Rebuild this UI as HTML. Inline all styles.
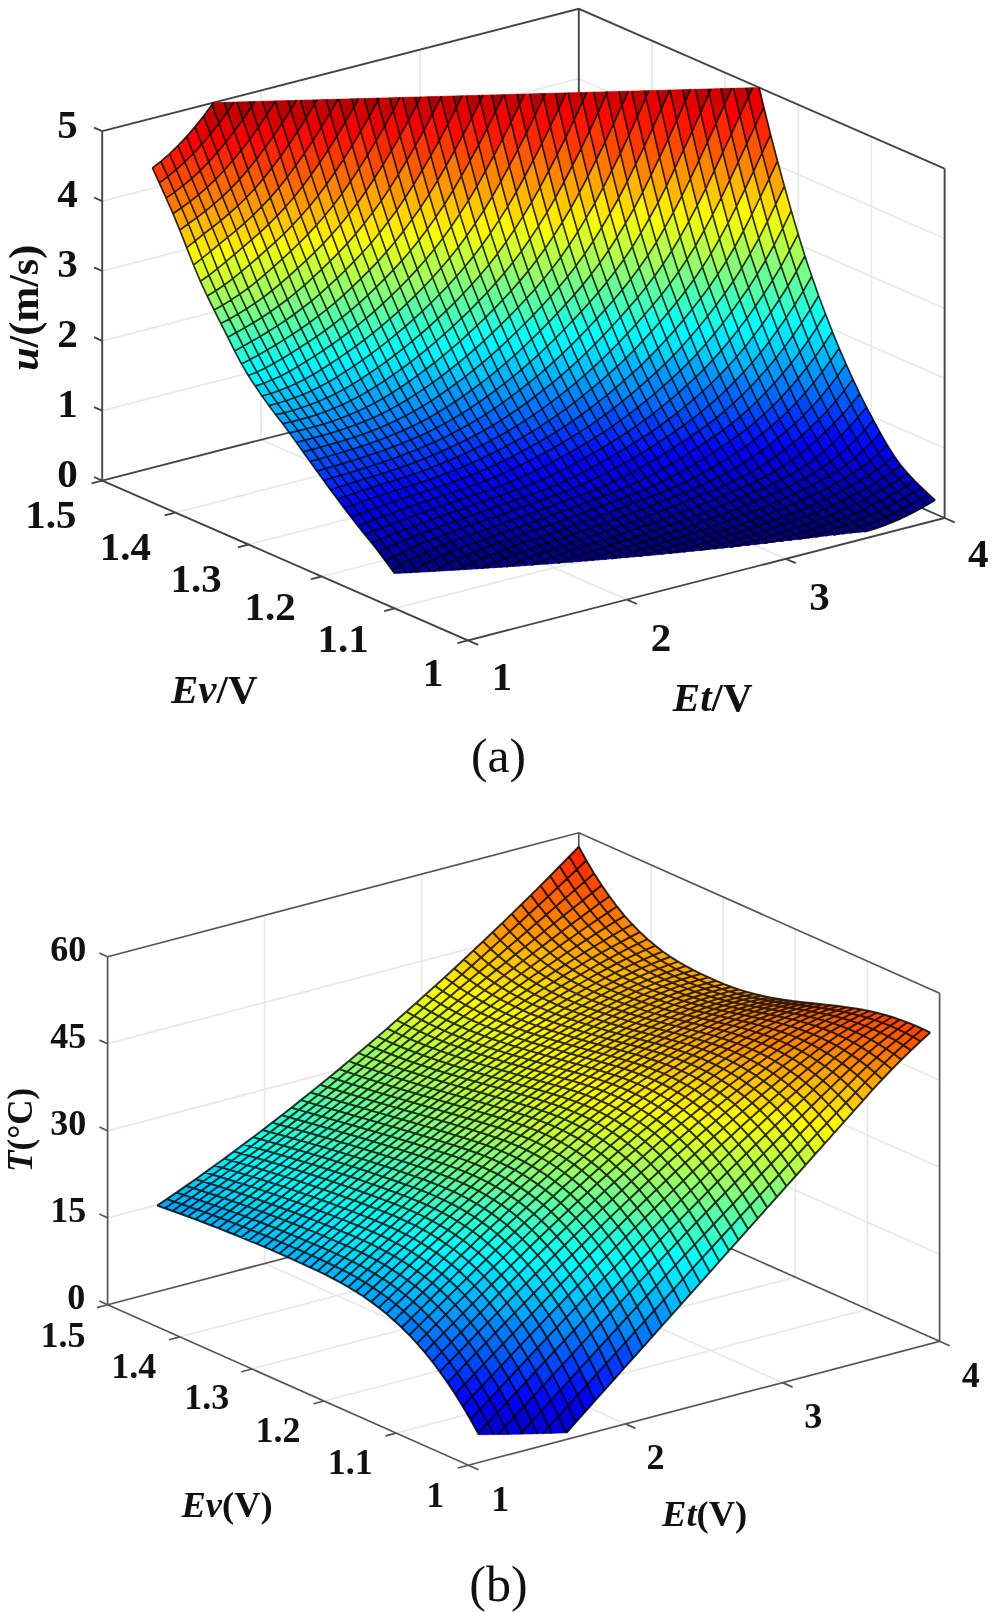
<!DOCTYPE html>
<html lang="en">
<head>
<meta charset="utf-8">
<title>Surface plots of u and T versus Ev and Et</title>
<style>
html,body{margin:0;padding:0;background:#fff;}
body{width:996px;height:1612px;overflow:hidden;}
svg{display:block;filter:blur(0.55px);}
</style>
</head>
<body>
<svg width="996" height="1612" viewBox="0 0 996 1612">
<rect width="996" height="1612" fill="#fff"/>
<g id="plot-a">
<g stroke="#e9e9e9" stroke-width="1.8">
<line x1="626.9" y1="599.6" x2="261.1" y2="439.8" />
<line x1="261.1" y1="439.8" x2="261.1" y2="90.4" />
<line x1="785.7" y1="558.8" x2="419.9" y2="399" />
<line x1="419.9" y1="399" x2="419.9" y2="49.6" />
<line x1="394.8" y1="608.4" x2="871.4" y2="486" />
<line x1="871.4" y1="486" x2="871.4" y2="136.6" />
<line x1="321.7" y1="576.5" x2="798.3" y2="454.1" />
<line x1="798.3" y1="454.1" x2="798.3" y2="104.7" />
<line x1="248.5" y1="544.5" x2="725.1" y2="422.1" />
<line x1="725.1" y1="422.1" x2="725.1" y2="72.7" />
<line x1="175.4" y1="512.6" x2="652" y2="390.2" />
<line x1="652" y1="390.2" x2="652" y2="40.8" />
<line x1="102.2" y1="410.7" x2="578.8" y2="288.3" />
<line x1="578.8" y1="288.3" x2="944.6" y2="448.1" />
<line x1="102.2" y1="340.8" x2="578.8" y2="218.4" />
<line x1="578.8" y1="218.4" x2="944.6" y2="378.2" />
<line x1="102.2" y1="271" x2="578.8" y2="148.6" />
<line x1="578.8" y1="148.6" x2="944.6" y2="308.4" />
<line x1="102.2" y1="201.1" x2="578.8" y2="78.7" />
<line x1="578.8" y1="78.7" x2="944.6" y2="238.5" />
</g>
<g stroke="#444" stroke-width="1.9" stroke-linecap="butt" stroke-linejoin="miter">
<polyline fill="none" points="102.2,131.2 578.8,8.8 944.6,168.6"/>
<polyline fill="none" points="102.2,480.6 578.8,358.2 944.6,518"/>
<line x1="578.8" y1="358.2" x2="578.8" y2="8.8" />
</g>
<g stroke-width="0.6" stroke-linejoin="round">
<path fill="#000087" stroke="#000087" d="M397.6 573.3L396.1 571.2L393.9 572.6L394.6 573.5zM393.9 572.6L396.1 571.2L394.3 568.9L392.2 570.2zM400.6 573.2L399.9 572.2L398.2 573.3zM398.2 573.3L399.9 572.2L398.2 569.9L396.1 571.2L397.6 573.3zM396.1 571.2L398.2 569.9L396.5 567.6L394.3 568.9zM403.7 573L402 570.9L399.9 572.2L400.6 573.2zM399.9 572.2L402 570.9L400.3 568.6L398.2 569.9zM398.2 569.9L400.3 568.6L398.6 566.3L396.5 567.6zM406.7 572.9L405.9 571.8L404 573zM404 573L405.9 571.8L404.2 569.6L402 570.9L403.7 573zM402 570.9L404.2 569.6L402.5 567.3L400.3 568.6zM400.3 568.6L402.5 567.3L400.7 565.1L398.6 566.3zM392.2 570.2L400.7 565.1L393.9 556.2L385.4 560.9zM412.7 572.6L411.9 571.4L409.8 572.7zM415.7 572.4L415.7 572.3L415.6 572.4zM415.6 572.4L415.7 572.3L414 570.2L411.9 571.4L412.7 572.6zM418.8 572.2L417.8 571.1L415.7 572.3L415.7 572.4zM415.7 572.3L417.8 571.1L416.1 568.9L414 570.2zM409.7 572.7L408 570.5L405.9 571.8L406.7 572.9zM405.9 571.8L408 570.5L406.3 568.3L404.2 569.6zM404.2 569.6L406.3 568.3L404.6 566L402.5 567.3zM402.5 567.3L404.6 566L402.9 563.8L400.7 565.1zM409.8 572.7L411.9 571.4L410.1 569.2L408 570.5L409.7 572.7zM408 570.5L410.1 569.2L408.4 567L406.3 568.3zM406.3 568.3L408.4 567L406.7 564.8L404.6 566zM404.6 566L406.7 564.8L405 562.6L402.9 563.8zM411.9 571.4L414 570.2L412.3 568L410.1 569.2zM410.1 569.2L412.3 568L410.6 565.8L408.4 567zM408.4 567L410.6 565.8L408.8 563.6L406.7 564.8zM406.7 564.8L408.8 563.6L407.1 561.5L405 562.6zM414 570.2L416.1 568.9L414.4 566.8L412.3 568zM412.3 568L414.4 566.8L412.7 564.6L410.6 565.8zM410.6 565.8L412.7 564.6L411 562.5L408.8 563.6zM408.8 563.6L411 562.5L409.3 560.3L407.1 561.5zM400.7 565.1L409.3 560.3L402.4 551.9L393.9 556.2zM421.8 572.1L421.7 572L421.5 572.1zM421.5 572.1L421.7 572L420 569.8L417.8 571.1L418.8 572.2zM417.8 571.1L420 569.8L418.3 567.7L416.1 568.9zM424.8 571.9L423.8 570.7L421.7 572L421.8 572.1zM421.7 572L423.8 570.7L422.1 568.6L420 569.8zM420 569.8L422.1 568.6L420.4 566.5L418.3 567.7zM427.8 571.7L427.7 571.6L427.4 571.8zM427.4 571.8L427.7 571.6L425.9 569.5L423.8 570.7L424.8 571.9zM423.8 570.7L425.9 569.5L424.2 567.4L422.1 568.6zM422.1 568.6L424.2 567.4L422.5 565.3L420.4 566.5zM430.8 571.6L429.8 570.4L427.7 571.6L427.8 571.7zM427.7 571.6L429.8 570.4L428.1 568.3L425.9 569.5zM425.9 569.5L428.1 568.3L426.4 566.2L424.2 567.4zM424.2 567.4L426.4 566.2L424.6 564.2L422.5 565.3zM416.1 568.9L424.6 564.2L417.8 556L409.3 560.3zM433.8 571.4L433.6 571.2L433.3 571.4zM436.8 571.2L435.8 570L433.6 571.2L433.8 571.4zM439.8 571.1L439.6 570.9L439.2 571.1zM439.2 571.1L439.6 570.9L437.9 568.9L435.8 570L436.8 571.2zM442.7 570.9L441.7 569.7L439.6 570.9L439.8 571.1zM439.6 570.9L441.7 569.7L440 567.7L437.9 568.9zM433.3 571.4L433.6 571.2L431.9 569.2L429.8 570.4L430.8 571.6zM429.8 570.4L431.9 569.2L430.2 567.1L428.1 568.3zM428.1 568.3L430.2 567.1L428.5 565.1L426.4 566.2zM426.4 566.2L428.5 565.1L426.8 563.1L424.6 564.2zM433.6 571.2L435.8 570L434.1 568L431.9 569.2zM431.9 569.2L434.1 568L432.3 566L430.2 567.1zM430.2 567.1L432.3 566L430.6 564L428.5 565.1zM428.5 565.1L430.6 564L428.9 562L426.8 563.1zM435.8 570L437.9 568.9L436.2 566.9L434.1 568zM434.1 568L436.2 566.9L434.5 564.9L432.3 566zM432.3 566L434.5 564.9L432.8 562.9L430.6 564zM430.6 564L432.8 562.9L431 560.9L428.9 562zM437.9 568.9L440 567.7L438.3 565.8L436.2 566.9zM436.2 566.9L438.3 565.8L436.6 563.8L434.5 564.9zM434.5 564.9L436.6 563.8L434.9 561.8L432.8 562.9zM432.8 562.9L434.9 561.8L433.2 559.8L431 560.9zM424.6 564.2L433.2 559.8L426.3 552L417.8 556zM445.7 570.7L445.6 570.5L445.2 570.7zM445.2 570.7L445.6 570.5L443.9 568.6L441.7 569.7L442.7 570.9zM441.7 569.7L443.9 568.6L442.2 566.6L440 567.7zM448.7 570.5L447.7 569.4L445.6 570.5L445.7 570.7zM445.6 570.5L447.7 569.4L446 567.5L443.9 568.6zM443.9 568.6L446 567.5L444.3 565.5L442.2 566.6zM451.7 570.4L451.6 570.2L451.2 570.4zM451.2 570.4L451.6 570.2L449.8 568.3L447.7 569.4L448.7 570.5zM447.7 569.4L449.8 568.3L448.1 566.4L446 567.5zM446 567.5L448.1 566.4L446.4 564.4L444.3 565.5zM454.7 570.2L453.7 569.1L451.6 570.2L451.7 570.4zM451.6 570.2L453.7 569.1L452 567.2L449.8 568.3zM449.8 568.3L452 567.2L450.3 565.3L448.1 566.4zM448.1 566.4L450.3 565.3L448.6 563.4L446.4 564.4zM440 567.7L448.6 563.4L441.7 555.8L433.2 559.8zM457.7 570L457.5 569.8L457.2 570zM460.6 569.8L459.7 568.8L457.5 569.8L457.7 570zM463.6 569.7L463.5 569.5L463.2 569.7zM463.2 569.7L463.5 569.5L461.8 567.7L459.7 568.8L460.6 569.8zM466.6 569.5L465.6 568.5L463.5 569.5L463.6 569.7zM463.5 569.5L465.6 568.5L463.9 566.6L461.8 567.7zM457.2 570L457.5 569.8L455.8 568L453.7 569.1L454.7 570.2zM453.7 569.1L455.8 568L454.1 566.1L452 567.2zM452 567.2L454.1 566.1L452.4 564.2L450.3 565.3zM450.3 565.3L452.4 564.2L450.7 562.4L448.6 563.4zM457.5 569.8L459.7 568.8L458 566.9L455.8 568zM455.8 568L458 566.9L456.2 565.1L454.1 566.1zM454.1 566.1L456.2 565.1L454.5 563.2L452.4 564.2zM452.4 564.2L454.5 563.2L452.8 561.3L450.7 562.4zM459.7 568.8L461.8 567.7L460.1 565.9L458 566.9zM458 566.9L460.1 565.9L458.4 564L456.2 565.1zM456.2 565.1L458.4 564L456.7 562.2L454.5 563.2zM454.5 563.2L456.7 562.2L455 560.4L452.8 561.3zM461.8 567.7L463.9 566.6L462.2 564.8L460.1 565.9zM460.1 565.9L462.2 564.8L460.5 563L458.4 564zM458.4 564L460.5 563L458.8 561.2L456.7 562.2zM456.7 562.2L458.8 561.2L457.1 559.4L455 560.4zM448.6 563.4L457.1 559.4L450.2 552.1L441.7 555.8zM469.6 569.3L469.5 569.2L469.3 569.3zM469.3 569.3L469.5 569.2L467.8 567.4L465.6 568.5L466.6 569.5zM465.6 568.5L467.8 567.4L466.1 565.6L463.9 566.6zM472.5 569.1L471.6 568.2L469.5 569.2L469.6 569.3zM469.5 569.2L471.6 568.2L469.9 566.4L467.8 567.4zM467.8 567.4L469.9 566.4L468.2 564.6L466.1 565.6zM475.5 568.9L475.5 568.9L475.4 568.9zM475.4 568.9L475.5 568.9L473.8 567.1L471.6 568.2L472.5 569.1zM471.6 568.2L473.8 567.1L472 565.4L469.9 566.4zM469.9 566.4L472 565.4L470.3 563.6L468.2 564.6zM478.4 568.7L477.6 567.9L475.5 568.9L475.5 568.9zM475.5 568.9L477.6 567.9L475.9 566.1L473.8 567.1zM473.8 567.1L475.9 566.1L474.2 564.4L472 565.4zM472 565.4L474.2 564.4L472.5 562.6L470.3 563.6zM463.9 566.6L472.5 562.6L465.6 555.6L457.1 559.4zM484.3 568.3L483.6 567.6L481.5 568.5zM487.3 568.2L485.7 566.6L483.6 567.6L484.3 568.3zM490.2 567.9L489.6 567.3L487.7 568.1zM487.7 568.1L489.6 567.3L487.8 565.6L485.7 566.6L487.3 568.2zM481.4 568.5L479.7 566.9L477.6 567.9L478.4 568.7zM477.6 567.9L479.7 566.9L478 565.1L475.9 566.1zM475.9 566.1L478 565.1L476.3 563.4L474.2 564.4zM474.2 564.4L476.3 563.4L474.6 561.7L472.5 562.6zM481.5 568.5L483.6 567.6L481.9 565.9L479.7 566.9L481.4 568.5zM479.7 566.9L481.9 565.9L480.2 564.2L478 565.1zM478 565.1L480.2 564.2L478.4 562.5L476.3 563.4zM476.3 563.4L478.4 562.5L476.7 560.7L474.6 561.7zM483.6 567.6L485.7 566.6L484 564.9L481.9 565.9zM481.9 565.9L484 564.9L482.3 563.2L480.2 564.2zM480.2 564.2L482.3 563.2L480.6 561.5L478.4 562.5zM478.4 562.5L480.6 561.5L478.9 559.8L476.7 560.7zM485.7 566.6L487.8 565.6L486.1 564L484 564.9zM484 564.9L486.1 564L484.4 562.3L482.3 563.2zM482.3 563.2L484.4 562.3L482.7 560.6L480.6 561.5zM480.6 561.5L482.7 560.6L481 558.9L478.9 559.8zM472.5 562.6L481 558.9L474.1 552.1L465.6 555.6zM493.2 567.8L491.7 566.3L489.6 567.3L490.2 567.9zM489.6 567.3L491.7 566.3L490 564.7L487.8 565.6zM496.1 567.6L495.5 567L494 567.7zM494 567.7L495.5 567L493.8 565.4L491.7 566.3L493.2 567.8zM491.7 566.3L493.8 565.4L492.1 563.7L490 564.7zM499 567.4L497.7 566.1L495.5 567L496.1 567.6zM495.5 567L497.7 566.1L496 564.4L493.8 565.4zM493.8 565.4L496 564.4L494.2 562.8L492.1 563.7zM502 567.2L501.5 566.7L500.2 567.3zM500.2 567.3L501.5 566.7L499.8 565.1L497.7 566.1L499 567.4zM497.7 566.1L499.8 565.1L498.1 563.5L496 564.4zM496 564.4L498.1 563.5L496.4 561.9L494.2 562.8zM487.8 565.6L496.4 561.9L489.5 555.4L481 558.9zM481 558.9L489.5 555.4L482.7 548.8L474.1 552.1zM507.8 566.8L507.5 566.4L506.5 566.9zM510.7 566.6L509.6 565.5L507.5 566.4L507.8 566.8zM513.7 566.4L513.5 566.1L512.8 566.4zM512.8 566.4L513.5 566.1L511.8 564.6L509.6 565.5L510.7 566.6zM504.9 567L503.6 565.8L501.5 566.7L502 567.2zM501.5 566.7L503.6 565.8L501.9 564.2L499.8 565.1zM499.8 565.1L501.9 564.2L500.2 562.6L498.1 563.5zM498.1 563.5L500.2 562.6L498.5 561L496.4 561.9zM506.5 566.9L507.5 566.4L505.8 564.9L503.6 565.8L504.9 567zM503.6 565.8L505.8 564.9L504.1 563.3L501.9 564.2zM501.9 564.2L504.1 563.3L502.3 561.7L500.2 562.6zM500.2 562.6L502.3 561.7L500.6 560.1L498.5 561zM507.5 566.4L509.6 565.5L507.9 564L505.8 564.9zM505.8 564.9L507.9 564L506.2 562.4L504.1 563.3zM504.1 563.3L506.2 562.4L504.5 560.8L502.3 561.7zM502.3 561.7L504.5 560.8L502.8 559.3L500.6 560.1zM509.6 565.5L511.8 564.6L510 563.1L507.9 564zM507.9 564L510 563.1L508.3 561.5L506.2 562.4zM506.2 562.4L508.3 561.5L506.6 560L504.5 560.8zM504.5 560.8L506.6 560L504.9 558.4L502.8 559.3zM496.4 561.9L504.9 558.4L498 552.1L489.5 555.4zM516.6 566.2L515.6 565.3L513.5 566.1L513.7 566.4zM513.5 566.1L515.6 565.3L513.9 563.7L511.8 564.6zM519.6 566L519.4 565.9L519.1 566zM519.1 566L519.4 565.9L517.7 564.4L515.6 565.3L516.6 566.2zM515.6 565.3L517.7 564.4L516 562.9L513.9 563.7zM522.4 565.7L521.6 565L519.4 565.9L519.6 566zM519.4 565.9L521.6 565L519.9 563.5L517.7 564.4zM517.7 564.4L519.9 563.5L518.1 562L516 562.9zM525.4 565.6L525.4 565.6L525.4 565.6zM525.4 565.6L525.4 565.6L523.7 564.1L521.6 565L522.4 565.7zM521.6 565L523.7 564.1L522 562.6L519.9 563.5zM519.9 563.5L522 562.6L520.3 561.2L518.1 562zM511.8 564.6L520.3 561.2L513.4 555.1L504.9 558.4zM504.9 558.4L513.4 555.1L506.6 548.9L498 552.1zM534 564.9L533.5 564.4L531.9 565.1zM537 564.7L535.7 563.6L533.5 564.4L534 564.9zM528.2 565.3L527.5 564.7L525.4 565.6L525.4 565.6zM525.4 565.6L527.5 564.7L525.8 563.3L523.7 564.1zM523.7 564.1L525.8 563.3L524.1 561.8L522 562.6zM522 562.6L524.1 561.8L522.4 560.3L520.3 561.2zM531.2 565.2L529.7 563.9L527.5 564.7L528.2 565.3zM527.5 564.7L529.7 563.9L528 562.4L525.8 563.3zM525.8 563.3L528 562.4L526.3 561L524.1 561.8zM524.1 561.8L526.3 561L524.5 559.5L522.4 560.3zM531.9 565.1L533.5 564.4L531.8 563L529.7 563.9L531.2 565.2zM529.7 563.9L531.8 563L530.1 561.6L528 562.4zM528 562.4L530.1 561.6L528.4 560.1L526.3 561zM526.3 561L528.4 560.1L526.7 558.7L524.5 559.5zM533.5 564.4L535.7 563.6L533.9 562.2L531.8 563zM531.8 563L533.9 562.2L532.2 560.8L530.1 561.6zM530.1 561.6L532.2 560.8L530.5 559.3L528.4 560.1zM528.4 560.1L530.5 559.3L528.8 557.8L526.7 558.7zM520.3 561.2L528.8 557.8L522 551.9L513.4 555.1zM513.4 555.1L522 551.9L515.1 545.8L506.6 548.9zM539.8 564.5L539.5 564.2L538.4 564.6zM538.4 564.6L539.5 564.2L537.8 562.8L535.7 563.6L537 564.7zM542.7 564.3L541.6 563.3L539.5 564.2L539.8 564.5zM539.5 564.2L541.6 563.3L539.9 562L537.8 562.8zM545.7 564.1L545.5 563.9L544.9 564.2zM544.9 564.2L545.5 563.9L543.8 562.5L541.6 563.3L542.7 564.3zM541.6 563.3L543.8 562.5L542.1 561.2L539.9 562zM548.5 563.8L547.6 563.1L545.5 563.9L545.7 564.1zM545.5 563.9L547.6 563.1L545.9 561.7L543.8 562.5zM543.8 562.5L545.9 561.7L544.2 560.3L542.1 561.2zM535.7 563.6L544.2 560.3L537.3 554.7L528.8 557.8zM528.8 557.8L537.3 554.7L530.5 548.8L522 551.9zM560 563L559.6 562.6L557.9 563.2zM551.5 563.7L551.5 563.6L551.3 563.7zM551.3 563.7L551.5 563.6L549.7 562.3L547.6 563.1L548.5 563.8zM547.6 563.1L549.7 562.3L548 560.9L545.9 561.7zM545.9 561.7L548 560.9L546.3 559.6L544.2 560.3zM554.2 563.4L553.6 562.8L551.5 563.6L551.5 563.7zM551.5 563.6L553.6 562.8L551.9 561.5L549.7 562.3zM549.7 562.3L551.9 561.5L550.2 560.1L548 560.9zM548 560.9L550.2 560.1L548.4 558.8L546.3 559.6zM557.3 563.2L555.7 562L553.6 562.8L554.2 563.4zM553.6 562.8L555.7 562L554 560.7L551.9 561.5zM551.9 561.5L554 560.7L552.3 559.4L550.2 560.1zM550.2 560.1L552.3 559.4L550.6 558L548.4 558.8zM557.9 563.2L559.6 562.6L557.9 561.3L555.7 562L557.3 563.2zM555.7 562L557.9 561.3L556.1 559.9L554 560.7zM554 560.7L556.1 559.9L554.4 558.6L552.3 559.4zM552.3 559.4L554.4 558.6L552.7 557.2L550.6 558zM544.2 560.3L552.7 557.2L545.9 551.6L537.3 554.7zM537.3 554.7L545.9 551.6L539 545.8L530.5 548.8zM562.9 562.7L561.7 561.8L559.6 562.6L560 563zM565.8 562.5L565.5 562.3L564.6 562.6zM564.6 562.6L565.5 562.3L563.8 561L561.7 561.8L562.9 562.7zM568.6 562.3L567.7 561.5L565.5 562.3L565.8 562.5zM565.5 562.3L567.7 561.5L566 560.2L563.8 561zM571.6 562.1L571.5 562L571.2 562.1zM571.2 562.1L571.5 562L569.8 560.8L567.7 561.5L568.6 562.3zM567.7 561.5L569.8 560.8L568.1 559.5L566 560.2zM559.6 562.6L568.1 559.5L561.2 554.2L552.7 557.2zM552.7 557.2L561.2 554.2L554.4 548.6L545.9 551.6zM545.9 551.6L554.4 548.6L547.5 542.9L539 545.8zM574.3 561.8L573.7 561.3L571.5 562L571.6 562.1zM571.5 562L573.7 561.3L571.9 560L569.8 560.8zM569.8 560.8L571.9 560L570.2 558.7L568.1 559.5zM577.4 561.7L575.8 560.5L573.7 561.3L574.3 561.8zM573.7 561.3L575.8 560.5L574.1 559.3L571.9 560zM571.9 560L574.1 559.3L572.4 558L570.2 558.7zM580.1 561.4L579.6 561L577.8 561.6zM577.8 561.6L579.6 561L577.9 559.8L575.8 560.5L577.4 561.7zM575.8 560.5L577.9 559.8L576.2 558.5L574.1 559.3zM574.1 559.3L576.2 558.5L574.5 557.2L572.4 558zM583 561.1L581.8 560.3L579.6 561L580.1 561.4zM579.6 561L581.8 560.3L580 559L577.9 559.8zM577.9 559.8L580 559L578.3 557.8L576.2 558.5zM576.2 558.5L578.3 557.8L576.6 556.5L574.5 557.2zM568.1 559.5L576.6 556.5L569.8 551.2L561.2 554.2zM561.2 554.2L569.8 551.2L562.9 545.7L554.4 548.6zM585.8 560.9L585.6 560.7L584.8 561zM588.6 560.7L587.7 560L585.6 560.7L585.8 560.9zM591.7 560.5L591.6 560.4L591.4 560.5zM591.4 560.5L591.6 560.4L589.9 559.3L587.7 560L588.6 560.7zM594.3 560.2L593.7 559.7L591.6 560.4L591.7 560.5zM591.6 560.4L593.7 559.7L592 558.5L589.9 559.3zM584.8 561L585.6 560.7L583.9 559.5L581.8 560.3L583 561.1zM581.8 560.3L583.9 559.5L582.2 558.3L580 559zM580 559L582.2 558.3L580.5 557L578.3 557.8zM578.3 557.8L580.5 557L578.8 555.8L576.6 556.5zM585.6 560.7L587.7 560L586 558.8L583.9 559.5zM583.9 559.5L586 558.8L584.3 557.6L582.2 558.3zM582.2 558.3L584.3 557.6L582.6 556.3L580.5 557zM580.5 557L582.6 556.3L580.9 555.1L578.8 555.8zM587.7 560L589.9 559.3L588.2 558.1L586 558.8zM586 558.8L588.2 558.1L586.4 556.8L584.3 557.6zM584.3 557.6L586.4 556.8L584.7 555.6L582.6 556.3zM582.6 556.3L584.7 555.6L583 554.3L580.9 555.1zM589.9 559.3L592 558.5L590.3 557.3L588.2 558.1zM588.2 558.1L590.3 557.3L588.6 556.1L586.4 556.8zM586.4 556.8L588.6 556.1L586.9 554.9L584.7 555.6zM584.7 555.6L586.9 554.9L585.1 553.6L583 554.3zM576.6 556.5L585.1 553.6L578.3 548.4L569.8 551.2zM569.8 551.2L578.3 548.4L571.4 542.8L562.9 545.7zM597.3 560L595.8 559L593.7 559.7L594.3 560.2zM593.7 559.7L595.8 559L594.1 557.8L592 558.5zM600 559.7L599.7 559.5L598.3 559.9zM598.3 559.9L599.7 559.5L598 558.3L595.8 559L597.3 560zM595.8 559L598 558.3L596.3 557.1L594.1 557.8zM602.8 559.5L601.8 558.8L599.7 559.5L600 559.7zM599.7 559.5L601.8 558.8L600.1 557.6L598 558.3zM598 558.3L600.1 557.6L598.4 556.4L596.3 557.1zM605.8 559.3L605.7 559.2L605.2 559.4zM605.2 559.4L605.7 559.2L604 558L601.8 558.8L602.8 559.5zM601.8 558.8L604 558L602.2 556.9L600.1 557.6zM600.1 557.6L602.2 556.9L600.5 555.7L598.4 556.4zM592 558.5L600.5 555.7L593.7 550.8L585.1 553.6zM585.1 553.6L593.7 550.8L586.8 545.5L578.3 548.4zM578.3 548.4L586.8 545.5L580 540L571.4 542.8zM614.1 558.5L613.8 558.2L612 558.8zM617 558.3L615.9 557.5L613.8 558.2L614.1 558.5zM608.4 559L607.8 558.5L605.7 559.2L605.8 559.3zM605.7 559.2L607.8 558.5L606.1 557.4L604 558zM604 558L606.1 557.4L604.4 556.2L602.2 556.9zM602.2 556.9L604.4 556.2L602.7 555L600.5 555.7zM611.5 558.8L609.9 557.8L607.8 558.5L608.4 559zM607.8 558.5L609.9 557.8L608.2 556.7L606.1 557.4zM606.1 557.4L608.2 556.7L606.5 555.5L604.4 556.2zM604.4 556.2L606.5 555.5L604.8 554.3L602.7 555zM612 558.8L613.8 558.2L612.1 557.1L609.9 557.8L611.5 558.8zM609.9 557.8L612.1 557.1L610.4 556L608.2 556.7zM608.2 556.7L610.4 556L608.6 554.8L606.5 555.5zM606.5 555.5L608.6 554.8L606.9 553.6L604.8 554.3zM613.8 558.2L615.9 557.5L614.2 556.4L612.1 557.1zM612.1 557.1L614.2 556.4L612.5 555.3L610.4 556zM610.4 556L612.5 555.3L610.8 554.1L608.6 554.8zM608.6 554.8L610.8 554.1L609.1 552.9L606.9 553.6zM600.5 555.7L609.1 552.9L602.2 548L593.7 550.8zM593.7 550.8L602.2 548L595.4 542.7L586.8 545.5zM619.9 558.1L619.8 557.9L619.2 558.1zM619.2 558.1L619.8 557.9L618 556.8L615.9 557.5L617 558.3zM622.5 557.7L621.9 557.3L619.8 557.9L619.9 558.1zM619.8 557.9L621.9 557.3L620.2 556.2L618 556.8zM625.7 557.6L624 556.6L621.9 557.3L622.5 557.7zM621.9 557.3L624 556.6L622.3 555.5L620.2 556.2zM628.2 557.3L627.9 557L625.9 557.6zM625.9 557.6L627.9 557L626.1 555.9L624 556.6L625.7 557.6zM624 556.6L626.1 555.9L624.4 554.8L622.3 555.5zM615.9 557.5L624.4 554.8L617.6 550.2L609.1 552.9zM609.1 552.9L617.6 550.2L610.7 545.2L602.2 548zM602.2 548L610.7 545.2L603.9 539.8L595.4 542.7zM631 557L630 556.3L627.9 557L628.2 557.3zM627.9 557L630 556.3L628.3 555.2L626.1 555.9zM626.1 555.9L628.3 555.2L626.6 554.1L624.4 554.8zM634 556.8L633.8 556.7L633.3 556.9zM633.3 556.9L633.8 556.7L632.1 555.7L630 556.3L631 557zM630 556.3L632.1 555.7L630.4 554.6L628.3 555.2zM628.3 555.2L630.4 554.6L628.7 553.5L626.6 554.1zM636.6 556.5L636 556L633.8 556.7L634 556.8zM633.8 556.7L636 556L634.3 555L632.1 555.7zM632.1 555.7L634.3 555L632.5 553.9L630.4 554.6zM630.4 554.6L632.5 553.9L630.8 552.8L628.7 553.5zM639.7 556.3L638.1 555.4L636 556L636.6 556.5zM636 556L638.1 555.4L636.4 554.3L634.3 555zM634.3 555L636.4 554.3L634.7 553.2L632.5 553.9zM632.5 553.9L634.7 553.2L633 552.1L630.8 552.8zM624.4 554.8L633 552.1L626.1 547.4L617.6 550.2zM617.6 550.2L626.1 547.4L619.3 542.4L610.7 545.2zM610.7 545.2L619.3 542.4L612.4 537L603.9 539.8zM642.2 556L641.9 555.8L640.2 556.3zM645 555.7L644.1 555.1L641.9 555.8L642.2 556zM648 555.6L647.9 555.5L647.6 555.6zM647.6 555.6L647.9 555.5L646.2 554.5L644.1 555.1L645 555.7zM650.5 555.2L650.1 554.8L647.9 555.5L648 555.6zM647.9 555.5L650.1 554.8L648.3 553.8L646.2 554.5zM640.2 556.3L641.9 555.8L640.2 554.7L638.1 555.4L639.7 556.3zM638.1 555.4L640.2 554.7L638.5 553.7L636.4 554.3zM636.4 554.3L638.5 553.7L636.8 552.6L634.7 553.2zM634.7 553.2L636.8 552.6L635.1 551.5L633 552.1zM641.9 555.8L644.1 555.1L642.4 554.1L640.2 554.7zM640.2 554.7L642.4 554.1L640.7 553L638.5 553.7zM638.5 553.7L640.7 553L638.9 551.9L636.8 552.6zM636.8 552.6L638.9 551.9L637.2 550.8L635.1 551.5zM644.1 555.1L646.2 554.5L644.5 553.4L642.4 554.1zM642.4 554.1L644.5 553.4L642.8 552.4L640.7 553zM640.7 553L642.8 552.4L641.1 551.3L638.9 551.9zM638.9 551.9L641.1 551.3L639.4 550.1L637.2 550.8zM646.2 554.5L648.3 553.8L646.6 552.8L644.5 553.4zM644.5 553.4L646.6 552.8L644.9 551.7L642.8 552.4zM642.8 552.4L644.9 551.7L643.2 550.6L641.1 551.3zM641.1 551.3L643.2 550.6L641.5 549.5L639.4 550.1zM633 552.1L641.5 549.5L634.6 544.7L626.1 547.4zM626.1 547.4L634.6 544.7L627.8 539.6L619.3 542.4zM619.3 542.4L627.8 539.6L620.9 534.1L612.4 537zM653.5 555L652.2 554.2L650.1 554.8L650.5 555.2zM650.1 554.8L652.2 554.2L650.5 553.2L648.3 553.8zM656.2 554.7L656 554.6L655 554.9zM655 554.9L656 554.6L654.3 553.6L652.2 554.2L653.5 555zM652.2 554.2L654.3 553.6L652.6 552.5L650.5 553.2zM658.8 554.4L658.2 553.9L656 554.6L656.2 554.7zM656 554.6L658.2 553.9L656.5 552.9L654.3 553.6zM654.3 553.6L656.5 552.9L654.7 551.9L652.6 552.5zM662 554.3L662 554.3L661.9 554.3zM661.9 554.3L662 554.3L660.3 553.3L658.2 553.9L658.8 554.4zM658.2 553.9L660.3 553.3L658.6 552.3L656.5 552.9zM656.5 552.9L658.6 552.3L656.9 551.2L654.7 551.9zM648.3 553.8L656.9 551.2L650 546.8L641.5 549.5zM641.5 549.5L650 546.8L643.2 542L634.6 544.7zM634.6 544.7L643.2 542L636.3 536.7L627.8 539.6zM670.2 553.4L670.1 553.3L669.7 553.5zM672.7 553L672.3 552.7L670.1 553.3L670.2 553.4zM664.5 553.9L664.1 553.6L662 554.3L662 554.3zM662 554.3L664.1 553.6L662.4 552.7L660.3 553.3zM660.3 553.3L662.4 552.7L660.7 551.6L658.6 552.3zM658.6 552.3L660.7 551.6L659 550.6L656.9 551.2zM667.2 553.6L666.3 553L664.1 553.6L664.5 553.9zM664.1 553.6L666.3 553L664.6 552L662.4 552.7zM662.4 552.7L664.6 552L662.8 551L660.7 551.6zM660.7 551.6L662.8 551L661.1 550L659 550.6zM669.7 553.5L670.1 553.3L668.4 552.4L666.3 553L667.2 553.6zM666.3 553L668.4 552.4L666.7 551.4L664.6 552zM664.6 552L666.7 551.4L665 550.4L662.8 551zM662.8 551L665 550.4L663.3 549.3L661.1 550zM670.1 553.3L672.3 552.7L670.5 551.8L668.4 552.4zM668.4 552.4L670.5 551.8L668.8 550.8L666.7 551.4zM666.7 551.4L668.8 550.8L667.1 549.7L665 550.4zM665 550.4L667.1 549.7L665.4 548.7L663.3 549.3zM656.9 551.2L665.4 548.7L658.5 544.1L650 546.8zM650 546.8L658.5 544.1L651.7 539.2L643.2 542zM643.2 542L651.7 539.2L644.8 533.9L636.3 536.7zM675.7 552.9L674.4 552.1L672.3 552.7L672.7 553zM678.4 552.6L678.2 552.4L677.2 552.8zM677.2 552.8L678.2 552.4L676.5 551.5L674.4 552.1L675.7 552.9zM680.9 552.2L680.4 551.8L678.2 552.4L678.4 552.6zM678.2 552.4L680.4 551.8L678.6 550.9L676.5 551.5zM684.2 552.1L684.2 552.1L684.2 552.1zM684.2 552.1L684.2 552.1L682.5 551.2L680.4 551.8L680.9 552.2zM680.4 551.8L682.5 551.2L680.8 550.2L678.6 550.9zM672.3 552.7L680.8 550.2L673.9 546.1L665.4 548.7zM665.4 548.7L673.9 546.1L667.1 541.4L658.5 544.1zM658.5 544.1L667.1 541.4L660.2 536.4L651.7 539.2zM651.7 539.2L660.2 536.4L653.4 530.9L644.8 533.9zM686.6 551.7L686.3 551.5L684.2 552.1L684.2 552.1zM684.2 552.1L686.3 551.5L684.6 550.6L682.5 551.2zM682.5 551.2L684.6 550.6L682.9 549.6L680.8 550.2zM689.2 551.4L688.5 550.9L686.3 551.5L686.6 551.7zM686.3 551.5L688.5 550.9L686.8 550L684.6 550.6zM684.6 550.6L686.8 550L685 549L682.9 549.6zM692.4 551.3L692.3 551.2L692.1 551.3zM692.1 551.3L692.3 551.2L690.6 550.3L688.5 550.9L689.2 551.4zM688.5 550.9L690.6 550.3L688.9 549.4L686.8 550zM686.8 550L688.9 549.4L687.2 548.4L685 549zM694.7 550.8L694.4 550.6L692.3 551.2L692.4 551.3zM692.3 551.2L694.4 550.6L692.7 549.7L690.6 550.3zM690.6 550.3L692.7 549.7L691 548.7L688.9 549.4zM688.9 549.4L691 548.7L689.3 547.7L687.2 548.4zM680.8 550.2L689.3 547.7L682.5 543.4L673.9 546.1zM673.9 546.1L682.5 543.4L675.6 538.7L667.1 541.4zM667.1 541.4L675.6 538.7L668.8 533.5L660.2 536.4zM660.2 536.4L668.8 533.5L661.9 528L653.4 530.9zM700.5 550.4L700.4 550.3L700 550.5zM702.9 550L702.6 549.7L700.4 550.3L700.5 550.4zM705.8 549.8L704.7 549.1L702.6 549.7L702.9 550zM697.5 550.6L696.6 550L694.4 550.6L694.7 550.8zM694.4 550.6L696.6 550L694.9 549.1L692.7 549.7zM692.7 549.7L694.9 549.1L693.2 548.1L691 548.7zM691 548.7L693.2 548.1L691.4 547.1L689.3 547.7zM700 550.5L700.4 550.3L698.7 549.4L696.6 550L697.5 550.6zM696.6 550L698.7 549.4L697 548.5L694.9 549.1zM694.9 549.1L697 548.5L695.3 547.5L693.2 548.1zM693.2 548.1L695.3 547.5L693.6 546.5L691.4 547.1zM700.4 550.3L702.6 549.7L700.8 548.8L698.7 549.4zM698.7 549.4L700.8 548.8L699.1 547.9L697 548.5zM697 548.5L699.1 547.9L697.4 546.9L695.3 547.5zM695.3 547.5L697.4 546.9L695.7 545.8L693.6 546.5zM702.6 549.7L704.7 549.1L703 548.2L700.8 548.8zM700.8 548.8L703 548.2L701.3 547.2L699.1 547.9zM699.1 547.9L701.3 547.2L699.5 546.2L697.4 546.9zM697.4 546.9L699.5 546.2L697.8 545.2L695.7 545.8zM689.3 547.7L697.8 545.2L691 540.8L682.5 543.4zM682.5 543.4L691 540.8L684.1 535.9L675.6 538.7zM675.6 538.7L684.1 535.9L677.3 530.6L668.8 533.5zM708.6 549.5L708.5 549.4L707.8 549.6zM707.8 549.6L708.5 549.4L706.8 548.5L704.7 549.1L705.8 549.8zM711.1 549.1L710.7 548.8L708.5 549.4L708.6 549.5zM708.5 549.4L710.7 548.8L709 547.9L706.8 548.5zM714.2 549L712.8 548.2L710.7 548.8L711.1 549.1zM710.7 548.8L712.8 548.2L711.1 547.3L709 547.9zM716.8 548.6L716.6 548.5L715.5 548.9zM715.5 548.9L716.6 548.5L714.9 547.6L712.8 548.2L714.2 549zM712.8 548.2L714.9 547.6L713.2 546.7L711.1 547.3zM704.7 549.1L713.2 546.7L706.4 542.6L697.8 545.2zM697.8 545.2L706.4 542.6L699.5 538.1L691 540.8zM691 540.8L699.5 538.1L692.7 533.1L684.1 535.9zM684.1 535.9L692.7 533.1L685.8 527.7L677.3 530.6zM719.2 548.2L718.8 547.9L716.6 548.5L716.8 548.6zM716.6 548.5L718.8 547.9L717.1 547L714.9 547.6zM714.9 547.6L717.1 547L715.3 546.1L713.2 546.7zM722.5 548.2L720.9 547.3L718.8 547.9L719.2 548.2zM718.8 547.9L720.9 547.3L719.2 546.4L717.1 547zM717.1 547L719.2 546.4L717.5 545.5L715.3 546.1zM724.9 547.7L724.8 547.6L722.9 548.1zM722.9 548.1L724.8 547.6L723 546.7L720.9 547.3L722.5 548.2zM720.9 547.3L723 546.7L721.3 545.8L719.2 546.4zM719.2 546.4L721.3 545.8L719.6 544.9L717.5 545.5zM727.3 547.3L726.9 547L724.8 547.6L724.9 547.7zM724.8 547.6L726.9 547L725.2 546.1L723 546.7zM723 546.7L725.2 546.1L723.5 545.2L721.3 545.8zM721.3 545.8L723.5 545.2L721.7 544.3L719.6 544.9zM713.2 546.7L721.7 544.3L714.9 540L706.4 542.6zM706.4 542.6L714.9 540L708 535.3L699.5 538.1zM699.5 538.1L708 535.3L701.2 530.2L692.7 533.1zM692.7 533.1L701.2 530.2L694.3 524.6L685.8 527.7zM730.7 547.3L730.7 547.3L730.7 547.3zM733 546.8L732.9 546.7L730.7 547.3L730.7 547.3zM735.4 546.4L735 546.2L732.9 546.7L733 546.8zM738.8 546.4L738.8 546.4L738.8 546.4zM738.8 546.4L738.8 546.4L737.1 545.6L735 546.2L735.4 546.4zM730.7 547.3L730.7 547.3L729 546.5L726.9 547L727.3 547.3zM726.9 547L729 546.5L727.3 545.5L725.2 546.1zM725.2 546.1L727.3 545.5L725.6 544.6L723.5 545.2zM723.5 545.2L725.6 544.6L723.9 543.6L721.7 544.3zM730.7 547.3L732.9 546.7L731.1 545.9L729 546.5zM729 546.5L731.1 545.9L729.4 544.9L727.3 545.5zM727.3 545.5L729.4 544.9L727.7 544L725.6 544.6zM725.6 544.6L727.7 544L726 543L723.9 543.6zM732.9 546.7L735 546.2L733.3 545.3L731.1 545.9zM731.1 545.9L733.3 545.3L731.6 544.3L729.4 544.9zM729.4 544.9L731.6 544.3L729.9 543.4L727.7 544zM727.7 544L729.9 543.4L728.1 542.4L726 543zM735 546.2L737.1 545.6L735.4 544.7L733.3 545.3zM733.3 545.3L735.4 544.7L733.7 543.7L731.6 544.3zM731.6 544.3L733.7 543.7L732 542.8L729.9 543.4zM729.9 543.4L732 542.8L730.3 541.8L728.1 542.4zM721.7 544.3L730.3 541.8L723.4 537.4L714.9 540zM714.9 540L723.4 537.4L716.6 532.5L708 535.3zM708 535.3L716.6 532.5L709.7 527.2L701.2 530.2zM741.1 545.9L741 545.8L738.8 546.4L738.8 546.4zM738.8 546.4L741 545.8L739.3 545L737.1 545.6zM743.5 545.5L743.1 545.3L741 545.8L741.1 545.9zM741 545.8L743.1 545.3L741.4 544.4L739.3 545zM746.9 545.5L746.9 545.5L746.9 545.5zM746.9 545.5L746.9 545.5L745.2 544.7L743.1 545.3L743.5 545.5zM743.1 545.3L745.2 544.7L743.5 543.8L741.4 544.4zM749.2 545L749.1 545L746.9 545.5L746.9 545.5zM746.9 545.5L749.1 545L747.4 544.1L745.2 544.7zM745.2 544.7L747.4 544.1L745.7 543.2L743.5 543.8zM737.1 545.6L745.7 543.2L738.8 539.2L730.3 541.8zM730.3 541.8L738.8 539.2L731.9 534.7L723.4 537.4zM723.4 537.4L731.9 534.7L725.1 529.7L716.6 532.5zM716.6 532.5L725.1 529.7L718.2 524.2L709.7 527.2zM751.6 544.6L751.2 544.4L749.1 545L749.2 545zM749.1 545L751.2 544.4L749.5 543.5L747.4 544.1zM747.4 544.1L749.5 543.5L747.8 542.6L745.7 543.2zM755 544.6L753.3 543.8L751.2 544.4L751.6 544.6zM751.2 544.4L753.3 543.8L751.6 542.9L749.5 543.5zM749.5 543.5L751.6 542.9L749.9 542L747.8 542.6zM757.3 544.1L757.2 544.1L755.4 544.5zM755.4 544.5L757.2 544.1L755.5 543.2L753.3 543.8L755 544.6zM753.3 543.8L755.5 543.2L753.8 542.3L751.6 542.9zM751.6 542.9L753.8 542.3L752 541.4L749.9 542zM759.7 543.7L759.3 543.5L757.2 544.1L757.3 544.1zM757.2 544.1L759.3 543.5L757.6 542.6L755.5 543.2zM755.5 543.2L757.6 542.6L755.9 541.7L753.8 542.3zM753.8 542.3L755.9 541.7L754.2 540.8L752 541.4zM745.7 543.2L754.2 540.8L747.3 536.6L738.8 539.2zM738.8 539.2L747.3 536.6L740.5 531.9L731.9 534.7zM731.9 534.7L740.5 531.9L733.6 526.7L725.1 529.7zM725.1 529.7L733.6 526.7L726.8 521.2L718.2 524.2zM765.4 543.2L765.3 543.2L764.4 543.4zM767.7 542.8L767.4 542.6L765.3 543.2L765.4 543.2zM770.5 542.5L769.6 542L767.4 542.6L767.7 542.8zM762.8 543.6L761.4 542.9L759.3 543.5L759.7 543.7zM759.3 543.5L761.4 542.9L759.7 542L757.6 542.6zM757.6 542.6L759.7 542L758 541.1L755.9 541.7zM755.9 541.7L758 541.1L756.3 540.1L754.2 540.8zM764.4 543.4L765.3 543.2L763.6 542.3L761.4 542.9L762.8 543.6zM761.4 542.9L763.6 542.3L761.9 541.4L759.7 542zM759.7 542L761.9 541.4L760.2 540.5L758 541.1zM758 541.1L760.2 540.5L758.4 539.5L756.3 540.1zM765.3 543.2L767.4 542.6L765.7 541.7L763.6 542.3zM763.6 542.3L765.7 541.7L764 540.8L761.9 541.4zM761.9 541.4L764 540.8L762.3 539.9L760.2 540.5zM760.2 540.5L762.3 539.9L760.6 538.9L758.4 539.5zM767.4 542.6L769.6 542L767.8 541.1L765.7 541.7zM765.7 541.7L767.8 541.1L766.1 540.2L764 540.8zM764 540.8L766.1 540.2L764.4 539.3L762.3 539.9zM762.3 539.9L764.4 539.3L762.7 538.3L760.6 538.9zM754.2 540.8L762.7 538.3L755.9 533.9L747.3 536.6zM747.3 536.6L755.9 533.9L749 529.1L740.5 531.9zM740.5 531.9L749 529.1L742.2 523.7L733.6 526.7zM773.5 542.3L773.4 542.3L772.9 542.4zM772.9 542.4L773.4 542.3L771.7 541.4L769.6 542L770.5 542.5zM775.8 541.8L775.5 541.7L773.4 542.3L773.5 542.3zM773.4 542.3L775.5 541.7L773.8 540.8L771.7 541.4zM778.4 541.5L777.7 541.1L775.5 541.7L775.8 541.8zM775.5 541.7L777.7 541.1L776 540.2L773.8 540.8zM781.5 541.4L781.5 541.4L781.3 541.5zM781.3 541.5L781.5 541.4L779.8 540.5L777.7 541.1L778.4 541.5zM777.7 541.1L779.8 540.5L778.1 539.7L776 540.2zM769.6 542L778.1 539.7L771.2 535.7L762.7 538.3zM762.7 538.3L771.2 535.7L764.4 531.2L755.9 533.9zM755.9 533.9L764.4 531.2L757.5 526.1L749 529.1zM749 529.1L757.5 526.1L750.7 520.7L742.2 523.7zM783.8 540.9L783.6 540.8L781.5 541.4L781.5 541.4zM781.5 541.4L783.6 540.8L781.9 540L779.8 540.5zM779.8 540.5L781.9 540L780.2 539.1L778.1 539.7zM786.3 540.5L785.8 540.2L783.6 540.8L783.8 540.9zM783.6 540.8L785.8 540.2L784.1 539.4L781.9 540zM781.9 540L784.1 539.4L782.4 538.4L780.2 539.1zM789.6 540.5L789.6 540.5L789.6 540.5zM789.6 540.5L789.6 540.5L787.9 539.7L785.8 540.2L786.3 540.5zM785.8 540.2L787.9 539.7L786.2 538.8L784.1 539.4zM784.1 539.4L786.2 538.8L784.5 537.8L782.4 538.4zM791.9 540L791.8 539.9L789.6 540.5L789.6 540.5zM789.6 540.5L791.8 539.9L790 539.1L787.9 539.7zM787.9 539.7L790 539.1L788.3 538.2L786.2 538.8zM786.2 538.8L788.3 538.2L786.6 537.2L784.5 537.8zM778.1 539.7L786.6 537.2L779.8 533.1L771.2 535.7zM771.2 535.7L779.8 533.1L772.9 528.3L764.4 531.2zM764.4 531.2L772.9 528.3L766.1 523.1L757.5 526.1zM757.5 526.1L766.1 523.1L759.2 517.5L750.7 520.7zM799.9 539.1L799.9 539L798.8 539.3zM802.3 538.6L802 538.5L799.9 539L799.9 539.1zM794.3 539.6L793.9 539.4L791.8 539.9L791.9 540zM791.8 539.9L793.9 539.4L792.2 538.5L790 539.1zM790 539.1L792.2 538.5L790.5 537.6L788.3 538.2zM788.3 538.2L790.5 537.6L788.7 536.6L786.6 537.2zM797.4 539.5L796 538.8L793.9 539.4L794.3 539.6zM793.9 539.4L796 538.8L794.3 537.9L792.2 538.5zM792.2 538.5L794.3 537.9L792.6 536.9L790.5 537.6zM790.5 537.6L792.6 536.9L790.9 536L788.7 536.6zM798.8 539.3L799.9 539L798.1 538.2L796 538.8L797.4 539.5zM796 538.8L798.1 538.2L796.4 537.3L794.3 537.9zM794.3 537.9L796.4 537.3L794.7 536.3L792.6 536.9zM792.6 536.9L794.7 536.3L793 535.3L790.9 536zM799.9 539L802 538.5L800.3 537.6L798.1 538.2zM798.1 538.2L800.3 537.6L798.6 536.7L796.4 537.3zM796.4 537.3L798.6 536.7L796.9 535.7L794.7 536.3zM794.7 536.3L796.9 535.7L795.1 534.7L793 535.3zM786.6 537.2L795.1 534.7L788.3 530.3L779.8 533.1zM779.8 533.1L788.3 530.3L781.4 525.4L772.9 528.3zM772.9 528.3L781.4 525.4L774.6 520.1L766.1 523.1zM804.9 538.3L804.1 537.9L802 538.5L802.3 538.6zM808 538.2L808 538.2L807.7 538.2zM807.7 538.2L808 538.2L806.3 537.3L804.1 537.9L804.9 538.3zM810.3 537.7L810.1 537.6L808 538.2L808 538.2zM808 538.2L810.1 537.6L808.4 536.7L806.3 537.3zM812.8 537.3L812.2 537L810.1 537.6L810.3 537.7zM810.1 537.6L812.2 537L810.5 536.1L808.4 536.7zM802 538.5L810.5 536.1L803.7 532.1L795.1 534.7zM795.1 534.7L803.7 532.1L796.8 527.5L788.3 530.3zM788.3 530.3L796.8 527.5L790 522.4L781.4 525.4zM781.4 525.4L790 522.4L783.1 516.9L774.6 520.1zM816.1 537.3L816.1 537.3L816.1 537.3zM816.1 537.3L816.1 537.3L814.4 536.4L812.2 537L812.8 537.3zM812.2 537L814.4 536.4L812.7 535.5L810.5 536.1zM818.3 536.8L818.2 536.7L816.1 537.3L816.1 537.3zM816.1 537.3L818.2 536.7L816.5 535.8L814.4 536.4zM814.4 536.4L816.5 535.8L814.8 534.9L812.7 535.5zM820.7 536.3L820.3 536.1L818.2 536.7L818.3 536.8zM818.2 536.7L820.3 536.1L818.6 535.2L816.5 535.8zM816.5 535.8L818.6 535.2L816.9 534.3L814.8 534.9zM823.5 536.1L822.5 535.5L820.3 536.1L820.7 536.3zM820.3 536.1L822.5 535.5L820.8 534.6L818.6 535.2zM818.6 535.2L820.8 534.6L819.1 533.6L816.9 534.3zM810.5 536.1L819.1 533.6L812.2 529.4L803.7 532.1zM803.7 532.1L812.2 529.4L805.3 524.6L796.8 527.5zM796.8 527.5L805.3 524.6L798.5 519.3L790 522.4zM790 522.4L798.5 519.3L791.6 513.6L783.1 516.9zM834.5 535L834.4 534.9L834.2 535zM826.4 535.9L826.3 535.8L825.8 536zM825.8 536L826.3 535.8L824.6 534.9L822.5 535.5L823.5 536.1zM822.5 535.5L824.6 534.9L822.9 534L820.8 534.6zM820.8 534.6L822.9 534L821.2 533L819.1 533.6zM828.7 535.4L828.5 535.2L826.3 535.8L826.4 535.9zM826.3 535.8L828.5 535.2L826.7 534.3L824.6 534.9zM824.6 534.9L826.7 534.3L825 533.4L822.9 534zM822.9 534L825 533.4L823.3 532.4L821.2 533zM831.4 535.1L830.6 534.6L828.5 535.2L828.7 535.4zM828.5 535.2L830.6 534.6L828.9 533.7L826.7 534.3zM826.7 534.3L828.9 533.7L827.2 532.7L825 533.4zM825 533.4L827.2 532.7L825.4 531.7L823.3 532.4zM834.2 535L834.4 534.9L832.7 534L830.6 534.6L831.4 535.1zM830.6 534.6L832.7 534L831 533.1L828.9 533.7zM828.9 533.7L831 533.1L829.3 532.1L827.2 532.7zM827.2 532.7L829.3 532.1L827.6 531.1L825.4 531.7zM819.1 533.6L827.6 531.1L820.7 526.6L812.2 529.4zM812.2 529.4L820.7 526.6L813.9 521.5L805.3 524.6zM805.3 524.6L813.9 521.5L807 516.1L798.5 519.3zM836.8 534.5L836.6 534.3L834.4 534.9L834.5 535zM839.5 534.2L838.7 533.7L836.6 534.3L836.8 534.5zM842.6 534.1L842.5 534L842.3 534.1zM842.3 534.1L842.5 534L840.8 533.1L838.7 533.7L839.5 534.2zM845 533.6L844.7 533.4L842.5 534L842.6 534.1zM842.5 534L844.7 533.4L843 532.5L840.8 533.1zM834.4 534.9L843 532.5L836.1 528.3L827.6 531.1zM827.6 531.1L836.1 528.3L829.3 523.5L820.7 526.6zM820.7 526.6L829.3 523.5L822.4 518.3L813.9 521.5zM813.9 521.5L822.4 518.3L815.6 512.7L807 516.1zM847.7 533.3L846.8 532.8L844.7 533.4L845 533.6zM844.7 533.4L846.8 532.8L845.1 531.8L843 532.5zM850.7 533.2L850.6 533.1L850.3 533.2zM850.3 533.2L850.6 533.1L848.9 532.2L846.8 532.8L847.7 533.3zM846.8 532.8L848.9 532.2L847.2 531.2L845.1 531.8zM853.1 532.8L852.8 532.5L850.6 533.1L850.7 533.2zM850.6 533.1L852.8 532.5L851.1 531.5L848.9 532.2zM848.9 532.2L851.1 531.5L849.4 530.5L847.2 531.2zM856 532.5L854.9 531.9L852.8 532.5L853.1 532.8zM852.8 532.5L854.9 531.9L853.2 530.9L851.1 531.5zM851.1 531.5L853.2 530.9L851.5 529.9L849.4 530.5zM843 532.5L851.5 529.9L844.6 525.4L836.1 528.3zM836.1 528.3L844.6 525.4L837.8 520.3L829.3 523.5zM829.3 523.5L837.8 520.3L830.9 514.9L822.4 518.3zM858.9 532.3L858.8 532.2L858.1 532.4zM858.1 532.4L858.8 532.2L857 531.2L854.9 531.9L856 532.5zM854.9 531.9L857 531.2L855.3 530.2L853.2 530.9zM853.2 530.9L855.3 530.2L853.6 529.2L851.5 529.9zM861.4 531.9L860.9 531.6L858.8 532.2L858.9 532.3zM858.8 532.2L860.9 531.6L859.2 530.6L857 531.2zM857 531.2L859.2 530.6L857.5 529.5L855.3 530.2zM855.3 530.2L857.5 529.5L855.7 528.5L853.6 529.2zM864.6 531.9L863 530.9L860.9 531.6L861.4 531.9zM860.9 531.6L863 530.9L861.3 529.9L859.2 530.6zM859.2 530.6L861.3 529.9L859.6 528.9L857.5 529.5zM857.5 529.5L859.6 528.9L857.9 527.8L855.7 528.5zM865.2 531.8L866.9 531.3L865.2 530.3L863 530.9L864.6 531.9zM863 530.9L865.2 530.3L863.4 529.2L861.3 529.9zM861.3 529.9L863.4 529.2L861.7 528.1L859.6 528.9zM859.6 528.9L861.7 528.1L860 527L857.9 527.8zM851.5 529.9L860 527L853.2 522.2L844.6 525.4zM844.6 525.4L853.2 522.2L846.3 516.9L837.8 520.3zM837.8 520.3L846.3 516.9L839.5 511.3L830.9 514.9zM866.9 531.3L875.4 528.6L868.5 523.9L860 527zM860 527L868.5 523.9L861.7 518.8L853.2 522.2zM853.2 522.2L861.7 518.8L854.8 513.3L846.3 516.9zM875.4 528.6L883.9 525.6L877.1 520.6L868.5 523.9zM868.5 523.9L877.1 520.6L870.2 515.1L861.7 518.8zM861.7 518.8L870.2 515.1L863.4 509.4L854.8 513.3zM883.9 525.6L892.4 522.3L885.6 516.9L877.1 520.6zM877.1 520.6L885.6 516.9L878.7 511.2L870.2 515.1zM892.4 522.3L901 518.6L894.1 512.9L885.6 516.9zM885.6 516.9L894.1 512.9L887.3 507L878.7 511.2zM901 518.6L909.5 514.5L902.7 508.6L894.1 512.9z"/>
<path fill="#000097" stroke="#000097" d="M385.4 560.9L393.9 556.2L387 547.6L378.5 551.8zM409.3 560.3L417.8 556L410.9 548L402.4 551.9zM417.8 556L426.3 552L419.5 544.4L410.9 548zM433.2 559.8L441.7 555.8L434.9 548.4L426.3 552zM441.7 555.8L450.2 552.1L443.4 544.9L434.9 548.4zM457.1 559.4L465.6 555.6L458.8 548.6L450.2 552.1zM450.2 552.1L458.8 548.6L451.9 541.7L443.4 544.9zM465.6 555.6L474.1 552.1L467.3 545.3L458.8 548.6zM474.1 552.1L482.7 548.8L475.8 542.2L467.3 545.3zM489.5 555.4L498 552.1L491.2 545.6L482.7 548.8zM482.7 548.8L491.2 545.6L484.3 539.1L475.8 542.2zM498 552.1L506.6 548.9L499.7 542.6L491.2 545.6zM491.2 545.6L499.7 542.6L492.9 536.1L484.3 539.1zM506.6 548.9L515.1 545.8L508.3 539.6L499.7 542.6zM522 551.9L530.5 548.8L523.6 542.8L515.1 545.8zM515.1 545.8L523.6 542.8L516.8 536.6L508.3 539.6zM530.5 548.8L539 545.8L532.2 539.8L523.6 542.8zM523.6 542.8L532.2 539.8L525.3 533.6L516.8 536.6zM539 545.8L547.5 542.9L540.7 536.9L532.2 539.8zM554.4 548.6L562.9 545.7L556.1 540L547.5 542.9zM547.5 542.9L556.1 540L549.2 534L540.7 536.9zM562.9 545.7L571.4 542.8L564.6 537.1L556.1 540zM556.1 540L564.6 537.1L557.7 531L549.2 534zM571.4 542.8L580 540L573.1 534.1L564.6 537.1zM564.6 537.1L573.1 534.1L566.3 528L557.7 531zM586.8 545.5L595.4 542.7L588.5 537.1L580 540zM580 540L588.5 537.1L581.7 531.2L573.1 534.1zM573.1 534.1L581.7 531.2L574.8 525L566.3 528zM595.4 542.7L603.9 539.8L597 534.2L588.5 537.1zM588.5 537.1L597 534.2L590.2 528.2L581.7 531.2zM603.9 539.8L612.4 537L605.6 531.2L597 534.2zM597 534.2L605.6 531.2L598.7 525.2L590.2 528.2zM612.4 537L620.9 534.1L614.1 528.3L605.6 531.2zM605.6 531.2L614.1 528.3L607.2 522.1L598.7 525.2zM627.8 539.6L636.3 536.7L629.5 531.2L620.9 534.1zM620.9 534.1L629.5 531.2L622.6 525.2L614.1 528.3zM636.3 536.7L644.8 533.9L638 528.2L629.5 531.2zM629.5 531.2L638 528.2L631.1 522.2L622.6 525.2zM644.8 533.9L653.4 530.9L646.5 525.1L638 528.2zM638 528.2L646.5 525.1L639.7 519L631.1 522.2zM653.4 530.9L661.9 528L655 522.1L646.5 525.1zM646.5 525.1L655 522.1L648.2 515.9L639.7 519zM668.8 533.5L677.3 530.6L670.4 524.9L661.9 528zM661.9 528L670.4 524.9L663.6 518.9L655 522.1zM677.3 530.6L685.8 527.7L679 521.9L670.4 524.9zM670.4 524.9L679 521.9L672.1 515.8L663.6 518.9zM685.8 527.7L694.3 524.6L687.5 518.7L679 521.9zM679 521.9L687.5 518.7L680.6 512.5L672.1 515.8zM701.2 530.2L709.7 527.2L702.9 521.6L694.3 524.6zM694.3 524.6L702.9 521.6L696 515.5L687.5 518.7zM709.7 527.2L718.2 524.2L711.4 518.4L702.9 521.6zM702.9 521.6L711.4 518.4L704.5 512.3L696 515.5zM718.2 524.2L726.8 521.2L719.9 515.2L711.4 518.4zM711.4 518.4L719.9 515.2L713.1 509L704.5 512.3zM733.6 526.7L742.2 523.7L735.3 518L726.8 521.2zM726.8 521.2L735.3 518L728.4 511.9L719.9 515.2zM742.2 523.7L750.7 520.7L743.8 514.8L735.3 518zM735.3 518L743.8 514.8L737 508.6L728.4 511.9zM750.7 520.7L759.2 517.5L752.4 511.5L743.8 514.8zM743.8 514.8L752.4 511.5L745.5 505.2L737 508.6zM766.1 523.1L774.6 520.1L767.7 514.3L759.2 517.5zM759.2 517.5L767.7 514.3L760.9 508.1L752.4 511.5zM774.6 520.1L783.1 516.9L776.3 511L767.7 514.3zM767.7 514.3L776.3 511L769.4 504.7L760.9 508.1zM783.1 516.9L791.6 513.6L784.8 507.6L776.3 511zM776.3 511L784.8 507.6L777.9 501.2L769.4 504.7zM798.5 519.3L807 516.1L800.2 510.2L791.6 513.6zM791.6 513.6L800.2 510.2L793.3 504L784.8 507.6zM807 516.1L815.6 512.7L808.7 506.6L800.2 510.2zM800.2 510.2L808.7 506.6L801.8 500.3L793.3 504zM822.4 518.3L830.9 514.9L824.1 509L815.6 512.7zM815.6 512.7L824.1 509L817.2 502.8L808.7 506.6zM830.9 514.9L839.5 511.3L832.6 505.2L824.1 509zM824.1 509L832.6 505.2L825.8 498.9L817.2 502.8zM846.3 516.9L854.8 513.3L848 507.4L839.5 511.3zM839.5 511.3L848 507.4L841.1 501.2L832.6 505.2zM854.8 513.3L863.4 509.4L856.5 503.4L848 507.4zM848 507.4L856.5 503.4L849.7 497L841.1 501.2zM870.2 515.1L878.7 511.2L871.9 505.3L863.4 509.4zM863.4 509.4L871.9 505.3L865 499.1L856.5 503.4zM878.7 511.2L887.3 507L880.4 500.9L871.9 505.3zM871.9 505.3L880.4 500.9L873.6 494.5L865 499.1zM894.1 512.9L902.7 508.6L895.8 502.5L887.3 507zM887.3 507L895.8 502.5L889 496.3L880.4 500.9zM909.5 514.5L918 510.1L911.2 504L902.7 508.6zM902.7 508.6L911.2 504L904.3 497.8L895.8 502.5zM918 510.1L926.6 505.3L919.7 499.1L911.2 504zM926.6 505.3L935.1 500.1L928.2 493.8L919.7 499.1z"/>
<path fill="#0000a7" stroke="#0000a7" d="M378.5 551.8L387 547.6L380.2 539.3L371.7 543.1zM393.9 556.2L402.4 551.9L395.6 543.8L387 547.6zM402.4 551.9L410.9 548L404.1 540.2L395.6 543.8zM410.9 548L419.5 544.4L412.6 536.8L404.1 540.2zM426.3 552L434.9 548.4L428 541L419.5 544.4zM419.5 544.4L428 541L421.1 533.6L412.6 536.8zM434.9 548.4L443.4 544.9L436.5 537.8L428 541zM443.4 544.9L451.9 541.7L445.1 534.6L436.5 537.8zM458.8 548.6L467.3 545.3L460.4 538.5L451.9 541.7zM451.9 541.7L460.4 538.5L453.6 531.5L445.1 534.6zM467.3 545.3L475.8 542.2L469 535.4L460.4 538.5zM475.8 542.2L484.3 539.1L477.5 532.4L469 535.4zM484.3 539.1L492.9 536.1L486 529.4L477.5 532.4zM499.7 542.6L508.3 539.6L501.4 533.1L492.9 536.1zM492.9 536.1L501.4 533.1L494.5 526.3L486 529.4zM508.3 539.6L516.8 536.6L509.9 530.1L501.4 533.1zM501.4 533.1L509.9 530.1L503.1 523.3L494.5 526.3zM516.8 536.6L525.3 533.6L518.5 527.1L509.9 530.1zM532.2 539.8L540.7 536.9L533.8 530.6L525.3 533.6zM525.3 533.6L533.8 530.6L527 524.1L518.5 527.1zM540.7 536.9L549.2 534L542.4 527.6L533.8 530.6zM533.8 530.6L542.4 527.6L535.5 521L527 524.1zM549.2 534L557.7 531L550.9 524.6L542.4 527.6zM542.4 527.6L550.9 524.6L544 518L535.5 521zM557.7 531L566.3 528L559.4 521.6L550.9 524.6zM566.3 528L574.8 525L567.9 518.5L559.4 521.6zM581.7 531.2L590.2 528.2L583.3 521.9L574.8 525zM574.8 525L583.3 521.9L576.5 515.4L567.9 518.5zM590.2 528.2L598.7 525.2L591.9 518.8L583.3 521.9zM583.3 521.9L591.9 518.8L585 512.3L576.5 515.4zM598.7 525.2L607.2 522.1L600.4 515.7L591.9 518.8zM614.1 528.3L622.6 525.2L615.8 519L607.2 522.1zM607.2 522.1L615.8 519L608.9 512.5L600.4 515.7zM622.6 525.2L631.1 522.2L624.3 515.9L615.8 519zM615.8 519L624.3 515.9L617.4 509.3L608.9 512.5zM631.1 522.2L639.7 519L632.8 512.7L624.3 515.9zM624.3 515.9L632.8 512.7L626 506.1L617.4 509.3zM639.7 519L648.2 515.9L641.3 509.4L632.8 512.7zM655 522.1L663.6 518.9L656.7 512.7L648.2 515.9zM648.2 515.9L656.7 512.7L649.9 506.2L641.3 509.4zM663.6 518.9L672.1 515.8L665.3 509.4L656.7 512.7zM656.7 512.7L665.3 509.4L658.4 502.8L649.9 506.2zM672.1 515.8L680.6 512.5L673.8 506.1L665.3 509.4zM687.5 518.7L696 515.5L689.2 509.2L680.6 512.5zM680.6 512.5L689.2 509.2L682.3 502.7L673.8 506.1zM696 515.5L704.5 512.3L697.7 505.9L689.2 509.2zM689.2 509.2L697.7 505.9L690.8 499.3L682.3 502.7zM704.5 512.3L713.1 509L706.2 502.5L697.7 505.9zM719.9 515.2L728.4 511.9L721.6 505.6L713.1 509zM713.1 509L721.6 505.6L714.7 499L706.2 502.5zM728.4 511.9L737 508.6L730.1 502.1L721.6 505.6zM721.6 505.6L730.1 502.1L723.3 495.5L714.7 499zM737 508.6L745.5 505.2L738.7 498.6L730.1 502.1zM752.4 511.5L760.9 508.1L754 501.7L745.5 505.2zM745.5 505.2L754 501.7L747.2 495.1L738.7 498.6zM760.9 508.1L769.4 504.7L762.6 498.2L754 501.7zM754 501.7L762.6 498.2L755.7 491.4L747.2 495.1zM769.4 504.7L777.9 501.2L771.1 494.5L762.6 498.2zM784.8 507.6L793.3 504L786.5 497.5L777.9 501.2zM777.9 501.2L786.5 497.5L779.6 490.7L771.1 494.5zM793.3 504L801.8 500.3L795 493.6L786.5 497.5zM808.7 506.6L817.2 502.8L810.4 496.3L801.8 500.3zM801.8 500.3L810.4 496.3L803.5 489.5L795 493.6zM817.2 502.8L825.8 498.9L818.9 492.2L810.4 496.3zM810.4 496.3L818.9 492.2L812.1 485.3L803.5 489.5zM832.6 505.2L841.1 501.2L834.3 494.7L825.8 498.9zM825.8 498.9L834.3 494.7L827.4 487.9L818.9 492.2zM841.1 501.2L849.7 497L842.8 490.3L834.3 494.7zM856.5 503.4L865 499.1L858.2 492.6L849.7 497zM849.7 497L858.2 492.6L851.3 485.7L842.8 490.3zM865 499.1L873.6 494.5L866.7 487.9L858.2 492.6zM880.4 500.9L889 496.3L882.1 489.7L873.6 494.5zM873.6 494.5L882.1 489.7L875.2 482.9L866.7 487.9zM895.8 502.5L904.3 497.8L897.5 491.4L889 496.3zM889 496.3L897.5 491.4L890.6 484.7L882.1 489.7zM911.2 504L919.7 499.1L912.9 492.7L904.3 497.8zM904.3 497.8L912.9 492.7L906 486.2L897.5 491.4zM919.7 499.1L928.2 493.8L921.4 487.4L912.9 492.7z"/>
<path fill="#0000b7" stroke="#0000b7" d="M371.7 543.1L380.2 539.3L373.3 531.1L364.8 534.6zM387 547.6L395.6 543.8L388.7 535.8L380.2 539.3zM395.6 543.8L404.1 540.2L397.2 532.4L388.7 535.8zM404.1 540.2L412.6 536.8L405.8 529.2L397.2 532.4zM412.6 536.8L421.1 533.6L414.3 526L405.8 529.2zM428 541L436.5 537.8L429.7 530.4L421.1 533.6zM436.5 537.8L445.1 534.6L438.2 527.3L429.7 530.4zM445.1 534.6L453.6 531.5L446.7 524.2L438.2 527.3zM460.4 538.5L469 535.4L462.1 528.4L453.6 531.5zM453.6 531.5L462.1 528.4L455.3 521.1L446.7 524.2zM469 535.4L477.5 532.4L470.6 525.4L462.1 528.4zM462.1 528.4L470.6 525.4L463.8 518.1L455.3 521.1zM477.5 532.4L486 529.4L479.2 522.3L470.6 525.4zM486 529.4L494.5 526.3L487.7 519.3L479.2 522.3zM494.5 526.3L503.1 523.3L496.2 516.3L487.7 519.3zM509.9 530.1L518.5 527.1L511.6 520.3L503.1 523.3zM503.1 523.3L511.6 520.3L504.8 513.3L496.2 516.3zM518.5 527.1L527 524.1L520.1 517.2L511.6 520.3zM511.6 520.3L520.1 517.2L513.3 510.2L504.8 513.3zM527 524.1L535.5 521L528.7 514.2L520.1 517.2zM535.5 521L544 518L537.2 511.1L528.7 514.2zM550.9 524.6L559.4 521.6L552.6 514.9L544 518zM544 518L552.6 514.9L545.7 508.1L537.2 511.1zM559.4 521.6L567.9 518.5L561.1 511.8L552.6 514.9zM552.6 514.9L561.1 511.8L554.2 505L545.7 508.1zM567.9 518.5L576.5 515.4L569.6 508.7L561.1 511.8zM576.5 515.4L585 512.3L578.2 505.5L569.6 508.7zM591.9 518.8L600.4 515.7L593.5 509.1L585 512.3zM585 512.3L593.5 509.1L586.7 502.3L578.2 505.5zM600.4 515.7L608.9 512.5L602.1 505.9L593.5 509.1zM593.5 509.1L602.1 505.9L595.2 499.1L586.7 502.3zM608.9 512.5L617.4 509.3L610.6 502.7L602.1 505.9zM617.4 509.3L626 506.1L619.1 499.4L610.6 502.7zM632.8 512.7L641.3 509.4L634.5 502.8L626 506.1zM626 506.1L634.5 502.8L627.6 496.1L619.1 499.4zM641.3 509.4L649.9 506.2L643 499.5L634.5 502.8zM634.5 502.8L643 499.5L636.2 492.7L627.6 496.1zM649.9 506.2L658.4 502.8L651.6 496.1L643 499.5zM665.3 509.4L673.8 506.1L666.9 499.5L658.4 502.8zM658.4 502.8L666.9 499.5L660.1 492.7L651.6 496.1zM673.8 506.1L682.3 502.7L675.5 496L666.9 499.5zM666.9 499.5L675.5 496L668.6 489.2L660.1 492.7zM682.3 502.7L690.8 499.3L684 492.6L675.5 496zM697.7 505.9L706.2 502.5L699.4 495.8L690.8 499.3zM690.8 499.3L699.4 495.8L692.5 489L684 492.6zM706.2 502.5L714.7 499L707.9 492.3L699.4 495.8zM699.4 495.8L707.9 492.3L701 485.4L692.5 489zM714.7 499L723.3 495.5L716.4 488.7L707.9 492.3zM730.1 502.1L738.7 498.6L731.8 491.9L723.3 495.5zM723.3 495.5L731.8 491.9L724.9 485L716.4 488.7zM738.7 498.6L747.2 495.1L740.3 488.2L731.8 491.9zM747.2 495.1L755.7 491.4L748.9 484.5L740.3 488.2zM762.6 498.2L771.1 494.5L764.2 487.6L755.7 491.4zM755.7 491.4L764.2 487.6L757.4 480.6L748.9 484.5zM771.1 494.5L779.6 490.7L772.8 483.7L764.2 487.6zM786.5 497.5L795 493.6L788.1 486.7L779.6 490.7zM779.6 490.7L788.1 486.7L781.3 479.6L772.8 483.7zM795 493.6L803.5 489.5L796.7 482.5L788.1 486.7zM803.5 489.5L812.1 485.3L805.2 478.1L796.7 482.5zM818.9 492.2L827.4 487.9L820.6 480.8L812.1 485.3zM834.3 494.7L842.8 490.3L836 483.3L827.4 487.9zM827.4 487.9L836 483.3L829.1 476L820.6 480.8zM842.8 490.3L851.3 485.7L844.5 478.5L836 483.3zM858.2 492.6L866.7 487.9L859.9 480.8L851.3 485.7zM851.3 485.7L859.9 480.8L853 473.3L844.5 478.5zM866.7 487.9L875.2 482.9L868.4 475.5L859.9 480.8zM882.1 489.7L890.6 484.7L883.8 477.5L875.2 482.9zM897.5 491.4L906 486.2L899.2 479.2L890.6 484.7zM890.6 484.7L899.2 479.2L892.3 471.7L883.8 477.5zM912.9 492.7L921.4 487.4L914.5 480.6L906 486.2zM906 486.2L914.5 480.6L907.7 473.3L899.2 479.2z"/>
<path fill="#0000c7" stroke="#0000c7" d="M364.8 534.6L373.3 531.1L366.5 522.7L358 526.1zM380.2 539.3L388.7 535.8L381.9 527.7L373.3 531.1zM373.3 531.1L381.9 527.7L375 519.4L366.5 522.7zM388.7 535.8L397.2 532.4L390.4 524.4L381.9 527.7zM397.2 532.4L405.8 529.2L398.9 521.2L390.4 524.4zM405.8 529.2L414.3 526L407.4 518L398.9 521.2zM421.1 533.6L429.7 530.4L422.8 522.8L414.3 526zM414.3 526L422.8 522.8L416 515L407.4 518zM429.7 530.4L438.2 527.3L431.4 519.7L422.8 522.8zM438.2 527.3L446.7 524.2L439.9 516.7L431.4 519.7zM446.7 524.2L455.3 521.1L448.4 513.6L439.9 516.7zM455.3 521.1L463.8 518.1L456.9 510.6L448.4 513.6zM470.6 525.4L479.2 522.3L472.3 515.1L463.8 518.1zM463.8 518.1L472.3 515.1L465.5 507.7L456.9 510.6zM479.2 522.3L487.7 519.3L480.8 512.1L472.3 515.1zM487.7 519.3L496.2 516.3L489.4 509.1L480.8 512.1zM496.2 516.3L504.8 513.3L497.9 506.1L489.4 509.1zM504.8 513.3L513.3 510.2L506.4 503.1L497.9 506.1zM520.1 517.2L528.7 514.2L521.8 507.2L513.3 510.2zM513.3 510.2L521.8 507.2L515 500.1L506.4 503.1zM528.7 514.2L537.2 511.1L530.3 504.2L521.8 507.2zM521.8 507.2L530.3 504.2L523.5 497.1L515 500.1zM537.2 511.1L545.7 508.1L538.9 501.1L530.3 504.2zM545.7 508.1L554.2 505L547.4 498L538.9 501.1zM561.1 511.8L569.6 508.7L562.8 501.8L554.2 505zM554.2 505L562.8 501.8L555.9 494.9L547.4 498zM569.6 508.7L578.2 505.5L571.3 498.7L562.8 501.8zM562.8 501.8L571.3 498.7L564.4 491.7L555.9 494.9zM578.2 505.5L586.7 502.3L579.8 495.5L571.3 498.7zM586.7 502.3L595.2 499.1L588.4 492.3L579.8 495.5zM602.1 505.9L610.6 502.7L603.7 495.9L595.2 499.1zM595.2 499.1L603.7 495.9L596.9 488.9L588.4 492.3zM610.6 502.7L619.1 499.4L612.3 492.6L603.7 495.9zM603.7 495.9L612.3 492.6L605.4 485.3L596.9 488.9zM619.1 499.4L627.6 496.1L620.8 489.2L612.3 492.6zM627.6 496.1L636.2 492.7L629.3 485.6L620.8 489.2zM643 499.5L651.6 496.1L644.7 489.3L636.2 492.7zM636.2 492.7L644.7 489.3L637.8 481.7L629.3 485.6zM651.6 496.1L660.1 492.7L653.2 485.7L644.7 489.3zM660.1 492.7L668.6 489.2L661.8 481.8L653.2 485.7zM675.5 496L684 492.6L677.1 485.6L668.6 489.2zM668.6 489.2L677.1 485.6L670.3 477.6L661.8 481.8zM684 492.6L692.5 489L685.7 481.7L677.1 485.6zM692.5 489L701 485.4L694.2 477.5L685.7 481.7zM707.9 492.3L716.4 488.7L709.6 481.5L701 485.4zM701 485.4L709.6 481.5L702.7 473L694.2 477.5zM716.4 488.7L724.9 485L718.1 477.3L709.6 481.5zM731.8 491.9L740.3 488.2L733.5 481.1L724.9 485zM724.9 485L733.5 481.1L726.6 472.8L718.1 477.3zM740.3 488.2L748.9 484.5L742 476.9L733.5 481.1zM748.9 484.5L757.4 480.6L750.5 472.4L742 476.9zM764.2 487.6L772.8 483.7L765.9 476.3L757.4 480.6zM757.4 480.6L765.9 476.3L759.1 467.4L750.5 472.4zM772.8 483.7L781.3 479.6L774.4 471.5L765.9 476.3zM788.1 486.7L796.7 482.5L789.8 475L781.3 479.6zM781.3 479.6L789.8 475L783 466.2L774.4 471.5zM796.7 482.5L805.2 478.1L798.3 470L789.8 475zM812.1 485.3L820.6 480.8L813.7 473.2L805.2 478.1zM805.2 478.1L813.7 473.2L806.9 464.3L798.3 470zM820.6 480.8L829.1 476L822.3 467.8L813.7 473.2zM836 483.3L844.5 478.5L837.6 470.8L829.1 476zM829.1 476L837.6 470.8L830.8 461.6L822.3 467.8zM844.5 478.5L853 473.3L846.2 464.8L837.6 470.8zM859.9 480.8L868.4 475.5L861.5 467.5L853 473.3zM875.2 482.9L883.8 477.5L876.9 469.8L868.4 475.5zM868.4 475.5L876.9 469.8L870.1 460.9L861.5 467.5zM883.8 477.5L892.3 471.7L885.5 463.3L876.9 469.8zM899.2 479.2L907.7 473.3L900.8 465.3L892.3 471.7z"/>
<path fill="#0000d7" stroke="#0000d7" d="M358 526.1L366.5 522.7L359.6 514L351.1 517.3zM366.5 522.7L375 519.4L368.2 510.8L359.6 514zM381.9 527.7L390.4 524.4L383.5 516.1L375 519.4zM390.4 524.4L398.9 521.2L392.1 513L383.5 516.1zM398.9 521.2L407.4 518L400.6 509.9L392.1 513zM407.4 518L416 515L409.1 506.9L400.6 509.9zM422.8 522.8L431.4 519.7L424.5 511.9L416 515zM416 515L424.5 511.9L417.6 504L409.1 506.9zM431.4 519.7L439.9 516.7L433 508.9L424.5 511.9zM439.9 516.7L448.4 513.6L441.6 506L433 508.9zM448.4 513.6L456.9 510.6L450.1 503.1L441.6 506zM456.9 510.6L465.5 507.7L458.6 500.1L450.1 503.1zM472.3 515.1L480.8 512.1L474 504.7L465.5 507.7zM465.5 507.7L474 504.7L467.1 497.3L458.6 500.1zM480.8 512.1L489.4 509.1L482.5 501.8L474 504.7zM474 504.7L482.5 501.8L475.7 494.4L467.1 497.3zM489.4 509.1L497.9 506.1L491 498.8L482.5 501.8zM497.9 506.1L506.4 503.1L499.6 495.9L491 498.8zM506.4 503.1L515 500.1L508.1 492.9L499.6 495.9zM515 500.1L523.5 497.1L516.6 489.9L508.1 492.9zM530.3 504.2L538.9 501.1L532 494L523.5 497.1zM523.5 497.1L532 494L525.2 486.7L516.6 489.9zM538.9 501.1L547.4 498L540.5 491L532 494zM547.4 498L555.9 494.9L549.1 487.7L540.5 491zM555.9 494.9L564.4 491.7L557.6 484.2L549.1 487.7zM571.3 498.7L579.8 495.5L573 488.4L564.4 491.7zM564.4 491.7L573 488.4L566.1 480.4L557.6 484.2zM579.8 495.5L588.4 492.3L581.5 484.9L573 488.4zM588.4 492.3L596.9 488.9L590 481L581.5 484.9zM596.9 488.9L605.4 485.3L598.6 477L590 481zM612.3 492.6L620.8 489.2L613.9 481.4L605.4 485.3zM605.4 485.3L613.9 481.4L607.1 472.6L598.6 477zM620.8 489.2L629.3 485.6L622.5 477.3L613.9 481.4zM629.3 485.6L637.8 481.7L631 472.9L622.5 477.3zM644.7 489.3L653.2 485.7L646.4 477.5L637.8 481.7zM637.8 481.7L646.4 477.5L639.5 468.3L631 472.9zM653.2 485.7L661.8 481.8L654.9 473.1L646.4 477.5zM661.8 481.8L670.3 477.6L663.4 468.4L654.9 473.1zM677.1 485.6L685.7 481.7L678.8 473.1L670.3 477.6zM685.7 481.7L694.2 477.5L687.3 468.4L678.8 473.1zM694.2 477.5L702.7 473L695.9 463.4L687.3 468.4zM709.6 481.5L718.1 477.3L711.2 468.2L702.7 473zM718.1 477.3L726.6 472.8L719.8 463.2L711.2 468.2zM733.5 481.1L742 476.9L735.2 468L726.6 472.8zM742 476.9L750.5 472.4L743.7 462.8L735.2 468zM750.5 472.4L759.1 467.4L752.2 457.3L743.7 462.8zM765.9 476.3L774.4 471.5L767.6 461.9L759.1 467.4zM774.4 471.5L783 466.2L776.1 456L767.6 461.9zM789.8 475L798.3 470L791.5 460.4L783 466.2zM798.3 470L806.9 464.3L800 454L791.5 460.4zM813.7 473.2L822.3 467.8L815.4 458L806.9 464.3zM822.3 467.8L830.8 461.6L823.9 451.1L815.4 458zM837.6 470.8L846.2 464.8L839.3 454.8L830.8 461.6zM853 473.3L861.5 467.5L854.7 458L846.2 464.8zM861.5 467.5L870.1 460.9L863.2 450.4L854.7 458zM876.9 469.8L885.5 463.3L878.6 453.3L870.1 460.9zM892.3 471.7L900.8 465.3L894 455.8L885.5 463.3z"/>
<path fill="#0000e7" stroke="#0000e7" d="M351.1 517.3L359.6 514L352.8 505.1L344.2 508.3zM375 519.4L383.5 516.1L376.7 507.7L368.2 510.8zM383.5 516.1L392.1 513L385.2 504.6L376.7 507.7zM392.1 513L400.6 509.9L393.7 501.7L385.2 504.6zM400.6 509.9L409.1 506.9L402.3 498.8L393.7 501.7zM409.1 506.9L417.6 504L410.8 495.9L402.3 498.8zM424.5 511.9L433 508.9L426.2 501.1L417.6 504zM417.6 504L426.2 501.1L419.3 493.1L410.8 495.9zM433 508.9L441.6 506L434.7 498.2L426.2 501.1zM441.6 506L450.1 503.1L443.2 495.4L434.7 498.2zM450.1 503.1L458.6 500.1L451.8 492.5L443.2 495.4zM458.6 500.1L467.1 497.3L460.3 489.7L451.8 492.5zM467.1 497.3L475.7 494.4L468.8 486.8L460.3 489.7zM482.5 501.8L491 498.8L484.2 491.5L475.7 494.4zM475.7 494.4L484.2 491.5L477.3 483.8L468.8 486.8zM491 498.8L499.6 495.9L492.7 488.5L484.2 491.5zM499.6 495.9L508.1 492.9L501.3 485.4L492.7 488.5zM508.1 492.9L516.6 489.9L509.8 482.1L501.3 485.4zM516.6 489.9L525.2 486.7L518.3 478.5L509.8 482.1zM532 494L540.5 491L533.7 483.3L525.2 486.7zM525.2 486.7L533.7 483.3L526.8 474.7L518.3 478.5zM540.5 491L549.1 487.7L542.2 479.6L533.7 483.3zM549.1 487.7L557.6 484.2L550.7 475.7L542.2 479.6zM557.6 484.2L566.1 480.4L559.3 471.6L550.7 475.7zM573 488.4L581.5 484.9L574.7 476.4L566.1 480.4zM566.1 480.4L574.7 476.4L567.8 467.2L559.3 471.6zM581.5 484.9L590 481L583.2 472.2L574.7 476.4zM590 481L598.6 477L591.7 467.7L583.2 472.2zM598.6 477L607.1 472.6L600.2 463.1L591.7 467.7zM613.9 481.4L622.5 477.3L615.6 468.1L607.1 472.6zM622.5 477.3L631 472.9L624.1 463.4L615.6 468.1zM631 472.9L639.5 468.3L632.7 458.4L624.1 463.4zM646.4 477.5L654.9 473.1L648.1 463.5L639.5 468.3zM654.9 473.1L663.4 468.4L656.6 458.4L648.1 463.5zM670.3 477.6L678.8 473.1L672 463.5L663.4 468.4zM678.8 473.1L687.3 468.4L680.5 458.4L672 463.5zM687.3 468.4L695.9 463.4L689 453.1L680.5 458.4zM702.7 473L711.2 468.2L704.4 458.2L695.9 463.4zM711.2 468.2L719.8 463.2L712.9 452.8L704.4 458.2zM726.6 472.8L735.2 468L728.3 457.9L719.8 463.2zM735.2 468L743.7 462.8L736.8 452.3L728.3 457.9zM759.1 467.4L767.6 461.9L760.7 451.4L752.2 457.3zM767.6 461.9L776.1 456L769.3 445L760.7 451.4zM783 466.2L791.5 460.4L784.6 449.7L776.1 456zM791.5 460.4L800 454L793.2 442.8L784.6 449.7zM806.9 464.3L815.4 458L808.6 447.1L800 454zM830.8 461.6L839.3 454.8L832.5 443.6L823.9 451.1zM846.2 464.8L854.7 458L847.8 447.2L839.3 454.8zM870.1 460.9L878.6 453.3L871.7 442L863.2 450.4zM885.5 463.3L894 455.8L887.1 444.8L878.6 453.3z"/>
<path fill="#0000f7" stroke="#0000f7" d="M344.2 508.3L352.8 505.1L345.9 496.1L337.4 499.1zM359.6 514L368.2 510.8L361.3 502L352.8 505.1zM368.2 510.8L376.7 507.7L369.8 499L361.3 502zM376.7 507.7L385.2 504.6L378.4 496.1L369.8 499zM385.2 504.6L393.7 501.7L386.9 493.3L378.4 496.1zM393.7 501.7L402.3 498.8L395.4 490.5L386.9 493.3zM402.3 498.8L410.8 495.9L403.9 487.8L395.4 490.5zM410.8 495.9L419.3 493.1L412.5 485.1L403.9 487.8zM426.2 501.1L434.7 498.2L427.9 490.4L419.3 493.1zM434.7 498.2L443.2 495.4L436.4 487.6L427.9 490.4zM443.2 495.4L451.8 492.5L444.9 484.8L436.4 487.6zM451.8 492.5L460.3 489.7L453.4 481.9L444.9 484.8zM460.3 489.7L468.8 486.8L462 478.8L453.4 481.9zM468.8 486.8L477.3 483.8L470.5 475.4L462 478.8zM484.2 491.5L492.7 488.5L485.9 480.6L477.3 483.8zM477.3 483.8L485.9 480.6L479 471.9L470.5 475.4zM492.7 488.5L501.3 485.4L494.4 477.1L485.9 480.6zM501.3 485.4L509.8 482.1L502.9 473.5L494.4 477.1zM509.8 482.1L518.3 478.5L511.5 469.6L502.9 473.5zM518.3 478.5L526.8 474.7L520 465.5L511.5 469.6zM533.7 483.3L542.2 479.6L535.4 470.7L526.8 474.7zM542.2 479.6L550.7 475.7L543.9 466.5L535.4 470.7zM550.7 475.7L559.3 471.6L552.4 462.1L543.9 466.5zM574.7 476.4L583.2 472.2L576.3 462.7L567.8 467.2zM583.2 472.2L591.7 467.7L584.9 457.9L576.3 462.7zM607.1 472.6L615.6 468.1L608.8 458.2L600.2 463.1zM615.6 468.1L624.1 463.4L617.3 453.2L608.8 458.2zM639.5 468.3L648.1 463.5L641.2 453.3L632.7 458.4zM648.1 463.5L656.6 458.4L649.7 448L641.2 453.3zM663.4 468.4L672 463.5L665.1 453.2L656.6 458.4zM672 463.5L680.5 458.4L673.6 447.8L665.1 453.2zM695.9 463.4L704.4 458.2L697.5 447.5L689 453.1zM704.4 458.2L712.9 452.8L706.1 441.8L697.5 447.5zM719.8 463.2L728.3 457.9L721.4 447.1L712.9 452.8zM728.3 457.9L736.8 452.3L730 441.3L721.4 447.1zM743.7 462.8L752.2 457.3L745.4 446.4L736.8 452.3zM752.2 457.3L760.7 451.4L753.9 440.1L745.4 446.4zM776.1 456L784.6 449.7L777.8 438.2L769.3 445zM800 454L808.6 447.1L801.7 435.5L793.2 442.8zM815.4 458L823.9 451.1L817.1 439.7L808.6 447.1zM839.3 454.8L847.8 447.2L841 435.4L832.5 443.6zM854.7 458L863.2 450.4L856.4 438.9L847.8 447.2zM878.6 453.3L887.1 444.8L880.3 432.8L871.7 442z"/>
<path fill="#0008ff" stroke="#0008ff" d="M352.8 505.1L361.3 502L354.5 493.2L345.9 496.1zM361.3 502L369.8 499L363 490.3L354.5 493.2zM369.8 499L378.4 496.1L371.5 487.6L363 490.3zM378.4 496.1L386.9 493.3L380 484.9L371.5 487.6zM386.9 493.3L395.4 490.5L388.6 482.2L380 484.9zM395.4 490.5L403.9 487.8L397.1 479.6L388.6 482.2zM403.9 487.8L412.5 485.1L405.6 476.8L397.1 479.6zM419.3 493.1L427.9 490.4L421 482.4L412.5 485.1zM412.5 485.1L421 482.4L414.1 474L405.6 476.8zM427.9 490.4L436.4 487.6L429.5 479.6L421 482.4zM436.4 487.6L444.9 484.8L438.1 476.6L429.5 479.6zM444.9 484.8L453.4 481.9L446.6 473.4L438.1 476.6zM453.4 481.9L462 478.8L455.1 470L446.6 473.4zM462 478.8L470.5 475.4L463.6 466.5L455.1 470zM470.5 475.4L479 471.9L472.2 462.7L463.6 466.5zM485.9 480.6L494.4 477.1L487.5 468.2L479 471.9zM494.4 477.1L502.9 473.5L496.1 464.3L487.5 468.2zM502.9 473.5L511.5 469.6L504.6 460.2L496.1 464.3zM511.5 469.6L520 465.5L513.1 455.9L504.6 460.2zM526.8 474.7L535.4 470.7L528.5 461.2L520 465.5zM535.4 470.7L543.9 466.5L537 456.8L528.5 461.2zM543.9 466.5L552.4 462.1L545.6 452.2L537 456.8zM559.3 471.6L567.8 467.2L560.9 457.5L552.4 462.1zM567.8 467.2L576.3 462.7L569.5 452.7L560.9 457.5zM576.3 462.7L584.9 457.9L578 447.8L569.5 452.7zM591.7 467.7L600.2 463.1L593.4 453L584.9 457.9zM600.2 463.1L608.8 458.2L601.9 448L593.4 453zM608.8 458.2L617.3 453.2L610.4 442.8L601.9 448zM624.1 463.4L632.7 458.4L625.8 448L617.3 453.2zM632.7 458.4L641.2 453.3L634.3 442.7L625.8 448zM656.6 458.4L665.1 453.2L658.3 442.5L649.7 448zM680.5 458.4L689 453.1L682.2 442.3L673.6 447.8zM689 453.1L697.5 447.5L690.7 436.5L682.2 442.3zM712.9 452.8L721.4 447.1L714.6 436L706.1 441.8zM736.8 452.3L745.4 446.4L738.5 435.1L730 441.3zM760.7 451.4L769.3 445L762.4 433.5L753.9 440.1zM784.6 449.7L793.2 442.8L786.3 431.1L777.8 438.2zM808.6 447.1L817.1 439.7L810.2 427.7L801.7 435.5zM823.9 451.1L832.5 443.6L825.6 431.7L817.1 439.7zM832.5 443.6L841 435.4L834.1 423.2L825.6 431.7zM847.8 447.2L856.4 438.9L849.5 426.6L841 435.4zM863.2 450.4L871.7 442L864.9 429.9L856.4 438.9z"/>
<path fill="#0018ff" stroke="#0018ff" d="M337.4 499.1L345.9 496.1L339.1 487L330.5 489.9zM345.9 496.1L354.5 493.2L347.6 484.2L339.1 487zM354.5 493.2L363 490.3L356.1 481.6L347.6 484.2zM363 490.3L371.5 487.6L364.7 478.9L356.1 481.6zM371.5 487.6L380 484.9L373.2 476.3L364.7 478.9zM380 484.9L388.6 482.2L381.7 473.7L373.2 476.3zM388.6 482.2L397.1 479.6L390.2 471L381.7 473.7zM397.1 479.6L405.6 476.8L398.8 468.1L390.2 471zM405.6 476.8L414.1 474L407.3 465.1L398.8 468.1zM421 482.4L429.5 479.6L422.7 471L414.1 474zM429.5 479.6L438.1 476.6L431.2 467.8L422.7 471zM438.1 476.6L446.6 473.4L439.7 464.4L431.2 467.8zM446.6 473.4L455.1 470L448.3 460.9L439.7 464.4zM455.1 470L463.6 466.5L456.8 457.1L448.3 460.9zM463.6 466.5L472.2 462.7L465.3 453.3L456.8 457.1zM479 471.9L487.5 468.2L480.7 458.8L472.2 462.7zM487.5 468.2L496.1 464.3L489.2 454.7L480.7 458.8zM496.1 464.3L504.6 460.2L497.8 450.5L489.2 454.7zM520 465.5L528.5 461.2L521.7 451.4L513.1 455.9zM528.5 461.2L537 456.8L530.2 446.8L521.7 451.4zM552.4 462.1L560.9 457.5L554.1 447.4L545.6 452.2zM560.9 457.5L569.5 452.7L562.6 442.5L554.1 447.4zM584.9 457.9L593.4 453L586.5 442.7L578 447.8zM593.4 453L601.9 448L595.1 437.5L586.5 442.7zM617.3 453.2L625.8 448L619 437.5L610.4 442.8zM641.2 453.3L649.7 448L642.9 437.3L634.3 442.7zM649.7 448L658.3 442.5L651.4 431.7L642.9 437.3zM665.1 453.2L673.6 447.8L666.8 437L658.3 442.5zM673.6 447.8L682.2 442.3L675.3 431.2L666.8 437zM697.5 447.5L706.1 441.8L699.2 430.7L690.7 436.5zM721.4 447.1L730 441.3L723.1 429.9L714.6 436zM730 441.3L738.5 435.1L731.7 423.5L723.1 429.9zM745.4 446.4L753.9 440.1L747 428.6L738.5 435.1zM753.9 440.1L762.4 433.5L755.6 421.7L747 428.6zM769.3 445L777.8 438.2L770.9 426.5L762.4 433.5zM777.8 438.2L786.3 431.1L779.5 419.1L770.9 426.5zM793.2 442.8L801.7 435.5L794.8 423.5L786.3 431.1zM817.1 439.7L825.6 431.7L818.8 419.5L810.2 427.7zM856.4 438.9L864.9 429.9L858 417.3L849.5 426.6zM871.7 442L880.3 432.8L873.4 420.1L864.9 429.9z"/>
<path fill="#0028ff" stroke="#0028ff" d="M330.5 489.9L339.1 487L332.2 477.8L323.7 480.5zM339.1 487L347.6 484.2L340.8 475.2L332.2 477.8zM347.6 484.2L356.1 481.6L349.3 472.7L340.8 475.2zM356.1 481.6L364.7 478.9L357.8 470.1L349.3 472.7zM364.7 478.9L373.2 476.3L366.3 467.5L357.8 470.1zM373.2 476.3L381.7 473.7L374.9 464.8L366.3 467.5zM381.7 473.7L390.2 471L383.4 462L374.9 464.8zM390.2 471L398.8 468.1L391.9 459L383.4 462zM398.8 468.1L407.3 465.1L400.4 455.9L391.9 459zM414.1 474L422.7 471L415.8 461.9L407.3 465.1zM422.7 471L431.2 467.8L424.4 458.6L415.8 461.9zM431.2 467.8L439.7 464.4L432.9 455.1L424.4 458.6zM439.7 464.4L448.3 460.9L441.4 451.4L432.9 455.1zM448.3 460.9L456.8 457.1L449.9 447.6L441.4 451.4zM472.2 462.7L480.7 458.8L473.8 449.2L465.3 453.3zM480.7 458.8L489.2 454.7L482.4 445L473.8 449.2zM489.2 454.7L497.8 450.5L490.9 440.6L482.4 445zM504.6 460.2L513.1 455.9L506.3 446L497.8 450.5zM513.1 455.9L521.7 451.4L514.8 441.5L506.3 446zM521.7 451.4L530.2 446.8L523.3 436.7L514.8 441.5zM537 456.8L545.6 452.2L538.7 442.1L530.2 446.8zM545.6 452.2L554.1 447.4L547.2 437.2L538.7 442.1zM554.1 447.4L562.6 442.5L555.8 432L547.2 437.2zM569.5 452.7L578 447.8L571.2 437.5L562.6 442.5zM578 447.8L586.5 442.7L579.7 432.1L571.2 437.5zM601.9 448L610.4 442.8L603.6 432.1L595.1 437.5zM610.4 442.8L619 437.5L612.1 426.4L603.6 432.1zM625.8 448L634.3 442.7L627.5 432L619 437.5zM634.3 442.7L642.9 437.3L636 426.1L627.5 432zM658.3 442.5L666.8 437L659.9 425.7L651.4 431.7zM682.2 442.3L690.7 436.5L683.8 425.2L675.3 431.2zM690.7 436.5L699.2 430.7L692.4 418.8L683.8 425.2zM706.1 441.8L714.6 436L707.7 424.5L699.2 430.7zM714.6 436L723.1 429.9L716.3 418L707.7 424.5zM738.5 435.1L747 428.6L740.2 416.5L731.7 423.5zM762.4 433.5L770.9 426.5L764.1 414.2L755.6 421.7zM786.3 431.1L794.8 423.5L788 411L779.5 419.1zM801.7 435.5L810.2 427.7L803.4 415.5L794.8 423.5zM825.6 431.7L834.1 423.2L827.3 410.6L818.8 419.5zM841 435.4L849.5 426.6L842.7 414.2L834.1 423.2zM864.9 429.9L873.4 420.1L866.6 407.3L858 417.3z"/>
<path fill="#0038ff" stroke="#0038ff" d="M323.7 480.5L332.2 477.8L325.4 468.6L316.8 471.1zM332.2 477.8L340.8 475.2L333.9 466.1L325.4 468.6zM340.8 475.2L349.3 472.7L342.4 463.6L333.9 466.1zM349.3 472.7L357.8 470.1L351 461L342.4 463.6zM357.8 470.1L366.3 467.5L359.5 458.4L351 461zM366.3 467.5L374.9 464.8L368 455.6L359.5 458.4zM374.9 464.8L383.4 462L376.5 452.7L368 455.6zM383.4 462L391.9 459L385.1 449.7L376.5 452.7zM407.3 465.1L415.8 461.9L409 452.6L400.4 455.9zM415.8 461.9L424.4 458.6L417.5 449.2L409 452.6zM424.4 458.6L432.9 455.1L426 445.6L417.5 449.2zM432.9 455.1L441.4 451.4L434.6 441.9L426 445.6zM456.8 457.1L465.3 453.3L458.5 443.6L449.9 447.6zM465.3 453.3L473.8 449.2L467 439.4L458.5 443.6zM473.8 449.2L482.4 445L475.5 435L467 439.4zM497.8 450.5L506.3 446L499.4 436L490.9 440.6zM506.3 446L514.8 441.5L508 431.2L499.4 436zM530.2 446.8L538.7 442.1L531.9 431.7L523.3 436.7zM538.7 442.1L547.2 437.2L540.4 426.4L531.9 431.7zM562.6 442.5L571.2 437.5L564.3 426.6L555.8 432zM571.2 437.5L579.7 432.1L572.8 420.8L564.3 426.6zM586.5 442.7L595.1 437.5L588.2 426.6L579.7 432.1zM595.1 437.5L603.6 432.1L596.7 420.7L588.2 426.6zM619 437.5L627.5 432L620.6 420.4L612.1 426.4zM642.9 437.3L651.4 431.7L644.6 420L636 426.1zM651.4 431.7L659.9 425.7L653.1 413.6L644.6 420zM666.8 437L675.3 431.2L668.5 419.5L659.9 425.7zM675.3 431.2L683.8 425.2L677 412.9L668.5 419.5zM699.2 430.7L707.7 424.5L700.9 412.1L692.4 418.8zM723.1 429.9L731.7 423.5L724.8 410.9L716.3 418zM747 428.6L755.6 421.7L748.7 409L740.2 416.5zM770.9 426.5L779.5 419.1L772.6 406.2L764.1 414.2zM794.8 423.5L803.4 415.5L796.5 402.3L788 411zM810.2 427.7L818.8 419.5L811.9 406.7L803.4 415.5zM834.1 423.2L842.7 414.2L835.8 401L827.3 410.6zM849.5 426.6L858 417.3L851.2 404.4L842.7 414.2z"/>
<path fill="#0048ff" stroke="#0048ff" d="M316.8 471.1L325.4 468.6L318.5 459.1L310 461.5zM325.4 468.6L333.9 466.1L327 456.7L318.5 459.1zM333.9 466.1L342.4 463.6L335.6 454.3L327 456.7zM342.4 463.6L351 461L344.1 451.7L335.6 454.3zM351 461L359.5 458.4L352.6 449.1L344.1 451.7zM359.5 458.4L368 455.6L361.2 446.3L352.6 449.1zM368 455.6L376.5 452.7L369.7 443.5L361.2 446.3zM391.9 459L400.4 455.9L393.6 446.6L385.1 449.7zM400.4 455.9L409 452.6L402.1 443.3L393.6 446.6zM409 452.6L417.5 449.2L410.7 439.8L402.1 443.3zM417.5 449.2L426 445.6L419.2 436.1L410.7 439.8zM426 445.6L434.6 441.9L427.7 432.2L419.2 436.1zM441.4 451.4L449.9 447.6L443.1 437.9L434.6 441.9zM449.9 447.6L458.5 443.6L451.6 433.8L443.1 437.9zM458.5 443.6L467 439.4L460.1 429.3L451.6 433.8zM482.4 445L490.9 440.6L484 430.4L475.5 435zM490.9 440.6L499.4 436L492.6 425.4L484 430.4zM499.4 436L508 431.2L501.1 420.2L492.6 425.4zM514.8 441.5L523.3 436.7L516.5 426L508 431.2zM523.3 436.7L531.9 431.7L525 420.6L516.5 426zM547.2 437.2L555.8 432L548.9 420.8L540.4 426.4zM555.8 432L564.3 426.6L557.4 414.9L548.9 420.8zM579.7 432.1L588.2 426.6L581.4 414.8L572.8 420.8zM603.6 432.1L612.1 426.4L605.3 414.5L596.7 420.7zM612.1 426.4L620.6 420.4L613.8 408.1L605.3 414.5zM627.5 432L636 426.1L629.2 414.1L620.6 420.4zM636 426.1L644.6 420L637.7 407.5L629.2 414.1zM659.9 425.7L668.5 419.5L661.6 406.9L653.1 413.6zM683.8 425.2L692.4 418.8L685.5 406.1L677 412.9zM707.7 424.5L716.3 418L709.4 405.1L700.9 412.1zM731.7 423.5L740.2 416.5L733.3 403.4L724.8 410.9zM755.6 421.7L764.1 414.2L757.2 401L748.7 409zM779.5 419.1L788 411L781.1 397.5L772.6 406.2zM803.4 415.5L811.9 406.7L805.1 392.9L796.5 402.3zM818.8 419.5L827.3 410.6L820.4 397.2L811.9 406.7zM858 417.3L866.6 407.3L859.7 393.7L851.2 404.4z"/>
<path fill="#0058ff" stroke="#0058ff" d="M310 461.5L318.5 459.1L311.7 449.6L303.1 451.9zM318.5 459.1L327 456.7L320.2 447.3L311.7 449.6zM327 456.7L335.6 454.3L328.7 444.9L320.2 447.3zM335.6 454.3L344.1 451.7L337.3 442.4L328.7 444.9zM344.1 451.7L352.6 449.1L345.8 439.8L337.3 442.4zM376.5 452.7L385.1 449.7L378.2 440.4L369.7 443.5zM385.1 449.7L393.6 446.6L386.7 437.2L378.2 440.4zM393.6 446.6L402.1 443.3L395.3 433.8L386.7 437.2zM402.1 443.3L410.7 439.8L403.8 430.1L395.3 433.8zM410.7 439.8L419.2 436.1L412.3 426.2L403.8 430.1zM434.6 441.9L443.1 437.9L436.2 428L427.7 432.2zM443.1 437.9L451.6 433.8L444.8 423.4L436.2 428zM451.6 433.8L460.1 429.3L453.3 418.6L444.8 423.4zM467 439.4L475.5 435L468.7 424.6L460.1 429.3zM475.5 435L484 430.4L477.2 419.6L468.7 424.6zM484 430.4L492.6 425.4L485.7 414.2L477.2 419.6zM508 431.2L516.5 426L509.6 414.7L501.1 420.2zM531.9 431.7L540.4 426.4L533.5 414.9L525 420.6zM540.4 426.4L548.9 420.8L542.1 408.9L533.5 414.9zM564.3 426.6L572.8 420.8L566 408.8L557.4 414.9zM588.2 426.6L596.7 420.7L589.9 408.5L581.4 414.8zM596.7 420.7L605.3 414.5L598.4 401.9L589.9 408.5zM620.6 420.4L629.2 414.1L622.3 401.4L613.8 408.1zM644.6 420L653.1 413.6L646.2 400.7L637.7 407.5zM668.5 419.5L677 412.9L670.1 399.9L661.6 406.9zM692.4 418.8L700.9 412.1L694 398.9L685.5 406.1zM700.9 412.1L709.4 405.1L702.6 391.4L694 398.9zM716.3 418L724.8 410.9L718 397.6L709.4 405.1zM724.8 410.9L733.3 403.4L726.5 389.6L718 397.6zM740.2 416.5L748.7 409L741.9 395.4L733.3 403.4zM764.1 414.2L772.6 406.2L765.8 392.3L757.2 401zM788 411L796.5 402.3L789.7 388.2L781.1 397.5zM827.3 410.6L835.8 401L829 386.9L820.4 397.2zM842.7 414.2L851.2 404.4L844.3 390.5L835.8 401z"/>
<path fill="#0068ff" stroke="#0068ff" d="M303.1 451.9L311.7 449.6L304.8 440.1L296.3 442.3zM311.7 449.6L320.2 447.3L313.3 437.9L304.8 440.1zM320.2 447.3L328.7 444.9L321.9 435.6L313.3 437.9zM352.6 449.1L361.2 446.3L354.3 437.1L345.8 439.8zM361.2 446.3L369.7 443.5L362.8 434.2L354.3 437.1zM369.7 443.5L378.2 440.4L371.4 431.1L362.8 434.2zM378.2 440.4L386.7 437.2L379.9 427.7L371.4 431.1zM386.7 437.2L395.3 433.8L388.4 424.1L379.9 427.7zM395.3 433.8L403.8 430.1L396.9 420.1L388.4 424.1zM419.2 436.1L427.7 432.2L420.9 421.9L412.3 426.2zM427.7 432.2L436.2 428L429.4 417.4L420.9 421.9zM436.2 428L444.8 423.4L437.9 412.5L429.4 417.4zM460.1 429.3L468.7 424.6L461.8 413.5L453.3 418.6zM468.7 424.6L477.2 419.6L470.3 408.1L461.8 413.5zM492.6 425.4L501.1 420.2L494.3 408.6L485.7 414.2zM501.1 420.2L509.6 414.7L502.8 402.6L494.3 408.6zM516.5 426L525 420.6L518.2 408.8L509.6 414.7zM525 420.6L533.5 414.9L526.7 402.7L518.2 408.8zM548.9 420.8L557.4 414.9L550.6 402.6L542.1 408.9zM557.4 414.9L566 408.8L559.1 396.1L550.6 402.6zM572.8 420.8L581.4 414.8L574.5 402.4L566 408.8zM581.4 414.8L589.9 408.5L583 395.7L574.5 402.4zM605.3 414.5L613.8 408.1L606.9 395.1L598.4 401.9zM629.2 414.1L637.7 407.5L630.8 394.4L622.3 401.4zM653.1 413.6L661.6 406.9L654.8 393.6L646.2 400.7zM677 412.9L685.5 406.1L678.7 392.6L670.1 399.9zM685.5 406.1L694 398.9L687.2 385L678.7 392.6zM709.4 405.1L718 397.6L711.1 383.5L702.6 391.4zM733.3 403.4L741.9 395.4L735 381.1L726.5 389.6zM748.7 409L757.2 401L750.4 386.9L741.9 395.4zM772.6 406.2L781.1 397.5L774.3 383.2L765.8 392.3zM796.5 402.3L805.1 392.9L798.2 378.3L789.7 388.2zM811.9 406.7L820.4 397.2L813.6 382.8L805.1 392.9zM835.8 401L844.3 390.5L837.5 375.9L829 386.9zM851.2 404.4L859.7 393.7L852.9 379.2L844.3 390.5z"/>
<path fill="#0078ff" stroke="#0078ff" d="M328.7 444.9L337.3 442.4L330.4 433.2L321.9 435.6zM337.3 442.4L345.8 439.8L338.9 430.6L330.4 433.2zM345.8 439.8L354.3 437.1L347.5 427.8L338.9 430.6zM354.3 437.1L362.8 434.2L356 424.8L347.5 427.8zM362.8 434.2L371.4 431.1L364.5 421.4L356 424.8zM371.4 431.1L379.9 427.7L373 417.8L364.5 421.4zM379.9 427.7L388.4 424.1L381.6 413.8L373 417.8zM403.8 430.1L412.3 426.2L405.5 415.8L396.9 420.1zM412.3 426.2L420.9 421.9L414 411.2L405.5 415.8zM420.9 421.9L429.4 417.4L422.5 406.2L414 411.2zM444.8 423.4L453.3 418.6L446.4 407.3L437.9 412.5zM453.3 418.6L461.8 413.5L455 401.8L446.4 407.3zM477.2 419.6L485.7 414.2L478.9 402.3L470.3 408.1zM485.7 414.2L494.3 408.6L487.4 396.3L478.9 402.3zM509.6 414.7L518.2 408.8L511.3 396.4L502.8 402.6zM533.5 414.9L542.1 408.9L535.2 396.3L526.7 402.7zM542.1 408.9L550.6 402.6L543.7 389.7L535.2 396.3zM566 408.8L574.5 402.4L567.7 389.3L559.1 396.1zM589.9 408.5L598.4 401.9L591.6 388.7L583 395.7zM613.8 408.1L622.3 401.4L615.5 388L606.9 395.1zM637.7 407.5L646.2 400.7L639.4 387.2L630.8 394.4zM661.6 406.9L670.1 399.9L663.3 386.2L654.8 393.6zM670.1 399.9L678.7 392.6L671.8 378.5L663.3 386.2zM694 398.9L702.6 391.4L695.7 377.1L687.2 385zM718 397.6L726.5 389.6L719.6 375.1L711.1 383.5zM741.9 395.4L750.4 386.9L743.5 372.2L735 381.1zM757.2 401L765.8 392.3L758.9 377.8L750.4 386.9zM781.1 397.5L789.7 388.2L782.8 373.4L774.3 383.2zM820.4 397.2L829 386.9L822.1 372L813.6 382.8z"/>
<path fill="#0087ff" stroke="#0087ff" d="M296.3 442.3L304.8 440.1L298 430.8L289.4 432.8zM304.8 440.1L313.3 437.9L306.5 428.8L298 430.8zM313.3 437.9L321.9 435.6L315 426.5L306.5 428.8zM321.9 435.6L330.4 433.2L323.5 424.1L315 426.5zM330.4 433.2L338.9 430.6L332.1 421.4L323.5 424.1zM338.9 430.6L347.5 427.8L340.6 418.3L332.1 421.4zM347.5 427.8L356 424.8L349.1 415L340.6 418.3zM356 424.8L364.5 421.4L357.7 411.3L349.1 415zM364.5 421.4L373 417.8L366.2 407.3L357.7 411.3zM388.4 424.1L396.9 420.1L390.1 409.4L381.6 413.8zM396.9 420.1L405.5 415.8L398.6 404.7L390.1 409.4zM405.5 415.8L414 411.2L407.2 399.7L398.6 404.7zM429.4 417.4L437.9 412.5L431.1 400.9L422.5 406.2zM437.9 412.5L446.4 407.3L439.6 395.3L431.1 400.9zM461.8 413.5L470.3 408.1L463.5 395.9L455 401.8zM470.3 408.1L478.9 402.3L472 389.8L463.5 395.9zM494.3 408.6L502.8 402.6L495.9 390L487.4 396.3zM518.2 408.8L526.7 402.7L519.8 389.9L511.3 396.4zM526.7 402.7L535.2 396.3L528.4 383.2L519.8 389.9zM550.6 402.6L559.1 396.1L552.3 382.8L543.7 389.7zM574.5 402.4L583 395.7L576.2 382.3L567.7 389.3zM598.4 401.9L606.9 395.1L600.1 381.6L591.6 388.7zM622.3 401.4L630.8 394.4L624 380.7L615.5 388zM646.2 400.7L654.8 393.6L647.9 379.7L639.4 387.2zM654.8 393.6L663.3 386.2L656.4 372L647.9 379.7zM678.7 392.6L687.2 385L680.3 370.6L671.8 378.5zM702.6 391.4L711.1 383.5L704.2 368.8L695.7 377.1zM726.5 389.6L735 381.1L728.2 366.2L719.6 375.1zM765.8 392.3L774.3 383.2L767.4 368.2L758.9 377.8zM789.7 388.2L798.2 378.3L791.3 363.1L782.8 373.4zM805.1 392.9L813.6 382.8L806.7 367.8L798.2 378.3zM829 386.9L837.5 375.9L830.6 360.5L822.1 372zM844.3 390.5L852.9 379.2L846 364.1L837.5 375.9z"/>
<path fill="#0097ff" stroke="#0097ff" d="M289.4 432.8L298 430.8L291.1 421.8L282.6 423.6zM298 430.8L306.5 428.8L299.6 419.7L291.1 421.8zM306.5 428.8L315 426.5L308.2 417.4L299.6 419.7zM315 426.5L323.5 424.1L316.7 414.7L308.2 417.4zM323.5 424.1L332.1 421.4L325.2 411.7L316.7 414.7zM332.1 421.4L340.6 418.3L333.8 408.3L325.2 411.7zM340.6 418.3L349.1 415L342.3 404.7L333.8 408.3zM349.1 415L357.7 411.3L350.8 400.6L342.3 404.7zM373 417.8L381.6 413.8L374.7 402.9L366.2 407.3zM381.6 413.8L390.1 409.4L383.2 398.2L374.7 402.9zM390.1 409.4L398.6 404.7L391.8 393L383.2 398.2zM414 411.2L422.5 406.2L415.7 394.3L407.2 399.7zM422.5 406.2L431.1 400.9L424.2 388.6L415.7 394.3zM446.4 407.3L455 401.8L448.1 389.3L439.6 395.3zM455 401.8L463.5 395.9L456.6 383.1L448.1 389.3zM478.9 402.3L487.4 396.3L480.6 383.4L472 389.8zM502.8 402.6L511.3 396.4L504.5 383.4L495.9 390zM511.3 396.4L519.8 389.9L513 376.7L504.5 383.4zM535.2 396.3L543.7 389.7L536.9 376.3L528.4 383.2zM559.1 396.1L567.7 389.3L560.8 375.8L552.3 382.8zM583 395.7L591.6 388.7L584.7 375.1L576.2 382.3zM606.9 395.1L615.5 388L608.6 374.2L600.1 381.6zM630.8 394.4L639.4 387.2L632.5 373.2L624 380.7zM639.4 387.2L647.9 379.7L641.1 365.3L632.5 373.2zM663.3 386.2L671.8 378.5L665 363.9L656.4 372zM687.2 385L695.7 377.1L688.9 362.2L680.3 370.6zM711.1 383.5L719.6 375.1L712.8 359.9L704.2 368.8zM750.4 386.9L758.9 377.8L752.1 362.7L743.5 372.2zM774.3 383.2L782.8 373.4L776 358.1L767.4 368.2zM813.6 382.8L822.1 372L815.3 356.6L806.7 367.8z"/>
<path fill="#00a7ff" stroke="#00a7ff" d="M282.6 423.6L291.1 421.8L284.3 412.8L275.7 414.7zM291.1 421.8L299.6 419.7L292.8 410.5L284.3 412.8zM299.6 419.7L308.2 417.4L301.3 407.8L292.8 410.5zM308.2 417.4L316.7 414.7L309.8 404.8L301.3 407.8zM316.7 414.7L325.2 411.7L318.4 401.5L309.8 404.8zM325.2 411.7L333.8 408.3L326.9 397.8L318.4 401.5zM333.8 408.3L342.3 404.7L335.4 393.7L326.9 397.8zM357.7 411.3L366.2 407.3L359.3 396.2L350.8 400.6zM366.2 407.3L374.7 402.9L367.9 391.3L359.3 396.2zM374.7 402.9L383.2 398.2L376.4 386.1L367.9 391.3zM398.6 404.7L407.2 399.7L400.3 387.5L391.8 393zM407.2 399.7L415.7 394.3L408.8 381.7L400.3 387.5zM431.1 400.9L439.6 395.3L432.7 382.6L424.2 388.6zM439.6 395.3L448.1 389.3L441.3 376.3L432.7 382.6zM463.5 395.9L472 389.8L465.2 376.7L456.6 383.1zM487.4 396.3L495.9 390L489.1 376.8L480.6 383.4zM495.9 390L504.5 383.4L497.6 369.9L489.1 376.8zM519.8 389.9L528.4 383.2L521.5 369.6L513 376.7zM543.7 389.7L552.3 382.8L545.4 369.1L536.9 376.3zM567.7 389.3L576.2 382.3L569.3 368.4L560.8 375.8zM591.6 388.7L600.1 381.6L593.2 367.5L584.7 375.1zM615.5 388L624 380.7L617.1 366.5L608.6 374.2zM624 380.7L632.5 373.2L625.7 358.3L617.1 366.5zM647.9 379.7L656.4 372L649.6 356.9L641.1 365.3zM671.8 378.5L680.3 370.6L673.5 355.3L665 363.9zM695.7 377.1L704.2 368.8L697.4 353.3L688.9 362.2zM735 381.1L743.5 372.2L736.7 356.8L728.2 366.2zM758.9 377.8L767.4 368.2L760.6 352.5L752.1 362.7zM782.8 373.4L791.3 363.1L784.5 347.1L776 358.1zM798.2 378.3L806.7 367.8L799.9 352.1L791.3 363.1zM837.5 375.9L846 364.1L839.2 348.3L830.6 360.5z"/>
<path fill="#00b7ff" stroke="#00b7ff" d="M275.7 414.7L284.3 412.8L277.4 403.3L268.9 405.6zM284.3 412.8L292.8 410.5L285.9 400.7L277.4 403.3zM292.8 410.5L301.3 407.8L294.5 397.8L285.9 400.7zM301.3 407.8L309.8 404.8L303 394.5L294.5 397.8zM309.8 404.8L318.4 401.5L311.5 390.8L303 394.5zM318.4 401.5L326.9 397.8L320 386.6L311.5 390.8zM342.3 404.7L350.8 400.6L344 389.2L335.4 393.7zM350.8 400.6L359.3 396.2L352.5 384.2L344 389.2zM359.3 396.2L367.9 391.3L361 378.9L352.5 384.2zM383.2 398.2L391.8 393L384.9 380.5L376.4 386.1zM391.8 393L400.3 387.5L393.4 374.6L384.9 380.5zM415.7 394.3L424.2 388.6L417.4 375.6L408.8 381.7zM424.2 388.6L432.7 382.6L425.9 369.3L417.4 375.6zM448.1 389.3L456.6 383.1L449.8 369.8L441.3 376.3zM472 389.8L480.6 383.4L473.7 370L465.2 376.7zM504.5 383.4L513 376.7L506.1 362.7L497.6 369.9zM528.4 383.2L536.9 376.3L530 362.2L521.5 369.6zM552.3 382.8L560.8 375.8L553.9 361.5L545.4 369.1zM576.2 382.3L584.7 375.1L577.9 360.6L569.3 368.4zM600.1 381.6L608.6 374.2L601.8 359.5L593.2 367.5zM632.5 373.2L641.1 365.3L634.2 349.8L625.7 358.3zM656.4 372L665 363.9L658.1 348.2L649.6 356.9zM680.3 370.6L688.9 362.2L682 346.3L673.5 355.3zM719.6 375.1L728.2 366.2L721.3 350.4L712.8 359.9zM743.5 372.2L752.1 362.7L745.2 346.6L736.7 356.8zM767.4 368.2L776 358.1L769.1 341.7L760.6 352.5zM806.7 367.8L815.3 356.6L808.4 340.2L799.9 352.1zM822.1 372L830.6 360.5L823.8 344.5L815.3 356.6z"/>
<path fill="#00c7ff" stroke="#00c7ff" d="M268.9 405.6L277.4 403.3L270.6 393.5L262 396zM277.4 403.3L285.9 400.7L279.1 390.6L270.6 393.5zM285.9 400.7L294.5 397.8L287.6 387.3L279.1 390.6zM294.5 397.8L303 394.5L296.1 383.5L287.6 387.3zM326.9 397.8L335.4 393.7L328.6 382L320 386.6zM335.4 393.7L344 389.2L337.1 376.9L328.6 382zM367.9 391.3L376.4 386.1L369.5 373.2L361 378.9zM376.4 386.1L384.9 380.5L378.1 367.4L369.5 373.2zM400.3 387.5L408.8 381.7L402 368.5L393.4 374.6zM432.7 382.6L441.3 376.3L434.4 362.8L425.9 369.3zM456.6 383.1L465.2 376.7L458.3 363L449.8 369.8zM480.6 383.4L489.1 376.8L482.2 363L473.7 370zM489.1 376.8L497.6 369.9L490.8 355.7L482.2 363zM513 376.7L521.5 369.6L514.7 355.2L506.1 362.7zM536.9 376.3L545.4 369.1L538.6 354.5L530 362.2zM560.8 375.8L569.3 368.4L562.5 353.6L553.9 361.5zM584.7 375.1L593.2 367.5L586.4 352.5L577.9 360.6zM608.6 374.2L617.1 366.5L610.3 351.2L601.8 359.5zM704.2 368.8L712.8 359.9L705.9 343.7L697.4 353.3zM728.2 366.2L736.7 356.8L729.8 340.3L721.3 350.4zM752.1 362.7L760.6 352.5L753.7 335.8L745.2 346.6zM791.3 363.1L799.9 352.1L793 335.4L784.5 347.1zM830.6 360.5L839.2 348.3L832.3 331.6L823.8 344.5z"/>
<path fill="#00d7ff" stroke="#00d7ff" d="M262 396L270.6 393.5L263.7 383.2L255.2 386.1zM270.6 393.5L279.1 390.6L272.2 379.8L263.7 383.2zM303 394.5L311.5 390.8L304.7 379.2L296.1 383.5zM311.5 390.8L320 386.6L313.2 374.4L304.7 379.2zM320 386.6L328.6 382L321.7 369.2L313.2 374.4zM344 389.2L352.5 384.2L345.6 371.4L337.1 376.9zM352.5 384.2L361 378.9L354.2 365.8L345.6 371.4zM384.9 380.5L393.4 374.6L386.6 361.2L378.1 367.4zM408.8 381.7L417.4 375.6L410.5 362.2L402 368.5zM417.4 375.6L425.9 369.3L419 355.5L410.5 362.2zM441.3 376.3L449.8 369.8L442.9 355.9L434.4 362.8zM465.2 376.7L473.7 370L466.8 355.9L458.3 363zM473.7 370L482.2 363L475.4 348.5L466.8 355.9zM497.6 369.9L506.1 362.7L499.3 348.1L490.8 355.7zM521.5 369.6L530 362.2L523.2 347.4L514.7 355.2zM545.4 369.1L553.9 361.5L547.1 346.4L538.6 354.5zM569.3 368.4L577.9 360.6L571 345.3L562.5 353.6zM593.2 367.5L601.8 359.5L594.9 344.1L586.4 352.5zM617.1 366.5L625.7 358.3L618.8 342.6L610.3 351.2zM641.1 365.3L649.6 356.9L642.7 340.9L634.2 349.8zM665 363.9L673.5 355.3L666.6 339.1L658.1 348.2zM688.9 362.2L697.4 353.3L690.5 336.8L682 346.3zM712.8 359.9L721.3 350.4L714.5 333.6L705.9 343.7zM736.7 356.8L745.2 346.6L738.4 329.5L729.8 340.3zM776 358.1L784.5 347.1L777.6 330.1L769.1 341.7zM815.3 356.6L823.8 344.5L816.9 327.5L808.4 340.2z"/>
<path fill="#00e7ff" stroke="#00e7ff" d="M279.1 390.6L287.6 387.3L280.8 375.9L272.2 379.8zM287.6 387.3L296.1 383.5L289.3 371.4L280.8 375.9zM296.1 383.5L304.7 379.2L297.8 366.5L289.3 371.4zM304.7 379.2L313.2 374.4L306.3 361.3L297.8 366.5zM328.6 382L337.1 376.9L330.3 363.8L321.7 369.2zM337.1 376.9L345.6 371.4L338.8 358.1L330.3 363.8zM361 378.9L369.5 373.2L362.7 359.9L354.2 365.8zM369.5 373.2L378.1 367.4L371.2 353.8L362.7 359.9zM393.4 374.6L402 368.5L395.1 354.8L386.6 361.2zM402 368.5L410.5 362.2L403.7 348.2L395.1 354.8zM425.9 369.3L434.4 362.8L427.6 348.6L419 355.5zM449.8 369.8L458.3 363L451.5 348.7L442.9 355.9zM482.2 363L490.8 355.7L483.9 340.8L475.4 348.5zM506.1 362.7L514.7 355.2L507.8 340.2L499.3 348.1zM530 362.2L538.6 354.5L531.7 339.2L523.2 347.4zM553.9 361.5L562.5 353.6L555.6 338.1L547.1 346.4zM577.9 360.6L586.4 352.5L579.5 336.8L571 345.3zM601.8 359.5L610.3 351.2L603.4 335.3L594.9 344.1zM625.7 358.3L634.2 349.8L627.3 333.6L618.8 342.6zM649.6 356.9L658.1 348.2L651.3 331.7L642.7 340.9zM673.5 355.3L682 346.3L675.2 329.6L666.6 339.1zM697.4 353.3L705.9 343.7L699.1 326.7L690.5 336.8zM721.3 350.4L729.8 340.3L723 323L714.5 333.6zM760.6 352.5L769.1 341.7L762.3 324.3L753.7 335.8zM784.5 347.1L793 335.4L786.2 317.8L777.6 330.1zM799.9 352.1L808.4 340.2L801.6 322.9L793 335.4z"/>
<path fill="#00f7ff" stroke="#00f7ff" d="M255.2 386.1L263.7 383.2L256.9 372L248.3 375.5zM263.7 383.2L272.2 379.8L265.4 367.9L256.9 372zM272.2 379.8L280.8 375.9L273.9 363.3L265.4 367.9zM280.8 375.9L289.3 371.4L282.4 358.4L273.9 363.3zM313.2 374.4L321.7 369.2L314.9 355.9L306.3 361.3zM345.6 371.4L354.2 365.8L347.3 352.3L338.8 358.1zM354.2 365.8L362.7 359.9L355.8 346.2L347.3 352.3zM378.1 367.4L386.6 361.2L379.7 347.4L371.2 353.8zM410.5 362.2L419 355.5L412.2 341.2L403.7 348.2zM434.4 362.8L442.9 355.9L436.1 341.4L427.6 348.6zM458.3 363L466.8 355.9L460 341.3L451.5 348.7zM466.8 355.9L475.4 348.5L468.5 333.5L460 341.3zM490.8 355.7L499.3 348.1L492.4 332.9L483.9 340.8zM514.7 355.2L523.2 347.4L516.3 332L507.8 340.2zM538.6 354.5L547.1 346.4L540.2 330.8L531.7 339.2zM562.5 353.6L571 345.3L564.2 329.5L555.6 338.1zM586.4 352.5L594.9 344.1L588.1 328L579.5 336.8zM610.3 351.2L618.8 342.6L612 326.3L603.4 335.3zM634.2 349.8L642.7 340.9L635.9 324.4L627.3 333.6zM658.1 348.2L666.6 339.1L659.8 322.2L651.3 331.7zM682 346.3L690.5 336.8L683.7 319.6L675.2 329.6zM705.9 343.7L714.5 333.6L707.6 316.2L699.1 326.7zM745.2 346.6L753.7 335.8L746.9 318.2L738.4 329.5zM769.1 341.7L777.6 330.1L770.8 312.2L762.3 324.3zM808.4 340.2L816.9 327.5L810.1 309.7L801.6 322.9zM823.8 344.5L832.3 331.6L825.5 314L816.9 327.5z"/>
<path fill="#08fff7" stroke="#08fff7" d="M248.3 375.5L256.9 372L250 359.6L241.5 363.9zM256.9 372L265.4 367.9L258.5 354.9L250 359.6zM289.3 371.4L297.8 366.5L291 353.2L282.4 358.4zM297.8 366.5L306.3 361.3L299.5 347.8L291 353.2zM321.7 369.2L330.3 363.8L323.4 350.3L314.9 355.9zM330.3 363.8L338.8 358.1L331.9 344.5L323.4 350.3zM362.7 359.9L371.2 353.8L364.4 339.8L355.8 346.2zM386.6 361.2L395.1 354.8L388.3 340.7L379.7 347.4zM395.1 354.8L403.7 348.2L396.8 333.7L388.3 340.7zM419 355.5L427.6 348.6L420.7 334L412.2 341.2zM442.9 355.9L451.5 348.7L444.6 333.9L436.1 341.4zM475.4 348.5L483.9 340.8L477.1 325.5L468.5 333.5zM499.3 348.1L507.8 340.2L501 324.7L492.4 332.9zM523.2 347.4L531.7 339.2L524.9 323.5L516.3 332zM547.1 346.4L555.6 338.1L548.8 322.2L540.2 330.8zM571 345.3L579.5 336.8L572.7 320.7L564.2 329.5zM594.9 344.1L603.4 335.3L596.6 318.9L588.1 328zM618.8 342.6L627.3 333.6L620.5 317L612 326.3zM642.7 340.9L651.3 331.7L644.4 314.8L635.9 324.4zM666.6 339.1L675.2 329.6L668.3 312.4L659.8 322.2zM690.5 336.8L699.1 326.7L692.2 309.2L683.7 319.6zM729.8 340.3L738.4 329.5L731.5 311.8L723 323zM753.7 335.8L762.3 324.3L755.4 306.3L746.9 318.2zM793 335.4L801.6 322.9L794.7 304.8L786.2 317.8z"/>
<path fill="#18ffe7" stroke="#18ffe7" d="M265.4 367.9L273.9 363.3L267.1 350L258.5 354.9zM273.9 363.3L282.4 358.4L275.6 344.9L267.1 350zM306.3 361.3L314.9 355.9L308 342.3L299.5 347.8zM314.9 355.9L323.4 350.3L316.5 336.6L308 342.3zM338.8 358.1L347.3 352.3L340.5 338.4L331.9 344.5zM347.3 352.3L355.8 346.2L349 332L340.5 338.4zM371.2 353.8L379.7 347.4L372.9 333.1L364.4 339.8zM403.7 348.2L412.2 341.2L405.3 326.5L396.8 333.7zM427.6 348.6L436.1 341.4L429.2 326.5L420.7 334zM451.5 348.7L460 341.3L453.1 326.2L444.6 333.9zM483.9 340.8L492.4 332.9L485.6 317.3L477.1 325.5zM507.8 340.2L516.3 332L509.5 316.2L501 324.7zM531.7 339.2L540.2 330.8L533.4 314.9L524.9 323.5zM555.6 338.1L564.2 329.5L557.3 313.3L548.8 322.2zM579.5 336.8L588.1 328L581.2 311.6L572.7 320.7zM603.4 335.3L612 326.3L605.1 309.6L596.6 318.9zM627.3 333.6L635.9 324.4L629 307.4L620.5 317zM651.3 331.7L659.8 322.2L652.9 305L644.4 314.8zM675.2 329.6L683.7 319.6L676.8 302L668.3 312.4zM714.5 333.6L723 323L716.1 305.2L707.6 316.2zM738.4 329.5L746.9 318.2L740 300.1L731.5 311.8zM777.6 330.1L786.2 317.8L779.3 299.5L770.8 312.2zM816.9 327.5L825.5 314L818.6 295.7L810.1 309.7z"/>
<path fill="#28ffd7" stroke="#28ffd7" d="M241.5 363.9L250 359.6L243.2 346.2L234.6 350.9zM250 359.6L258.5 354.9L251.7 341.3L243.2 346.2zM258.5 354.9L267.1 350L260.2 336.4L251.7 341.3zM282.4 358.4L291 353.2L284.1 339.6L275.6 344.9zM291 353.2L299.5 347.8L292.6 334.2L284.1 339.6zM323.4 350.3L331.9 344.5L325.1 330.5L316.5 336.6zM355.8 346.2L364.4 339.8L357.5 325.3L349 332zM379.7 347.4L388.3 340.7L381.4 326.1L372.9 333.1zM388.3 340.7L396.8 333.7L389.9 318.8L381.4 326.1zM412.2 341.2L420.7 334L413.9 318.9L405.3 326.5zM436.1 341.4L444.6 333.9L437.8 318.7L429.2 326.5zM460 341.3L468.5 333.5L461.7 318.1L453.1 326.2zM492.4 332.9L501 324.7L494.1 308.8L485.6 317.3zM516.3 332L524.9 323.5L518 307.5L509.5 316.2zM540.2 330.8L548.8 322.2L541.9 306L533.4 314.9zM564.2 329.5L572.7 320.7L565.8 304.2L557.3 313.3zM588.1 328L596.6 318.9L589.7 302.2L581.2 311.6zM612 326.3L620.5 317L613.6 300L605.1 309.6zM699.1 326.7L707.6 316.2L700.7 298.3L692.2 309.2zM723 323L731.5 311.8L724.7 293.5L716.1 305.2zM762.3 324.3L770.8 312.2L763.9 293.8L755.4 306.3zM801.6 322.9L810.1 309.7L803.2 291.1L794.7 304.8z"/>
<path fill="#38ffc7" stroke="#38ffc7" d="M234.6 350.9L243.2 346.2L236.3 332.5L227.8 337.2zM267.1 350L275.6 344.9L268.7 331.3L260.2 336.4zM299.5 347.8L308 342.3L301.2 328.5L292.6 334.2zM308 342.3L316.5 336.6L309.7 322.5L301.2 328.5zM331.9 344.5L340.5 338.4L333.6 324.1L325.1 330.5zM340.5 338.4L349 332L342.1 317.4L333.6 324.1zM364.4 339.8L372.9 333.1L366 318.3L357.5 325.3zM396.8 333.7L405.3 326.5L398.5 311.3L389.9 318.8zM420.7 334L429.2 326.5L422.4 311.1L413.9 318.9zM444.6 333.9L453.1 326.2L446.3 310.6L437.8 318.7zM468.5 333.5L477.1 325.5L470.2 309.9L461.7 318.1zM635.9 324.4L644.4 314.8L637.6 297.5L629 307.4zM659.8 322.2L668.3 312.4L661.5 294.7L652.9 305zM683.7 319.6L692.2 309.2L685.4 291.1L676.8 302zM707.6 316.2L716.1 305.2L709.3 286.7L700.7 298.3zM746.9 318.2L755.4 306.3L748.6 287.7L740 300.1zM786.2 317.8L794.7 304.8L787.9 286L779.3 299.5z"/>
<path fill="#48ffb7" stroke="#48ffb7" d="M243.2 346.2L251.7 341.3L244.8 327.7L236.3 332.5zM251.7 341.3L260.2 336.4L253.4 322.8L244.8 327.7zM275.6 344.9L284.1 339.6L277.3 325.9L268.7 331.3zM284.1 339.6L292.6 334.2L285.8 320.2L277.3 325.9zM316.5 336.6L325.1 330.5L318.2 316.1L309.7 322.5zM349 332L357.5 325.3L350.7 310.4L342.1 317.4zM372.9 333.1L381.4 326.1L374.6 311.1L366 318.3zM405.3 326.5L413.9 318.9L407 303.4L398.5 311.3zM429.2 326.5L437.8 318.7L430.9 303L422.4 311.1zM453.1 326.2L461.7 318.1L454.8 302.3L446.3 310.6zM477.1 325.5L485.6 317.3L478.7 301.2L470.2 309.9zM501 324.7L509.5 316.2L502.6 300L494.1 308.8zM524.9 323.5L533.4 314.9L526.5 298.4L518 307.5zM548.8 322.2L557.3 313.3L550.5 296.7L541.9 306zM572.7 320.7L581.2 311.6L574.4 294.6L565.8 304.2zM596.6 318.9L605.1 309.6L598.3 292.4L589.7 302.2zM620.5 317L629 307.4L622.2 289.9L613.6 300zM644.4 314.8L652.9 305L646.1 287L637.6 297.5zM668.3 312.4L676.8 302L670 283.7L661.5 294.7zM692.2 309.2L700.7 298.3L693.9 279.5L685.4 291.1zM731.5 311.8L740 300.1L733.2 281.2L724.7 293.5zM770.8 312.2L779.3 299.5L772.5 280.4L763.9 293.8zM810.1 309.7L818.6 295.7L811.8 276.3L803.2 291.1z"/>
<path fill="#58ffa7" stroke="#58ffa7" d="M227.8 337.2L236.3 332.5L229.4 319L220.9 323.6zM260.2 336.4L268.7 331.3L261.9 317.5L253.4 322.8zM268.7 331.3L277.3 325.9L270.4 311.8L261.9 317.5zM292.6 334.2L301.2 328.5L294.3 314.2L285.8 320.2zM301.2 328.5L309.7 322.5L302.8 307.8L294.3 314.2zM325.1 330.5L333.6 324.1L326.8 309.4L318.2 316.1zM333.6 324.1L342.1 317.4L335.3 302.3L326.8 309.4zM357.5 325.3L366 318.3L359.2 303.1L350.7 310.4zM381.4 326.1L389.9 318.8L383.1 303.4L374.6 311.1zM413.9 318.9L422.4 311.1L415.5 295.1L407 303.4zM437.8 318.7L446.3 310.6L439.4 294.5L430.9 303zM461.7 318.1L470.2 309.9L463.3 293.5L454.8 302.3zM485.6 317.3L494.1 308.8L487.3 292.3L478.7 301.2zM509.5 316.2L518 307.5L511.2 290.8L502.6 300zM533.4 314.9L541.9 306L535.1 289L526.5 298.4zM557.3 313.3L565.8 304.2L559 286.9L550.5 296.7zM581.2 311.6L589.7 302.2L582.9 284.6L574.4 294.6zM605.1 309.6L613.6 300L606.8 282.1L598.3 292.4zM629 307.4L637.6 297.5L630.7 279.2L622.2 289.9zM652.9 305L661.5 294.7L654.6 276L646.1 287zM716.1 305.2L724.7 293.5L717.8 274.3L709.3 286.7zM755.4 306.3L763.9 293.8L757.1 274.4L748.6 287.7zM794.7 304.8L803.2 291.1L796.4 271.5L787.9 286z"/>
<path fill="#68ff97" stroke="#68ff97" d="M236.3 332.5L244.8 327.7L238 314.1L229.4 319zM244.8 327.7L253.4 322.8L246.5 308.8L238 314.1zM277.3 325.9L285.8 320.2L278.9 305.8L270.4 311.8zM309.7 322.5L318.2 316.1L311.4 301.1L302.8 307.8zM342.1 317.4L350.7 310.4L343.8 294.8L335.3 302.3zM366 318.3L374.6 311.1L367.7 295.3L359.2 303.1zM389.9 318.8L398.5 311.3L391.6 295.4L383.1 303.4zM422.4 311.1L430.9 303L424.1 286.5L415.5 295.1zM446.3 310.6L454.8 302.3L448 285.6L439.4 294.5zM470.2 309.9L478.7 301.2L471.9 284.4L463.3 293.5zM494.1 308.8L502.6 300L495.8 282.9L487.3 292.3zM518 307.5L526.5 298.4L519.7 281.1L511.2 290.8zM541.9 306L550.5 296.7L543.6 279L535.1 289zM565.8 304.2L574.4 294.6L567.5 276.7L559 286.9zM589.7 302.2L598.3 292.4L591.4 274.1L582.9 284.6zM613.6 300L622.2 289.9L615.3 271.1L606.8 282.1zM637.6 297.5L646.1 287L639.2 267.8L630.7 279.2zM676.8 302L685.4 291.1L678.5 272L670 283.7zM700.7 298.3L709.3 286.7L702.4 267.1L693.9 279.5zM740 300.1L748.6 287.7L741.7 268L733.2 281.2zM763.9 293.8L772.5 280.4L765.6 260.2L757.1 274.4zM779.3 299.5L787.9 286L781 266.1L772.5 280.4z"/>
<path fill="#78ff87" stroke="#78ff87" d="M220.9 323.6L229.4 319L222.6 305.2L214.1 310zM253.4 322.8L261.9 317.5L255 303.1L246.5 308.8zM261.9 317.5L270.4 311.8L263.6 297.1L255 303.1zM285.8 320.2L294.3 314.2L287.5 299.3L278.9 305.8zM294.3 314.2L302.8 307.8L296 292.4L287.5 299.3zM318.2 316.1L326.8 309.4L319.9 293.8L311.4 301.1zM350.7 310.4L359.2 303.1L352.3 286.9L343.8 294.8zM374.6 311.1L383.1 303.4L376.2 287.1L367.7 295.3zM398.5 311.3L407 303.4L400.2 287L391.6 295.4zM430.9 303L439.4 294.5L432.6 277.5L424.1 286.5zM454.8 302.3L463.3 293.5L456.5 276.3L448 285.6zM478.7 301.2L487.3 292.3L480.4 274.8L471.9 284.4zM502.6 300L511.2 290.8L504.3 273L495.8 282.9zM526.5 298.4L535.1 289L528.2 270.9L519.7 281.1zM550.5 296.7L559 286.9L552.1 268.5L543.6 279zM574.4 294.6L582.9 284.6L576 265.8L567.5 276.7zM661.5 294.7L670 283.7L663.1 264L654.6 276zM685.4 291.1L693.9 279.5L687 259.3L678.5 272zM724.7 293.5L733.2 281.2L726.3 261.1L717.8 274.3zM748.6 287.7L757.1 274.4L750.2 253.7L741.7 268zM803.2 291.1L811.8 276.3L804.9 255.9L796.4 271.5z"/>
<path fill="#87ff78" stroke="#87ff78" d="M229.4 319L238 314.1L231.1 299.9L222.6 305.2zM238 314.1L246.5 308.8L239.7 294.2L231.1 299.9zM270.4 311.8L278.9 305.8L272.1 290.5L263.6 297.1zM302.8 307.8L311.4 301.1L304.5 285.1L296 292.4zM326.8 309.4L335.3 302.3L328.4 286.2L319.9 293.8zM359.2 303.1L367.7 295.3L360.9 278.7L352.3 286.9zM383.1 303.4L391.6 295.4L384.8 278.7L376.2 287.1zM407 303.4L415.5 295.1L408.7 278.3L400.2 287zM463.3 293.5L471.9 284.4L465 266.5L456.5 276.3zM487.3 292.3L495.8 282.9L488.9 264.7L480.4 274.8zM511.2 290.8L519.7 281.1L512.8 262.5L504.3 273zM598.3 292.4L606.8 282.1L599.9 262.8L591.4 274.1zM622.2 289.9L630.7 279.2L623.8 259.4L615.3 271.1zM646.1 287L654.6 276L647.8 255.6L639.2 267.8zM670 283.7L678.5 272L671.7 251L663.1 264zM709.3 286.7L717.8 274.3L711 253.6L702.4 267.1zM733.2 281.2L741.7 268L734.9 246.7L726.3 261.1zM772.5 280.4L781 266.1L774.1 244.9L765.6 260.2zM787.9 286L796.4 271.5L789.5 250.7L781 266.1z"/>
<path fill="#97ff68" stroke="#97ff68" d="M214.1 310L222.6 305.2L215.7 290.7L207.2 296zM246.5 308.8L255 303.1L248.2 288.1L239.7 294.2zM278.9 305.8L287.5 299.3L280.6 283.4L272.1 290.5zM311.4 301.1L319.9 293.8L313.1 277.4L304.5 285.1zM335.3 302.3L343.8 294.8L337 278.3L328.4 286.2zM343.8 294.8L352.3 286.9L345.5 270L337 278.3zM367.7 295.3L376.2 287.1L369.4 270.2L360.9 278.7zM391.6 295.4L400.2 287L393.3 269.9L384.8 278.7zM415.5 295.1L424.1 286.5L417.2 269.1L408.7 278.3zM439.4 294.5L448 285.6L441.1 268L432.6 277.5zM535.1 289L543.6 279L536.7 260L528.2 270.9zM559 286.9L567.5 276.7L560.7 257.2L552.1 268.5zM582.9 284.6L591.4 274.1L584.6 254L576 265.8zM606.8 282.1L615.3 271.1L608.5 250.5L599.9 262.8zM630.7 279.2L639.2 267.8L632.4 246.7L623.8 259.4zM693.9 279.5L702.4 267.1L695.6 245.5L687 259.3zM757.1 274.4L765.6 260.2L758.8 238.3L750.2 253.7z"/>
<path fill="#a7ff58" stroke="#a7ff58" d="M222.6 305.2L231.1 299.9L224.3 285L215.7 290.7zM231.1 299.9L239.7 294.2L232.8 278.6L224.3 285zM255 303.1L263.6 297.1L256.7 281.3L248.2 288.1zM263.6 297.1L272.1 290.5L265.2 274.1L256.7 281.3zM287.5 299.3L296 292.4L289.1 276L280.6 283.4zM296 292.4L304.5 285.1L297.7 268.2L289.1 276zM319.9 293.8L328.4 286.2L321.6 269.4L313.1 277.4zM376.2 287.1L384.8 278.7L377.9 261.3L369.4 270.2zM400.2 287L408.7 278.3L401.8 260.6L393.3 269.9zM424.1 286.5L432.6 277.5L425.7 259.5L417.2 269.1zM448 285.6L456.5 276.3L449.6 258L441.1 268zM471.9 284.4L480.4 274.8L473.6 256.1L465 266.5zM495.8 282.9L504.3 273L497.5 253.8L488.9 264.7zM519.7 281.1L528.2 270.9L521.4 251.2L512.8 262.5zM543.6 279L552.1 268.5L545.3 248.3L536.7 260zM567.5 276.7L576 265.8L569.2 245L560.7 257.2zM591.4 274.1L599.9 262.8L593.1 241.3L584.6 254zM654.6 276L663.1 264L656.3 242.2L647.8 255.6zM678.5 272L687 259.3L680.2 236.9L671.7 251zM717.8 274.3L726.3 261.1L719.5 238.9L711 253.6zM741.7 268L750.2 253.7L743.4 231L734.9 246.7zM796.4 271.5L804.9 255.9L798.1 234.1L789.5 250.7z"/>
<path fill="#b7ff48" stroke="#b7ff48" d="M207.2 296L215.7 290.7L208.9 275.3L200.4 281.3zM239.7 294.2L248.2 288.1L241.3 271.6L232.8 278.6zM272.1 290.5L280.6 283.4L273.8 266.6L265.2 274.1zM304.5 285.1L313.1 277.4L306.2 260.3L297.7 268.2zM328.4 286.2L337 278.3L330.1 261.1L321.6 269.4zM352.3 286.9L360.9 278.7L354 261.4L345.5 270zM384.8 278.7L393.3 269.9L386.4 251.9L377.9 261.3zM408.7 278.3L417.2 269.1L410.4 250.8L401.8 260.6zM432.6 277.5L441.1 268L434.3 249.2L425.7 259.5zM456.5 276.3L465 266.5L458.2 247.3L449.6 258zM480.4 274.8L488.9 264.7L482.1 244.9L473.6 256.1zM504.3 273L512.8 262.5L506 242.1L497.5 253.8zM528.2 270.9L536.7 260L529.9 239L521.4 251.2zM552.1 268.5L560.7 257.2L553.8 235.6L545.3 248.3zM615.3 271.1L623.8 259.4L617 237.3L608.5 250.5zM639.2 267.8L647.8 255.6L640.9 232.9L632.4 246.7zM663.1 264L671.7 251L664.8 227.7L656.3 242.2zM702.4 267.1L711 253.6L704.1 230.5L695.6 245.5zM781 266.1L789.5 250.7L782.7 228.3L774.1 244.9z"/>
<path fill="#c7ff38" stroke="#c7ff38" d="M215.7 290.7L224.3 285L217.4 268.6L208.9 275.3zM248.2 288.1L256.7 281.3L249.9 264.4L241.3 271.6zM280.6 283.4L289.1 276L282.3 258.9L273.8 266.6zM313.1 277.4L321.6 269.4L314.7 252.1L306.2 260.3zM337 278.3L345.5 270L338.6 252.6L330.1 261.1zM360.9 278.7L369.4 270.2L362.5 252.5L354 261.4zM417.2 269.1L425.7 259.5L418.9 240.2L410.4 250.8zM441.1 268L449.6 258L442.8 238.2L434.3 249.2zM465 266.5L473.6 256.1L466.7 235.7L458.2 247.3zM576 265.8L584.6 254L577.7 231.9L569.2 245zM599.9 262.8L608.5 250.5L601.6 227.7L593.1 241.3zM623.8 259.4L632.4 246.7L625.5 223.2L617 237.3zM687 259.3L695.6 245.5L688.7 221.7L680.2 236.9zM726.3 261.1L734.9 246.7L728 223.1L719.5 238.9zM765.6 260.2L774.1 244.9L767.3 221.7L758.8 238.3z"/>
<path fill="#d7ff28" stroke="#d7ff28" d="M200.4 281.3L208.9 275.3L202 258.3L193.5 265zM224.3 285L232.8 278.6L225.9 261.6L217.4 268.6zM232.8 278.6L241.3 271.6L234.5 254.4L225.9 261.6zM256.7 281.3L265.2 274.1L258.4 257L249.9 264.4zM265.2 274.1L273.8 266.6L266.9 249.4L258.4 257zM289.1 276L297.7 268.2L290.8 251.1L282.3 258.9zM321.6 269.4L330.1 261.1L323.3 243.6L314.7 252.1zM345.5 270L354 261.4L347.2 243.6L338.6 252.6zM369.4 270.2L377.9 261.3L371.1 243L362.5 252.5zM393.3 269.9L401.8 260.6L395 241.8L386.4 251.9zM488.9 264.7L497.5 253.8L490.6 232.9L482.1 244.9zM512.8 262.5L521.4 251.2L514.5 229.6L506 242.1zM536.7 260L545.3 248.3L538.4 226.1L529.9 239zM560.7 257.2L569.2 245L562.3 222.2L553.8 235.6zM584.6 254L593.1 241.3L586.2 217.9L577.7 231.9zM647.8 255.6L656.3 242.2L649.4 218.2L640.9 232.9zM671.7 251L680.2 236.9L673.3 212.3L664.8 227.7zM711 253.6L719.5 238.9L712.6 214.6L704.1 230.5zM750.2 253.7L758.8 238.3L751.9 214.4L743.4 231zM789.5 250.7L798.1 234.1L791.2 210.6L782.7 228.3z"/>
<path fill="#e7ff18" stroke="#e7ff18" d="M208.9 275.3L217.4 268.6L210.6 251.3L202 258.3zM241.3 271.6L249.9 264.4L243 247.2L234.5 254.4zM273.8 266.6L282.3 258.9L275.4 241.8L266.9 249.4zM297.7 268.2L306.2 260.3L299.3 243L290.8 251.1zM354 261.4L362.5 252.5L355.7 233.9L347.2 243.6zM377.9 261.3L386.4 251.9L379.6 232.7L371.1 243zM401.8 260.6L410.4 250.8L403.5 231.1L395 241.8zM425.7 259.5L434.3 249.2L427.4 229L418.9 240.2zM449.6 258L458.2 247.3L451.3 226.4L442.8 238.2zM473.6 256.1L482.1 244.9L475.2 223.4L466.7 235.7zM497.5 253.8L506 242.1L499.1 220.1L490.6 232.9zM521.4 251.2L529.9 239L523 216.4L514.5 229.6zM608.5 250.5L617 237.3L610.1 213.3L601.6 227.7zM632.4 246.7L640.9 232.9L634.1 208.3L625.5 223.2zM695.6 245.5L704.1 230.5L697.2 205.6L688.7 221.7zM734.9 246.7L743.4 231L736.5 206.4L728 223.1zM774.1 244.9L782.7 228.3L775.8 204.2L767.3 221.7z"/>
<path fill="#f7ff08" stroke="#f7ff08" d="M217.4 268.6L225.9 261.6L219.1 244.3L210.6 251.3zM249.9 264.4L258.4 257L251.5 239.9L243 247.2zM282.3 258.9L290.8 251.1L284 233.8L275.4 241.8zM306.2 260.3L314.7 252.1L307.9 234.4L299.3 243zM330.1 261.1L338.6 252.6L331.8 234.4L323.3 243.6zM362.5 252.5L371.1 243L364.2 223.5L355.7 233.9zM386.4 251.9L395 241.8L388.1 221.8L379.6 232.7zM410.4 250.8L418.9 240.2L412 219.6L403.5 231.1zM434.3 249.2L442.8 238.2L435.9 217L427.4 229zM458.2 247.3L466.7 235.7L459.8 213.9L451.3 226.4zM545.3 248.3L553.8 235.6L547 212.4L538.4 226.1zM569.2 245L577.7 231.9L570.9 208L562.3 222.2zM593.1 241.3L601.6 227.7L594.8 203.2L586.2 217.9zM656.3 242.2L664.8 227.7L658 202.6L649.4 218.2zM719.5 238.9L728 223.1L721.2 197.8L712.6 214.6zM758.8 238.3L767.3 221.7L760.4 197L751.9 214.4z"/>
<path fill="#fff700" stroke="#fff700" d="M193.5 265L202 258.3L195.2 240.8L186.7 247.6zM225.9 261.6L234.5 254.4L227.6 237.3L219.1 244.3zM258.4 257L266.9 249.4L260.1 232.4L251.5 239.9zM314.7 252.1L323.3 243.6L316.4 225.2L307.9 234.4zM338.6 252.6L347.2 243.6L340.3 224.7L331.8 234.4zM482.1 244.9L490.6 232.9L483.8 210.5L475.2 223.4zM506 242.1L514.5 229.6L507.7 206.6L499.1 220.1zM529.9 239L538.4 226.1L531.6 202.3L523 216.4zM617 237.3L625.5 223.2L618.7 198L610.1 213.3zM640.9 232.9L649.4 218.2L642.6 192.3L634.1 208.3zM680.2 236.9L688.7 221.7L681.9 196L673.3 212.3zM704.1 230.5L712.6 214.6L705.8 188.6L697.2 205.6zM743.4 231L751.9 214.4L745.1 189L736.5 206.4z"/>
<path fill="#ffe700" stroke="#ffe700" d="M202 258.3L210.6 251.3L203.7 234L195.2 240.8zM234.5 254.4L243 247.2L236.2 230.3L227.6 237.3zM266.9 249.4L275.4 241.8L268.6 224.4L260.1 232.4zM290.8 251.1L299.3 243L292.5 225.2L284 233.8zM323.3 243.6L331.8 234.4L324.9 215.5L316.4 225.2zM347.2 243.6L355.7 233.9L348.8 214.3L340.3 224.7zM371.1 243L379.6 232.7L372.7 212.5L364.2 223.5zM395 241.8L403.5 231.1L396.7 210.3L388.1 221.8zM418.9 240.2L427.4 229L420.6 207.5L412 219.6zM442.8 238.2L451.3 226.4L444.5 204.3L435.9 217zM466.7 235.7L475.2 223.4L468.4 200.6L459.8 213.9zM490.6 232.9L499.1 220.1L492.3 196.5L483.8 210.5zM553.8 235.6L562.3 222.2L555.5 197.7L547 212.4zM577.7 231.9L586.2 217.9L579.4 192.7L570.9 208zM601.6 227.7L610.1 213.3L603.3 187.3L594.8 203.2zM664.8 227.7L673.3 212.3L666.5 185.8L658 202.6zM782.7 228.3L791.2 210.6L784.4 186.2L775.8 204.2z"/>
<path fill="#ffd700" stroke="#ffd700" d="M210.6 251.3L219.1 244.3L212.2 227.5L203.7 234zM243 247.2L251.5 239.9L244.7 223L236.2 230.3zM275.4 241.8L284 233.8L277.1 215.9L268.6 224.4zM299.3 243L307.9 234.4L301 216L292.5 225.2zM331.8 234.4L340.3 224.7L333.5 205L324.9 215.5zM355.7 233.9L364.2 223.5L357.4 203.2L348.8 214.3zM379.6 232.7L388.1 221.8L381.3 200.8L372.7 212.5zM403.5 231.1L412 219.6L405.2 197.8L396.7 210.3zM427.4 229L435.9 217L429.1 194.4L420.6 207.5zM514.5 229.6L523 216.4L516.2 192L507.7 206.6zM538.4 226.1L547 212.4L540.1 187.2L531.6 202.3zM625.5 223.2L634.1 208.3L627.2 181.6L618.7 198zM688.7 221.7L697.2 205.6L690.4 178.7L681.9 196zM728 223.1L736.5 206.4L729.7 180.3L721.2 197.8zM767.3 221.7L775.8 204.2L769 179.1L760.4 197z"/>
<path fill="#ffc700" stroke="#ffc700" d="M186.7 247.6L195.2 240.8L188.3 223.8L179.8 230.1zM195.2 240.8L203.7 234L196.9 217.6L188.3 223.8zM219.1 244.3L227.6 237.3L220.8 220.7L212.2 227.5zM227.6 237.3L236.2 230.3L229.3 213.5L220.8 220.7zM251.5 239.9L260.1 232.4L253.2 215.1L244.7 223zM284 233.8L292.5 225.2L285.6 206.8L277.1 215.9zM307.9 234.4L316.4 225.2L309.6 206.2L301 216zM451.3 226.4L459.8 213.9L453 190.5L444.5 204.3zM475.2 223.4L483.8 210.5L476.9 186.3L468.4 200.6zM499.1 220.1L507.7 206.6L500.8 181.6L492.3 196.5zM562.3 222.2L570.9 208L564 182L555.5 197.7zM586.2 217.9L594.8 203.2L587.9 176.4L579.4 192.7zM649.4 218.2L658 202.6L651.1 175.2L642.6 192.3zM712.6 214.6L721.2 197.8L714.3 170.7L705.8 188.6zM751.9 214.4L760.4 197L753.6 171.1L745.1 189z"/>
<path fill="#ffb700" stroke="#ffb700" d="M203.7 234L212.2 227.5L205.4 211.1L196.9 217.6zM236.2 230.3L244.7 223L237.8 205.8L229.3 213.5zM260.1 232.4L268.6 224.4L261.7 206.7L253.2 215.1zM292.5 225.2L301 216L294.2 197L285.6 206.8zM316.4 225.2L324.9 215.5L318.1 195.7L309.6 206.2zM340.3 224.7L348.8 214.3L342 193.7L333.5 205zM364.2 223.5L372.7 212.5L365.9 191.2L357.4 203.2zM388.1 221.8L396.7 210.3L389.8 188.1L381.3 200.8zM412 219.6L420.6 207.5L413.7 184.5L405.2 197.8zM435.9 217L444.5 204.3L437.6 180.4L429.1 194.4zM523 216.4L531.6 202.3L524.7 176.5L516.2 192zM547 212.4L555.5 197.7L548.6 171.2L540.1 187.2zM610.1 213.3L618.7 198L611.8 170.6L603.3 187.3zM634.1 208.3L642.6 192.3L635.7 164.2L627.2 181.6zM673.3 212.3L681.9 196L675 168.2L666.5 185.8zM736.5 206.4L745.1 189L738.2 162.1L729.7 180.3z"/>
<path fill="#ffa700" stroke="#ffa700" d="M179.8 230.1L188.3 223.8L181.5 207.8L173 213.7zM212.2 227.5L220.8 220.7L213.9 204.1L205.4 211.1zM244.7 223L253.2 215.1L246.4 197.5L237.8 205.8zM268.6 224.4L277.1 215.9L270.3 197.6L261.7 206.7zM324.9 215.5L333.5 205L326.6 184.3L318.1 195.7zM348.8 214.3L357.4 203.2L350.5 181.6L342 193.7zM372.7 212.5L381.3 200.8L374.4 178.3L365.9 191.2zM459.8 213.9L468.4 200.6L461.5 175.9L453 190.5zM483.8 210.5L492.3 196.5L485.4 171.1L476.9 186.3zM507.7 206.6L516.2 192L509.3 165.9L500.8 181.6zM570.9 208L579.4 192.7L572.5 165.5L564 182zM594.8 203.2L603.3 187.3L596.4 159.5L587.9 176.4zM658 202.6L666.5 185.8L659.6 157.4L651.1 175.2zM697.2 205.6L705.8 188.6L698.9 160.6L690.4 178.7zM775.8 204.2L784.4 186.2L777.5 161L769 179.1z"/>
<path fill="#ff9700" stroke="#ff9700" d="M188.3 223.8L196.9 217.6L190 201.5L181.5 207.8zM220.8 220.7L229.3 213.5L222.4 196.6L213.9 204.1zM253.2 215.1L261.7 206.7L254.9 188.5L246.4 197.5zM277.1 215.9L285.6 206.8L278.8 187.8L270.3 197.6zM301 216L309.6 206.2L302.7 186.3L294.2 197zM396.7 210.3L405.2 197.8L398.3 174.5L389.8 188.1zM420.6 207.5L429.1 194.4L422.2 170.3L413.7 184.5zM444.5 204.3L453 190.5L446.1 165.7L437.6 180.4zM531.6 202.3L540.1 187.2L533.2 160.4L524.7 176.5zM618.7 198L627.2 181.6L620.4 153.2L611.8 170.6zM681.9 196L690.4 178.7L683.5 150L675 168.2zM721.2 197.8L729.7 180.3L722.8 152.4L714.3 170.7zM760.4 197L769 179.1L762.1 152.9L753.6 171.1z"/>
<path fill="#ff8700" stroke="#ff8700" d="M196.9 217.6L205.4 211.1L198.5 194.8L190 201.5zM205.4 211.1L213.9 204.1L207.1 187.4L198.5 194.8zM229.3 213.5L237.8 205.8L231 188.4L222.4 196.6zM261.7 206.7L270.3 197.6L263.4 178.6L254.9 188.5zM285.6 206.8L294.2 197L287.3 177.1L278.8 187.8zM309.6 206.2L318.1 195.7L311.2 174.8L302.7 186.3zM333.5 205L342 193.7L335.1 172L326.6 184.3zM357.4 203.2L365.9 191.2L359 168.6L350.5 181.6zM381.3 200.8L389.8 188.1L383 164.7L374.4 178.3zM405.2 197.8L413.7 184.5L406.9 160.3L398.3 174.5zM468.4 200.6L476.9 186.3L470.1 160.7L461.5 175.9zM492.3 196.5L500.8 181.6L494 155.4L485.4 171.1zM555.5 197.7L564 182L557.2 154.6L548.6 171.2zM579.4 192.7L587.9 176.4L581.1 148.5L572.5 165.5zM642.6 192.3L651.1 175.2L644.3 146.4L635.7 164.2zM705.8 188.6L714.3 170.7L707.5 142.2L698.9 160.6zM745.1 189L753.6 171.1L746.7 143.8L738.2 162.1z"/>
<path fill="#ff7800" stroke="#ff7800" d="M173 213.7L181.5 207.8L174.6 192.1L166.1 198.1zM181.5 207.8L190 201.5L183.2 185.6L174.6 192.1zM213.9 204.1L222.4 196.6L215.6 179.4L207.1 187.4zM237.8 205.8L246.4 197.5L239.5 179.4L231 188.4zM318.1 195.7L326.6 184.3L319.8 162.6L311.2 174.8zM429.1 194.4L437.6 180.4L430.8 155.6L422.2 170.3zM453 190.5L461.5 175.9L454.7 150.5L446.1 165.7zM516.2 192L524.7 176.5L517.9 149.7L509.3 165.9zM540.1 187.2L548.6 171.2L541.8 143.8L533.2 160.4zM603.3 187.3L611.8 170.6L605 142.1L596.4 159.5zM666.5 185.8L675 168.2L668.2 139.2L659.6 157.4z"/>
<path fill="#ff6800" stroke="#ff6800" d="M190 201.5L198.5 194.8L191.7 178.5L183.2 185.6zM222.4 196.6L231 188.4L224.1 170.5L215.6 179.4zM246.4 197.5L254.9 188.5L248 169.6L239.5 179.4zM270.3 197.6L278.8 187.8L271.9 167.9L263.4 178.6zM294.2 197L302.7 186.3L295.8 165.6L287.3 177.1zM342 193.7L350.5 181.6L343.7 159.1L335.1 172zM365.9 191.2L374.4 178.3L367.6 155L359 168.6zM389.8 188.1L398.3 174.5L391.5 150.6L383 164.7zM476.9 186.3L485.4 171.1L478.6 145L470.1 160.7zM500.8 181.6L509.3 165.9L502.5 139.2L494 155.4zM564 182L572.5 165.5L565.7 137.5L557.2 154.6zM627.2 181.6L635.7 164.2L628.9 135.3L620.4 153.2zM690.4 178.7L698.9 160.6L692.1 131.6L683.5 150zM729.7 180.3L738.2 162.1L731.4 134L722.8 152.4zM769 179.1L777.5 161L770.6 134.8L762.1 152.9z"/>
<path fill="#ff5800" stroke="#ff5800" d="M166.1 198.1L174.6 192.1L167.8 176.7L159.3 182.9zM198.5 194.8L207.1 187.4L200.2 170.6L191.7 178.5zM231 188.4L239.5 179.4L232.7 160.8L224.1 170.5zM254.9 188.5L263.4 178.6L256.6 159L248 169.6zM278.8 187.8L287.3 177.1L280.5 156.6L271.9 167.9zM302.7 186.3L311.2 174.8L304.4 153.4L295.8 165.6zM326.6 184.3L335.1 172L328.3 149.8L319.8 162.6zM350.5 181.6L359 168.6L352.2 145.6L343.7 159.1zM413.7 184.5L422.2 170.3L415.4 145.7L406.9 160.3zM437.6 180.4L446.1 165.7L439.3 140.4L430.8 155.6zM524.7 176.5L533.2 160.4L526.4 133L517.9 149.7zM587.9 176.4L596.4 159.5L589.6 130.9L581.1 148.5zM651.1 175.2L659.6 157.4L652.8 128L644.3 146.4zM714.3 170.7L722.8 152.4L716 123.6L707.5 142.2zM753.6 171.1L762.1 152.9L755.3 125.5L746.7 143.8z"/>
<path fill="#ff4800" stroke="#ff4800" d="M174.6 192.1L183.2 185.6L176.3 169.7L167.8 176.7zM183.2 185.6L191.7 178.5L184.8 162L176.3 169.7zM207.1 187.4L215.6 179.4L208.7 161.9L200.2 170.6zM374.4 178.3L383 164.7L376.1 140.9L367.6 155zM398.3 174.5L406.9 160.3L400 135.8L391.5 150.6zM461.5 175.9L470.1 160.7L463.2 134.7L454.7 150.5zM485.4 171.1L494 155.4L487.1 128.6L478.6 145zM548.6 171.2L557.2 154.6L550.3 126.5L541.8 143.8zM611.8 170.6L620.4 153.2L613.5 124L605 142.1zM675 168.2L683.5 150L676.7 120.5L668.2 139.2zM738.2 162.1L746.7 143.8L739.9 115.5L731.4 134z"/>
<path fill="#ff3800" stroke="#ff3800" d="M159.3 182.9L167.8 176.7L160.9 161.3L152.4 167.9zM191.7 178.5L200.2 170.6L193.4 153.5L184.8 162zM215.6 179.4L224.1 170.5L217.3 152.4L208.7 161.9zM239.5 179.4L248 169.6L241.2 150.4L232.7 160.8zM263.4 178.6L271.9 167.9L265.1 147.8L256.6 159zM287.3 177.1L295.8 165.6L289 144.5L280.5 156.6zM311.2 174.8L319.8 162.6L312.9 140.7L304.4 153.4zM335.1 172L343.7 159.1L336.8 136.3L328.3 149.8zM359 168.6L367.6 155L360.7 131.4L352.2 145.6zM422.2 170.3L430.8 155.6L423.9 130.3L415.4 145.7zM446.1 165.7L454.7 150.5L447.8 124.4L439.3 140.4zM509.3 165.9L517.9 149.7L511 122.2L502.5 139.2zM572.5 165.5L581.1 148.5L574.2 119.7L565.7 137.5zM596.4 159.5L605 142.1L598.1 112.6L589.6 130.9zM635.7 164.2L644.3 146.4L637.4 116.7L628.9 135.3zM698.9 160.6L707.5 142.2L700.6 112.7L692.1 131.6z"/>
<path fill="#ff2800" stroke="#ff2800" d="M167.8 176.7L176.3 169.7L169.5 153.9L160.9 161.3zM200.2 170.6L208.7 161.9L201.9 144.3L193.4 153.5zM224.1 170.5L232.7 160.8L225.8 142.2L217.3 152.4zM248 169.6L256.6 159L249.7 139.4L241.2 150.4zM271.9 167.9L280.5 156.6L273.6 135.9L265.1 147.8zM295.8 165.6L304.4 153.4L297.5 131.8L289 144.5zM383 164.7L391.5 150.6L384.6 126.1L376.1 140.9zM406.9 160.3L415.4 145.7L408.5 120.4L400 135.8zM470.1 160.7L478.6 145L471.7 118.1L463.2 134.7zM533.2 160.4L541.8 143.8L534.9 115.5L526.4 133zM557.2 154.6L565.7 137.5L558.8 108.5L550.3 126.5zM620.4 153.2L628.9 135.3L622 105.2L613.5 124zM659.6 157.4L668.2 139.2L661.3 109.1L652.8 128zM722.8 152.4L731.4 134L724.5 104.7L716 123.6zM762.1 152.9L770.6 134.8L763.8 107.3L755.3 125.5z"/>
<path fill="#ff1800" stroke="#ff1800" d="M176.3 169.7L184.8 162L178 145.6L169.5 153.9zM319.8 162.6L328.3 149.8L321.4 127.2L312.9 140.7zM343.7 159.1L352.2 145.6L345.3 122.1L336.8 136.3zM367.6 155L376.1 140.9L369.2 116.6L360.7 131.4zM430.8 155.6L439.3 140.4L432.4 114.2L423.9 130.3zM494 155.4L502.5 139.2L495.6 111.5L487.1 128.6zM517.9 149.7L526.4 133L519.5 104.6L511 122.2zM581.1 148.5L589.6 130.9L582.7 101.2L574.2 119.7zM644.3 146.4L652.8 128L645.9 97.5L637.4 116.7zM683.5 150L692.1 131.6L685.2 101.3L676.7 120.5zM746.7 143.8L755.3 125.5L748.4 96.9L739.9 115.5z"/>
<path fill="#ff0800" stroke="#ff0800" d="M184.8 162L193.4 153.5L186.5 136.6L178 145.6zM208.7 161.9L217.3 152.4L210.4 134.2L201.9 144.3zM232.7 160.8L241.2 150.4L234.3 131.2L225.8 142.2zM256.6 159L265.1 147.8L258.2 127.5L249.7 139.4zM280.5 156.6L289 144.5L282.1 123.2L273.6 135.9zM304.4 153.4L312.9 140.7L306.1 118.3L297.5 131.8zM391.5 150.6L400 135.8L393.2 110.6L384.6 126.1zM454.7 150.5L463.2 134.7L456.3 107.8L447.8 124.4zM478.6 145L487.1 128.6L480.3 100.9L471.7 118.1zM541.8 143.8L550.3 126.5L543.5 97.4L534.9 115.5zM605 142.1L613.5 124L606.6 93.6L598.1 112.6zM668.2 139.2L670.3 134.6L668.6 127.1L666.5 131.8zM666.5 131.8L668.6 127.1L666.9 119.6L664.7 124.3zM664.7 124.3L666.9 119.6L665.2 112L663 116.7zM663 116.7L665.2 112L663.4 104.3L661.3 109.1zM670.3 134.6L672.4 129.9L670.7 122.4L668.6 127.1zM668.6 127.1L670.7 122.4L669 114.8L666.9 119.6zM666.9 119.6L669 114.8L667.3 107.2L665.2 112zM665.2 112L667.3 107.2L665.6 99.4L663.4 104.3zM672.4 129.9L674.6 125.2L672.8 117.7L670.7 122.4zM670.7 122.4L672.8 117.7L671.1 110L669 114.8zM669 114.8L671.1 110L669.4 102.3L667.3 107.2zM667.3 107.2L669.4 102.3L667.7 94.6L665.6 99.4zM674.6 125.2L676.7 120.5L675 112.9L672.8 117.7zM672.8 117.7L675 112.9L673.3 105.2L671.1 110zM671.1 110L673.3 105.2L671.6 97.5L669.4 102.3zM669.4 102.3L671.6 97.5L669.9 90L669.7 90L667.7 94.6zM707.5 142.2L716 123.6L709.1 93.5L700.6 112.7z"/>
<path fill="#f70000" stroke="#f70000" d="M193.4 153.5L201.9 144.3L195 126.7L186.5 136.6zM217.3 152.4L225.8 142.2L218.9 123.4L210.4 134.2zM241.2 150.4L249.7 139.4L242.9 119.4L234.3 131.2zM265.1 147.8L273.6 135.9L266.8 114.9L258.2 127.5zM328.3 149.8L336.8 136.3L330 113L321.4 127.2zM352.2 145.6L360.7 131.4L353.9 107.2L345.3 122.1zM415.4 145.7L423.9 130.3L417.1 104.2L408.5 120.4zM439.3 140.4L447.8 124.4L441 97.5L432.4 114.2zM502.5 139.2L504.6 135L502.9 128.1L500.8 132.3zM500.8 132.3L502.9 128.1L501.2 121.2L499.1 125.5zM499.1 125.5L501.2 121.2L499.5 114.2L497.3 118.5zM497.3 118.5L499.5 114.2L497.8 107.2L495.6 111.5zM504.6 135L506.8 130.8L505 123.9L502.9 128.1zM502.9 128.1L505 123.9L503.3 116.9L501.2 121.2zM501.2 121.2L503.3 116.9L501.6 109.8L499.5 114.2zM499.5 114.2L501.6 109.8L499.9 102.7L497.8 107.2zM506.8 130.8L508.9 126.5L507.2 119.6L505 123.9zM505 123.9L507.2 119.6L505.5 112.5L503.3 116.9zM503.3 116.9L505.5 112.5L503.7 105.4L501.6 109.8zM501.6 109.8L503.7 105.4L502 98.3L499.9 102.7zM508.9 126.5L511 122.2L509.3 115.2L507.2 119.6zM507.2 119.6L509.3 115.2L507.6 108.1L505.5 112.5zM505.5 112.5L507.6 108.1L505.9 101L503.7 105.4zM503.7 105.4L505.9 101L504.4 94.6L503.8 94.6L502 98.3zM565.7 137.5L567.8 133.1L566.1 125.9L564 130.4zM564 130.4L566.1 125.9L564.4 118.6L562.3 123.1zM562.3 123.1L564.4 118.6L562.7 111.3L560.5 115.9zM560.5 115.9L562.7 111.3L561 103.9L558.8 108.5zM567.8 133.1L569.9 128.7L568.2 121.4L566.1 125.9zM566.1 125.9L568.2 121.4L566.5 114.1L564.4 118.6zM564.4 118.6L566.5 114.1L564.8 106.7L562.7 111.3zM562.7 111.3L564.8 106.7L563.1 99.3L561 103.9zM569.9 128.7L572.1 124.2L570.4 116.9L568.2 121.4zM568.2 121.4L570.4 116.9L568.7 109.5L566.5 114.1zM566.5 114.1L568.7 109.5L566.9 102.1L564.8 106.7zM564.8 106.7L566.9 102.1L565.2 94.6L563.1 99.3zM572.1 124.2L574.2 119.7L572.5 112.3L570.4 116.9zM570.4 116.9L572.5 112.3L570.8 104.9L568.7 109.5zM568.7 109.5L570.8 104.9L569.1 97.4L566.9 102.1zM566.9 102.1L569.1 97.4L568 92.8L566 92.9L565.2 94.6zM628.9 135.3L631 130.7L629.3 123.2L627.2 127.9zM627.2 127.9L629.3 123.2L627.6 115.7L625.5 120.4zM625.5 120.4L627.6 115.7L625.9 108.1L623.7 112.8zM623.7 112.8L625.9 108.1L624.2 100.4L622 105.2zM631 130.7L633.1 126.1L631.4 118.5L629.3 123.2zM629.3 123.2L631.4 118.5L629.7 110.9L627.6 115.7zM627.6 115.7L629.7 110.9L628 103.3L625.9 108.1zM625.9 108.1L628 103.3L626.3 95.5L624.2 100.4zM633.1 126.1L635.3 121.4L633.6 113.8L631.4 118.5zM631.4 118.5L633.6 113.8L631.8 106.2L629.7 110.9zM629.7 110.9L631.8 106.2L630.1 98.5L628 103.3zM628 103.3L630.1 98.5L628.5 91.2L628.2 91.2L626.3 95.5zM635.3 121.4L637.4 116.7L635.7 109.1L633.6 113.8zM633.6 113.8L635.7 109.1L634 101.4L631.8 106.2zM631.8 106.2L634 101.4L632.3 93.6L630.1 98.5zM630.1 98.5L632.3 93.6L631.7 91.1L628.5 91.2zM731.4 134L733.5 129.4L731.8 122.2L729.6 126.8zM729.6 126.8L731.8 122.2L730.1 114.9L727.9 119.5zM727.9 119.5L730.1 114.9L728.4 107.5L726.2 112.2zM726.2 112.2L728.4 107.5L726.6 100L724.5 104.7zM733.5 129.4L735.6 124.8L733.9 117.5L731.8 122.2zM731.8 122.2L733.9 117.5L732.2 110.2L730.1 114.9zM730.1 114.9L732.2 110.2L730.5 102.7L728.4 107.5zM728.4 107.5L730.5 102.7L728.8 95.2L726.6 100zM735.6 124.8L737.8 120.1L736 112.8L733.9 117.5zM733.9 117.5L736 112.8L734.3 105.5L732.2 110.2zM732.2 110.2L734.3 105.5L732.6 98L730.5 102.7zM730.5 102.7L732.6 98L730.9 90.5L728.8 95.2zM737.8 120.1L739.9 115.5L738.2 108.2L736 112.8zM736 112.8L738.2 108.2L736.5 100.8L734.3 105.5zM734.3 105.5L736.5 100.8L734.7 93.3L732.6 98zM732.6 98L734.7 93.3L733.6 88.3L731.9 88.3L730.9 90.5z"/>
<path fill="#e70000" stroke="#e70000" d="M201.9 144.3L210.4 134.2L203.6 116L195 126.7zM225.8 142.2L234.3 131.2L227.5 111.7L218.9 123.4zM289 144.5L297.5 131.8L290.7 109.7L282.1 123.2zM312.9 140.7L321.4 127.2L314.6 104.1L306.1 118.3zM376.1 140.9L384.6 126.1L377.8 101L369.2 116.6zM400 135.8L402.1 132L400.4 125.7L398.3 129.6zM398.3 129.6L400.4 125.7L398.7 119.4L396.6 123.3zM396.6 123.3L398.7 119.4L397 113L394.9 117zM394.9 117L397 113L395.3 106.6L393.2 110.6zM402.1 132L404.3 128.2L402.6 121.8L400.4 125.7zM400.4 125.7L402.6 121.8L400.8 115.5L398.7 119.4zM398.7 119.4L400.8 115.5L399.1 109L397 113zM397 113L399.1 109L397.4 102.6L395.3 106.6zM404.3 128.2L406.4 124.3L404.7 117.9L402.6 121.8zM402.6 121.8L404.7 117.9L403 111.5L400.8 115.5zM400.8 115.5L403 111.5L401.3 105L399.1 109zM399.1 109L401.3 105L399.6 98.5L397.4 102.6zM406.4 124.3L408.5 120.4L406.8 113.9L404.7 117.9zM404.7 117.9L406.8 113.9L405.1 107.4L403 111.5zM403 111.5L405.1 107.4L403.4 100.9L401.3 105zM401.3 105L403.4 100.9L402.5 97.4L400.1 97.5L399.6 98.5zM463.2 134.7L465.3 130.6L463.6 123.9L461.5 128zM461.5 128L463.6 123.9L461.9 117.1L459.8 121.3zM459.8 121.3L461.9 117.1L460.2 110.3L458.1 114.6zM458.1 114.6L460.2 110.3L458.5 103.5L456.3 107.8zM465.3 130.6L467.5 126.5L465.8 119.7L463.6 123.9zM463.6 123.9L465.8 119.7L464 112.9L461.9 117.1zM461.9 117.1L464 112.9L462.3 106.1L460.2 110.3zM460.2 110.3L462.3 106.1L460.6 99.2L458.5 103.5zM467.5 126.5L469.6 122.3L467.9 115.5L465.8 119.7zM465.8 119.7L467.9 115.5L466.2 108.7L464 112.9zM464 112.9L466.2 108.7L464.5 101.8L462.3 106.1zM462.3 106.1L464.5 101.8L463 95.7L462.3 95.8L460.6 99.2zM469.6 122.3L471.7 118.1L470 111.3L467.9 115.5zM467.9 115.5L470 111.3L468.3 104.4L466.2 108.7zM466.2 108.7L468.3 104.4L466.6 97.4L464.5 101.8zM464.5 101.8L466.6 97.4L466.2 95.7L463 95.7zM526.4 133L528.5 128.7L526.8 121.6L524.7 126zM524.7 126L526.8 121.6L525.1 114.5L523 118.9zM523 118.9L525.1 114.5L523.4 107.3L521.3 111.8zM521.3 111.8L523.4 107.3L521.7 100.1L519.5 104.6zM528.5 128.7L530.7 124.4L528.9 117.2L526.8 121.6zM526.8 121.6L528.9 117.2L527.2 110.1L525.1 114.5zM525.1 114.5L527.2 110.1L525.5 102.8L523.4 107.3zM523.4 107.3L525.5 102.8L523.8 95.5L521.7 100.1zM530.7 124.4L532.8 120L531.1 112.8L528.9 117.2zM528.9 117.2L531.1 112.8L529.4 105.6L527.2 110.1zM527.2 110.1L529.4 105.6L527.7 98.3L525.5 102.8zM525.5 102.8L527.7 98.3L526.6 94L524.5 94L523.8 95.5zM532.8 120L534.9 115.5L533.2 108.3L531.1 112.8zM531.1 112.8L533.2 108.3L531.5 101L529.4 105.6zM529.4 105.6L531.5 101L529.8 93.9L529.7 93.9L527.7 98.3zM527.7 98.3L529.7 93.9L526.6 94zM589.6 130.9L591.7 126.4L590 119L587.9 123.6zM587.9 123.6L590 119L588.3 111.6L586.2 116.2zM586.2 116.2L588.3 111.6L586.6 104L584.5 108.7zM584.5 108.7L586.6 104L584.9 96.5L582.7 101.2zM591.7 126.4L593.9 121.8L592.1 114.4L590 119zM590 119L592.1 114.4L590.4 106.9L588.3 111.6zM588.3 111.6L590.4 106.9L588.7 99.3L586.6 104zM586.6 104L588.7 99.3L587.1 92.3L586.7 92.3L584.9 96.5zM593.9 121.8L596 117.2L594.3 109.7L592.1 114.4zM592.1 114.4L594.3 109.7L592.6 102.2L590.4 106.9zM590.4 106.9L592.6 102.2L590.8 94.6L588.7 99.3zM588.7 99.3L590.8 94.6L590.3 92.2L587.1 92.3zM596 117.2L598.1 112.6L596.4 105L594.3 109.7zM594.3 109.7L596.4 105L594.7 97.4L592.6 102.2zM592.6 102.2L594.7 97.4L593.5 92.1L591.9 92.2L590.8 94.6zM590.8 94.6L591.9 92.2L590.3 92.2zM652.8 128L654.9 123.4L653.2 115.8L651.1 120.5zM651.1 120.5L653.2 115.8L651.5 108.1L649.4 112.9zM649.4 112.9L651.5 108.1L649.8 100.4L647.6 105.2zM647.6 105.2L649.8 100.4L648.1 92.6L645.9 97.5zM654.9 123.4L657.1 118.6L655.3 111L653.2 115.8zM653.2 115.8L655.3 111L653.6 103.3L651.5 108.1zM651.5 108.1L653.6 103.3L651.9 95.5L649.8 100.4zM649.8 100.4L651.9 95.5L650.8 90.5L648.9 90.6L648.1 92.6zM657.1 118.6L659.2 113.9L657.5 106.2L655.3 111zM655.3 111L657.5 106.2L655.8 98.5L653.6 103.3zM653.6 103.3L655.8 98.5L654 90.7L651.9 95.5zM651.9 95.5L654 90.7L654 90.5L650.8 90.5zM659.2 113.9L661.3 109.1L659.6 101.4L657.5 106.2zM657.5 106.2L659.6 101.4L657.9 93.6L655.8 98.5zM655.8 98.5L657.9 93.6L657.2 90.4L654.1 90.5L654 90.7zM654 90.7L654.1 90.5L654 90.5zM692.1 131.6L694.2 126.9L692.5 119.4L690.4 124.1zM690.4 124.1L692.5 119.4L690.8 111.8L688.6 116.6zM688.6 116.6L690.8 111.8L689.1 104.2L686.9 109zM686.9 109L689.1 104.2L687.4 96.5L685.2 101.3zM694.2 126.9L696.3 122.2L694.6 114.6L692.5 119.4zM692.5 119.4L694.6 114.6L692.9 107L690.8 111.8zM690.8 111.8L692.9 107L691.2 99.3L689.1 104.2zM689.1 104.2L691.2 99.3L689.5 91.6L687.4 96.5zM696.3 122.2L698.5 117.4L696.8 109.9L694.6 114.6zM694.6 114.6L696.8 109.9L695 102.2L692.9 107zM692.9 107L695 102.2L693.3 94.5L691.2 99.3zM691.2 99.3L693.3 94.5L692.2 89.4L690.4 89.4L689.5 91.6zM698.5 117.4L700.6 112.7L698.9 105.1L696.8 109.9zM696.8 109.9L698.9 105.1L697.2 97.4L695 102.2zM695 102.2L697.2 97.4L695.5 89.6L693.3 94.5zM693.3 94.5L695.5 89.6L695.4 89.3L692.2 89.4zM755.3 125.5L757.4 121L755.7 113.9L753.6 118.5zM753.6 118.5L755.7 113.9L754 106.8L751.8 111.4zM751.8 111.4L754 106.8L752.3 99.5L750.1 104.2zM750.1 104.2L752.3 99.5L750.5 92.2L748.4 96.9zM757.4 121L759.5 116.4L757.8 109.3L755.7 113.9zM755.7 113.9L757.8 109.3L756.1 102.2L754 106.8zM754 106.8L756.1 102.2L754.4 94.9L752.3 99.5zM752.3 99.5L754.4 94.9L752.7 87.7L752.6 87.7L750.5 92.2zM759.5 116.4L761.7 111.8L760 104.8L757.8 109.3zM757.8 109.3L760 104.8L758.2 97.6L756.1 102.2zM756.1 102.2L758.2 97.6L756.5 90.4L754.4 94.9zM754.4 94.9L756.5 90.4L755.9 87.6L752.7 87.7zM761.7 111.8L763.8 107.3L762.1 100.2L760 104.8zM760 104.8L762.1 100.2L760.4 93L758.2 97.6zM758.2 97.6L760.4 93L759.1 87.5L757.8 87.6L756.5 90.4zM756.5 90.4L757.8 87.6L755.9 87.6z"/>
<path fill="#d70000" stroke="#d70000" d="M249.7 139.4L258.2 127.5L251.4 106.9L242.9 119.4zM273.6 135.9L282.1 123.2L275.3 101.5L266.8 114.9zM336.8 136.3L338.9 132.8L337.2 127L335.1 130.5zM335.1 130.5L337.2 127L335.5 121.1L333.4 124.7zM333.4 124.7L335.5 121.1L333.8 115.3L331.7 118.9zM331.7 118.9L333.8 115.3L332.1 109.3L330 113zM338.9 132.8L341.1 129.3L339.4 123.4L337.2 127zM337.2 127L339.4 123.4L337.6 117.5L335.5 121.1zM335.5 121.1L337.6 117.5L335.9 111.6L333.8 115.3zM333.8 115.3L335.9 111.6L334.2 105.6L332.1 109.3zM341.1 129.3L343.2 125.7L341.5 119.8L339.4 123.4zM339.4 123.4L341.5 119.8L339.8 113.9L337.6 117.5zM337.6 117.5L339.8 113.9L338.1 107.9L335.9 111.6zM335.9 111.6L338.1 107.9L336.4 101.9L334.2 105.6zM343.2 125.7L345.3 122.1L343.6 116.1L341.5 119.8zM341.5 119.8L343.6 116.1L341.9 110.1L339.8 113.9zM339.8 113.9L341.9 110.1L340.2 104.1L338.1 107.9zM338.1 107.9L340.2 104.1L338.8 99.2L337.8 99.2L336.4 101.9zM360.7 131.4L362.9 127.8L361.1 121.7L359 125.4zM359 125.4L361.1 121.7L359.4 115.6L357.3 119.4zM357.3 119.4L359.4 115.6L357.7 109.5L355.6 113.3zM355.6 113.3L357.7 109.5L356 103.3L353.9 107.2zM362.9 127.8L365 124.1L363.3 118L361.1 121.7zM361.1 121.7L363.3 118L361.6 111.8L359.4 115.6zM359.4 115.6L361.6 111.8L359.8 105.7L357.7 109.5zM357.7 109.5L359.8 105.7L358.1 99.5L356 103.3zM365 124.1L367.1 120.3L365.4 114.2L363.3 118zM363.3 118L365.4 114.2L363.7 108L361.6 111.8zM361.6 111.8L363.7 108L362 101.8L359.8 105.7zM359.8 105.7L362 101.8L361.1 98.6L358.6 98.6L358.1 99.5zM367.1 120.3L369.2 116.6L367.5 110.4L365.4 114.2zM365.4 114.2L367.5 110.4L365.8 104.1L363.7 108zM363.7 108L365.8 104.1L364.3 98.5L363.8 98.5L362 101.8zM362 101.8L363.8 98.5L361.1 98.6zM423.9 130.3L426 126.4L424.3 119.9L422.2 123.9zM422.2 123.9L424.3 119.9L422.6 113.3L420.5 117.4zM420.5 117.4L422.6 113.3L420.9 106.7L418.8 110.8zM418.8 110.8L420.9 106.7L419.2 100.1L417.1 104.2zM426 126.4L428.2 122.4L426.5 115.8L424.3 119.9zM424.3 119.9L426.5 115.8L424.8 109.2L422.6 113.3zM422.6 113.3L424.8 109.2L423 102.6L420.9 106.7zM420.9 106.7L423 102.6L421.6 96.9L420.8 96.9L419.2 100.1zM428.2 122.4L430.3 118.3L428.6 111.7L426.5 115.8zM426.5 115.8L428.6 111.7L426.9 105.1L424.8 109.2zM424.8 109.2L426.9 105.1L425.2 98.4L423 102.6zM423 102.6L425.2 98.4L424.8 96.8L421.6 96.9zM430.3 118.3L432.4 114.2L430.7 107.6L428.6 111.7zM428.6 111.7L430.7 107.6L429 100.9L426.9 105.1zM426.9 105.1L429 100.9L428 96.7L426 96.8L425.2 98.4zM425.2 98.4L426 96.8L424.8 96.8zM487.1 128.6L489.2 124.4L487.5 117.5L485.4 121.8zM485.4 121.8L487.5 117.5L485.8 110.6L483.7 114.9zM483.7 114.9L485.8 110.6L484.1 103.6L482 107.9zM482 107.9L484.1 103.6L482.4 96.5L480.3 100.9zM489.2 124.4L491.4 120.2L489.7 113.2L487.5 117.5zM487.5 117.5L489.7 113.2L487.9 106.2L485.8 110.6zM485.8 110.6L487.9 106.2L486.2 99.2L484.1 103.6zM484.1 103.6L486.2 99.2L485.3 95.1L483 95.2L482.4 96.5zM491.4 120.2L493.5 115.9L491.8 108.9L489.7 113.2zM489.7 113.2L491.8 108.9L490.1 101.8L487.9 106.2zM487.9 106.2L490.1 101.8L488.4 95L488.2 95L486.2 99.2zM486.2 99.2L488.2 95L485.3 95.1zM493.5 115.9L495.6 111.5L493.9 104.5L491.8 108.9zM491.8 108.9L493.9 104.5L492.2 97.4L490.1 101.8zM490.1 101.8L492.2 97.4L491.6 94.9L488.4 95zM550.3 126.5L552.4 122.1L550.7 114.8L548.6 119.3zM548.6 119.3L550.7 114.8L549 107.5L546.9 112.1zM546.9 112.1L549 107.5L547.3 100.1L545.2 104.7zM545.2 104.7L547.3 100.1L545.8 93.4L545.2 93.5L543.5 97.4zM552.4 122.1L554.6 117.6L552.9 110.3L550.7 114.8zM550.7 114.8L552.9 110.3L551.1 102.9L549 107.5zM549 107.5L551.1 102.9L549.4 95.5L547.3 100.1zM547.3 100.1L549.4 95.5L548.9 93.4L545.8 93.4zM554.6 117.6L556.7 113.1L555 105.7L552.9 110.3zM552.9 110.3L555 105.7L553.3 98.3L551.1 102.9zM551.1 102.9L553.3 98.3L552.1 93.3L550.4 93.3L549.4 95.5zM549.4 95.5L550.4 93.3L548.9 93.4zM556.7 113.1L558.8 108.5L557.1 101.1L555 105.7zM555 105.7L557.1 101.1L555.4 93.6L553.3 98.3zM553.3 98.3L555.4 93.6L555.3 93.2L552.1 93.3zM613.5 124L615.6 119.3L613.9 111.8L611.8 116.5zM611.8 116.5L613.9 111.8L612.2 104.2L610.1 108.9zM610.1 108.9L612.2 104.2L610.5 96.5L608.4 101.3zM608.4 101.3L610.5 96.5L609.4 91.7L607.5 91.7L606.6 93.6zM615.6 119.3L617.8 114.7L616 107.1L613.9 111.8zM613.9 111.8L616 107.1L614.3 99.4L612.2 104.2zM612.2 104.2L614.3 99.4L612.6 91.7L610.5 96.5zM610.5 96.5L612.6 91.7L612.6 91.6L609.4 91.7zM617.8 114.7L619.9 109.9L618.2 102.3L616 107.1zM616 107.1L618.2 102.3L616.5 94.6L614.3 99.4zM614.3 99.4L616.5 94.6L615.8 91.5L612.6 91.6L612.6 91.7zM612.6 91.7L612.6 91.6L612.6 91.6zM619.9 109.9L622 105.2L620.3 97.5L618.2 102.3zM618.2 102.3L620.3 97.5L619 91.4L617.8 91.5L616.5 94.6zM616.5 94.6L617.8 91.5L615.8 91.5zM676.7 120.5L678.8 115.7L677.1 108.1L675 112.9zM675 112.9L677.1 108.1L675.4 100.4L673.3 105.2zM673.3 105.2L675.4 100.4L673.7 92.6L671.6 97.5zM671.6 97.5L673.7 92.6L673.1 89.9L669.9 90zM678.8 115.7L681 110.9L679.2 103.3L677.1 108.1zM677.1 108.1L679.2 103.3L677.5 95.5L675.4 100.4zM675.4 100.4L677.5 95.5L676.3 89.8L674.9 89.9L673.7 92.6zM673.7 92.6L674.9 89.9L673.1 89.9zM681 110.9L683.1 106.1L681.4 98.4L679.2 103.3zM679.2 103.3L681.4 98.4L679.7 90.6L677.5 95.5zM677.5 95.5L679.7 90.6L679.5 89.8L676.3 89.8zM683.1 106.1L685.2 101.3L683.5 93.6L681.4 98.4zM681.4 98.4L683.5 93.6L682.7 89.7L680.1 89.7L679.7 90.6zM679.7 90.6L680.1 89.7L679.5 89.8zM716 123.6L718.1 118.9L716.4 111.5L714.3 116.2zM714.3 116.2L716.4 111.5L714.7 103.9L712.6 108.7zM712.6 108.7L714.7 103.9L713 96.3L710.8 101.1zM710.8 101.1L713 96.3L711.3 88.9L711.2 88.9L709.1 93.5zM718.1 118.9L720.2 114.2L718.5 106.7L716.4 111.5zM716.4 111.5L718.5 106.7L716.8 99.2L714.7 103.9zM714.7 103.9L716.8 99.2L715.1 91.5L713 96.3zM713 96.3L715.1 91.5L714.5 88.8L711.3 88.9zM720.2 114.2L722.4 109.5L720.7 102L718.5 106.7zM718.5 106.7L720.7 102L719 94.4L716.8 99.2zM716.8 99.2L719 94.4L717.7 88.7L716.3 88.7L715.1 91.5zM715.1 91.5L716.3 88.7L714.5 88.8zM722.4 109.5L724.5 104.7L722.8 97.2L720.7 102zM720.7 102L722.8 97.2L721.1 89.6L719 94.4zM719 94.4L721.1 89.6L720.9 88.6L717.7 88.7z"/>
<path fill="#c70000" stroke="#c70000" d="M210.4 134.2L218.9 123.4L212.1 104.5L203.6 116zM234.3 131.2L236.5 128.3L234.7 123.4L232.6 126.4zM232.6 126.4L234.7 123.4L233 118.5L230.9 121.5zM230.9 121.5L233 118.5L231.3 113.6L229.2 116.6zM229.2 116.6L231.3 113.6L229.6 108.7L227.5 111.7zM236.5 128.3L238.6 125.4L236.9 120.5L234.7 123.4zM234.7 123.4L236.9 120.5L235.2 115.5L233 118.5zM233 118.5L235.2 115.5L233.5 110.6L231.3 113.6zM231.3 113.6L233.5 110.6L231.7 105.6L229.6 108.7zM238.6 125.4L240.7 122.5L239 117.5L236.9 120.5zM236.9 120.5L239 117.5L237.3 112.5L235.2 115.5zM235.2 115.5L237.3 112.5L235.6 107.5L233.5 110.6zM233.5 110.6L235.6 107.5L233.9 102.5L231.7 105.6zM240.7 122.5L242.9 119.4L241.1 114.4L239 117.5zM239 117.5L241.1 114.4L239.4 109.4L237.3 112.5zM237.3 112.5L239.4 109.4L237.7 104.3L235.6 107.5zM235.6 107.5L237.7 104.3L236.9 102L234.1 102.1L233.9 102.5zM258.2 127.5L260.4 124.4L258.7 119.2L256.5 122.4zM256.5 122.4L258.7 119.2L256.9 114.1L254.8 117.2zM254.8 117.2L256.9 114.1L255.2 108.8L253.1 112.1zM253.1 112.1L255.2 108.8L253.5 103.6L251.4 106.9zM260.4 124.4L262.5 121.3L260.8 116.1L258.7 119.2zM258.7 119.2L260.8 116.1L259.1 110.8L256.9 114.1zM256.9 114.1L259.1 110.8L257.4 105.6L255.2 108.8zM255.2 108.8L257.4 105.6L256 101.5L254.9 101.5L253.5 103.6zM262.5 121.3L264.6 118.1L262.9 112.8L260.8 116.1zM260.8 116.1L262.9 112.8L261.2 107.6L259.1 110.8zM259.1 110.8L261.2 107.6L259.5 102.3L257.4 105.6zM257.4 105.6L259.5 102.3L259.2 101.4L256 101.5zM264.6 118.1L266.8 114.9L265.1 109.6L262.9 112.8zM262.9 112.8L265.1 109.6L263.3 104.2L261.2 107.6zM261.2 107.6L263.3 104.2L262.4 101.3L260.1 101.4L259.5 102.3zM259.5 102.3L260.1 101.4L259.2 101.4zM297.5 131.8L299.7 128.5L297.9 123L295.8 126.3zM295.8 126.3L297.9 123L296.2 117.4L294.1 120.8zM294.1 120.8L296.2 117.4L294.5 111.9L292.4 115.3zM292.4 115.3L294.5 111.9L292.8 106.3L290.7 109.7zM299.7 128.5L301.8 125.2L300.1 119.6L297.9 123zM297.9 123L300.1 119.6L298.4 114L296.2 117.4zM296.2 117.4L298.4 114L296.6 108.4L294.5 111.9zM294.5 111.9L296.6 108.4L294.9 102.7L292.8 106.3zM301.8 125.2L303.9 121.8L302.2 116.2L300.1 119.6zM300.1 119.6L302.2 116.2L300.5 110.5L298.4 114zM298.4 114L300.5 110.5L298.8 104.9L296.6 108.4zM296.6 108.4L298.8 104.9L297.4 100.3L296.4 100.3L294.9 102.7zM303.9 121.8L306.1 118.3L304.3 112.7L302.2 116.2zM302.2 116.2L304.3 112.7L302.6 107L300.5 110.5zM300.5 110.5L302.6 107L300.9 101.3L298.8 104.9zM298.8 104.9L300.9 101.3L300.6 100.2L297.4 100.3zM321.4 127.2L323.6 123.7L321.9 118L319.7 121.5zM319.7 121.5L321.9 118L320.1 112.2L318 115.7zM318 115.7L320.1 112.2L318.4 106.3L316.3 109.9zM316.3 109.9L318.4 106.3L316.7 100.5L314.6 104.1zM323.6 123.7L325.7 120.2L324 114.4L321.9 118zM321.9 118L324 114.4L322.3 108.5L320.1 112.2zM320.1 112.2L322.3 108.5L320.6 102.6L318.4 106.3zM318.4 106.3L320.6 102.6L319.7 99.7L317.1 99.8L316.7 100.5zM325.7 120.2L327.8 116.6L326.1 110.8L324 114.4zM324 114.4L326.1 110.8L324.4 104.9L322.3 108.5zM322.3 108.5L324.4 104.9L322.9 99.6L322.3 99.6L320.6 102.6zM320.6 102.6L322.3 99.6L319.7 99.7zM327.8 116.6L330 113L328.2 107.1L326.1 110.8zM326.1 110.8L328.2 107.1L326.5 101.1L324.4 104.9zM324.4 104.9L326.5 101.1L326.1 99.5L322.9 99.6zM384.6 126.1L386.8 122.3L385 116L382.9 119.9zM382.9 119.9L385 116L383.3 109.7L381.2 113.6zM381.2 113.6L383.3 109.7L381.6 103.3L379.5 107.3zM379.5 107.3L381.6 103.3L380.2 98L379.3 98.1L377.8 101zM386.8 122.3L388.9 118.4L387.2 112.1L385 116zM385 116L387.2 112.1L385.5 105.7L383.3 109.7zM383.3 109.7L385.5 105.7L383.8 99.3L381.6 103.3zM381.6 103.3L383.8 99.3L383.4 97.9L380.2 98zM388.9 118.4L391 114.5L389.3 108.2L387.2 112.1zM387.2 112.1L389.3 108.2L387.6 101.7L385.5 105.7zM385.5 105.7L387.6 101.7L386.6 97.9L384.5 97.9L383.8 99.3zM383.8 99.3L384.5 97.9L383.4 97.9zM391 114.5L393.2 110.6L391.4 104.2L389.3 108.2zM389.3 108.2L391.4 104.2L389.7 97.8L389.7 97.8L387.6 101.7zM387.6 101.7L389.7 97.8L386.6 97.9zM447.8 124.4L450 120.3L448.2 113.6L446.1 117.7zM446.1 117.7L448.2 113.6L446.5 106.8L444.4 111zM444.4 111L446.5 106.8L444.8 100L442.7 104.3zM442.7 104.3L444.8 100L443.9 96.3L441.5 96.3L441 97.5zM450 120.3L452.1 116.2L450.4 109.4L448.2 113.6zM448.2 113.6L450.4 109.4L448.7 102.6L446.5 106.8zM446.5 106.8L448.7 102.6L447.1 96.2L446.7 96.2L444.8 100zM444.8 100L446.7 96.2L443.9 96.3zM452.1 116.2L454.2 112L452.5 105.2L450.4 109.4zM450.4 109.4L452.5 105.2L450.8 98.3L448.7 102.6zM448.7 102.6L450.8 98.3L450.2 96.1L447.1 96.2zM454.2 112L456.3 107.8L454.6 100.9L452.5 105.2zM452.5 105.2L454.6 100.9L453.4 96L451.9 96L450.8 98.3zM450.8 98.3L451.9 96L450.2 96.1zM511 122.2L513.1 117.9L511.4 110.8L509.3 115.2zM509.3 115.2L511.4 110.8L509.7 103.7L507.6 108.1zM507.6 108.1L509.7 103.7L508 96.5L505.9 101zM505.9 101L508 96.5L507.5 94.5L504.4 94.6zM513.1 117.9L515.3 113.5L513.6 106.4L511.4 110.8zM511.4 110.8L513.6 106.4L511.9 99.2L509.7 103.7zM509.7 103.7L511.9 99.2L510.7 94.4L508.9 94.5L508 96.5zM508 96.5L508.9 94.5L507.5 94.5zM515.3 113.5L517.4 109.1L515.7 101.9L513.6 106.4zM513.6 106.4L515.7 101.9L514 94.6L511.9 99.2zM511.9 99.2L514 94.6L513.9 94.3L510.7 94.4zM517.4 109.1L519.5 104.6L517.8 97.4L515.7 101.9zM515.7 101.9L517.8 97.4L517.1 94.2L514.1 94.3L514 94.6zM514 94.6L514.1 94.3L513.9 94.3zM574.2 119.7L576.3 115.1L574.6 107.7L572.5 112.3zM572.5 112.3L574.6 107.7L572.9 100.2L570.8 104.9zM570.8 104.9L572.9 100.2L571.2 92.7L571.2 92.7L569.1 97.4zM569.1 97.4L571.2 92.7L568 92.8zM576.3 115.1L578.5 110.5L576.8 103.1L574.6 107.7zM574.6 107.7L576.8 103.1L575 95.5L572.9 100.2zM572.9 100.2L575 95.5L574.4 92.7L571.2 92.7zM578.5 110.5L580.6 105.9L578.9 98.4L576.8 103.1zM576.8 103.1L578.9 98.4L577.6 92.6L576.4 92.6L575 95.5zM575 95.5L576.4 92.6L574.4 92.7zM580.6 105.9L582.7 101.2L581 93.6L578.9 98.4zM578.9 98.4L581 93.6L580.8 92.5L577.6 92.6zM637.4 116.7L639.5 111.9L637.8 104.3L635.7 109.1zM635.7 109.1L637.8 104.3L636.1 96.5L634 101.4zM634 101.4L636.1 96.5L634.9 91L633.4 91L632.3 93.6zM632.3 93.6L633.4 91L631.7 91.1zM639.5 111.9L641.7 107.2L640 99.4L637.8 104.3zM637.8 104.3L640 99.4L638.2 91.6L636.1 96.5zM636.1 96.5L638.2 91.6L638.1 90.9L634.9 91zM641.7 107.2L643.8 102.3L642.1 94.6L640 99.4zM640 99.4L642.1 94.6L641.3 90.8L638.6 90.9L638.2 91.6zM638.2 91.6L638.6 90.9L638.1 90.9zM643.8 102.3L645.9 97.5L644.5 90.7L643.8 90.7L642.1 94.6zM642.1 94.6L643.8 90.7L641.3 90.8zM739.9 115.5L742 110.8L740.3 103.5L738.2 108.2zM738.2 108.2L740.3 103.5L738.6 96.1L736.5 100.8zM736.5 100.8L738.6 96.1L736.9 88.6L734.7 93.3zM734.7 93.3L736.9 88.6L736.8 88.2L733.6 88.3zM742 110.8L744.2 106.1L742.4 98.8L740.3 103.5zM740.3 103.5L742.4 98.8L740.7 91.4L738.6 96.1zM738.6 96.1L740.7 91.4L740 88.1L737.1 88.2L736.9 88.6zM736.9 88.6L737.1 88.2L736.8 88.2zM744.2 106.1L746.3 101.5L744.6 94.2L742.4 98.8zM742.4 98.8L744.6 94.2L743.1 88L742.3 88L740.7 91.4zM740.7 91.4L742.3 88L740 88.1zM746.3 101.5L748.4 96.9L746.7 89.5L744.6 94.2zM744.6 94.2L746.7 89.5L746.3 87.9L743.1 88z"/>
<path fill="#b70000" stroke="#b70000" d="M218.9 123.4L221.1 120.6L219.4 115.8L217.2 118.7zM217.2 118.7L219.4 115.8L217.7 111L215.5 114zM215.5 114L217.7 111L215.9 106.3L213.8 109.2zM213.8 109.2L215.9 106.3L214.6 102.6L213.4 102.6L212.1 104.5zM221.1 120.6L223.2 117.7L221.5 112.9L219.4 115.8zM219.4 115.8L221.5 112.9L219.8 108.1L217.7 111zM217.7 111L219.8 108.1L218.1 103.2L215.9 106.3zM215.9 106.3L218.1 103.2L217.8 102.5L214.6 102.6zM223.2 117.7L225.3 114.7L223.6 109.9L221.5 112.9zM221.5 112.9L223.6 109.9L221.9 105L219.8 108.1zM219.8 108.1L221.9 105L221 102.4L218.6 102.5L218.1 103.2zM218.1 103.2L218.6 102.5L217.8 102.5zM225.3 114.7L227.5 111.7L225.8 106.9L223.6 109.9zM223.6 109.9L225.8 106.9L224.2 102.3L223.8 102.4L221.9 105zM221.9 105L223.8 102.4L221 102.4zM282.1 123.2L284.3 119.9L282.6 114.5L280.4 117.8zM280.4 117.8L282.6 114.5L280.9 109L278.7 112.4zM278.7 112.4L280.9 109L279.1 103.5L277 106.9zM277 106.9L279.1 103.5L278.3 100.8L275.6 100.9L275.3 101.5zM284.3 119.9L286.4 116.6L284.7 111.1L282.6 114.5zM282.6 114.5L284.7 111.1L283 105.6L280.9 109zM280.9 109L283 105.6L281.5 100.8L280.8 100.8L279.1 103.5zM279.1 103.5L280.8 100.8L278.3 100.8zM286.4 116.6L288.5 113.2L286.8 107.6L284.7 111.1zM284.7 111.1L286.8 107.6L285.1 102.1L283 105.6zM283 105.6L285.1 102.1L284.7 100.7L281.5 100.8zM288.5 113.2L290.7 109.7L289 104.2L286.8 107.6zM286.8 107.6L289 104.2L287.9 100.6L286 100.6L285.1 102.1zM285.1 102.1L286 100.6L284.7 100.7zM345.3 122.1L347.5 118.5L345.8 112.4L343.6 116.1zM343.6 116.1L345.8 112.4L344 106.4L341.9 110.1zM341.9 110.1L344 106.4L342.3 100.3L340.2 104.1zM340.2 104.1L342.3 100.3L342 99.1L338.8 99.2zM347.5 118.5L349.6 114.7L347.9 108.7L345.8 112.4zM345.8 112.4L347.9 108.7L346.2 102.6L344 106.4zM344 106.4L346.2 102.6L345.2 99L343 99.1L342.3 100.3zM342.3 100.3L343 99.1L342 99.1zM349.6 114.7L351.7 111L350 104.9L347.9 108.7zM347.9 108.7L350 104.9L348.4 98.9L348.2 98.9L346.2 102.6zM346.2 102.6L348.2 98.9L345.2 99zM351.7 111L353.9 107.2L352.2 101L350 104.9zM350 104.9L352.2 101L351.5 98.8L348.4 98.9zM408.5 120.4L410.7 116.4L409 109.9L406.8 113.9zM406.8 113.9L409 109.9L407.2 103.4L405.1 107.4zM405.1 107.4L407.2 103.4L405.7 97.3L405.2 97.3L403.4 100.9zM403.4 100.9L405.2 97.3L402.5 97.4zM410.7 116.4L412.8 112.4L411.1 105.8L409 109.9zM409 109.9L411.1 105.8L409.4 99.3L407.2 103.4zM407.2 103.4L409.4 99.3L408.8 97.2L405.7 97.3zM412.8 112.4L414.9 108.3L413.2 101.7L411.1 105.8zM411.1 105.8L413.2 101.7L412 97.1L410.4 97.2L409.4 99.3zM409.4 99.3L410.4 97.2L408.8 97.2zM414.9 108.3L417.1 104.2L415.3 97.6L413.2 101.7zM413.2 101.7L415.3 97.6L415.2 97.1L412 97.1zM471.7 118.1L473.9 113.9L472.1 107L470 111.3zM470 111.3L472.1 107L470.4 100L468.3 104.4zM468.3 104.4L470.4 100L469.3 95.6L467.5 95.6L466.6 97.4zM466.6 97.4L467.5 95.6L466.2 95.7zM473.9 113.9L476 109.6L474.3 102.7L472.1 107zM472.1 107L474.3 102.7L472.6 95.7L470.4 100zM470.4 100L472.6 95.7L472.5 95.5L469.3 95.6zM476 109.6L478.1 105.3L476.4 98.3L474.3 102.7zM474.3 102.7L476.4 98.3L475.7 95.4L472.7 95.5L472.6 95.7zM472.6 95.7L472.7 95.5L472.5 95.5zM478.1 105.3L480.3 100.9L478.9 95.3L477.8 95.3L476.4 98.3zM476.4 98.3L477.8 95.3L475.7 95.4zM534.9 115.5L537.1 111.1L535.3 103.8L533.2 108.3zM533.2 108.3L535.3 103.8L533.6 96.4L531.5 101zM531.5 101L533.6 96.4L533 93.8L529.8 93.9zM537.1 111.1L539.2 106.5L537.5 99.2L535.3 103.8zM535.3 103.8L537.5 99.2L536.2 93.7L534.9 93.8L533.6 96.4zM533.6 96.4L534.9 93.8L533 93.8zM539.2 106.5L541.3 102L539.6 94.6L537.5 99.2zM537.5 99.2L539.6 94.6L539.4 93.6L536.2 93.7zM541.3 102L543.5 97.4L542.6 93.5L540.1 93.6L539.6 94.6zM539.6 94.6L540.1 93.6L539.4 93.6zM598.1 112.6L600.3 107.9L598.5 100.3L596.4 105zM596.4 105L598.5 100.3L596.8 92.6L594.7 97.4zM594.7 97.4L596.8 92.6L596.7 92L593.5 92.1zM600.3 107.9L602.4 103.2L600.7 95.5L598.5 100.3zM598.5 100.3L600.7 95.5L599.9 92L597.1 92L596.8 92.6zM596.8 92.6L597.1 92L596.7 92zM602.4 103.2L604.5 98.4L603.1 91.9L602.3 91.9L600.7 95.5zM600.7 95.5L602.3 91.9L599.9 92zM604.5 98.4L606.6 93.6L606.2 91.8L603.1 91.9zM661.3 109.1L663.4 104.3L661.7 96.5L659.6 101.4zM659.6 101.4L661.7 96.5L660.4 90.3L659.3 90.3L657.9 93.6zM657.9 93.6L659.3 90.3L657.2 90.4zM663.4 104.3L665.6 99.4L663.9 91.6L661.7 96.5zM661.7 96.5L663.9 91.6L663.6 90.2L660.4 90.3zM665.6 99.4L667.7 94.6L666.7 90.1L664.5 90.2L663.9 91.6zM663.9 91.6L664.5 90.2L663.6 90.2zM667.7 94.6L669.7 90L666.7 90.1zM700.6 112.7L702.7 107.9L701 100.2L698.9 105.1zM698.9 105.1L701 100.2L699.3 92.5L697.2 97.4zM697.2 97.4L699.3 92.5L698.6 89.2L695.6 89.3L695.5 89.6zM695.5 89.6L695.6 89.3L695.4 89.3zM702.7 107.9L704.9 103.1L703.2 95.4L701 100.2zM701 100.2L703.2 95.4L701.8 89.1L700.8 89.2L699.3 92.5zM699.3 92.5L700.8 89.2L698.6 89.2zM704.9 103.1L707 98.3L705.3 90.6L703.2 95.4zM703.2 95.4L705.3 90.6L704.9 89L701.8 89.1zM707 98.3L709.1 93.5L708.1 89L706 89L705.3 90.6zM705.3 90.6L706 89L704.9 89z"/>
<path fill="#a70000" stroke="#a70000" d="M242.9 119.4L245 116.4L243.3 111.3L241.1 114.4zM241.1 114.4L243.3 111.3L241.6 106.2L239.4 109.4zM239.4 109.4L241.6 106.2L240.1 101.9L239.3 101.9L237.7 104.3zM237.7 104.3L239.3 101.9L236.9 102zM245 116.4L247.1 113.3L245.4 108.1L243.3 111.3zM243.3 111.3L245.4 108.1L243.7 103L241.6 106.2zM241.6 106.2L243.7 103L243.3 101.8L240.1 101.9zM247.1 113.3L249.3 110.1L247.5 104.9L245.4 108.1zM245.4 108.1L247.5 104.9L246.5 101.7L244.5 101.8L243.7 103zM243.7 103L244.5 101.8L243.3 101.8zM249.3 110.1L251.4 106.9L249.7 101.7L247.5 104.9zM247.5 104.9L249.7 101.7L249.7 101.6L246.5 101.7zM266.8 114.9L268.9 111.6L267.2 106.2L265.1 109.6zM265.1 109.6L267.2 106.2L265.6 101.2L265.3 101.2L263.3 104.2zM263.3 104.2L265.3 101.2L262.4 101.3zM268.9 111.6L271 108.3L269.3 102.9L267.2 106.2zM267.2 106.2L269.3 102.9L268.8 101.1L265.6 101.2zM271 108.3L273.2 104.9L271.9 101L270.4 101.1L269.3 102.9zM269.3 102.9L270.4 101.1L268.8 101.1zM273.2 104.9L275.3 101.5L275.1 100.9L271.9 101zM306.1 118.3L308.2 114.9L306.5 109.2L304.3 112.7zM304.3 112.7L306.5 109.2L304.8 103.4L302.6 107zM302.6 107L304.8 103.4L303.8 100.1L301.5 100.2L300.9 101.3zM300.9 101.3L301.5 100.2L300.6 100.2zM308.2 114.9L310.3 111.3L308.6 105.6L306.5 109.2zM306.5 109.2L308.6 105.6L307 100.1L306.7 100.1L304.8 103.4zM304.8 103.4L306.7 100.1L303.8 100.1zM310.3 111.3L312.4 107.8L310.7 102L308.6 105.6zM308.6 105.6L310.7 102L310.2 100L307 100.1zM312.4 107.8L314.6 104.1L313.3 99.9L311.9 99.9L310.7 102zM310.7 102L311.9 99.9L310.2 100zM330 113L332.1 109.3L330.4 103.4L328.2 107.1zM328.2 107.1L330.4 103.4L329.3 99.4L327.5 99.5L326.5 101.1zM326.5 101.1L327.5 99.5L326.1 99.5zM332.1 109.3L334.2 105.6L332.5 99.6L330.4 103.4zM330.4 103.4L332.5 99.6L332.4 99.3L329.3 99.4zM334.2 105.6L336.4 101.9L335.6 99.3L332.7 99.3L332.5 99.6zM332.5 99.6L332.7 99.3L332.4 99.3zM336.4 101.9L337.8 99.2L335.6 99.3zM369.2 116.6L371.4 112.7L369.7 106.5L367.5 110.4zM367.5 110.4L369.7 106.5L368 100.2L365.8 104.1zM365.8 104.1L368 100.2L367.5 98.4L364.3 98.5zM371.4 112.7L373.5 108.8L371.8 102.6L369.7 106.5zM369.7 106.5L371.8 102.6L370.6 98.3L369 98.3L368 100.2zM368 100.2L369 98.3L367.5 98.4zM373.5 108.8L375.6 104.9L373.9 98.6L371.8 102.6zM371.8 102.6L373.9 98.6L373.8 98.2L370.6 98.3zM375.6 104.9L377.8 101L377 98.1L374.1 98.2L373.9 98.6zM373.9 98.6L374.1 98.2L373.8 98.2zM393.2 110.6L395.3 106.6L393.6 100.1L391.4 104.2zM391.4 104.2L393.6 100.1L392.9 97.7L389.7 97.8zM395.3 106.6L397.4 102.6L396.1 97.6L394.9 97.6L393.6 100.1zM393.6 100.1L394.9 97.6L392.9 97.7zM397.4 102.6L399.6 98.5L399.3 97.5L396.1 97.6zM399.6 98.5L400.1 97.5L399.3 97.5zM432.4 114.2L434.6 110.1L432.9 103.4L430.7 107.6zM430.7 107.6L432.9 103.4L431.1 96.7L429 100.9zM429 100.9L431.1 96.7L431.1 96.6L428 96.7zM434.6 110.1L436.7 106L435 99.2L432.9 103.4zM432.9 103.4L435 99.2L434.3 96.5L431.2 96.6L431.1 96.7zM431.1 96.7L431.2 96.6L431.1 96.6zM436.7 106L438.8 101.7L437.5 96.4L436.4 96.5L435 99.2zM435 99.2L436.4 96.5L434.3 96.5zM438.8 101.7L441 97.5L440.7 96.4L437.5 96.4zM495.6 111.5L497.8 107.2L496.1 100.1L493.9 104.5zM493.9 104.5L496.1 100.1L494.8 94.9L493.4 94.9L492.2 97.4zM492.2 97.4L493.4 94.9L491.6 94.9zM497.8 107.2L499.9 102.7L498.2 95.6L496.1 100.1zM496.1 100.1L498.2 95.6L498 94.8L494.8 94.9zM499.9 102.7L502 98.3L501.2 94.7L498.6 94.8L498.2 95.6zM498.2 95.6L498.6 94.8L498 94.8zM502 98.3L503.8 94.6L501.2 94.7zM558.8 108.5L561 103.9L559.3 96.4L557.1 101.1zM557.1 101.1L559.3 96.4L558.5 93.1L555.6 93.2L555.4 93.6zM555.4 93.6L555.6 93.2L555.3 93.2zM561 103.9L563.1 99.3L561.7 93L560.8 93L559.3 96.4zM559.3 96.4L560.8 93L558.5 93.1zM563.1 99.3L565.2 94.6L564.9 92.9L561.7 93zM565.2 94.6L566 92.9L564.9 92.9zM622 105.2L624.2 100.4L622.4 92.6L620.3 97.5zM620.3 97.5L622.4 92.6L622.2 91.3L619 91.4zM624.2 100.4L626.3 95.5L625.3 91.2L623 91.3L622.4 92.6zM622.4 92.6L623 91.3L622.2 91.3zM626.3 95.5L628.2 91.2L625.3 91.2zM724.5 104.7L726.6 100L724.9 92.4L722.8 97.2zM722.8 97.2L724.9 92.4L724 88.5L721.5 88.6L721.1 89.6zM721.1 89.6L721.5 88.6L720.9 88.6zM726.6 100L728.8 95.2L727.2 88.4L726.7 88.4L724.9 92.4zM724.9 92.4L726.7 88.4L724 88.5zM728.8 95.2L730.9 90.5L730.4 88.3L727.2 88.4zM730.9 90.5L731.9 88.3L730.4 88.3z"/>
<path fill="#970000" stroke="#970000" d="M227.5 111.7L229.6 108.7L227.9 103.8L225.8 106.9zM225.8 106.9L227.9 103.8L227.4 102.3L224.2 102.3zM229.6 108.7L231.7 105.6L230.6 102.2L229 102.2L227.9 103.8zM227.9 103.8L229 102.2L227.4 102.3zM231.7 105.6L233.9 102.5L233.7 102.1L230.6 102.2zM233.9 102.5L234.1 102.1L233.7 102.1zM290.7 109.7L292.8 106.3L291.1 100.6L289 104.2zM289 104.2L291.1 100.6L291 100.5L287.9 100.6zM292.8 106.3L294.9 102.7L294.2 100.4L291.2 100.5L291.1 100.6zM291.1 100.6L291.2 100.5L291 100.5zM294.9 102.7L296.4 100.3L294.2 100.4zM353.9 107.2L356 103.3L354.7 98.7L353.4 98.8L352.2 101zM352.2 101L353.4 98.8L351.5 98.8zM356 103.3L358.1 99.5L357.9 98.6L354.7 98.7zM358.1 99.5L358.6 98.6L357.9 98.6zM417.1 104.2L419.2 100.1L418.4 97L415.6 97L415.3 97.6zM415.3 97.6L415.6 97L415.2 97.1zM419.2 100.1L420.8 96.9L418.4 97zM456.3 107.8L458.5 103.5L456.8 96.6L454.6 100.9zM454.6 100.9L456.8 96.6L456.6 95.9L453.4 96zM458.5 103.5L460.6 99.2L459.8 95.8L457.1 95.9L456.8 96.6zM456.8 96.6L457.1 95.9L456.6 95.9zM460.6 99.2L462.3 95.8L459.8 95.8zM519.5 104.6L521.7 100.1L520.3 94.2L519.3 94.2L517.8 97.4zM517.8 97.4L519.3 94.2L517.1 94.2zM521.7 100.1L523.8 95.5L523.5 94.1L520.3 94.2zM523.8 95.5L524.5 94L523.5 94.1zM582.7 101.2L584.9 96.5L584 92.4L581.5 92.5L581 93.6zM581 93.6L581.5 92.5L580.8 92.5zM584.9 96.5L586.7 92.3L584 92.4zM645.9 97.5L648.1 92.6L647.6 90.6L644.5 90.7zM648.1 92.6L648.9 90.6L647.6 90.6zM685.2 101.3L687.4 96.5L685.8 89.6L685.2 89.6L683.5 93.6zM683.5 93.6L685.2 89.6L682.7 89.7zM687.4 96.5L689.5 91.6L689 89.5L685.8 89.6zM689.5 91.6L690.4 89.4L689 89.5zM748.4 96.9L750.5 92.2L749.5 87.8L747.5 87.9L746.7 89.5zM746.7 89.5L747.5 87.9L746.3 87.9zM750.5 92.2L752.6 87.7L749.5 87.8z"/>
<path fill="#870000" stroke="#870000" d="M251.4 106.9L253.5 103.6L252.8 101.5L249.7 101.6L249.7 101.7zM249.7 101.7L249.7 101.6L249.7 101.6zM253.5 103.6L254.9 101.5L252.8 101.5zM275.3 101.5L275.6 100.9L275.1 100.9zM314.6 104.1L316.7 100.5L316.5 99.8L313.3 99.9zM316.7 100.5L317.1 99.8L316.5 99.8zM377.8 101L379.3 98.1L377 98.1zM441 97.5L441.5 96.3L440.7 96.4zM480.3 100.9L482.4 96.5L482.1 95.2L478.9 95.3zM482.4 96.5L483 95.2L482.1 95.2zM543.5 97.4L545.2 93.5L542.6 93.5zM606.6 93.6L607.5 91.7L606.2 91.8zM709.1 93.5L711.2 88.9L708.1 89z"/>
</g>
<path fill="none" stroke="#000" stroke-opacity="0.8" stroke-width="1.7" stroke-linejoin="round" d="M394.6 573.5L393.9 572.6L392.2 570.2L385.4 560.9L378.5 551.8L371.7 543.1L364.8 534.6L358 526.1L351.1 517.3L344.2 508.3L337.4 499.1L330.5 489.9L323.7 480.5L316.8 471.1L310 461.5L303.1 451.9L296.3 442.3L289.4 432.8L282.6 423.6L275.7 414.7L268.9 405.6L262 396L255.2 386.1L248.3 375.5L241.5 363.9L234.6 350.9L227.8 337.2L220.9 323.6L214.1 310L207.2 296L200.4 281.3L193.5 265L186.7 247.6L179.8 230.1L173 213.7L166.1 198.1L159.3 182.9L152.4 167.9M406.7 572.9L405.9 571.8L404.2 569.6L402.5 567.3L400.7 565.1L393.9 556.2L387 547.6L380.2 539.3L373.3 531.1L366.5 522.7L359.6 514L352.8 505.1L345.9 496.1L339.1 487L332.2 477.8L325.4 468.6L318.5 459.1L311.7 449.6L304.8 440.1L298 430.8L291.1 421.8L284.3 412.8L277.4 403.3L270.6 393.5L263.7 383.2L256.9 372L250 359.6L243.2 346.2L236.3 332.5L229.4 319L222.6 305.2L215.7 290.7L208.9 275.3L202 258.3L195.2 240.8L188.3 223.8L181.5 207.8L174.6 192.1L167.8 176.7L160.9 161.3M418.8 572.2L417.8 571.1L416.1 568.9L409.3 560.3L402.4 551.9L395.6 543.8L388.7 535.8L381.9 527.7L375 519.4L368.2 510.8L361.3 502L354.5 493.2L347.6 484.2L340.8 475.2L333.9 466.1L327 456.7L320.2 447.3L313.3 437.9L306.5 428.8L299.6 419.7L292.8 410.5L285.9 400.7L279.1 390.6L272.2 379.8L265.4 367.9L258.5 354.9L251.7 341.3L244.8 327.7L238 314.1L231.1 299.9L224.3 285L217.4 268.6L210.6 251.3L203.7 234L196.9 217.6L190 201.5L183.2 185.6L176.3 169.7L169.5 153.9M430.8 571.6L429.8 570.4L428.1 568.3L426.4 566.2L424.6 564.2L417.8 556L410.9 548L404.1 540.2L397.2 532.4L390.4 524.4L383.5 516.1L376.7 507.7L369.8 499L363 490.3L356.1 481.6L349.3 472.7L342.4 463.6L335.6 454.3L328.7 444.9L321.9 435.6L315 426.5L308.2 417.4L301.3 407.8L294.5 397.8L287.6 387.3L280.8 375.9L273.9 363.3L267.1 350L260.2 336.4L253.4 322.8L246.5 308.8L239.7 294.2L232.8 278.6L225.9 261.6L219.1 244.3L212.2 227.5L205.4 211.1L198.5 194.8L191.7 178.5L184.8 162L178 145.6M442.7 570.9L441.7 569.7L440 567.7L433.2 559.8L426.3 552L419.5 544.4L412.6 536.8L405.8 529.2L398.9 521.2L392.1 513L385.2 504.6L378.4 496.1L371.5 487.6L364.7 478.9L357.8 470.1L351 461L344.1 451.7L337.3 442.4L330.4 433.2L323.5 424.1L316.7 414.7L309.8 404.8L303 394.5L296.1 383.5L289.3 371.4L282.4 358.4L275.6 344.9L268.7 331.3L261.9 317.5L255 303.1L248.2 288.1L241.3 271.6L234.5 254.4L227.6 237.3L220.8 220.7L213.9 204.1L207.1 187.4L200.2 170.6L193.4 153.5L186.5 136.6M454.7 570.2L453.7 569.1L452 567.2L450.3 565.3L448.6 563.4L441.7 555.8L434.9 548.4L428 541L421.1 533.6L414.3 526L407.4 518L400.6 509.9L393.7 501.7L386.9 493.3L380 484.9L373.2 476.3L366.3 467.5L359.5 458.4L352.6 449.1L345.8 439.8L338.9 430.6L332.1 421.4L325.2 411.7L318.4 401.5L311.5 390.8L304.7 379.2L297.8 366.5L291 353.2L284.1 339.6L277.3 325.9L270.4 311.8L263.6 297.1L256.7 281.3L249.9 264.4L243 247.2L236.2 230.3L229.3 213.5L222.4 196.6L215.6 179.4L208.7 161.9L201.9 144.3L195 126.7M466.6 569.5L465.6 568.5L463.9 566.6L457.1 559.4L450.2 552.1L443.4 544.9L436.5 537.8L429.7 530.4L422.8 522.8L416 515L409.1 506.9L402.3 498.8L395.4 490.5L388.6 482.2L381.7 473.7L374.9 464.8L368 455.6L361.2 446.3L354.3 437.1L347.5 427.8L340.6 418.3L333.8 408.3L326.9 397.8L320 386.6L313.2 374.4L306.3 361.3L299.5 347.8L292.6 334.2L285.8 320.2L278.9 305.8L272.1 290.5L265.2 274.1L258.4 257L251.5 239.9L244.7 223L237.8 205.8L231 188.4L224.1 170.5L217.3 152.4L210.4 134.2L203.6 116M478.4 568.7L477.6 567.9L475.9 566.1L474.2 564.4L472.5 562.6L465.6 555.6L458.8 548.6L451.9 541.7L445.1 534.6L438.2 527.3L431.4 519.7L424.5 511.9L417.6 504L410.8 495.9L403.9 487.8L397.1 479.6L390.2 471L383.4 462L376.5 452.7L369.7 443.5L362.8 434.2L356 424.8L349.1 415L342.3 404.7L335.4 393.7L328.6 382L321.7 369.2L314.9 355.9L308 342.3L301.2 328.5L294.3 314.2L287.5 299.3L280.6 283.4L273.8 266.6L266.9 249.4L260.1 232.4L253.2 215.1L246.4 197.5L239.5 179.4L232.7 160.8L225.8 142.2L218.9 123.4L212.1 104.5M490.2 567.9L489.6 567.3L487.8 565.6L481 558.9L474.1 552.1L467.3 545.3L460.4 538.5L453.6 531.5L446.7 524.2L439.9 516.7L433 508.9L426.2 501.1L419.3 493.1L412.5 485.1L405.6 476.8L398.8 468.1L391.9 459L385.1 449.7L378.2 440.4L371.4 431.1L364.5 421.4L357.7 411.3L350.8 400.6L344 389.2L337.1 376.9L330.3 363.8L323.4 350.3L316.5 336.6L309.7 322.5L302.8 307.8L296 292.4L289.1 276L282.3 258.9L275.4 241.8L268.6 224.4L261.7 206.7L254.9 188.5L248 169.6L241.2 150.4L234.3 131.2L227.5 111.7L225.8 106.9L224.2 102.3M502 567.2L501.5 566.7L499.8 565.1L498.1 563.5L496.4 561.9L489.5 555.4L482.7 548.8L475.8 542.2L469 535.4L462.1 528.4L455.3 521.1L448.4 513.6L441.6 506L434.7 498.2L427.9 490.4L421 482.4L414.1 474L407.3 465.1L400.4 455.9L393.6 446.6L386.7 437.2L379.9 427.7L373 417.8L366.2 407.3L359.3 396.2L352.5 384.2L345.6 371.4L338.8 358.1L331.9 344.5L325.1 330.5L318.2 316.1L311.4 301.1L304.5 285.1L297.7 268.2L290.8 251.1L284 233.8L277.1 215.9L270.3 197.6L263.4 178.6L256.6 159L249.7 139.4L242.9 119.4L241.1 114.4L239.4 109.4L237.7 104.3L236.9 102M513.7 566.4L513.5 566.1L511.8 564.6L504.9 558.4L498 552.1L491.2 545.6L484.3 539.1L477.5 532.4L470.6 525.4L463.8 518.1L456.9 510.6L450.1 503.1L443.2 495.4L436.4 487.6L429.5 479.6L422.7 471L415.8 461.9L409 452.6L402.1 443.3L395.3 433.8L388.4 424.1L381.6 413.8L374.7 402.9L367.9 391.3L361 378.9L354.2 365.8L347.3 352.3L340.5 338.4L333.6 324.1L326.8 309.4L319.9 293.8L313.1 277.4L306.2 260.3L299.3 243L292.5 225.2L285.6 206.8L278.8 187.8L271.9 167.9L265.1 147.8L258.2 127.5L251.4 106.9L249.7 101.7L249.7 101.6M525.4 565.6L523.7 564.1L522 562.6L520.3 561.2L513.4 555.1L506.6 548.9L499.7 542.6L492.9 536.1L486 529.4L479.2 522.3L472.3 515.1L465.5 507.7L458.6 500.1L451.8 492.5L444.9 484.8L438.1 476.6L431.2 467.8L424.4 458.6L417.5 449.2L410.7 439.8L403.8 430.1L396.9 420.1L390.1 409.4L383.2 398.2L376.4 386.1L369.5 373.2L362.7 359.9L355.8 346.2L349 332L342.1 317.4L335.3 302.3L328.4 286.2L321.6 269.4L314.7 252.1L307.9 234.4L301 216L294.2 197L287.3 177.1L280.5 156.6L273.6 135.9L266.8 114.9L265.1 109.6L263.3 104.2L262.4 101.3M537 564.7L535.7 563.6L528.8 557.8L522 551.9L515.1 545.8L508.3 539.6L501.4 533.1L494.5 526.3L487.7 519.3L480.8 512.1L474 504.7L467.1 497.3L460.3 489.7L453.4 481.9L446.6 473.4L439.7 464.4L432.9 455.1L426 445.6L419.2 436.1L412.3 426.2L405.5 415.8L398.6 404.7L391.8 393L384.9 380.5L378.1 367.4L371.2 353.8L364.4 339.8L357.5 325.3L350.7 310.4L343.8 294.8L337 278.3L330.1 261.1L323.3 243.6L316.4 225.2L309.6 206.2L302.7 186.3L295.8 165.6L289 144.5L282.1 123.2L275.3 101.5L275.1 100.9M548.5 563.8L547.6 563.1L545.9 561.7L544.2 560.3L537.3 554.7L530.5 548.8L523.6 542.8L516.8 536.6L509.9 530.1L503.1 523.3L496.2 516.3L489.4 509.1L482.5 501.8L475.7 494.4L468.8 486.8L462 478.8L455.1 470L448.3 460.9L441.4 451.4L434.6 441.9L427.7 432.2L420.9 421.9L414 411.2L407.2 399.7L400.3 387.5L393.4 374.6L386.6 361.2L379.7 347.4L372.9 333.1L366 318.3L359.2 303.1L352.3 286.9L345.5 270L338.6 252.6L331.8 234.4L324.9 215.5L318.1 195.7L311.2 174.8L304.4 153.4L297.5 131.8L290.7 109.7L289 104.2L287.9 100.6M560 563L559.6 562.6L552.7 557.2L545.9 551.6L539 545.8L532.2 539.8L525.3 533.6L518.5 527.1L511.6 520.3L504.8 513.3L497.9 506.1L491 498.8L484.2 491.5L477.3 483.8L470.5 475.4L463.6 466.5L456.8 457.1L449.9 447.6L443.1 437.9L436.2 428L429.4 417.4L422.5 406.2L415.7 394.3L408.8 381.7L402 368.5L395.1 354.8L388.3 340.7L381.4 326.1L374.6 311.1L367.7 295.3L360.9 278.7L354 261.4L347.2 243.6L340.3 224.7L333.5 205L326.6 184.3L319.8 162.6L312.9 140.7L306.1 118.3L304.3 112.7L302.6 107L300.9 101.3L300.6 100.2M571.6 562.1L571.5 562L569.8 560.8L568.1 559.5L561.2 554.2L554.4 548.6L547.5 542.9L540.7 536.9L533.8 530.6L527 524.1L520.1 517.2L513.3 510.2L506.4 503.1L499.6 495.9L492.7 488.5L485.9 480.6L479 471.9L472.2 462.7L465.3 453.3L458.5 443.6L451.6 433.8L444.8 423.4L437.9 412.5L431.1 400.9L424.2 388.6L417.4 375.6L410.5 362.2L403.7 348.2L396.8 333.7L389.9 318.8L383.1 303.4L376.2 287.1L369.4 270.2L362.5 252.5L355.7 233.9L348.8 214.3L342 193.7L335.1 172L328.3 149.8L321.4 127.2L314.6 104.1L313.3 99.9M583 561.1L581.8 560.3L580 559L578.3 557.8L576.6 556.5L569.8 551.2L562.9 545.7L556.1 540L549.2 534L542.4 527.6L535.5 521L528.7 514.2L521.8 507.2L515 500.1L508.1 492.9L501.3 485.4L494.4 477.1L487.5 468.2L480.7 458.8L473.8 449.2L467 439.4L460.1 429.3L453.3 418.6L446.4 407.3L439.6 395.3L432.7 382.6L425.9 369.3L419 355.5L412.2 341.2L405.3 326.5L398.5 311.3L391.6 295.4L384.8 278.7L377.9 261.3L371.1 243L364.2 223.5L357.4 203.2L350.5 181.6L343.7 159.1L336.8 136.3L330 113L328.2 107.1L326.5 101.1L326.1 99.5M594.3 560.2L593.7 559.7L592 558.5L585.1 553.6L578.3 548.4L571.4 542.8L564.6 537.1L557.7 531L550.9 524.6L544 518L537.2 511.1L530.3 504.2L523.5 497.1L516.6 489.9L509.8 482.1L502.9 473.5L496.1 464.3L489.2 454.7L482.4 445L475.5 435L468.7 424.6L461.8 413.5L455 401.8L448.1 389.3L441.3 376.3L434.4 362.8L427.6 348.6L420.7 334L413.9 318.9L407 303.4L400.2 287L393.3 269.9L386.4 251.9L379.6 232.7L372.7 212.5L365.9 191.2L359 168.6L352.2 145.6L345.3 122.1L343.6 116.1L341.9 110.1L340.2 104.1L338.8 99.2M605.8 559.3L605.7 559.2L604 558L602.2 556.9L600.5 555.7L593.7 550.8L586.8 545.5L580 540L573.1 534.1L566.3 528L559.4 521.6L552.6 514.9L545.7 508.1L538.9 501.1L532 494L525.2 486.7L518.3 478.5L511.5 469.6L504.6 460.2L497.8 450.5L490.9 440.6L484 430.4L477.2 419.6L470.3 408.1L463.5 395.9L456.6 383.1L449.8 369.8L442.9 355.9L436.1 341.4L429.2 326.5L422.4 311.1L415.5 295.1L408.7 278.3L401.8 260.6L395 241.8L388.1 221.8L381.3 200.8L374.4 178.3L367.6 155L360.7 131.4L353.9 107.2L352.2 101L351.5 98.8M617 558.3L615.9 557.5L609.1 552.9L602.2 548L595.4 542.7L588.5 537.1L581.7 531.2L574.8 525L567.9 518.5L561.1 511.8L554.2 505L547.4 498L540.5 491L533.7 483.3L526.8 474.7L520 465.5L513.1 455.9L506.3 446L499.4 436L492.6 425.4L485.7 414.2L478.9 402.3L472 389.8L465.2 376.7L458.3 363L451.5 348.7L444.6 333.9L437.8 318.7L430.9 303L424.1 286.5L417.2 269.1L410.4 250.8L403.5 231.1L396.7 210.3L389.8 188.1L383 164.7L376.1 140.9L369.2 116.6L367.5 110.4L365.8 104.1L364.3 98.5M628.2 557.3L627.9 557L626.1 555.9L624.4 554.8L617.6 550.2L610.7 545.2L603.9 539.8L597 534.2L590.2 528.2L583.3 521.9L576.5 515.4L569.6 508.7L562.8 501.8L555.9 494.9L549.1 487.7L542.2 479.6L535.4 470.7L528.5 461.2L521.7 451.4L514.8 441.5L508 431.2L501.1 420.2L494.3 408.6L487.4 396.3L480.6 383.4L473.7 370L466.8 355.9L460 341.3L453.1 326.2L446.3 310.6L439.4 294.5L432.6 277.5L425.7 259.5L418.9 240.2L412 219.6L405.2 197.8L398.3 174.5L391.5 150.6L384.6 126.1L377.8 101L377 98.1M639.7 556.3L638.1 555.4L636.4 554.3L634.7 553.2L633 552.1L626.1 547.4L619.3 542.4L612.4 537L605.6 531.2L598.7 525.2L591.9 518.8L585 512.3L578.2 505.5L571.3 498.7L564.4 491.7L557.6 484.2L550.7 475.7L543.9 466.5L537 456.8L530.2 446.8L523.3 436.7L516.5 426L509.6 414.7L502.8 402.6L495.9 390L489.1 376.8L482.2 363L475.4 348.5L468.5 333.5L461.7 318.1L454.8 302.3L448 285.6L441.1 268L434.3 249.2L427.4 229L420.6 207.5L413.7 184.5L406.9 160.3L400 135.8L393.2 110.6L391.4 104.2L389.7 97.8M650.5 555.2L650.1 554.8L648.3 553.8L641.5 549.5L634.6 544.7L627.8 539.6L620.9 534.1L614.1 528.3L607.2 522.1L600.4 515.7L593.5 509.1L586.7 502.3L579.8 495.5L573 488.4L566.1 480.4L559.3 471.6L552.4 462.1L545.6 452.2L538.7 442.1L531.9 431.7L525 420.6L518.2 408.8L511.3 396.4L504.5 383.4L497.6 369.9L490.8 355.7L483.9 340.8L477.1 325.5L470.2 309.9L463.3 293.5L456.5 276.3L449.6 258L442.8 238.2L435.9 217L429.1 194.4L422.2 170.3L415.4 145.7L408.5 120.4L406.8 113.9L405.1 107.4L403.4 100.9L402.5 97.4M662 554.3L660.3 553.3L658.6 552.3L656.9 551.2L650 546.8L643.2 542L636.3 536.7L629.5 531.2L622.6 525.2L615.8 519L608.9 512.5L602.1 505.9L595.2 499.1L588.4 492.3L581.5 484.9L574.7 476.4L567.8 467.2L560.9 457.5L554.1 447.4L547.2 437.2L540.4 426.4L533.5 414.9L526.7 402.7L519.8 389.9L513 376.7L506.1 362.7L499.3 348.1L492.4 332.9L485.6 317.3L478.7 301.2L471.9 284.4L465 266.5L458.2 247.3L451.3 226.4L444.5 204.3L437.6 180.4L430.8 155.6L423.9 130.3L417.1 104.2L415.3 97.6L415.2 97.1M672.7 553L672.3 552.7L665.4 548.7L658.5 544.1L651.7 539.2L644.8 533.9L638 528.2L631.1 522.2L624.3 515.9L617.4 509.3L610.6 502.7L603.7 495.9L596.9 488.9L590 481L583.2 472.2L576.3 462.7L569.5 452.7L562.6 442.5L555.8 432L548.9 420.8L542.1 408.9L535.2 396.3L528.4 383.2L521.5 369.6L514.7 355.2L507.8 340.2L501 324.7L494.1 308.8L487.3 292.3L480.4 274.8L473.6 256.1L466.7 235.7L459.8 213.9L453 190.5L446.1 165.7L439.3 140.4L432.4 114.2L430.7 107.6L429 100.9L428 96.7M684.2 552.1L682.5 551.2L680.8 550.2L673.9 546.1L667.1 541.4L660.2 536.4L653.4 530.9L646.5 525.1L639.7 519L632.8 512.7L626 506.1L619.1 499.4L612.3 492.6L605.4 485.3L598.6 477L591.7 467.7L584.9 457.9L578 447.8L571.2 437.5L564.3 426.6L557.4 414.9L550.6 402.6L543.7 389.7L536.9 376.3L530 362.2L523.2 347.4L516.3 332L509.5 316.2L502.6 300L495.8 282.9L488.9 264.7L482.1 244.9L475.2 223.4L468.4 200.6L461.5 175.9L454.7 150.5L447.8 124.4L441 97.5L440.7 96.4M694.7 550.8L694.4 550.6L692.7 549.7L691 548.7L689.3 547.7L682.5 543.4L675.6 538.7L668.8 533.5L661.9 528L655 522.1L648.2 515.9L641.3 509.4L634.5 502.8L627.6 496.1L620.8 489.2L613.9 481.4L607.1 472.6L600.2 463.1L593.4 453L586.5 442.7L579.7 432.1L572.8 420.8L566 408.8L559.1 396.1L552.3 382.8L545.4 369.1L538.6 354.5L531.7 339.2L524.9 323.5L518 307.5L511.2 290.8L504.3 273L497.5 253.8L490.6 232.9L483.8 210.5L476.9 186.3L470.1 160.7L463.2 134.7L456.3 107.8L454.6 100.9L453.4 96M705.8 549.8L704.7 549.1L697.8 545.2L691 540.8L684.1 535.9L677.3 530.6L670.4 524.9L663.6 518.9L656.7 512.7L649.9 506.2L643 499.5L636.2 492.7L629.3 485.6L622.5 477.3L615.6 468.1L608.8 458.2L601.9 448L595.1 437.5L588.2 426.6L581.4 414.8L574.5 402.4L567.7 389.3L560.8 375.8L553.9 361.5L547.1 346.4L540.2 330.8L533.4 314.9L526.5 298.4L519.7 281.1L512.8 262.5L506 242.1L499.1 220.1L492.3 196.5L485.4 171.1L478.6 145L471.7 118.1L470 111.3L468.3 104.4L466.6 97.4L466.2 95.7M716.8 548.6L716.6 548.5L714.9 547.6L713.2 546.7L706.4 542.6L699.5 538.1L692.7 533.1L685.8 527.7L679 521.9L672.1 515.8L665.3 509.4L658.4 502.8L651.6 496.1L644.7 489.3L637.8 481.7L631 472.9L624.1 463.4L617.3 453.2L610.4 442.8L603.6 432.1L596.7 420.7L589.9 408.5L583 395.7L576.2 382.3L569.3 368.4L562.5 353.6L555.6 338.1L548.8 322.2L541.9 306L535.1 289L528.2 270.9L521.4 251.2L514.5 229.6L507.7 206.6L500.8 181.6L494 155.4L487.1 128.6L480.3 100.9L478.9 95.3M727.3 547.3L726.9 547L725.2 546.1L723.5 545.2L721.7 544.3L714.9 540L708 535.3L701.2 530.2L694.3 524.6L687.5 518.7L680.6 512.5L673.8 506.1L666.9 499.5L660.1 492.7L653.2 485.7L646.4 477.5L639.5 468.3L632.7 458.4L625.8 448L619 437.5L612.1 426.4L605.3 414.5L598.4 401.9L591.6 388.7L584.7 375.1L577.9 360.6L571 345.3L564.2 329.5L557.3 313.3L550.5 296.7L543.6 279L536.7 260L529.9 239L523 216.4L516.2 192L509.3 165.9L502.5 139.2L495.6 111.5L493.9 104.5L492.2 97.4L491.6 94.9M738.8 546.4L737.1 545.6L730.3 541.8L723.4 537.4L716.6 532.5L709.7 527.2L702.9 521.6L696 515.5L689.2 509.2L682.3 502.7L675.5 496L668.6 489.2L661.8 481.8L654.9 473.1L648.1 463.5L641.2 453.3L634.3 442.7L627.5 432L620.6 420.4L613.8 408.1L606.9 395.1L600.1 381.6L593.2 367.5L586.4 352.5L579.5 336.8L572.7 320.7L565.8 304.2L559 286.9L552.1 268.5L545.3 248.3L538.4 226.1L531.6 202.3L524.7 176.5L517.9 149.7L511 122.2L509.3 115.2L507.6 108.1L505.9 101L504.4 94.6M749.2 545L749.1 545L747.4 544.1L745.7 543.2L738.8 539.2L731.9 534.7L725.1 529.7L718.2 524.2L711.4 518.4L704.5 512.3L697.7 505.9L690.8 499.3L684 492.6L677.1 485.6L670.3 477.6L663.4 468.4L656.6 458.4L649.7 448L642.9 437.3L636 426.1L629.2 414.1L622.3 401.4L615.5 388L608.6 374.2L601.8 359.5L594.9 344.1L588.1 328L581.2 311.6L574.4 294.6L567.5 276.7L560.7 257.2L553.8 235.6L547 212.4L540.1 187.2L533.2 160.4L526.4 133L519.5 104.6L517.8 97.4L517.1 94.2M759.7 543.7L759.3 543.5L757.6 542.6L755.9 541.7L754.2 540.8L747.3 536.6L740.5 531.9L733.6 526.7L726.8 521.2L719.9 515.2L713.1 509L706.2 502.5L699.4 495.8L692.5 489L685.7 481.7L678.8 473.1L672 463.5L665.1 453.2L658.3 442.5L651.4 431.7L644.6 420L637.7 407.5L630.8 394.4L624 380.7L617.1 366.5L610.3 351.2L603.4 335.3L596.6 318.9L589.7 302.2L582.9 284.6L576 265.8L569.2 245L562.3 222.2L555.5 197.7L548.6 171.2L541.8 143.8L534.9 115.5L533.2 108.3L531.5 101L529.8 93.9M770.5 542.5L769.6 542L762.7 538.3L755.9 533.9L749 529.1L742.2 523.7L735.3 518L728.4 511.9L721.6 505.6L714.7 499L707.9 492.3L701 485.4L694.2 477.5L687.3 468.4L680.5 458.4L673.6 447.8L666.8 437L659.9 425.7L653.1 413.6L646.2 400.7L639.4 387.2L632.5 373.2L625.7 358.3L618.8 342.6L612 326.3L605.1 309.6L598.3 292.4L591.4 274.1L584.6 254L577.7 231.9L570.9 208L564 182L557.2 154.6L550.3 126.5L543.5 97.4L542.6 93.5M781.5 541.4L779.8 540.5L778.1 539.7L771.2 535.7L764.4 531.2L757.5 526.1L750.7 520.7L743.8 514.8L737 508.6L730.1 502.1L723.3 495.5L716.4 488.7L709.6 481.5L702.7 473L695.9 463.4L689 453.1L682.2 442.3L675.3 431.2L668.5 419.5L661.6 406.9L654.8 393.6L647.9 379.7L641.1 365.3L634.2 349.8L627.3 333.6L620.5 317L613.6 300L606.8 282.1L599.9 262.8L593.1 241.3L586.2 217.9L579.4 192.7L572.5 165.5L565.7 137.5L558.8 108.5L557.1 101.1L555.4 93.6L555.3 93.2M791.9 540L791.8 539.9L790 539.1L788.3 538.2L786.6 537.2L779.8 533.1L772.9 528.3L766.1 523.1L759.2 517.5L752.4 511.5L745.5 505.2L738.7 498.6L731.8 491.9L724.9 485L718.1 477.3L711.2 468.2L704.4 458.2L697.5 447.5L690.7 436.5L683.8 425.2L677 412.9L670.1 399.9L663.3 386.2L656.4 372L649.6 356.9L642.7 340.9L635.9 324.4L629 307.4L622.2 289.9L615.3 271.1L608.5 250.5L601.6 227.7L594.8 203.2L587.9 176.4L581.1 148.5L574.2 119.7L572.5 112.3L570.8 104.9L569.1 97.4L568 92.8M802.3 538.6L802 538.5L795.1 534.7L788.3 530.3L781.4 525.4L774.6 520.1L767.7 514.3L760.9 508.1L754 501.7L747.2 495.1L740.3 488.2L733.5 481.1L726.6 472.8L719.8 463.2L712.9 452.8L706.1 441.8L699.2 430.7L692.4 418.8L685.5 406.1L678.7 392.6L671.8 378.5L665 363.9L658.1 348.2L651.3 331.7L644.4 314.8L637.6 297.5L630.7 279.2L623.8 259.4L617 237.3L610.1 213.3L603.3 187.3L596.4 159.5L589.6 130.9L582.7 101.2L581 93.6L580.8 92.5M812.8 537.3L812.2 537L810.5 536.1L803.7 532.1L796.8 527.5L790 522.4L783.1 516.9L776.3 511L769.4 504.7L762.6 498.2L755.7 491.4L748.9 484.5L742 476.9L735.2 468L728.3 457.9L721.4 447.1L714.6 436L707.7 424.5L700.9 412.1L694 398.9L687.2 385L680.3 370.6L673.5 355.3L666.6 339.1L659.8 322.2L652.9 305L646.1 287L639.2 267.8L632.4 246.7L625.5 223.2L618.7 198L611.8 170.6L605 142.1L598.1 112.6L596.4 105L594.7 97.4L593.5 92.1M823.5 536.1L822.5 535.5L820.8 534.6L819.1 533.6L812.2 529.4L805.3 524.6L798.5 519.3L791.6 513.6L784.8 507.6L777.9 501.2L771.1 494.5L764.2 487.6L757.4 480.6L750.5 472.4L743.7 462.8L736.8 452.3L730 441.3L723.1 429.9L716.3 418L709.4 405.1L702.6 391.4L695.7 377.1L688.9 362.2L682 346.3L675.2 329.6L668.3 312.4L661.5 294.7L654.6 276L647.8 255.6L640.9 232.9L634.1 208.3L627.2 181.6L620.4 153.2L613.5 124L606.6 93.6L606.2 91.8M834.5 535L834.4 534.9L827.6 531.1L820.7 526.6L813.9 521.5L807 516.1L800.2 510.2L793.3 504L786.5 497.5L779.6 490.7L772.8 483.7L765.9 476.3L759.1 467.4L752.2 457.3L745.4 446.4L738.5 435.1L731.7 423.5L724.8 410.9L718 397.6L711.1 383.5L704.2 368.8L697.4 353.3L690.5 336.8L683.7 319.6L676.8 302L670 283.7L663.1 264L656.3 242.2L649.4 218.2L642.6 192.3L635.7 164.2L628.9 135.3L622 105.2L620.3 97.5L619 91.4M845 533.6L844.7 533.4L843 532.5L836.1 528.3L829.3 523.5L822.4 518.3L815.6 512.7L808.7 506.6L801.8 500.3L795 493.6L788.1 486.7L781.3 479.6L774.4 471.5L767.6 461.9L760.7 451.4L753.9 440.1L747 428.6L740.2 416.5L733.3 403.4L726.5 389.6L719.6 375.1L712.8 359.9L705.9 343.7L699.1 326.7L692.2 309.2L685.4 291.1L678.5 272L671.7 251L664.8 227.7L658 202.6L651.1 175.2L644.3 146.4L637.4 116.7L635.7 109.1L634 101.4L632.3 93.6L631.7 91.1M856 532.5L854.9 531.9L853.2 530.9L851.5 529.9L844.6 525.4L837.8 520.3L830.9 514.9L824.1 509L817.2 502.8L810.4 496.3L803.5 489.5L796.7 482.5L789.8 475L783 466.2L776.1 456L769.3 445L762.4 433.5L755.6 421.7L748.7 409L741.9 395.4L735 381.1L728.2 366.2L721.3 350.4L714.5 333.6L707.6 316.2L700.7 298.3L693.9 279.5L687 259.3L680.2 236.9L673.3 212.3L666.5 185.8L659.6 157.4L652.8 128L645.9 97.5L644.5 90.7M866.9 531.3L860 527L853.2 522.2L846.3 516.9L839.5 511.3L832.6 505.2L825.8 498.9L818.9 492.2L812.1 485.3L805.2 478.1L798.3 470L791.5 460.4L784.6 449.7L777.8 438.2L770.9 426.5L764.1 414.2L757.2 401L750.4 386.9L743.5 372.2L736.7 356.8L729.8 340.3L723 323L716.1 305.2L709.3 286.7L702.4 267.1L695.6 245.5L688.7 221.7L681.9 196L675 168.2L668.2 139.2L661.3 109.1L659.6 101.4L657.9 93.6L657.2 90.4M875.4 528.6L868.5 523.9L861.7 518.8L854.8 513.3L848 507.4L841.1 501.2L834.3 494.7L827.4 487.9L820.6 480.8L813.7 473.2L806.9 464.3L800 454L793.2 442.8L786.3 431.1L779.5 419.1L772.6 406.2L765.8 392.3L758.9 377.8L752.1 362.7L745.2 346.6L738.4 329.5L731.5 311.8L724.7 293.5L717.8 274.3L711 253.6L704.1 230.5L697.2 205.6L690.4 178.7L683.5 150L676.7 120.5L675 112.9L673.3 105.2L671.6 97.5L669.9 90M883.9 525.6L877.1 520.6L870.2 515.1L863.4 509.4L856.5 503.4L849.7 497L842.8 490.3L836 483.3L829.1 476L822.3 467.8L815.4 458L808.6 447.1L801.7 435.5L794.8 423.5L788 411L781.1 397.5L774.3 383.2L767.4 368.2L760.6 352.5L753.7 335.8L746.9 318.2L740 300.1L733.2 281.2L726.3 261.1L719.5 238.9L712.6 214.6L705.8 188.6L698.9 160.6L692.1 131.6L685.2 101.3L683.5 93.6L682.7 89.7M892.4 522.3L885.6 516.9L878.7 511.2L871.9 505.3L865 499.1L858.2 492.6L851.3 485.7L844.5 478.5L837.6 470.8L830.8 461.6L823.9 451.1L817.1 439.7L810.2 427.7L803.4 415.5L796.5 402.3L789.7 388.2L782.8 373.4L776 358.1L769.1 341.7L762.3 324.3L755.4 306.3L748.6 287.7L741.7 268L734.9 246.7L728 223.1L721.2 197.8L714.3 170.7L707.5 142.2L700.6 112.7L698.9 105.1L697.2 97.4L695.5 89.6L695.4 89.3M901 518.6L894.1 512.9L887.3 507L880.4 500.9L873.6 494.5L866.7 487.9L859.9 480.8L853 473.3L846.2 464.8L839.3 454.8L832.5 443.6L825.6 431.7L818.8 419.5L811.9 406.7L805.1 392.9L798.2 378.3L791.3 363.1L784.5 347.1L777.6 330.1L770.8 312.2L763.9 293.8L757.1 274.4L750.2 253.7L743.4 231L736.5 206.4L729.7 180.3L722.8 152.4L716 123.6L709.1 93.5L708.1 89M909.5 514.5L902.7 508.6L895.8 502.5L889 496.3L882.1 489.7L875.2 482.9L868.4 475.5L861.5 467.5L854.7 458L847.8 447.2L841 435.4L834.1 423.2L827.3 410.6L820.4 397.2L813.6 382.8L806.7 367.8L799.9 352.1L793 335.4L786.2 317.8L779.3 299.5L772.5 280.4L765.6 260.2L758.8 238.3L751.9 214.4L745.1 189L738.2 162.1L731.4 134L724.5 104.7L722.8 97.2L721.1 89.6L720.9 88.6M918 510.1L911.2 504L904.3 497.8L897.5 491.4L890.6 484.7L883.8 477.5L876.9 469.8L870.1 460.9L863.2 450.4L856.4 438.9L849.5 426.6L842.7 414.2L835.8 401L829 386.9L822.1 372L815.3 356.6L808.4 340.2L801.6 322.9L794.7 304.8L787.9 286L781 266.1L774.1 244.9L767.3 221.7L760.4 197L753.6 171.1L746.7 143.8L739.9 115.5L738.2 108.2L736.5 100.8L734.7 93.3L733.6 88.3M926.6 505.3L919.7 499.1L912.9 492.7L906 486.2L899.2 479.2L892.3 471.7L885.5 463.3L878.6 453.3L871.7 442L864.9 429.9L858 417.3L851.2 404.4L844.3 390.5L837.5 375.9L830.6 360.5L823.8 344.5L816.9 327.5L810.1 309.7L803.2 291.1L796.4 271.5L789.5 250.7L782.7 228.3L775.8 204.2L769 179.1L762.1 152.9L755.3 125.5L748.4 96.9L746.7 89.5L746.3 87.9M935.1 500.1L928.2 493.8L921.4 487.4L914.5 480.6L907.7 473.3L900.8 465.3L894 455.8L887.1 444.8L880.3 432.8L873.4 420.1L866.6 407.3L859.7 393.7L852.9 379.2L846 364.1L839.2 348.3L832.3 331.6L825.5 314L818.6 295.7L811.8 276.3L804.9 255.9L798.1 234.1L791.2 210.6L784.4 186.2L777.5 161L770.6 134.8L763.8 107.3L762.1 100.2L760.4 93L759.1 87.5M865.2 531.8L866.9 531.3L875.4 528.6L883.9 525.6L892.4 522.3L901 518.6L909.5 514.5L918 510.1L926.6 505.3L935.1 500.1M834.2 535L834.4 534.9L843 532.5L851.5 529.9L860 527L868.5 523.9L877.1 520.6L885.6 516.9L894.1 512.9L902.7 508.6L911.2 504L919.7 499.1L928.2 493.8M798.8 539.3L799.9 539L802 538.5L810.5 536.1L819.1 533.6L827.6 531.1L836.1 528.3L844.6 525.4L853.2 522.2L861.7 518.8L870.2 515.1L878.7 511.2L887.3 507L895.8 502.5L904.3 497.8L912.9 492.7L921.4 487.4M764.4 543.4L765.3 543.2L767.4 542.6L769.6 542L778.1 539.7L786.6 537.2L795.1 534.7L803.7 532.1L812.2 529.4L820.7 526.6L829.3 523.5L837.8 520.3L846.3 516.9L854.8 513.3L863.4 509.4L871.9 505.3L880.4 500.9L889 496.3L897.5 491.4L906 486.2L914.5 480.6M730.7 547.3L732.9 546.7L735 546.2L737.1 545.6L745.7 543.2L754.2 540.8L762.7 538.3L771.2 535.7L779.8 533.1L788.3 530.3L796.8 527.5L805.3 524.6L813.9 521.5L822.4 518.3L830.9 514.9L839.5 511.3L848 507.4L856.5 503.4L865 499.1L873.6 494.5L882.1 489.7L890.6 484.7L899.2 479.2L907.7 473.3M700 550.5L700.4 550.3L702.6 549.7L704.7 549.1L713.2 546.7L721.7 544.3L730.3 541.8L738.8 539.2L747.3 536.6L755.9 533.9L764.4 531.2L772.9 528.3L781.4 525.4L790 522.4L798.5 519.3L807 516.1L815.6 512.7L824.1 509L832.6 505.2L841.1 501.2L849.7 497L858.2 492.6L866.7 487.9L875.2 482.9L883.8 477.5L892.3 471.7L900.8 465.3M669.7 553.5L670.1 553.3L672.3 552.7L680.8 550.2L689.3 547.7L697.8 545.2L706.4 542.6L714.9 540L723.4 537.4L731.9 534.7L740.5 531.9L749 529.1L757.5 526.1L766.1 523.1L774.6 520.1L783.1 516.9L791.6 513.6L800.2 510.2L808.7 506.6L817.2 502.8L825.8 498.9L834.3 494.7L842.8 490.3L851.3 485.7L859.9 480.8L868.4 475.5L876.9 469.8L885.5 463.3L894 455.8M640.2 556.3L641.9 555.8L644.1 555.1L646.2 554.5L648.3 553.8L656.9 551.2L665.4 548.7L673.9 546.1L682.5 543.4L691 540.8L699.5 538.1L708 535.3L716.6 532.5L725.1 529.7L733.6 526.7L742.2 523.7L750.7 520.7L759.2 517.5L767.7 514.3L776.3 511L784.8 507.6L793.3 504L801.8 500.3L810.4 496.3L818.9 492.2L827.4 487.9L836 483.3L844.5 478.5L853 473.3L861.5 467.5L870.1 460.9L878.6 453.3L887.1 444.8M612 558.8L613.8 558.2L615.9 557.5L624.4 554.8L633 552.1L641.5 549.5L650 546.8L658.5 544.1L667.1 541.4L675.6 538.7L684.1 535.9L692.7 533.1L701.2 530.2L709.7 527.2L718.2 524.2L726.8 521.2L735.3 518L743.8 514.8L752.4 511.5L760.9 508.1L769.4 504.7L777.9 501.2L786.5 497.5L795 493.6L803.5 489.5L812.1 485.3L820.6 480.8L829.1 476L837.6 470.8L846.2 464.8L854.7 458L863.2 450.4L871.7 442L880.3 432.8M584.8 561L585.6 560.7L587.7 560L589.9 559.3L592 558.5L600.5 555.7L609.1 552.9L617.6 550.2L626.1 547.4L634.6 544.7L643.2 542L651.7 539.2L660.2 536.4L668.8 533.5L677.3 530.6L685.8 527.7L694.3 524.6L702.9 521.6L711.4 518.4L719.9 515.2L728.4 511.9L737 508.6L745.5 505.2L754 501.7L762.6 498.2L771.1 494.5L779.6 490.7L788.1 486.7L796.7 482.5L805.2 478.1L813.7 473.2L822.3 467.8L830.8 461.6L839.3 454.8L847.8 447.2L856.4 438.9L864.9 429.9L873.4 420.1M557.9 563.2L559.6 562.6L568.1 559.5L576.6 556.5L585.1 553.6L593.7 550.8L602.2 548L610.7 545.2L619.3 542.4L627.8 539.6L636.3 536.7L644.8 533.9L653.4 530.9L661.9 528L670.4 524.9L679 521.9L687.5 518.7L696 515.5L704.5 512.3L713.1 509L721.6 505.6L730.1 502.1L738.7 498.6L747.2 495.1L755.7 491.4L764.2 487.6L772.8 483.7L781.3 479.6L789.8 475L798.3 470L806.9 464.3L815.4 458L823.9 451.1L832.5 443.6L841 435.4L849.5 426.6L858 417.3L866.6 407.3M531.9 565.1L533.5 564.4L535.7 563.6L544.2 560.3L552.7 557.2L561.2 554.2L569.8 551.2L578.3 548.4L586.8 545.5L595.4 542.7L603.9 539.8L612.4 537L620.9 534.1L629.5 531.2L638 528.2L646.5 525.1L655 522.1L663.6 518.9L672.1 515.8L680.6 512.5L689.2 509.2L697.7 505.9L706.2 502.5L714.7 499L723.3 495.5L731.8 491.9L740.3 488.2L748.9 484.5L757.4 480.6L765.9 476.3L774.4 471.5L783 466.2L791.5 460.4L800 454L808.6 447.1L817.1 439.7L825.6 431.7L834.1 423.2L842.7 414.2L851.2 404.4L859.7 393.7M506.5 566.9L507.5 566.4L509.6 565.5L511.8 564.6L520.3 561.2L528.8 557.8L537.3 554.7L545.9 551.6L554.4 548.6L562.9 545.7L571.4 542.8L580 540L588.5 537.1L597 534.2L605.6 531.2L614.1 528.3L622.6 525.2L631.1 522.2L639.7 519L648.2 515.9L656.7 512.7L665.3 509.4L673.8 506.1L682.3 502.7L690.8 499.3L699.4 495.8L707.9 492.3L716.4 488.7L724.9 485L733.5 481.1L742 476.9L750.5 472.4L759.1 467.4L767.6 461.9L776.1 456L784.6 449.7L793.2 442.8L801.7 435.5L810.2 427.7L818.8 419.5L827.3 410.6L835.8 401L844.3 390.5L852.9 379.2M481.5 568.5L483.6 567.6L485.7 566.6L487.8 565.6L496.4 561.9L504.9 558.4L513.4 555.1L522 551.9L530.5 548.8L539 545.8L547.5 542.9L556.1 540L564.6 537.1L573.1 534.1L581.7 531.2L590.2 528.2L598.7 525.2L607.2 522.1L615.8 519L624.3 515.9L632.8 512.7L641.3 509.4L649.9 506.2L658.4 502.8L666.9 499.5L675.5 496L684 492.6L692.5 489L701 485.4L709.6 481.5L718.1 477.3L726.6 472.8L735.2 468L743.7 462.8L752.2 457.3L760.7 451.4L769.3 445L777.8 438.2L786.3 431.1L794.8 423.5L803.4 415.5L811.9 406.7L820.4 397.2L829 386.9L837.5 375.9L846 364.1M457.2 570L457.5 569.8L459.7 568.8L461.8 567.7L463.9 566.6L472.5 562.6L481 558.9L489.5 555.4L498 552.1L506.6 548.9L515.1 545.8L523.6 542.8L532.2 539.8L540.7 536.9L549.2 534L557.7 531L566.3 528L574.8 525L583.3 521.9L591.9 518.8L600.4 515.7L608.9 512.5L617.4 509.3L626 506.1L634.5 502.8L643 499.5L651.6 496.1L660.1 492.7L668.6 489.2L677.1 485.6L685.7 481.7L694.2 477.5L702.7 473L711.2 468.2L719.8 463.2L728.3 457.9L736.8 452.3L745.4 446.4L753.9 440.1L762.4 433.5L770.9 426.5L779.5 419.1L788 411L796.5 402.3L805.1 392.9L813.6 382.8L822.1 372L830.6 360.5L839.2 348.3M433.3 571.4L433.6 571.2L435.8 570L437.9 568.9L440 567.7L448.6 563.4L457.1 559.4L465.6 555.6L474.1 552.1L482.7 548.8L491.2 545.6L499.7 542.6L508.3 539.6L516.8 536.6L525.3 533.6L533.8 530.6L542.4 527.6L550.9 524.6L559.4 521.6L567.9 518.5L576.5 515.4L585 512.3L593.5 509.1L602.1 505.9L610.6 502.7L619.1 499.4L627.6 496.1L636.2 492.7L644.7 489.3L653.2 485.7L661.8 481.8L670.3 477.6L678.8 473.1L687.3 468.4L695.9 463.4L704.4 458.2L712.9 452.8L721.4 447.1L730 441.3L738.5 435.1L747 428.6L755.6 421.7L764.1 414.2L772.6 406.2L781.1 397.5L789.7 388.2L798.2 378.3L806.7 367.8L815.3 356.6L823.8 344.5L832.3 331.6M409.8 572.7L411.9 571.4L414 570.2L416.1 568.9L424.6 564.2L433.2 559.8L441.7 555.8L450.2 552.1L458.8 548.6L467.3 545.3L475.8 542.2L484.3 539.1L492.9 536.1L501.4 533.1L509.9 530.1L518.5 527.1L527 524.1L535.5 521L544 518L552.6 514.9L561.1 511.8L569.6 508.7L578.2 505.5L586.7 502.3L595.2 499.1L603.7 495.9L612.3 492.6L620.8 489.2L629.3 485.6L637.8 481.7L646.4 477.5L654.9 473.1L663.4 468.4L672 463.5L680.5 458.4L689 453.1L697.5 447.5L706.1 441.8L714.6 436L723.1 429.9L731.7 423.5L740.2 416.5L748.7 409L757.2 401L765.8 392.3L774.3 383.2L782.8 373.4L791.3 363.1L799.9 352.1L808.4 340.2L816.9 327.5L825.5 314M392.2 570.2L400.7 565.1L409.3 560.3L417.8 556L426.3 552L434.9 548.4L443.4 544.9L451.9 541.7L460.4 538.5L469 535.4L477.5 532.4L486 529.4L494.5 526.3L503.1 523.3L511.6 520.3L520.1 517.2L528.7 514.2L537.2 511.1L545.7 508.1L554.2 505L562.8 501.8L571.3 498.7L579.8 495.5L588.4 492.3L596.9 488.9L605.4 485.3L613.9 481.4L622.5 477.3L631 472.9L639.5 468.3L648.1 463.5L656.6 458.4L665.1 453.2L673.6 447.8L682.2 442.3L690.7 436.5L699.2 430.7L707.7 424.5L716.3 418L724.8 410.9L733.3 403.4L741.9 395.4L750.4 386.9L758.9 377.8L767.4 368.2L776 358.1L784.5 347.1L793 335.4L801.6 322.9L810.1 309.7L818.6 295.7M385.4 560.9L393.9 556.2L402.4 551.9L410.9 548L419.5 544.4L428 541L436.5 537.8L445.1 534.6L453.6 531.5L462.1 528.4L470.6 525.4L479.2 522.3L487.7 519.3L496.2 516.3L504.8 513.3L513.3 510.2L521.8 507.2L530.3 504.2L538.9 501.1L547.4 498L555.9 494.9L564.4 491.7L573 488.4L581.5 484.9L590 481L598.6 477L607.1 472.6L615.6 468.1L624.1 463.4L632.7 458.4L641.2 453.3L649.7 448L658.3 442.5L666.8 437L675.3 431.2L683.8 425.2L692.4 418.8L700.9 412.1L709.4 405.1L718 397.6L726.5 389.6L735 381.1L743.5 372.2L752.1 362.7L760.6 352.5L769.1 341.7L777.6 330.1L786.2 317.8L794.7 304.8L803.2 291.1L811.8 276.3M378.5 551.8L387 547.6L395.6 543.8L404.1 540.2L412.6 536.8L421.1 533.6L429.7 530.4L438.2 527.3L446.7 524.2L455.3 521.1L463.8 518.1L472.3 515.1L480.8 512.1L489.4 509.1L497.9 506.1L506.4 503.1L515 500.1L523.5 497.1L532 494L540.5 491L549.1 487.7L557.6 484.2L566.1 480.4L574.7 476.4L583.2 472.2L591.7 467.7L600.2 463.1L608.8 458.2L617.3 453.2L625.8 448L634.3 442.7L642.9 437.3L651.4 431.7L659.9 425.7L668.5 419.5L677 412.9L685.5 406.1L694 398.9L702.6 391.4L711.1 383.5L719.6 375.1L728.2 366.2L736.7 356.8L745.2 346.6L753.7 335.8L762.3 324.3L770.8 312.2L779.3 299.5L787.9 286L796.4 271.5L804.9 255.9M371.7 543.1L380.2 539.3L388.7 535.8L397.2 532.4L405.8 529.2L414.3 526L422.8 522.8L431.4 519.7L439.9 516.7L448.4 513.6L456.9 510.6L465.5 507.7L474 504.7L482.5 501.8L491 498.8L499.6 495.9L508.1 492.9L516.6 489.9L525.2 486.7L533.7 483.3L542.2 479.6L550.7 475.7L559.3 471.6L567.8 467.2L576.3 462.7L584.9 457.9L593.4 453L601.9 448L610.4 442.8L619 437.5L627.5 432L636 426.1L644.6 420L653.1 413.6L661.6 406.9L670.1 399.9L678.7 392.6L687.2 385L695.7 377.1L704.2 368.8L712.8 359.9L721.3 350.4L729.8 340.3L738.4 329.5L746.9 318.2L755.4 306.3L763.9 293.8L772.5 280.4L781 266.1L789.5 250.7L798.1 234.1M364.8 534.6L373.3 531.1L381.9 527.7L390.4 524.4L398.9 521.2L407.4 518L416 515L424.5 511.9L433 508.9L441.6 506L450.1 503.1L458.6 500.1L467.1 497.3L475.7 494.4L484.2 491.5L492.7 488.5L501.3 485.4L509.8 482.1L518.3 478.5L526.8 474.7L535.4 470.7L543.9 466.5L552.4 462.1L560.9 457.5L569.5 452.7L578 447.8L586.5 442.7L595.1 437.5L603.6 432.1L612.1 426.4L620.6 420.4L629.2 414.1L637.7 407.5L646.2 400.7L654.8 393.6L663.3 386.2L671.8 378.5L680.3 370.6L688.9 362.2L697.4 353.3L705.9 343.7L714.5 333.6L723 323L731.5 311.8L740 300.1L748.6 287.7L757.1 274.4L765.6 260.2L774.1 244.9L782.7 228.3L791.2 210.6M358 526.1L366.5 522.7L375 519.4L383.5 516.1L392.1 513L400.6 509.9L409.1 506.9L417.6 504L426.2 501.1L434.7 498.2L443.2 495.4L451.8 492.5L460.3 489.7L468.8 486.8L477.3 483.8L485.9 480.6L494.4 477.1L502.9 473.5L511.5 469.6L520 465.5L528.5 461.2L537 456.8L545.6 452.2L554.1 447.4L562.6 442.5L571.2 437.5L579.7 432.1L588.2 426.6L596.7 420.7L605.3 414.5L613.8 408.1L622.3 401.4L630.8 394.4L639.4 387.2L647.9 379.7L656.4 372L665 363.9L673.5 355.3L682 346.3L690.5 336.8L699.1 326.7L707.6 316.2L716.1 305.2L724.7 293.5L733.2 281.2L741.7 268L750.2 253.7L758.8 238.3L767.3 221.7L775.8 204.2L784.4 186.2M351.1 517.3L359.6 514L368.2 510.8L376.7 507.7L385.2 504.6L393.7 501.7L402.3 498.8L410.8 495.9L419.3 493.1L427.9 490.4L436.4 487.6L444.9 484.8L453.4 481.9L462 478.8L470.5 475.4L479 471.9L487.5 468.2L496.1 464.3L504.6 460.2L513.1 455.9L521.7 451.4L530.2 446.8L538.7 442.1L547.2 437.2L555.8 432L564.3 426.6L572.8 420.8L581.4 414.8L589.9 408.5L598.4 401.9L606.9 395.1L615.5 388L624 380.7L632.5 373.2L641.1 365.3L649.6 356.9L658.1 348.2L666.6 339.1L675.2 329.6L683.7 319.6L692.2 309.2L700.7 298.3L709.3 286.7L717.8 274.3L726.3 261.1L734.9 246.7L743.4 231L751.9 214.4L760.4 197L769 179.1L777.5 161M344.2 508.3L352.8 505.1L361.3 502L369.8 499L378.4 496.1L386.9 493.3L395.4 490.5L403.9 487.8L412.5 485.1L421 482.4L429.5 479.6L438.1 476.6L446.6 473.4L455.1 470L463.6 466.5L472.2 462.7L480.7 458.8L489.2 454.7L497.8 450.5L506.3 446L514.8 441.5L523.3 436.7L531.9 431.7L540.4 426.4L548.9 420.8L557.4 414.9L566 408.8L574.5 402.4L583 395.7L591.6 388.7L600.1 381.6L608.6 374.2L617.1 366.5L625.7 358.3L634.2 349.8L642.7 340.9L651.3 331.7L659.8 322.2L668.3 312.4L676.8 302L685.4 291.1L693.9 279.5L702.4 267.1L711 253.6L719.5 238.9L728 223.1L736.5 206.4L745.1 189L753.6 171.1L762.1 152.9L770.6 134.8M337.4 499.1L345.9 496.1L354.5 493.2L363 490.3L371.5 487.6L380 484.9L388.6 482.2L397.1 479.6L405.6 476.8L414.1 474L422.7 471L431.2 467.8L439.7 464.4L448.3 460.9L456.8 457.1L465.3 453.3L473.8 449.2L482.4 445L490.9 440.6L499.4 436L508 431.2L516.5 426L525 420.6L533.5 414.9L542.1 408.9L550.6 402.6L559.1 396.1L567.7 389.3L576.2 382.3L584.7 375.1L593.2 367.5L601.8 359.5L610.3 351.2L618.8 342.6L627.3 333.6L635.9 324.4L644.4 314.8L652.9 305L661.5 294.7L670 283.7L678.5 272L687 259.3L695.6 245.5L704.1 230.5L712.6 214.6L721.2 197.8L729.7 180.3L738.2 162.1L746.7 143.8L755.3 125.5L763.8 107.3M330.5 489.9L339.1 487L347.6 484.2L356.1 481.6L364.7 478.9L373.2 476.3L381.7 473.7L390.2 471L398.8 468.1L407.3 465.1L415.8 461.9L424.4 458.6L432.9 455.1L441.4 451.4L449.9 447.6L458.5 443.6L467 439.4L475.5 435L484 430.4L492.6 425.4L501.1 420.2L509.6 414.7L518.2 408.8L526.7 402.7L535.2 396.3L543.7 389.7L552.3 382.8L560.8 375.8L569.3 368.4L577.9 360.6L586.4 352.5L594.9 344.1L603.4 335.3L612 326.3L620.5 317L629 307.4L637.6 297.5L646.1 287L654.6 276L663.1 264L671.7 251L680.2 236.9L688.7 221.7L697.2 205.6L705.8 188.6L714.3 170.7L722.8 152.4L731.4 134L739.9 115.5L748.4 96.9L750.5 92.2L752.6 87.7M323.7 480.5L332.2 477.8L340.8 475.2L349.3 472.7L357.8 470.1L366.3 467.5L374.9 464.8L383.4 462L391.9 459L400.4 455.9L409 452.6L417.5 449.2L426 445.6L434.6 441.9L443.1 437.9L451.6 433.8L460.1 429.3L468.7 424.6L477.2 419.6L485.7 414.2L494.3 408.6L502.8 402.6L511.3 396.4L519.8 389.9L528.4 383.2L536.9 376.3L545.4 369.1L553.9 361.5L562.5 353.6L571 345.3L579.5 336.8L588.1 328L596.6 318.9L605.1 309.6L613.6 300L622.2 289.9L630.7 279.2L639.2 267.8L647.8 255.6L656.3 242.2L664.8 227.7L673.3 212.3L681.9 196L690.4 178.7L698.9 160.6L707.5 142.2L716 123.6L724.5 104.7L726.6 100L728.8 95.2L730.9 90.5L731.9 88.3M316.8 471.1L325.4 468.6L333.9 466.1L342.4 463.6L351 461L359.5 458.4L368 455.6L376.5 452.7L385.1 449.7L393.6 446.6L402.1 443.3L410.7 439.8L419.2 436.1L427.7 432.2L436.2 428L444.8 423.4L453.3 418.6L461.8 413.5L470.3 408.1L478.9 402.3L487.4 396.3L495.9 390L504.5 383.4L513 376.7L521.5 369.6L530 362.2L538.6 354.5L547.1 346.4L555.6 338.1L564.2 329.5L572.7 320.7L581.2 311.6L589.7 302.2L598.3 292.4L606.8 282.1L615.3 271.1L623.8 259.4L632.4 246.7L640.9 232.9L649.4 218.2L658 202.6L666.5 185.8L675 168.2L683.5 150L692.1 131.6L700.6 112.7L709.1 93.5L711.2 88.9M310 461.5L318.5 459.1L327 456.7L335.6 454.3L344.1 451.7L352.6 449.1L361.2 446.3L369.7 443.5L378.2 440.4L386.7 437.2L395.3 433.8L403.8 430.1L412.3 426.2L420.9 421.9L429.4 417.4L437.9 412.5L446.4 407.3L455 401.8L463.5 395.9L472 389.8L480.6 383.4L489.1 376.8L497.6 369.9L506.1 362.7L514.7 355.2L523.2 347.4L531.7 339.2L540.2 330.8L548.8 322.2L557.3 313.3L565.8 304.2L574.4 294.6L582.9 284.6L591.4 274.1L599.9 262.8L608.5 250.5L617 237.3L625.5 223.2L634.1 208.3L642.6 192.3L651.1 175.2L659.6 157.4L668.2 139.2L676.7 120.5L685.2 101.3L687.4 96.5L689.5 91.6L690.4 89.4M303.1 451.9L311.7 449.6L320.2 447.3L328.7 444.9L337.3 442.4L345.8 439.8L354.3 437.1L362.8 434.2L371.4 431.1L379.9 427.7L388.4 424.1L396.9 420.1L405.5 415.8L414 411.2L422.5 406.2L431.1 400.9L439.6 395.3L448.1 389.3L456.6 383.1L465.2 376.7L473.7 370L482.2 363L490.8 355.7L499.3 348.1L507.8 340.2L516.3 332L524.9 323.5L533.4 314.9L541.9 306L550.5 296.7L559 286.9L567.5 276.7L576 265.8L584.6 254L593.1 241.3L601.6 227.7L610.1 213.3L618.7 198L627.2 181.6L635.7 164.2L644.3 146.4L652.8 128L661.3 109.1L663.4 104.3L665.6 99.4L667.7 94.6L669.7 90M296.3 442.3L304.8 440.1L313.3 437.9L321.9 435.6L330.4 433.2L338.9 430.6L347.5 427.8L356 424.8L364.5 421.4L373 417.8L381.6 413.8L390.1 409.4L398.6 404.7L407.2 399.7L415.7 394.3L424.2 388.6L432.7 382.6L441.3 376.3L449.8 369.8L458.3 363L466.8 355.9L475.4 348.5L483.9 340.8L492.4 332.9L501 324.7L509.5 316.2L518 307.5L526.5 298.4L535.1 289L543.6 279L552.1 268.5L560.7 257.2L569.2 245L577.7 231.9L586.2 217.9L594.8 203.2L603.3 187.3L611.8 170.6L620.4 153.2L628.9 135.3L637.4 116.7L645.9 97.5L648.1 92.6L648.9 90.6M289.4 432.8L298 430.8L306.5 428.8L315 426.5L323.5 424.1L332.1 421.4L340.6 418.3L349.1 415L357.7 411.3L366.2 407.3L374.7 402.9L383.2 398.2L391.8 393L400.3 387.5L408.8 381.7L417.4 375.6L425.9 369.3L434.4 362.8L442.9 355.9L451.5 348.7L460 341.3L468.5 333.5L477.1 325.5L485.6 317.3L494.1 308.8L502.6 300L511.2 290.8L519.7 281.1L528.2 270.9L536.7 260L545.3 248.3L553.8 235.6L562.3 222.2L570.9 208L579.4 192.7L587.9 176.4L596.4 159.5L605 142.1L613.5 124L622 105.2L624.2 100.4L626.3 95.5L628.2 91.2M282.6 423.6L291.1 421.8L299.6 419.7L308.2 417.4L316.7 414.7L325.2 411.7L333.8 408.3L342.3 404.7L350.8 400.6L359.3 396.2L367.9 391.3L376.4 386.1L384.9 380.5L393.4 374.6L402 368.5L410.5 362.2L419 355.5L427.6 348.6L436.1 341.4L444.6 333.9L453.1 326.2L461.7 318.1L470.2 309.9L478.7 301.2L487.3 292.3L495.8 282.9L504.3 273L512.8 262.5L521.4 251.2L529.9 239L538.4 226.1L547 212.4L555.5 197.7L564 182L572.5 165.5L581.1 148.5L589.6 130.9L598.1 112.6L606.6 93.6L607.5 91.7M275.7 414.7L284.3 412.8L292.8 410.5L301.3 407.8L309.8 404.8L318.4 401.5L326.9 397.8L335.4 393.7L344 389.2L352.5 384.2L361 378.9L369.5 373.2L378.1 367.4L386.6 361.2L395.1 354.8L403.7 348.2L412.2 341.2L420.7 334L429.2 326.5L437.8 318.7L446.3 310.6L454.8 302.3L463.3 293.5L471.9 284.4L480.4 274.8L488.9 264.7L497.5 253.8L506 242.1L514.5 229.6L523 216.4L531.6 202.3L540.1 187.2L548.6 171.2L557.2 154.6L565.7 137.5L574.2 119.7L582.7 101.2L584.9 96.5L586.7 92.3M268.9 405.6L277.4 403.3L285.9 400.7L294.5 397.8L303 394.5L311.5 390.8L320 386.6L328.6 382L337.1 376.9L345.6 371.4L354.2 365.8L362.7 359.9L371.2 353.8L379.7 347.4L388.3 340.7L396.8 333.7L405.3 326.5L413.9 318.9L422.4 311.1L430.9 303L439.4 294.5L448 285.6L456.5 276.3L465 266.5L473.6 256.1L482.1 244.9L490.6 232.9L499.1 220.1L507.7 206.6L516.2 192L524.7 176.5L533.2 160.4L541.8 143.8L550.3 126.5L558.8 108.5L561 103.9L563.1 99.3L565.2 94.6L566 92.9M262 396L270.6 393.5L279.1 390.6L287.6 387.3L296.1 383.5L304.7 379.2L313.2 374.4L321.7 369.2L330.3 363.8L338.8 358.1L347.3 352.3L355.8 346.2L364.4 339.8L372.9 333.1L381.4 326.1L389.9 318.8L398.5 311.3L407 303.4L415.5 295.1L424.1 286.5L432.6 277.5L441.1 268L449.6 258L458.2 247.3L466.7 235.7L475.2 223.4L483.8 210.5L492.3 196.5L500.8 181.6L509.3 165.9L517.9 149.7L526.4 133L534.9 115.5L543.5 97.4L545.2 93.5M255.2 386.1L263.7 383.2L272.2 379.8L280.8 375.9L289.3 371.4L297.8 366.5L306.3 361.3L314.9 355.9L323.4 350.3L331.9 344.5L340.5 338.4L349 332L357.5 325.3L366 318.3L374.6 311.1L383.1 303.4L391.6 295.4L400.2 287L408.7 278.3L417.2 269.1L425.7 259.5L434.3 249.2L442.8 238.2L451.3 226.4L459.8 213.9L468.4 200.6L476.9 186.3L485.4 171.1L494 155.4L502.5 139.2L511 122.2L519.5 104.6L521.7 100.1L523.8 95.5L524.5 94M248.3 375.5L256.9 372L265.4 367.9L273.9 363.3L282.4 358.4L291 353.2L299.5 347.8L308 342.3L316.5 336.6L325.1 330.5L333.6 324.1L342.1 317.4L350.7 310.4L359.2 303.1L367.7 295.3L376.2 287.1L384.8 278.7L393.3 269.9L401.8 260.6L410.4 250.8L418.9 240.2L427.4 229L435.9 217L444.5 204.3L453 190.5L461.5 175.9L470.1 160.7L478.6 145L487.1 128.6L495.6 111.5L497.8 107.2L499.9 102.7L502 98.3L503.8 94.6M241.5 363.9L250 359.6L258.5 354.9L267.1 350L275.6 344.9L284.1 339.6L292.6 334.2L301.2 328.5L309.7 322.5L318.2 316.1L326.8 309.4L335.3 302.3L343.8 294.8L352.3 286.9L360.9 278.7L369.4 270.2L377.9 261.3L386.4 251.9L395 241.8L403.5 231.1L412 219.6L420.6 207.5L429.1 194.4L437.6 180.4L446.1 165.7L454.7 150.5L463.2 134.7L471.7 118.1L480.3 100.9L482.4 96.5L483 95.2M234.6 350.9L243.2 346.2L251.7 341.3L260.2 336.4L268.7 331.3L277.3 325.9L285.8 320.2L294.3 314.2L302.8 307.8L311.4 301.1L319.9 293.8L328.4 286.2L337 278.3L345.5 270L354 261.4L362.5 252.5L371.1 243L379.6 232.7L388.1 221.8L396.7 210.3L405.2 197.8L413.7 184.5L422.2 170.3L430.8 155.6L439.3 140.4L447.8 124.4L456.3 107.8L458.5 103.5L460.6 99.2L462.3 95.8M227.8 337.2L236.3 332.5L244.8 327.7L253.4 322.8L261.9 317.5L270.4 311.8L278.9 305.8L287.5 299.3L296 292.4L304.5 285.1L313.1 277.4L321.6 269.4L330.1 261.1L338.6 252.6L347.2 243.6L355.7 233.9L364.2 223.5L372.7 212.5L381.3 200.8L389.8 188.1L398.3 174.5L406.9 160.3L415.4 145.7L423.9 130.3L432.4 114.2L441 97.5L441.5 96.3M220.9 323.6L229.4 319L238 314.1L246.5 308.8L255 303.1L263.6 297.1L272.1 290.5L280.6 283.4L289.1 276L297.7 268.2L306.2 260.3L314.7 252.1L323.3 243.6L331.8 234.4L340.3 224.7L348.8 214.3L357.4 203.2L365.9 191.2L374.4 178.3L383 164.7L391.5 150.6L400 135.8L408.5 120.4L417.1 104.2L419.2 100.1L420.8 96.9M214.1 310L222.6 305.2L231.1 299.9L239.7 294.2L248.2 288.1L256.7 281.3L265.2 274.1L273.8 266.6L282.3 258.9L290.8 251.1L299.3 243L307.9 234.4L316.4 225.2L324.9 215.5L333.5 205L342 193.7L350.5 181.6L359 168.6L367.6 155L376.1 140.9L384.6 126.1L393.2 110.6L395.3 106.6L397.4 102.6L399.6 98.5L400.1 97.5M207.2 296L215.7 290.7L224.3 285L232.8 278.6L241.3 271.6L249.9 264.4L258.4 257L266.9 249.4L275.4 241.8L284 233.8L292.5 225.2L301 216L309.6 206.2L318.1 195.7L326.6 184.3L335.1 172L343.7 159.1L352.2 145.6L360.7 131.4L369.2 116.6L377.8 101L379.3 98.1M200.4 281.3L208.9 275.3L217.4 268.6L225.9 261.6L234.5 254.4L243 247.2L251.5 239.9L260.1 232.4L268.6 224.4L277.1 215.9L285.6 206.8L294.2 197L302.7 186.3L311.2 174.8L319.8 162.6L328.3 149.8L336.8 136.3L345.3 122.1L353.9 107.2L356 103.3L358.1 99.5L358.6 98.6M193.5 265L202 258.3L210.6 251.3L219.1 244.3L227.6 237.3L236.2 230.3L244.7 223L253.2 215.1L261.7 206.7L270.3 197.6L278.8 187.8L287.3 177.1L295.8 165.6L304.4 153.4L312.9 140.7L321.4 127.2L330 113L332.1 109.3L334.2 105.6L336.4 101.9L337.8 99.2M186.7 247.6L195.2 240.8L203.7 234L212.2 227.5L220.8 220.7L229.3 213.5L237.8 205.8L246.4 197.5L254.9 188.5L263.4 178.6L271.9 167.9L280.5 156.6L289 144.5L297.5 131.8L306.1 118.3L314.6 104.1L316.7 100.5L317.1 99.8M179.8 230.1L188.3 223.8L196.9 217.6L205.4 211.1L213.9 204.1L222.4 196.6L231 188.4L239.5 179.4L248 169.6L256.6 159L265.1 147.8L273.6 135.9L282.1 123.2L290.7 109.7L292.8 106.3L294.9 102.7L296.4 100.3M173 213.7L181.5 207.8L190 201.5L198.5 194.8L207.1 187.4L215.6 179.4L224.1 170.5L232.7 160.8L241.2 150.4L249.7 139.4L258.2 127.5L266.8 114.9L275.3 101.5L275.6 100.9M166.1 198.1L174.6 192.1L183.2 185.6L191.7 178.5L200.2 170.6L208.7 161.9L217.3 152.4L225.8 142.2L234.3 131.2L242.9 119.4L251.4 106.9L253.5 103.6L254.9 101.5M159.3 182.9L167.8 176.7L176.3 169.7L184.8 162L193.4 153.5L201.9 144.3L210.4 134.2L218.9 123.4L227.5 111.7L229.6 108.7L231.7 105.6L233.9 102.5L234.1 102.1M152.4 167.9L160.9 161.3L169.5 153.9L178 145.6L186.5 136.6L195 126.7L203.6 116L212.1 104.5L213.4 102.6"/>
<g stroke="#444" stroke-width="1.9" stroke-linecap="butt" stroke-linejoin="miter">
<polyline fill="none" points="102.2,131.2 102.2,480.6 468,640.4 944.6,518 944.6,168.6"/>
<line x1="468" y1="640.4" x2="478.1" y2="644.8" />
<line x1="626.9" y1="599.6" x2="636.9" y2="604" />
<line x1="785.7" y1="558.8" x2="795.8" y2="563.2" />
<line x1="944.6" y1="518" x2="954.7" y2="522.4" />
<line x1="468" y1="640.4" x2="457.3" y2="643.1" />
<line x1="394.8" y1="608.4" x2="384.2" y2="611.2" />
<line x1="321.7" y1="576.5" x2="311" y2="579.2" />
<line x1="248.5" y1="544.5" x2="237.9" y2="547.3" />
<line x1="175.4" y1="512.6" x2="164.7" y2="515.3" />
<line x1="102.2" y1="480.6" x2="91.5" y2="483.3" />
<line x1="102.2" y1="480.6" x2="94" y2="477" />
<line x1="102.2" y1="410.7" x2="94" y2="407.1" />
<line x1="102.2" y1="340.8" x2="94" y2="337.2" />
<line x1="102.2" y1="271" x2="94" y2="267.4" />
<line x1="102.2" y1="201.1" x2="94" y2="197.5" />
<line x1="102.2" y1="131.2" x2="94" y2="127.6" />
</g>
</g>
<g id="plot-b">
<g stroke="#e9e9e9" stroke-width="1.8">
<line x1="625.5" y1="1423.9" x2="264.7" y2="1263.5" />
<line x1="264.7" y1="1263.5" x2="264.7" y2="915.4" />
<line x1="782.5" y1="1382.6" x2="421.7" y2="1222.2" />
<line x1="421.7" y1="1222.2" x2="421.7" y2="874.1" />
<line x1="396.2" y1="1433.1" x2="867.4" y2="1309.2" />
<line x1="867.4" y1="1309.2" x2="867.4" y2="961.1" />
<line x1="324.1" y1="1401" x2="795.3" y2="1277.1" />
<line x1="795.3" y1="1277.1" x2="795.3" y2="929" />
<line x1="251.9" y1="1369" x2="723.1" y2="1245.1" />
<line x1="723.1" y1="1245.1" x2="723.1" y2="897" />
<line x1="179.8" y1="1336.9" x2="651" y2="1213" />
<line x1="651" y1="1213" x2="651" y2="864.9" />
<line x1="107.6" y1="1217.8" x2="578.8" y2="1093.9" />
<line x1="578.8" y1="1093.9" x2="939.6" y2="1254.3" />
<line x1="107.6" y1="1130.8" x2="578.8" y2="1006.8" />
<line x1="578.8" y1="1006.8" x2="939.6" y2="1167.2" />
<line x1="107.6" y1="1043.7" x2="578.8" y2="919.8" />
<line x1="578.8" y1="919.8" x2="939.6" y2="1080.2" />
</g>
<g stroke="#555" stroke-width="1.7" stroke-linecap="butt" stroke-linejoin="miter">
<polyline fill="none" points="107.6,956.7 578.8,832.8 939.6,993.2"/>
<polyline fill="none" points="107.6,1304.8 578.8,1180.9 939.6,1341.3"/>
<line x1="578.8" y1="1180.9" x2="578.8" y2="832.8" />
</g>
<g stroke-width="0.6" stroke-linejoin="round">
<path fill="#0000d7" stroke="#0000d7" d="M482.6 1434.7L482.4 1434.3L482.1 1434.7zM482.1 1434.7L482.4 1434.3L480.5 1430.7L478.1 1433.3L478.8 1434.7zM486.3 1434.7L484.8 1431.7L482.4 1434.3L482.6 1434.7zM482.4 1434.3L484.8 1431.7L482.9 1428.2L480.5 1430.7zM490.1 1434.6L489.1 1432.8L487.4 1434.7zM487.4 1434.7L489.1 1432.8L487.2 1429.1L484.8 1431.7L486.3 1434.7zM484.8 1431.7L487.2 1429.1L485.3 1425.6L482.9 1428.2zM493.8 1434.6L493.4 1433.9L492.7 1434.6zM492.7 1434.6L493.4 1433.9L491.5 1430.2L489.1 1432.8L490.1 1434.6zM489.1 1432.8L491.5 1430.2L489.6 1426.5L487.2 1429.1zM487.2 1429.1L489.6 1426.5L487.7 1423L485.3 1425.6zM478.1 1433.3L487.7 1423L480 1409.2L470.5 1419.5zM501.2 1434.5L500.1 1432.4L498.1 1434.5zM504.9 1434.4L504.4 1433.5L503.6 1434.5zM503.6 1434.5L504.4 1433.5L502.5 1429.8L500.1 1432.4L501.2 1434.5zM508.5 1434.4L506.8 1430.9L504.4 1433.5L504.9 1434.4zM504.4 1433.5L506.8 1430.9L504.9 1427.1L502.5 1429.8zM497.5 1434.5L495.8 1431.3L493.4 1433.9L493.8 1434.6zM493.4 1433.9L495.8 1431.3L493.9 1427.6L491.5 1430.2zM491.5 1430.2L493.9 1427.6L492 1423.9L489.6 1426.5zM489.6 1426.5L492 1423.9L490.1 1420.4L487.7 1423zM498.1 1434.5L500.1 1432.4L498.2 1428.6L495.8 1431.3L497.5 1434.5zM495.8 1431.3L498.2 1428.6L496.3 1425L493.9 1427.6zM493.9 1427.6L496.3 1425L494.4 1421.4L492 1423.9zM492 1423.9L494.4 1421.4L492.5 1417.8L490.1 1420.4zM500.1 1432.4L502.5 1429.8L500.6 1426L498.2 1428.6zM498.2 1428.6L500.6 1426L498.7 1422.4L496.3 1425zM496.3 1425L498.7 1422.4L496.8 1418.8L494.4 1421.4zM494.4 1421.4L496.8 1418.8L494.9 1415.2L492.5 1417.8zM502.5 1429.8L504.9 1427.1L503 1423.4L500.6 1426zM500.6 1426L503 1423.4L501.1 1419.8L498.7 1422.4zM498.7 1422.4L501.1 1419.8L499.2 1416.2L496.8 1418.8zM496.8 1418.8L499.2 1416.2L497.3 1412.6L494.9 1415.2zM523.1 1434.1L522.1 1432L520.2 1434.1zM512.2 1434.3L511.1 1432.1L509.1 1434.4zM509.1 1434.4L511.1 1432.1L509.2 1428.3L506.8 1430.9L508.5 1434.4zM506.8 1430.9L509.2 1428.3L507.3 1424.5L504.9 1427.1zM515.8 1434.2L515.4 1433.4L514.6 1434.3zM514.6 1434.3L515.4 1433.4L513.5 1429.5L511.1 1432.1L512.2 1434.3zM511.1 1432.1L513.5 1429.5L511.6 1425.7L509.2 1428.3zM509.2 1428.3L511.6 1425.7L509.7 1421.9L507.3 1424.5zM519.5 1434.2L517.8 1430.7L515.4 1433.4L515.8 1434.2zM515.4 1433.4L517.8 1430.7L515.9 1426.9L513.5 1429.5zM513.5 1429.5L515.9 1426.9L514 1423.1L511.6 1425.7zM511.6 1425.7L514 1423.1L512.1 1419.3L509.7 1421.9zM520.2 1434.1L522.1 1432L520.2 1428.1L517.8 1430.7L519.5 1434.2zM517.8 1430.7L520.2 1428.1L518.3 1424.2L515.9 1426.9zM515.9 1426.9L518.3 1424.2L516.4 1420.4L514 1423.1zM514 1423.1L516.4 1420.4L514.5 1416.7L512.1 1419.3zM526.7 1434L526.4 1433.3L525.8 1434zM525.8 1434L526.4 1433.3L524.5 1429.4L522.1 1432L523.1 1434.1zM530.3 1433.9L528.8 1430.7L526.4 1433.3L526.7 1434zM526.4 1433.3L528.8 1430.7L526.9 1426.7L524.5 1429.4zM533.9 1433.8L533.1 1432.1L531.5 1433.9zM531.5 1433.9L533.1 1432.1L531.2 1428L528.8 1430.7L530.3 1433.9zM528.8 1430.7L531.2 1428L529.3 1424.1L526.9 1426.7zM537.5 1433.7L537.4 1433.5L537.2 1433.7zM537.2 1433.7L537.4 1433.5L535.5 1429.4L533.1 1432.1L533.9 1433.8zM533.1 1432.1L535.5 1429.4L533.6 1425.4L531.2 1428zM531.2 1428L533.6 1425.4L531.7 1421.5L529.3 1424.1zM522.1 1432L531.7 1421.5L524.1 1406.3L514.5 1416.7zM544.7 1433.5L544.1 1432.3L543 1433.6zM548.3 1433.4L546.5 1429.6L544.1 1432.3L544.7 1433.5zM551.8 1433.3L550.8 1431.1L548.8 1433.4zM548.8 1433.4L550.8 1431.1L548.9 1426.9L546.5 1429.6L548.3 1433.4zM541.1 1433.6L539.8 1430.8L537.4 1433.5L537.5 1433.7zM537.4 1433.5L539.8 1430.8L537.9 1426.8L535.5 1429.4zM535.5 1429.4L537.9 1426.8L536 1422.8L533.6 1425.4zM533.6 1425.4L536 1422.8L534.1 1418.8L531.7 1421.5zM543 1433.6L544.1 1432.3L542.2 1428.2L539.8 1430.8L541.1 1433.6zM539.8 1430.8L542.2 1428.2L540.3 1424.1L537.9 1426.8zM537.9 1426.8L540.3 1424.1L538.4 1420.1L536 1422.8zM536 1422.8L538.4 1420.1L536.5 1416.2L534.1 1418.8zM544.1 1432.3L546.5 1429.6L544.6 1425.5L542.2 1428.2zM542.2 1428.2L544.6 1425.5L542.7 1421.5L540.3 1424.1zM540.3 1424.1L542.7 1421.5L540.8 1417.5L538.4 1420.1zM538.4 1420.1L540.8 1417.5L538.9 1413.6L536.5 1416.2zM546.5 1429.6L548.9 1426.9L547 1422.9L544.6 1425.5zM544.6 1425.5L547 1422.9L545.1 1418.8L542.7 1421.5zM542.7 1421.5L545.1 1418.8L543.2 1414.9L540.8 1417.5zM540.8 1417.5L543.2 1414.9L541.3 1410.9L538.9 1413.6zM555.4 1433.2L555.1 1432.6L554.6 1433.2zM554.6 1433.2L555.1 1432.6L553.2 1428.4L550.8 1431.1L551.8 1433.3zM550.8 1431.1L553.2 1428.4L551.3 1424.3L548.9 1426.9zM558.9 1433L557.5 1430L555.1 1432.6L555.4 1433.2zM555.1 1432.6L557.5 1430L555.6 1425.8L553.2 1428.4zM553.2 1428.4L555.6 1425.8L553.7 1421.6L551.3 1424.3zM562.5 1432.9L561.8 1431.5L560.5 1433zM560.5 1433L561.8 1431.5L559.9 1427.3L557.5 1430L558.9 1433zM557.5 1430L559.9 1427.3L558 1423.1L555.6 1425.8zM555.6 1425.8L558 1423.1L556.1 1419L553.7 1421.6zM566 1432.8L564.2 1428.9L561.8 1431.5L562.5 1432.9zM561.8 1431.5L564.2 1428.9L562.3 1424.6L559.9 1427.3zM559.9 1427.3L562.3 1424.6L560.4 1420.4L558 1423.1zM558 1423.1L560.4 1420.4L558.5 1416.3L556.1 1419zM566.5 1432.8L568.5 1430.5L566.6 1426.2L564.2 1428.9L566 1432.8zM564.2 1428.9L566.6 1426.2L564.7 1421.9L562.3 1424.6zM562.3 1424.6L564.7 1421.9L562.8 1417.8L560.4 1420.4zM560.4 1420.4L562.8 1417.8L560.9 1413.7L558.5 1416.3zM568.5 1430.5L570.9 1427.8L569 1423.5L566.6 1426.2zM566.6 1426.2L569 1423.5L567.1 1419.3L564.7 1421.9zM564.7 1421.9L567.1 1419.3L565.2 1415.1L562.8 1417.8zM562.8 1417.8L565.2 1415.1L563.3 1411L560.9 1413.7zM570.9 1427.8L573.3 1425.1L571.4 1420.8L569 1423.5zM569 1423.5L571.4 1420.8L569.5 1416.6L567.1 1419.3zM567.1 1419.3L569.5 1416.6L567.6 1412.5L565.2 1415.1zM565.2 1415.1L567.6 1412.5L565.7 1408.4L563.3 1411zM573.3 1425.1L575.7 1422.4L573.8 1418.1L571.4 1420.8zM571.4 1420.8L573.8 1418.1L571.9 1413.9L569.5 1416.6zM569.5 1416.6L571.9 1413.9L570 1409.8L567.6 1412.5zM567.6 1412.5L570 1409.8L568.1 1405.7L565.7 1408.4z"/>
<path fill="#0000e7" stroke="#0000e7" d="M487.7 1423L497.3 1412.6L489.6 1398.9L480 1409.2zM504.9 1427.1L514.5 1416.7L506.8 1402.3L497.3 1412.6zM531.7 1421.5L541.3 1410.9L533.6 1395.8L524.1 1406.3zM548.9 1426.9L558.5 1416.3L550.9 1400.4L541.3 1410.9zM575.7 1422.4L585.3 1411.7L577.7 1395.1L568.1 1405.7z"/>
<path fill="#0000f7" stroke="#0000f7" d="M470.5 1419.5L480 1409.2L472.4 1396.2L462.8 1406.4zM497.3 1412.6L506.8 1402.3L499.2 1388.7L489.6 1398.9zM514.5 1416.7L524.1 1406.3L516.4 1391.9L506.8 1402.3zM558.5 1416.3L568.1 1405.7L560.4 1389.9L550.9 1400.4zM585.3 1411.7L594.9 1400.9L587.2 1384.5L577.7 1395.1z"/>
<path fill="#0008ff" stroke="#0008ff" d="M462.8 1406.4L472.4 1396.2L464.8 1384L455.2 1394.1zM480 1409.2L489.6 1398.9L482 1386L472.4 1396.2zM524.1 1406.3L533.6 1395.8L526 1381.6L516.4 1391.9zM541.3 1410.9L550.9 1400.4L543.2 1385.4L533.6 1395.8zM568.1 1405.7L577.7 1395.1L570 1379.4L560.4 1389.9z"/>
<path fill="#0018ff" stroke="#0018ff" d="M455.2 1394.1L464.8 1384L457.1 1372.6L447.5 1382.6zM472.4 1396.2L482 1386L474.3 1373.9L464.8 1384zM489.6 1398.9L499.2 1388.7L491.6 1375.9L482 1386zM506.8 1402.3L516.4 1391.9L508.8 1378.4L499.2 1388.7zM533.6 1395.8L543.2 1385.4L535.6 1371.3L526 1381.6zM550.9 1400.4L560.4 1389.9L552.8 1375L543.2 1385.4zM577.7 1395.1L587.2 1384.5L579.6 1368.9L570 1379.4zM594.9 1400.9L604.5 1390.2L596.8 1373.9L587.2 1384.5z"/>
<path fill="#0028ff" stroke="#0028ff" d="M482 1386L491.6 1375.9L483.9 1363.9L474.3 1373.9zM499.2 1388.7L508.8 1378.4L501.1 1365.7L491.6 1375.9zM516.4 1391.9L526 1381.6L518.4 1368.2L508.8 1378.4zM560.4 1389.9L570 1379.4L562.4 1364.6L552.8 1375zM604.5 1390.2L614 1379.5L606.4 1363.3L596.8 1373.9z"/>
<path fill="#0038ff" stroke="#0038ff" d="M447.5 1382.6L457.1 1372.6L449.5 1361.9L439.9 1371.8zM464.8 1384L474.3 1373.9L466.7 1362.6L457.1 1372.6zM508.8 1378.4L518.4 1368.2L510.7 1355.6L501.1 1365.7zM526 1381.6L535.6 1371.3L527.9 1358L518.4 1368.2zM543.2 1385.4L552.8 1375L545.2 1361L535.6 1371.3zM570 1379.4L579.6 1368.9L572 1354.3L562.4 1364.6zM587.2 1384.5L596.8 1373.9L589.2 1358.5L579.6 1368.9zM614 1379.5L623.6 1368.7L616 1352.7L606.4 1363.3z"/>
<path fill="#0048ff" stroke="#0048ff" d="M439.9 1371.8L449.5 1361.9L441.8 1351.8L432.3 1361.6zM457.1 1372.6L466.7 1362.6L459.1 1352L449.5 1361.9zM474.3 1373.9L483.9 1363.9L476.3 1352.6L466.7 1362.6zM491.6 1375.9L501.1 1365.7L493.5 1353.8L483.9 1363.9zM535.6 1371.3L545.2 1361L537.5 1347.8L527.9 1358zM552.8 1375L562.4 1364.6L554.7 1350.7L545.2 1361zM579.6 1368.9L589.2 1358.5L581.5 1343.9L572 1354.3zM596.8 1373.9L606.4 1363.3L598.8 1348L589.2 1358.5zM623.6 1368.7L633.2 1358L625.6 1342.1L616 1352.7z"/>
<path fill="#0058ff" stroke="#0058ff" d="M432.3 1361.6L441.8 1351.8L434.2 1342.5L424.6 1352.2zM449.5 1361.9L459.1 1352L451.4 1342L441.8 1351.8zM466.7 1362.6L476.3 1352.6L468.6 1342.1L459.1 1352zM483.9 1363.9L493.5 1353.8L485.9 1342.6L476.3 1352.6zM501.1 1365.7L510.7 1355.6L503.1 1343.8L493.5 1353.8zM518.4 1368.2L527.9 1358L520.3 1345.5L510.7 1355.6zM545.2 1361L554.7 1350.7L547.1 1337.6L537.5 1347.8zM562.4 1364.6L572 1354.3L564.3 1340.5L554.7 1350.7zM606.4 1363.3L616 1352.7L608.3 1337.6L598.8 1348z"/>
<path fill="#0068ff" stroke="#0068ff" d="M424.6 1352.2L434.2 1342.5L426.6 1333.7L417 1343.4zM441.8 1351.8L451.4 1342L443.8 1332.8L434.2 1342.5zM459.1 1352L468.6 1342.1L461 1332.2L451.4 1342zM476.3 1352.6L485.9 1342.6L478.2 1332.2L468.6 1342.1zM493.5 1353.8L503.1 1343.8L495.4 1332.7L485.9 1342.6zM510.7 1355.6L520.3 1345.5L512.7 1333.8L503.1 1343.8zM527.9 1358L537.5 1347.8L529.9 1335.4L520.3 1345.5zM572 1354.3L581.5 1343.9L573.9 1330.3L564.3 1340.5zM589.2 1358.5L598.8 1348L591.1 1333.6L581.5 1343.9zM616 1352.7L625.6 1342.1L617.9 1327.2L608.3 1337.6zM633.2 1358L642.8 1347.3L635.1 1331.6L625.6 1342.1z"/>
<path fill="#0078ff" stroke="#0078ff" d="M417 1343.4L426.6 1333.7L418.9 1325.6L409.3 1335.1zM409.3 1335.1L418.9 1325.6L411.3 1318L401.7 1327.5zM434.2 1342.5L443.8 1332.8L436.1 1324.1L426.6 1333.7zM451.4 1342L461 1332.2L453.4 1323.1L443.8 1332.8zM468.6 1342.1L478.2 1332.2L470.6 1322.5L461 1332.2zM485.9 1342.6L495.4 1332.7L487.8 1322.4L478.2 1332.2zM503.1 1343.8L512.7 1333.8L505 1322.8L495.4 1332.7zM520.3 1345.5L529.9 1335.4L522.2 1323.8L512.7 1333.8zM537.5 1347.8L547.1 1337.6L539.5 1325.4L529.9 1335.4zM554.7 1350.7L564.3 1340.5L556.7 1327.5L547.1 1337.6zM581.5 1343.9L591.1 1333.6L583.5 1320.1L573.9 1330.3zM598.8 1348L608.3 1337.6L600.7 1323.3L591.1 1333.6zM642.8 1347.3L652.4 1336.5L644.7 1321L635.1 1331.6z"/>
<path fill="#0087ff" stroke="#0087ff" d="M401.7 1327.5L411.3 1318L403.6 1311L394.1 1320.4zM426.6 1333.7L436.1 1324.1L428.5 1316.1L418.9 1325.6zM418.9 1325.6L428.5 1316.1L420.9 1308.6L411.3 1318zM443.8 1332.8L453.4 1323.1L445.7 1314.5L436.1 1324.1zM461 1332.2L470.6 1322.5L462.9 1313.4L453.4 1323.1zM478.2 1332.2L487.8 1322.4L480.2 1312.7L470.6 1322.5zM495.4 1332.7L505 1322.8L497.4 1312.6L487.8 1322.4zM512.7 1333.8L522.2 1323.8L514.6 1312.9L505 1322.8zM529.9 1335.4L539.5 1325.4L531.8 1313.9L522.2 1323.8zM547.1 1337.6L556.7 1327.5L549 1315.3L539.5 1325.4zM564.3 1340.5L573.9 1330.3L566.3 1317.4L556.7 1327.5zM608.3 1337.6L617.9 1327.2L610.3 1313.1L600.7 1323.3zM625.6 1342.1L635.1 1331.6L627.5 1316.8L617.9 1327.2zM652.4 1336.5L661.9 1325.8L654.3 1310.5L644.7 1321z"/>
<path fill="#0097ff" stroke="#0097ff" d="M394.1 1320.4L403.6 1311L396 1304.5L386.4 1313.7zM386.4 1313.7L396 1304.5L388.4 1298.4L378.8 1307.6zM378.8 1307.6L388.4 1298.4L380.7 1292.8L371.1 1301.9zM411.3 1318L420.9 1308.6L413.2 1301.7L403.6 1311zM436.1 1324.1L445.7 1314.5L438.1 1306.6L428.5 1316.1zM453.4 1323.1L462.9 1313.4L455.3 1304.9L445.7 1314.5zM470.6 1322.5L480.2 1312.7L472.5 1303.7L462.9 1313.4zM487.8 1322.4L497.4 1312.6L489.7 1303L480.2 1312.7zM539.5 1325.4L549 1315.3L541.4 1304L531.8 1313.9zM556.7 1327.5L566.3 1317.4L558.6 1305.4L549 1315.3zM573.9 1330.3L583.5 1320.1L575.8 1307.4L566.3 1317.4zM591.1 1333.6L600.7 1323.3L593.1 1309.9L583.5 1320.1zM617.9 1327.2L627.5 1316.8L619.9 1302.8L610.3 1313.1zM635.1 1331.6L644.7 1321L637.1 1306.4L627.5 1316.8zM661.9 1325.8L671.5 1315.1L663.9 1299.9L654.3 1310.5z"/>
<path fill="#00a7ff" stroke="#00a7ff" d="M371.1 1301.9L380.7 1292.8L373.1 1287.6L363.5 1296.5zM363.5 1296.5L373.1 1287.6L365.4 1282.7L355.9 1291.6zM355.9 1291.6L365.4 1282.7L357.8 1278.2L348.2 1287zM187.8 1216.5L197.4 1209.7L189.7 1207L180.2 1213.7zM180.2 1213.7L189.7 1207L182.1 1204.3L172.5 1211zM172.5 1211L182.1 1204.3L174.5 1201.7L164.9 1208.3zM164.9 1208.3L174.5 1201.7L166.8 1199.1L157.2 1205.6zM403.6 1311L413.2 1301.7L405.6 1295.2L396 1304.5zM396 1304.5L405.6 1295.2L397.9 1289.3L388.4 1298.4zM428.5 1316.1L438.1 1306.6L430.4 1299.2L420.9 1308.6zM420.9 1308.6L430.4 1299.2L422.8 1292.3L413.2 1301.7zM445.7 1314.5L455.3 1304.9L447.7 1297.1L438.1 1306.6zM462.9 1313.4L472.5 1303.7L464.9 1295.4L455.3 1304.9zM480.2 1312.7L489.7 1303L482.1 1294.1L472.5 1303.7zM505 1322.8L514.6 1312.9L507 1302.8L497.4 1312.6zM522.2 1323.8L531.8 1313.9L524.2 1303.1L514.6 1312.9zM566.3 1317.4L575.8 1307.4L568.2 1295.5L558.6 1305.4zM583.5 1320.1L593.1 1309.9L585.4 1297.3L575.8 1307.4zM600.7 1323.3L610.3 1313.1L602.6 1299.8L593.1 1309.9zM627.5 1316.8L637.1 1306.4L629.4 1292.6L619.9 1302.8zM644.7 1321L654.3 1310.5L646.7 1296L637.1 1306.4z"/>
<path fill="#00b7ff" stroke="#00b7ff" d="M348.2 1287L357.8 1278.2L350.2 1273.9L340.6 1282.6zM340.6 1282.6L350.2 1273.9L342.5 1269.9L332.9 1278.5zM332.9 1278.5L342.5 1269.9L334.9 1266.1L325.3 1274.6zM325.3 1274.6L334.9 1266.1L327.2 1262.5L317.7 1270.9zM317.7 1270.9L327.2 1262.5L319.6 1259L310 1267.4zM310 1267.4L319.6 1259L312 1255.6L302.4 1263.8zM302.4 1263.8L312 1255.6L304.3 1252.2L294.7 1260.4zM294.7 1260.4L304.3 1252.2L296.7 1248.9L287.1 1256.9zM287.1 1256.9L296.7 1248.9L289 1245.6L279.5 1253.6zM279.5 1253.6L289 1245.6L281.4 1242.4L271.8 1250.2zM271.8 1250.2L281.4 1242.4L273.8 1239.2L264.2 1246.9zM264.2 1246.9L273.8 1239.2L266.1 1236L256.5 1243.7zM256.5 1243.7L266.1 1236L258.5 1232.9L248.9 1240.5zM248.9 1240.5L258.5 1232.9L250.8 1229.8L241.3 1237.3zM241.3 1237.3L250.8 1229.8L243.2 1226.8L233.6 1234.2zM233.6 1234.2L243.2 1226.8L235.6 1223.8L226 1231.2zM226 1231.2L235.6 1223.8L227.9 1220.9L218.3 1228.1zM218.3 1228.1L227.9 1220.9L220.3 1218L210.7 1225.2zM210.7 1225.2L220.3 1218L212.7 1215.2L203.1 1222.2zM203.1 1222.2L212.7 1215.2L205 1212.4L195.4 1219.4zM195.4 1219.4L205 1212.4L197.4 1209.7L187.8 1216.5zM388.4 1298.4L397.9 1289.3L390.3 1283.7L380.7 1292.8zM380.7 1292.8L390.3 1283.7L382.7 1278.6L373.1 1287.6zM373.1 1287.6L382.7 1278.6L375 1273.8L365.4 1282.7zM365.4 1282.7L375 1273.8L367.4 1269.4L357.8 1278.2zM227.9 1220.9L237.5 1213.6L229.9 1210.9L220.3 1218zM220.3 1218L229.9 1210.9L222.2 1208.1L212.7 1215.2zM212.7 1215.2L222.2 1208.1L214.6 1205.4L205 1212.4zM205 1212.4L214.6 1205.4L207 1202.7L197.4 1209.7zM197.4 1209.7L207 1202.7L199.3 1200.1L189.7 1207zM189.7 1207L199.3 1200.1L191.7 1197.6L182.1 1204.3zM182.1 1204.3L191.7 1197.6L184 1195L174.5 1201.7zM174.5 1201.7L184 1195L176.4 1192.6L166.8 1199.1zM413.2 1301.7L422.8 1292.3L415.2 1286L405.6 1295.2zM405.6 1295.2L415.2 1286L407.5 1280.1L397.9 1289.3zM184 1195L193.6 1188.3L186 1185.9L176.4 1192.6zM438.1 1306.6L447.7 1297.1L440 1289.8L430.4 1299.2zM430.4 1299.2L440 1289.8L432.4 1283L422.8 1292.3zM455.3 1304.9L464.9 1295.4L457.2 1287.6L447.7 1297.1zM472.5 1303.7L482.1 1294.1L474.5 1285.9L464.9 1295.4zM497.4 1312.6L507 1302.8L499.3 1293.3L489.7 1303zM514.6 1312.9L524.2 1303.1L516.5 1293.1L507 1302.8zM531.8 1313.9L541.4 1304L533.8 1293.3L524.2 1303.1zM549 1315.3L558.6 1305.4L551 1294.1L541.4 1304zM593.1 1309.9L602.6 1299.8L595 1287.4L585.4 1297.3zM610.3 1313.1L619.9 1302.8L612.2 1289.7L602.6 1299.8zM654.3 1310.5L663.9 1299.9L656.3 1285.7L646.7 1296zM671.5 1315.1L681.1 1304.3L673.5 1289.4L663.9 1299.9z"/>
<path fill="#00c7ff" stroke="#00c7ff" d="M357.8 1278.2L367.4 1269.4L359.7 1265.2L350.2 1273.9zM350.2 1273.9L359.7 1265.2L352.1 1261.3L342.5 1269.9zM342.5 1269.9L352.1 1261.3L344.5 1257.6L334.9 1266.1zM334.9 1266.1L344.5 1257.6L336.8 1254.1L327.2 1262.5zM327.2 1262.5L336.8 1254.1L329.2 1250.7L319.6 1259zM319.6 1259L329.2 1250.7L321.5 1247.4L312 1255.6zM312 1255.6L321.5 1247.4L313.9 1244.1L304.3 1252.2zM304.3 1252.2L313.9 1244.1L306.3 1240.8L296.7 1248.9zM296.7 1248.9L306.3 1240.8L298.6 1237.6L289 1245.6zM289 1245.6L298.6 1237.6L291 1234.5L281.4 1242.4zM281.4 1242.4L291 1234.5L283.3 1231.4L273.8 1239.2zM273.8 1239.2L283.3 1231.4L275.7 1228.3L266.1 1236zM266.1 1236L275.7 1228.3L268.1 1225.3L258.5 1232.9zM258.5 1232.9L268.1 1225.3L260.4 1222.3L250.8 1229.8zM250.8 1229.8L260.4 1222.3L252.8 1219.4L243.2 1226.8zM243.2 1226.8L252.8 1219.4L245.2 1216.5L235.6 1223.8zM235.6 1223.8L245.2 1216.5L237.5 1213.6L227.9 1220.9zM397.9 1289.3L407.5 1280.1L399.9 1274.7L390.3 1283.7zM390.3 1283.7L399.9 1274.7L392.2 1269.6L382.7 1278.6zM382.7 1278.6L392.2 1269.6L384.6 1264.9L375 1273.8zM375 1273.8L384.6 1264.9L377 1260.6L367.4 1269.4zM268.1 1225.3L277.7 1217.6L270 1214.7L260.4 1222.3zM260.4 1222.3L270 1214.7L262.4 1211.9L252.8 1219.4zM252.8 1219.4L262.4 1211.9L254.7 1209.1L245.2 1216.5zM245.2 1216.5L254.7 1209.1L247.1 1206.3L237.5 1213.6zM237.5 1213.6L247.1 1206.3L239.5 1203.6L229.9 1210.9zM229.9 1210.9L239.5 1203.6L231.8 1201L222.2 1208.1zM222.2 1208.1L231.8 1201L224.2 1198.3L214.6 1205.4zM214.6 1205.4L224.2 1198.3L216.5 1195.8L207 1202.7zM207 1202.7L216.5 1195.8L208.9 1193.2L199.3 1200.1zM199.3 1200.1L208.9 1193.2L201.3 1190.8L191.7 1197.6zM191.7 1197.6L201.3 1190.8L193.6 1188.3L184 1195zM422.8 1292.3L432.4 1283L424.7 1276.8L415.2 1286zM415.2 1286L424.7 1276.8L417.1 1271L407.5 1280.1zM216.5 1195.8L226.1 1188.8L218.5 1186.3L208.9 1193.2zM208.9 1193.2L218.5 1186.3L210.8 1183.9L201.3 1190.8zM201.3 1190.8L210.8 1183.9L203.2 1181.5L193.6 1188.3zM193.6 1188.3L203.2 1181.5L195.6 1179.2L186 1185.9zM447.7 1297.1L457.2 1287.6L449.6 1280.4L440 1289.8zM440 1289.8L449.6 1280.4L442 1273.7L432.4 1283zM464.9 1295.4L474.5 1285.9L466.8 1278.2L457.2 1287.6zM489.7 1303L499.3 1293.3L491.7 1284.5L482.1 1294.1zM482.1 1294.1L491.7 1284.5L484 1276.4L474.5 1285.9zM507 1302.8L516.5 1293.1L508.9 1283.7L499.3 1293.3zM524.2 1303.1L533.8 1293.3L526.1 1283.4L516.5 1293.1zM541.4 1304L551 1294.1L543.3 1283.6L533.8 1293.3zM558.6 1305.4L568.2 1295.5L560.6 1284.3L551 1294.1zM575.8 1307.4L585.4 1297.3L577.8 1285.6L568.2 1295.5zM602.6 1299.8L612.2 1289.7L604.6 1277.4L595 1287.4zM619.9 1302.8L629.4 1292.6L621.8 1279.7L612.2 1289.7zM637.1 1306.4L646.7 1296L639 1282.4L629.4 1292.6zM663.9 1299.9L673.5 1289.4L665.8 1275.4L656.3 1285.7zM681.1 1304.3L690.7 1293.6L683.1 1278.9L673.5 1289.4z"/>
<path fill="#00d7ff" stroke="#00d7ff" d="M367.4 1269.4L377 1260.6L369.3 1256.5L359.7 1265.2zM359.7 1265.2L369.3 1256.5L361.7 1252.7L352.1 1261.3zM352.1 1261.3L361.7 1252.7L354 1249.1L344.5 1257.6zM344.5 1257.6L354 1249.1L346.4 1245.6L336.8 1254.1zM336.8 1254.1L346.4 1245.6L338.8 1242.3L329.2 1250.7zM329.2 1250.7L338.8 1242.3L331.1 1239.1L321.5 1247.4zM321.5 1247.4L331.1 1239.1L323.5 1235.9L313.9 1244.1zM313.9 1244.1L323.5 1235.9L315.8 1232.7L306.3 1240.8zM306.3 1240.8L315.8 1232.7L308.2 1229.6L298.6 1237.6zM298.6 1237.6L308.2 1229.6L300.6 1226.6L291 1234.5zM291 1234.5L300.6 1226.6L292.9 1223.5L283.3 1231.4zM283.3 1231.4L292.9 1223.5L285.3 1220.6L275.7 1228.3zM275.7 1228.3L285.3 1220.6L277.7 1217.6L268.1 1225.3zM407.5 1280.1L417.1 1271L409.5 1265.6L399.9 1274.7zM399.9 1274.7L409.5 1265.6L401.8 1260.7L392.2 1269.6zM392.2 1269.6L401.8 1260.7L394.2 1256.1L384.6 1264.9zM384.6 1264.9L394.2 1256.1L386.5 1251.8L377 1260.6zM377 1260.6L386.5 1251.8L378.9 1247.8L369.3 1256.5zM300.6 1226.6L310.2 1218.6L302.5 1215.7L292.9 1223.5zM292.9 1223.5L302.5 1215.7L294.9 1212.8L285.3 1220.6zM285.3 1220.6L294.9 1212.8L287.2 1210L277.7 1217.6zM277.7 1217.6L287.2 1210L279.6 1207.2L270 1214.7zM270 1214.7L279.6 1207.2L272 1204.4L262.4 1211.9zM262.4 1211.9L272 1204.4L264.3 1201.7L254.7 1209.1zM254.7 1209.1L264.3 1201.7L256.7 1199L247.1 1206.3zM247.1 1206.3L256.7 1199L249 1196.4L239.5 1203.6zM239.5 1203.6L249 1196.4L241.4 1193.8L231.8 1201zM231.8 1201L241.4 1193.8L233.8 1191.2L224.2 1198.3zM224.2 1198.3L233.8 1191.2L226.1 1188.8L216.5 1195.8zM432.4 1283L442 1273.7L434.3 1267.6L424.7 1276.8zM424.7 1276.8L434.3 1267.6L426.7 1261.9L417.1 1271zM241.4 1193.8L251 1186.6L243.3 1184.1L233.8 1191.2zM233.8 1191.2L243.3 1184.1L235.7 1181.7L226.1 1188.8zM226.1 1188.8L235.7 1181.7L228.1 1179.3L218.5 1186.3zM218.5 1186.3L228.1 1179.3L220.4 1177L210.8 1183.9zM210.8 1183.9L220.4 1177L212.8 1174.7L203.2 1181.5zM203.2 1181.5L212.8 1174.7L205.1 1172.4L195.6 1179.2zM457.2 1287.6L466.8 1278.2L459.2 1271.1L449.6 1280.4zM449.6 1280.4L459.2 1271.1L451.5 1264.5L442 1273.7zM212.8 1174.7L222.4 1167.7L214.7 1165.5L205.1 1172.4zM474.5 1285.9L484 1276.4L476.4 1268.8L466.8 1278.2zM499.3 1293.3L508.9 1283.7L501.3 1275L491.7 1284.5zM491.7 1284.5L501.3 1275L493.6 1267L484 1276.4zM516.5 1293.1L526.1 1283.4L518.5 1274.2L508.9 1283.7zM533.8 1293.3L543.3 1283.6L535.7 1273.8L526.1 1283.4zM551 1294.1L560.6 1284.3L552.9 1273.9L543.3 1283.6zM568.2 1295.5L577.8 1285.6L570.1 1274.6L560.6 1284.3zM585.4 1297.3L595 1287.4L587.4 1275.7L577.8 1285.6zM629.4 1292.6L639 1282.4L631.4 1269.7L621.8 1279.7zM646.7 1296L656.3 1285.7L648.6 1272.3L639 1282.4zM690.7 1293.6L700.3 1282.9L692.6 1268.4L683.1 1278.9z"/>
<path fill="#00e7ff" stroke="#00e7ff" d="M369.3 1256.5L378.9 1247.8L371.3 1244.1L361.7 1252.7zM361.7 1252.7L371.3 1244.1L363.6 1240.6L354 1249.1zM354 1249.1L363.6 1240.6L356 1237.2L346.4 1245.6zM346.4 1245.6L356 1237.2L348.3 1234L338.8 1242.3zM338.8 1242.3L348.3 1234L340.7 1230.8L331.1 1239.1zM331.1 1239.1L340.7 1230.8L333.1 1227.7L323.5 1235.9zM323.5 1235.9L333.1 1227.7L325.4 1224.7L315.8 1232.7zM315.8 1232.7L325.4 1224.7L317.8 1221.6L308.2 1229.6zM308.2 1229.6L317.8 1221.6L310.2 1218.6L300.6 1226.6zM417.1 1271L426.7 1261.9L419 1256.6L409.5 1265.6zM409.5 1265.6L419 1256.6L411.4 1251.7L401.8 1260.7zM401.8 1260.7L411.4 1251.7L403.8 1247.2L394.2 1256.1zM394.2 1256.1L403.8 1247.2L396.1 1243.1L386.5 1251.8zM386.5 1251.8L396.1 1243.1L388.5 1239.2L378.9 1247.8zM333.1 1227.7L342.7 1219.6L335 1216.6L325.4 1224.7zM325.4 1224.7L335 1216.6L327.4 1213.6L317.8 1221.6zM317.8 1221.6L327.4 1213.6L319.7 1210.7L310.2 1218.6zM310.2 1218.6L319.7 1210.7L312.1 1207.9L302.5 1215.7zM302.5 1215.7L312.1 1207.9L304.5 1205.1L294.9 1212.8zM294.9 1212.8L304.5 1205.1L296.8 1202.3L287.2 1210zM287.2 1210L296.8 1202.3L289.2 1199.6L279.6 1207.2zM279.6 1207.2L289.2 1199.6L281.5 1196.9L272 1204.4zM272 1204.4L281.5 1196.9L273.9 1194.2L264.3 1201.7zM264.3 1201.7L273.9 1194.2L266.3 1191.6L256.7 1199zM256.7 1199L266.3 1191.6L258.6 1189.1L249 1196.4zM249 1196.4L258.6 1189.1L251 1186.6L241.4 1193.8zM442 1273.7L451.5 1264.5L443.9 1258.4L434.3 1267.6zM434.3 1267.6L443.9 1258.4L436.3 1252.8L426.7 1261.9zM266.3 1191.6L275.8 1184.3L268.2 1181.8L258.6 1189.1zM258.6 1189.1L268.2 1181.8L260.6 1179.3L251 1186.6zM251 1186.6L260.6 1179.3L252.9 1176.9L243.3 1184.1zM243.3 1184.1L252.9 1176.9L245.3 1174.6L235.7 1181.7zM235.7 1181.7L245.3 1174.6L237.6 1172.3L228.1 1179.3zM228.1 1179.3L237.6 1172.3L230 1170L220.4 1177zM220.4 1177L230 1170L222.4 1167.7L212.8 1174.7zM466.8 1278.2L476.4 1268.8L468.8 1261.8L459.2 1271.1zM459.2 1271.1L468.8 1261.8L461.1 1255.3L451.5 1264.5zM237.6 1172.3L247.2 1165.2L239.6 1162.9L230 1170zM230 1170L239.6 1162.9L231.9 1160.7L222.4 1167.7zM222.4 1167.7L231.9 1160.7L224.3 1158.6L214.7 1165.5zM484 1276.4L493.6 1267L486 1259.5L476.4 1268.8zM508.9 1283.7L518.5 1274.2L510.8 1265.6L501.3 1275zM526.1 1283.4L535.7 1273.8L528.1 1264.6L518.5 1274.2zM543.3 1283.6L552.9 1273.9L545.3 1264.2L535.7 1273.8zM560.6 1284.3L570.1 1274.6L562.5 1264.3L552.9 1273.9zM577.8 1285.6L587.4 1275.7L579.7 1264.9L570.1 1274.6zM595 1287.4L604.6 1277.4L596.9 1266L587.4 1275.7zM612.2 1289.7L621.8 1279.7L614.2 1267.6L604.6 1277.4zM639 1282.4L648.6 1272.3L641 1259.7L631.4 1269.7zM656.3 1285.7L665.8 1275.4L658.2 1262.2L648.6 1272.3zM673.5 1289.4L683.1 1278.9L675.4 1265.1L665.8 1275.4zM700.3 1282.9L709.9 1272.1L702.2 1257.9L692.6 1268.4z"/>
<path fill="#00f7ff" stroke="#00f7ff" d="M378.9 1247.8L388.5 1239.2L380.8 1235.5L371.3 1244.1zM371.3 1244.1L380.8 1235.5L373.2 1232.1L363.6 1240.6zM363.6 1240.6L373.2 1232.1L365.6 1228.8L356 1237.2zM356 1237.2L365.6 1228.8L357.9 1225.7L348.3 1234zM348.3 1234L357.9 1225.7L350.3 1222.6L340.7 1230.8zM340.7 1230.8L350.3 1222.6L342.7 1219.6L333.1 1227.7zM426.7 1261.9L436.3 1252.8L428.6 1247.6L419 1256.6zM419 1256.6L428.6 1247.6L421 1242.9L411.4 1251.7zM411.4 1251.7L421 1242.9L413.3 1238.4L403.8 1247.2zM403.8 1247.2L413.3 1238.4L405.7 1234.4L396.1 1243.1zM396.1 1243.1L405.7 1234.4L398.1 1230.5L388.5 1239.2zM388.5 1239.2L398.1 1230.5L390.4 1227L380.8 1235.5zM380.8 1235.5L390.4 1227L382.8 1223.6L373.2 1232.1zM373.2 1232.1L382.8 1223.6L375.1 1220.5L365.6 1228.8zM365.6 1228.8L375.1 1220.5L367.5 1217.4L357.9 1225.7zM357.9 1225.7L367.5 1217.4L359.9 1214.4L350.3 1222.6zM350.3 1222.6L359.9 1214.4L352.2 1211.4L342.7 1219.6zM342.7 1219.6L352.2 1211.4L344.6 1208.5L335 1216.6zM335 1216.6L344.6 1208.5L337 1205.7L327.4 1213.6zM327.4 1213.6L337 1205.7L329.3 1202.8L319.7 1210.7zM319.7 1210.7L329.3 1202.8L321.7 1200.1L312.1 1207.9zM312.1 1207.9L321.7 1200.1L314 1197.3L304.5 1205.1zM304.5 1205.1L314 1197.3L306.4 1194.6L296.8 1202.3zM296.8 1202.3L306.4 1194.6L298.8 1192L289.2 1199.6zM289.2 1199.6L298.8 1192L291.1 1189.4L281.5 1196.9zM281.5 1196.9L291.1 1189.4L283.5 1186.8L273.9 1194.2zM273.9 1194.2L283.5 1186.8L275.8 1184.3L266.3 1191.6zM451.5 1264.5L461.1 1255.3L453.5 1249.3L443.9 1258.4zM443.9 1258.4L453.5 1249.3L445.8 1243.8L436.3 1252.8zM291.1 1189.4L300.7 1181.8L293.1 1179.3L283.5 1186.8zM283.5 1186.8L293.1 1179.3L285.4 1176.9L275.8 1184.3zM275.8 1184.3L285.4 1176.9L277.8 1174.5L268.2 1181.8zM268.2 1181.8L277.8 1174.5L270.1 1172.1L260.6 1179.3zM260.6 1179.3L270.1 1172.1L262.5 1169.7L252.9 1176.9zM252.9 1176.9L262.5 1169.7L254.9 1167.4L245.3 1174.6zM245.3 1174.6L254.9 1167.4L247.2 1165.2L237.6 1172.3zM476.4 1268.8L486 1259.5L478.3 1252.6L468.8 1261.8zM468.8 1261.8L478.3 1252.6L470.7 1246.2L461.1 1255.3zM262.5 1169.7L272.1 1162.5L264.4 1160.2L254.9 1167.4zM254.9 1167.4L264.4 1160.2L256.8 1158L247.2 1165.2zM247.2 1165.2L256.8 1158L249.2 1155.8L239.6 1162.9zM239.6 1162.9L249.2 1155.8L241.5 1153.7L231.9 1160.7zM231.9 1160.7L241.5 1153.7L233.9 1151.5L224.3 1158.6zM501.3 1275L510.8 1265.6L503.2 1257.6L493.6 1267zM493.6 1267L503.2 1257.6L495.6 1250.2L486 1259.5zM241.5 1153.7L251.1 1146.5L243.5 1144.4L233.9 1151.5zM518.5 1274.2L528.1 1264.6L520.4 1256.2L510.8 1265.6zM535.7 1273.8L545.3 1264.2L537.6 1255.2L528.1 1264.6zM552.9 1273.9L562.5 1264.3L554.9 1254.7L545.3 1264.2zM570.1 1274.6L579.7 1264.9L572.1 1254.7L562.5 1264.3zM587.4 1275.7L596.9 1266L589.3 1255.2L579.7 1264.9zM604.6 1277.4L614.2 1267.6L606.5 1256.2L596.9 1266zM621.8 1279.7L631.4 1269.7L623.8 1257.7L614.2 1267.6zM665.8 1275.4L675.4 1265.1L667.8 1252.1L658.2 1262.2zM683.1 1278.9L692.6 1268.4L685 1254.8L675.4 1265.1z"/>
<path fill="#08fff7" stroke="#08fff7" d="M436.3 1252.8L445.8 1243.8L438.2 1238.7L428.6 1247.6zM428.6 1247.6L438.2 1238.7L430.6 1234L421 1242.9zM421 1242.9L430.6 1234L422.9 1229.7L413.3 1238.4zM413.3 1238.4L422.9 1229.7L415.3 1225.7L405.7 1234.4zM405.7 1234.4L415.3 1225.7L407.6 1222L398.1 1230.5zM398.1 1230.5L407.6 1222L400 1218.5L390.4 1227zM390.4 1227L400 1218.5L392.4 1215.2L382.8 1223.6zM382.8 1223.6L392.4 1215.2L384.7 1212.1L375.1 1220.5zM375.1 1220.5L384.7 1212.1L377.1 1209.1L367.5 1217.4zM367.5 1217.4L377.1 1209.1L369.5 1206.2L359.9 1214.4zM359.9 1214.4L369.5 1206.2L361.8 1203.3L352.2 1211.4zM352.2 1211.4L361.8 1203.3L354.2 1200.5L344.6 1208.5zM344.6 1208.5L354.2 1200.5L346.5 1197.7L337 1205.7zM337 1205.7L346.5 1197.7L338.9 1195L329.3 1202.8zM329.3 1202.8L338.9 1195L331.3 1192.3L321.7 1200.1zM321.7 1200.1L331.3 1192.3L323.6 1189.6L314 1197.3zM314 1197.3L323.6 1189.6L316 1187L306.4 1194.6zM306.4 1194.6L316 1187L308.3 1184.4L298.8 1192zM298.8 1192L308.3 1184.4L300.7 1181.8L291.1 1189.4zM461.1 1255.3L470.7 1246.2L463.1 1240.3L453.5 1249.3zM453.5 1249.3L463.1 1240.3L455.4 1234.9L445.8 1243.8zM316 1187L325.6 1179.3L317.9 1176.8L308.3 1184.4zM308.3 1184.4L317.9 1176.8L310.3 1174.3L300.7 1181.8zM300.7 1181.8L310.3 1174.3L302.6 1171.9L293.1 1179.3zM293.1 1179.3L302.6 1171.9L295 1169.5L285.4 1176.9zM285.4 1176.9L295 1169.5L287.4 1167.1L277.8 1174.5zM277.8 1174.5L287.4 1167.1L279.7 1164.8L270.1 1172.1zM270.1 1172.1L279.7 1164.8L272.1 1162.5L262.5 1169.7zM486 1259.5L495.6 1250.2L487.9 1243.4L478.3 1252.6zM478.3 1252.6L487.9 1243.4L480.3 1237.1L470.7 1246.2zM287.4 1167.1L296.9 1159.8L289.3 1157.5L279.7 1164.8zM279.7 1164.8L289.3 1157.5L281.7 1155.2L272.1 1162.5zM272.1 1162.5L281.7 1155.2L274 1153L264.4 1160.2zM264.4 1160.2L274 1153L266.4 1150.8L256.8 1158zM256.8 1158L266.4 1150.8L258.7 1148.7L249.2 1155.8zM249.2 1155.8L258.7 1148.7L251.1 1146.5L241.5 1153.7zM510.8 1265.6L520.4 1256.2L512.8 1248.3L503.2 1257.6zM503.2 1257.6L512.8 1248.3L505.1 1241L495.6 1250.2zM258.7 1148.7L268.3 1141.5L260.7 1139.3L251.1 1146.5zM251.1 1146.5L260.7 1139.3L253 1137.2L243.5 1144.4zM528.1 1264.6L537.6 1255.2L530 1246.8L520.4 1256.2zM545.3 1264.2L554.9 1254.7L547.2 1245.8L537.6 1255.2zM562.5 1264.3L572.1 1254.7L564.5 1245.3L554.9 1254.7zM579.7 1264.9L589.3 1255.2L581.7 1245.2L572.1 1254.7zM596.9 1266L606.5 1256.2L598.9 1245.6L589.3 1255.2zM614.2 1267.6L623.8 1257.7L616.1 1246.6L606.5 1256.2zM631.4 1269.7L641 1259.7L633.3 1248L623.8 1257.7zM648.6 1272.3L658.2 1262.2L650.6 1249.8L641 1259.7zM675.4 1265.1L685 1254.8L677.4 1242.1L667.8 1252.1zM692.6 1268.4L702.2 1257.9L694.6 1244.6L685 1254.8zM709.9 1272.1L719.4 1261.4L711.8 1247.5L702.2 1257.9z"/>
<path fill="#18ffe7" stroke="#18ffe7" d="M445.8 1243.8L455.4 1234.9L447.8 1229.9L438.2 1238.7zM438.2 1238.7L447.8 1229.9L440.1 1225.3L430.6 1234zM430.6 1234L440.1 1225.3L432.5 1221L422.9 1229.7zM422.9 1229.7L432.5 1221L424.9 1217.1L415.3 1225.7zM415.3 1225.7L424.9 1217.1L417.2 1213.4L407.6 1222zM407.6 1222L417.2 1213.4L409.6 1210.1L400 1218.5zM400 1218.5L409.6 1210.1L402 1206.9L392.4 1215.2zM392.4 1215.2L402 1206.9L394.3 1203.8L384.7 1212.1zM384.7 1212.1L394.3 1203.8L386.7 1200.9L377.1 1209.1zM377.1 1209.1L386.7 1200.9L379 1198.1L369.5 1206.2zM369.5 1206.2L379 1198.1L371.4 1195.3L361.8 1203.3zM361.8 1203.3L371.4 1195.3L363.8 1192.5L354.2 1200.5zM354.2 1200.5L363.8 1192.5L356.1 1189.8L346.5 1197.7zM346.5 1197.7L356.1 1189.8L348.5 1187.1L338.9 1195zM338.9 1195L348.5 1187.1L340.8 1184.5L331.3 1192.3zM331.3 1192.3L340.8 1184.5L333.2 1181.9L323.6 1189.6zM323.6 1189.6L333.2 1181.9L325.6 1179.3L316 1187zM470.7 1246.2L480.3 1237.1L472.6 1231.3L463.1 1240.3zM463.1 1240.3L472.6 1231.3L465 1226L455.4 1234.9zM340.8 1184.5L350.4 1176.7L342.8 1174.2L333.2 1181.9zM333.2 1181.9L342.8 1174.2L335.1 1171.7L325.6 1179.3zM325.6 1179.3L335.1 1171.7L327.5 1169.3L317.9 1176.8zM317.9 1176.8L327.5 1169.3L319.9 1166.8L310.3 1174.3zM310.3 1174.3L319.9 1166.8L312.2 1164.4L302.6 1171.9zM302.6 1171.9L312.2 1164.4L304.6 1162.1L295 1169.5zM295 1169.5L304.6 1162.1L296.9 1159.8L287.4 1167.1zM495.6 1250.2L505.1 1241L497.5 1234.3L487.9 1243.4zM487.9 1243.4L497.5 1234.3L489.9 1228.1L480.3 1237.1zM304.6 1162.1L314.2 1154.7L306.5 1152.4L296.9 1159.8zM296.9 1159.8L306.5 1152.4L298.9 1150.2L289.3 1157.5zM289.3 1157.5L298.9 1150.2L291.2 1148L281.7 1155.2zM281.7 1155.2L291.2 1148L283.6 1145.8L274 1153zM274 1153L283.6 1145.8L276 1143.6L266.4 1150.8zM266.4 1150.8L276 1143.6L268.3 1141.5L258.7 1148.7zM520.4 1256.2L530 1246.8L522.4 1239.1L512.8 1248.3zM512.8 1248.3L522.4 1239.1L514.7 1231.9L505.1 1241zM283.6 1145.8L293.2 1138.5L285.5 1136.3L276 1143.6zM276 1143.6L285.5 1136.3L277.9 1134.2L268.3 1141.5zM268.3 1141.5L277.9 1134.2L270.3 1132.1L260.7 1139.3zM260.7 1139.3L270.3 1132.1L262.6 1130L253 1137.2zM537.6 1255.2L547.2 1245.8L539.6 1237.5L530 1246.8zM554.9 1254.7L564.5 1245.3L556.8 1236.5L547.2 1245.8zM572.1 1254.7L581.7 1245.2L574 1235.9L564.5 1245.3zM589.3 1255.2L598.9 1245.6L591.3 1235.8L581.7 1245.2zM606.5 1256.2L616.1 1246.6L608.5 1236.1L598.9 1245.6zM623.8 1257.7L633.3 1248L625.7 1236.9L616.1 1246.6zM641 1259.7L650.6 1249.8L642.9 1238.2L633.3 1248zM658.2 1262.2L667.8 1252.1L660.1 1239.9L650.6 1249.8zM702.2 1257.9L711.8 1247.5L704.2 1234.4L694.6 1244.6zM719.4 1261.4L729 1250.6L721.4 1237L711.8 1247.5z"/>
<path fill="#28ffd7" stroke="#28ffd7" d="M455.4 1234.9L465 1226L457.4 1221.1L447.8 1229.9zM447.8 1229.9L457.4 1221.1L449.7 1216.6L440.1 1225.3zM440.1 1225.3L449.7 1216.6L442.1 1212.4L432.5 1221zM432.5 1221L442.1 1212.4L434.5 1208.6L424.9 1217.1zM424.9 1217.1L434.5 1208.6L426.8 1205L417.2 1213.4zM417.2 1213.4L426.8 1205L419.2 1201.7L409.6 1210.1zM409.6 1210.1L419.2 1201.7L411.5 1198.6L402 1206.9zM402 1206.9L411.5 1198.6L403.9 1195.6L394.3 1203.8zM394.3 1203.8L403.9 1195.6L396.3 1192.8L386.7 1200.9zM386.7 1200.9L396.3 1192.8L388.6 1190L379 1198.1zM379 1198.1L388.6 1190L381 1187.3L371.4 1195.3zM371.4 1195.3L381 1187.3L373.3 1184.6L363.8 1192.5zM363.8 1192.5L373.3 1184.6L365.7 1181.9L356.1 1189.8zM356.1 1189.8L365.7 1181.9L358.1 1179.3L348.5 1187.1zM348.5 1187.1L358.1 1179.3L350.4 1176.7L340.8 1184.5zM480.3 1237.1L489.9 1228.1L482.2 1222.4L472.6 1231.3zM472.6 1231.3L482.2 1222.4L474.6 1217.2L465 1226zM358.1 1179.3L367.6 1171.5L360 1169L350.4 1176.7zM350.4 1176.7L360 1169L352.4 1166.6L342.8 1174.2zM342.8 1174.2L352.4 1166.6L344.7 1164.1L335.1 1171.7zM335.1 1171.7L344.7 1164.1L337.1 1161.7L327.5 1169.3zM327.5 1169.3L337.1 1161.7L329.4 1159.3L319.9 1166.8zM319.9 1166.8L329.4 1159.3L321.8 1157L312.2 1164.4zM312.2 1164.4L321.8 1157L314.2 1154.7L304.6 1162.1zM505.1 1241L514.7 1231.9L507.1 1225.3L497.5 1234.3zM497.5 1234.3L507.1 1225.3L499.5 1219.2L489.9 1228.1zM329.4 1159.3L339 1151.9L331.4 1149.6L321.8 1157zM321.8 1157L331.4 1149.6L323.7 1147.3L314.2 1154.7zM314.2 1154.7L323.7 1147.3L316.1 1145.1L306.5 1152.4zM306.5 1152.4L316.1 1145.1L308.5 1142.9L298.9 1150.2zM298.9 1150.2L308.5 1142.9L300.8 1140.7L291.2 1148zM291.2 1148L300.8 1140.7L293.2 1138.5L283.6 1145.8zM530 1246.8L539.6 1237.5L532 1229.9L522.4 1239.1zM522.4 1239.1L532 1229.9L524.3 1222.8L514.7 1231.9zM300.8 1140.7L310.4 1133.3L302.8 1131.2L293.2 1138.5zM293.2 1138.5L302.8 1131.2L295.1 1129L285.5 1136.3zM285.5 1136.3L295.1 1129L287.5 1126.9L277.9 1134.2zM277.9 1134.2L287.5 1126.9L279.8 1124.8L270.3 1132.1zM270.3 1132.1L279.8 1124.8L272.2 1122.6L262.6 1130zM547.2 1245.8L556.8 1236.5L549.2 1228.3L539.6 1237.5zM279.8 1124.8L289.4 1117.4L281.8 1115.2L272.2 1122.6zM564.5 1245.3L574 1235.9L566.4 1227.2L556.8 1236.5zM581.7 1245.2L591.3 1235.8L583.6 1226.6L574 1235.9zM598.9 1245.6L608.5 1236.1L600.8 1226.4L591.3 1235.8zM616.1 1246.6L625.7 1236.9L618.1 1226.7L608.5 1236.1zM633.3 1248L642.9 1238.2L635.3 1227.4L625.7 1236.9zM650.6 1249.8L660.1 1239.9L652.5 1228.6L642.9 1238.2zM667.8 1252.1L677.4 1242.1L669.7 1230.1L660.1 1239.9zM685 1254.8L694.6 1244.6L686.9 1232.1L677.4 1242.1zM729 1250.6L738.6 1239.9L731 1226.6L721.4 1237z"/>
<path fill="#38ffc7" stroke="#38ffc7" d="M465 1226L474.6 1217.2L467 1212.4L457.4 1221.1zM457.4 1221.1L467 1212.4L459.3 1207.9L449.7 1216.6zM449.7 1216.6L459.3 1207.9L451.7 1203.8L442.1 1212.4zM442.1 1212.4L451.7 1203.8L444 1200.1L434.5 1208.6zM434.5 1208.6L444 1200.1L436.4 1196.6L426.8 1205zM426.8 1205L436.4 1196.6L428.8 1193.4L419.2 1201.7zM419.2 1201.7L428.8 1193.4L421.1 1190.3L411.5 1198.6zM411.5 1198.6L421.1 1190.3L413.5 1187.4L403.9 1195.6zM403.9 1195.6L413.5 1187.4L405.8 1184.7L396.3 1192.8zM396.3 1192.8L405.8 1184.7L398.2 1182L388.6 1190zM388.6 1190L398.2 1182L390.6 1179.3L381 1187.3zM381 1187.3L390.6 1179.3L382.9 1176.7L373.3 1184.6zM373.3 1184.6L382.9 1176.7L375.3 1174.1L365.7 1181.9zM365.7 1181.9L375.3 1174.1L367.6 1171.5L358.1 1179.3zM489.9 1228.1L499.5 1219.2L491.8 1213.6L482.2 1222.4zM482.2 1222.4L491.8 1213.6L484.2 1208.4L474.6 1217.2zM474.6 1217.2L484.2 1208.4L476.5 1203.7L467 1212.4zM382.9 1176.7L392.5 1168.8L384.9 1166.3L375.3 1174.1zM375.3 1174.1L384.9 1166.3L377.2 1163.8L367.6 1171.5zM367.6 1171.5L377.2 1163.8L369.6 1161.4L360 1169zM360 1169L369.6 1161.4L361.9 1158.9L352.4 1166.6zM352.4 1166.6L361.9 1158.9L354.3 1156.6L344.7 1164.1zM344.7 1164.1L354.3 1156.6L346.7 1154.2L337.1 1161.7zM337.1 1161.7L346.7 1154.2L339 1151.9L329.4 1159.3zM514.7 1231.9L524.3 1222.8L516.7 1216.3L507.1 1225.3zM507.1 1225.3L516.7 1216.3L509 1210.3L499.5 1219.2zM346.7 1154.2L356.2 1146.7L348.6 1144.4L339 1151.9zM339 1151.9L348.6 1144.4L341 1142.2L331.4 1149.6zM331.4 1149.6L341 1142.2L333.3 1139.9L323.7 1147.3zM323.7 1147.3L333.3 1139.9L325.7 1137.7L316.1 1145.1zM316.1 1145.1L325.7 1137.7L318 1135.5L308.5 1142.9zM308.5 1142.9L318 1135.5L310.4 1133.3L300.8 1140.7zM539.6 1237.5L549.2 1228.3L541.5 1220.8L532 1229.9zM532 1229.9L541.5 1220.8L533.9 1213.9L524.3 1222.8zM325.7 1137.7L335.3 1130.4L327.6 1128.2L318 1135.5zM318 1135.5L327.6 1128.2L320 1126L310.4 1133.3zM310.4 1133.3L320 1126L312.3 1123.8L302.8 1131.2zM302.8 1131.2L312.3 1123.8L304.7 1121.7L295.1 1129zM295.1 1129L304.7 1121.7L297.1 1119.5L287.5 1126.9zM287.5 1126.9L297.1 1119.5L289.4 1117.4L279.8 1124.8zM556.8 1236.5L566.4 1227.2L558.8 1219.2L549.2 1228.3zM304.7 1121.7L314.3 1114.3L306.6 1112.1L297.1 1119.5zM297.1 1119.5L306.6 1112.1L299 1109.9L289.4 1117.4zM289.4 1117.4L299 1109.9L291.4 1107.7L281.8 1115.2zM574 1235.9L583.6 1226.6L576 1218.1L566.4 1227.2zM591.3 1235.8L600.8 1226.4L593.2 1217.4L583.6 1226.6zM608.5 1236.1L618.1 1226.7L610.4 1217.1L600.8 1226.4zM625.7 1236.9L635.3 1227.4L627.6 1217.3L618.1 1226.7zM642.9 1238.2L652.5 1228.6L644.9 1217.9L635.3 1227.4zM660.1 1239.9L669.7 1230.1L662.1 1218.9L652.5 1228.6zM677.4 1242.1L686.9 1232.1L679.3 1220.4L669.7 1230.1zM694.6 1244.6L704.2 1234.4L696.5 1222.1L686.9 1232.1zM711.8 1247.5L721.4 1237L713.7 1224.2L704.2 1234.4zM738.6 1239.9L748.2 1229.2L740.5 1216.2L731 1226.6z"/>
<path fill="#48ffb7" stroke="#48ffb7" d="M467 1212.4L476.5 1203.7L468.9 1199.4L459.3 1207.9zM459.3 1207.9L468.9 1199.4L461.3 1195.4L451.7 1203.8zM451.7 1203.8L461.3 1195.4L453.6 1191.7L444 1200.1zM444 1200.1L453.6 1191.7L446 1188.3L436.4 1196.6zM436.4 1196.6L446 1188.3L438.3 1185.1L428.8 1193.4zM428.8 1193.4L438.3 1185.1L430.7 1182.2L421.1 1190.3zM421.1 1190.3L430.7 1182.2L423.1 1179.3L413.5 1187.4zM413.5 1187.4L423.1 1179.3L415.4 1176.6L405.8 1184.7zM405.8 1184.7L415.4 1176.6L407.8 1174L398.2 1182zM398.2 1182L407.8 1174L400.1 1171.4L390.6 1179.3zM390.6 1179.3L400.1 1171.4L392.5 1168.8L382.9 1176.7zM499.5 1219.2L509 1210.3L501.4 1204.8L491.8 1213.6zM491.8 1213.6L501.4 1204.8L493.8 1199.8L484.2 1208.4zM484.2 1208.4L493.8 1199.8L486.1 1195.1L476.5 1203.7zM400.1 1171.4L409.7 1163.6L402.1 1161.1L392.5 1168.8zM392.5 1168.8L402.1 1161.1L394.4 1158.6L384.9 1166.3zM384.9 1166.3L394.4 1158.6L386.8 1156.2L377.2 1163.8zM377.2 1163.8L386.8 1156.2L379.2 1153.8L369.6 1161.4zM369.6 1161.4L379.2 1153.8L371.5 1151.4L361.9 1158.9zM361.9 1158.9L371.5 1151.4L363.9 1149L354.3 1156.6zM354.3 1156.6L363.9 1149L356.2 1146.7L346.7 1154.2zM524.3 1222.8L533.9 1213.9L526.3 1207.5L516.7 1216.3zM516.7 1216.3L526.3 1207.5L518.6 1201.6L509 1210.3zM371.5 1151.4L381.1 1143.9L373.5 1141.6L363.9 1149zM363.9 1149L373.5 1141.6L365.8 1139.3L356.2 1146.7zM356.2 1146.7L365.8 1139.3L358.2 1137L348.6 1144.4zM348.6 1144.4L358.2 1137L350.5 1134.8L341 1142.2zM341 1142.2L350.5 1134.8L342.9 1132.6L333.3 1139.9zM333.3 1139.9L342.9 1132.6L335.3 1130.4L325.7 1137.7zM549.2 1228.3L558.8 1219.2L551.1 1211.8L541.5 1220.8zM541.5 1220.8L551.1 1211.8L543.5 1205L533.9 1213.9zM342.9 1132.6L352.5 1125.3L344.8 1123.1L335.3 1130.4zM335.3 1130.4L344.8 1123.1L337.2 1120.9L327.6 1128.2zM327.6 1128.2L337.2 1120.9L329.6 1118.7L320 1126zM320 1126L329.6 1118.7L321.9 1116.5L312.3 1123.8zM312.3 1123.8L321.9 1116.5L314.3 1114.3L304.7 1121.7zM566.4 1227.2L576 1218.1L568.3 1210.2L558.8 1219.2zM321.9 1116.5L331.5 1109.1L323.9 1106.9L314.3 1114.3zM314.3 1114.3L323.9 1106.9L316.2 1104.7L306.6 1112.1zM306.6 1112.1L316.2 1104.7L308.6 1102.4L299 1109.9zM299 1109.9L308.6 1102.4L300.9 1100.1L291.4 1107.7zM583.6 1226.6L593.2 1217.4L585.6 1209L576 1218.1zM600.8 1226.4L610.4 1217.1L602.8 1208.2L593.2 1217.4zM669.7 1230.1L679.3 1220.4L671.7 1209.4L662.1 1218.9zM686.9 1232.1L696.5 1222.1L688.9 1210.6L679.3 1220.4zM704.2 1234.4L713.7 1224.2L706.1 1212.2L696.5 1222.1zM721.4 1237L731 1226.6L723.3 1214.1L713.7 1224.2z"/>
<path fill="#58ffa7" stroke="#58ffa7" d="M476.5 1203.7L486.1 1195.1L478.5 1190.9L468.9 1199.4zM468.9 1199.4L478.5 1190.9L470.8 1187L461.3 1195.4zM461.3 1195.4L470.8 1187L463.2 1183.4L453.6 1191.7zM453.6 1191.7L463.2 1183.4L455.6 1180.1L446 1188.3zM446 1188.3L455.6 1180.1L447.9 1177L438.3 1185.1zM438.3 1185.1L447.9 1177L440.3 1174.1L430.7 1182.2zM430.7 1182.2L440.3 1174.1L432.6 1171.3L423.1 1179.3zM423.1 1179.3L432.6 1171.3L425 1168.7L415.4 1176.6zM415.4 1176.6L425 1168.7L417.4 1166.1L407.8 1174zM407.8 1174L417.4 1166.1L409.7 1163.6L400.1 1171.4zM509 1210.3L518.6 1201.6L511 1196.2L501.4 1204.8zM501.4 1204.8L511 1196.2L503.3 1191.2L493.8 1199.8zM493.8 1199.8L503.3 1191.2L495.7 1186.7L486.1 1195.1zM425 1168.7L434.6 1160.8L426.9 1158.3L417.4 1166.1zM417.4 1166.1L426.9 1158.3L419.3 1155.8L409.7 1163.6zM409.7 1163.6L419.3 1155.8L411.7 1153.4L402.1 1161.1zM402.1 1161.1L411.7 1153.4L404 1150.9L394.4 1158.6zM394.4 1158.6L404 1150.9L396.4 1148.5L386.8 1156.2zM386.8 1156.2L396.4 1148.5L388.7 1146.2L379.2 1153.8zM379.2 1153.8L388.7 1146.2L381.1 1143.9L371.5 1151.4zM533.9 1213.9L543.5 1205L535.8 1198.7L526.3 1207.5zM526.3 1207.5L535.8 1198.7L528.2 1192.9L518.6 1201.6zM388.7 1146.2L398.3 1138.7L390.7 1136.4L381.1 1143.9zM381.1 1143.9L390.7 1136.4L383 1134.1L373.5 1141.6zM373.5 1141.6L383 1134.1L375.4 1131.9L365.8 1139.3zM365.8 1139.3L375.4 1131.9L367.8 1129.7L358.2 1137zM358.2 1137L367.8 1129.7L360.1 1127.5L350.5 1134.8zM350.5 1134.8L360.1 1127.5L352.5 1125.3L342.9 1132.6zM558.8 1219.2L568.3 1210.2L560.7 1202.9L551.1 1211.8zM551.1 1211.8L560.7 1202.9L553.1 1196.2L543.5 1205zM367.8 1129.7L377.3 1122.3L369.7 1120.1L360.1 1127.5zM360.1 1127.5L369.7 1120.1L362.1 1117.9L352.5 1125.3zM352.5 1125.3L362.1 1117.9L354.4 1115.7L344.8 1123.1zM344.8 1123.1L354.4 1115.7L346.8 1113.5L337.2 1120.9zM337.2 1120.9L346.8 1113.5L339.1 1111.3L329.6 1118.7zM329.6 1118.7L339.1 1111.3L331.5 1109.1L321.9 1116.5zM576 1218.1L585.6 1209L577.9 1201.3L568.3 1210.2zM346.8 1113.5L356.4 1106.2L348.7 1104L339.1 1111.3zM339.1 1111.3L348.7 1104L341.1 1101.7L331.5 1109.1zM331.5 1109.1L341.1 1101.7L333.4 1099.5L323.9 1106.9zM323.9 1106.9L333.4 1099.5L325.8 1097.2L316.2 1104.7zM316.2 1104.7L325.8 1097.2L318.2 1094.8L308.6 1102.4zM308.6 1102.4L318.2 1094.8L310.5 1092.5L300.9 1100.1zM593.2 1217.4L602.8 1208.2L595.1 1200L585.6 1209zM318.2 1094.8L327.8 1087.2L320.1 1084.8L310.5 1092.5zM618.1 1226.7L627.6 1217.3L620 1207.9L610.4 1217.1zM610.4 1217.1L620 1207.9L612.4 1199.2L602.8 1208.2zM635.3 1227.4L644.9 1217.9L637.2 1208L627.6 1217.3zM652.5 1228.6L662.1 1218.9L654.4 1208.5L644.9 1217.9zM696.5 1222.1L706.1 1212.2L698.5 1201L688.9 1210.6zM713.7 1224.2L723.3 1214.1L715.7 1202.3L706.1 1212.2zM731 1226.6L740.5 1216.2L732.9 1204L723.3 1214.1zM748.2 1229.2L757.8 1218.4L750.1 1205.8L740.5 1216.2z"/>
<path fill="#68ff97" stroke="#68ff97" d="M486.1 1195.1L495.7 1186.7L488.1 1182.5L478.5 1190.9zM478.5 1190.9L488.1 1182.5L480.4 1178.7L470.8 1187zM470.8 1187L480.4 1178.7L472.8 1175.2L463.2 1183.4zM463.2 1183.4L472.8 1175.2L465.1 1171.9L455.6 1180.1zM455.6 1180.1L465.1 1171.9L457.5 1168.9L447.9 1177zM447.9 1177L457.5 1168.9L449.9 1166.1L440.3 1174.1zM440.3 1174.1L449.9 1166.1L442.2 1163.4L432.6 1171.3zM432.6 1171.3L442.2 1163.4L434.6 1160.8L425 1168.7zM518.6 1201.6L528.2 1192.9L520.6 1187.6L511 1196.2zM511 1196.2L520.6 1187.6L512.9 1182.8L503.3 1191.2zM503.3 1191.2L512.9 1182.8L505.3 1178.3L495.7 1186.7zM495.7 1186.7L505.3 1178.3L497.6 1174.2L488.1 1182.5zM442.2 1163.4L451.8 1155.5L444.2 1153L434.6 1160.8zM434.6 1160.8L444.2 1153L436.5 1150.6L426.9 1158.3zM426.9 1158.3L436.5 1150.6L428.9 1148.1L419.3 1155.8zM419.3 1155.8L428.9 1148.1L421.2 1145.7L411.7 1153.4zM411.7 1153.4L421.2 1145.7L413.6 1143.3L404 1150.9zM404 1150.9L413.6 1143.3L406 1141L396.4 1148.5zM396.4 1148.5L406 1141L398.3 1138.7L388.7 1146.2zM543.5 1205L553.1 1196.2L545.4 1190L535.8 1198.7zM535.8 1198.7L545.4 1190L537.8 1184.4L528.2 1192.9zM413.6 1143.3L423.2 1135.8L415.5 1133.5L406 1141zM406 1141L415.5 1133.5L407.9 1131.3L398.3 1138.7zM398.3 1138.7L407.9 1131.3L400.3 1129L390.7 1136.4zM390.7 1136.4L400.3 1129L392.6 1126.8L383 1134.1zM383 1134.1L392.6 1126.8L385 1124.6L375.4 1131.9zM375.4 1131.9L385 1124.6L377.3 1122.3L367.8 1129.7zM568.3 1210.2L577.9 1201.3L570.3 1194.1L560.7 1202.9zM560.7 1202.9L570.3 1194.1L562.6 1187.5L553.1 1196.2zM385 1124.6L394.6 1117.3L386.9 1115.1L377.3 1122.3zM377.3 1122.3L386.9 1115.1L379.3 1112.9L369.7 1120.1zM369.7 1120.1L379.3 1112.9L371.6 1110.7L362.1 1117.9zM362.1 1117.9L371.6 1110.7L364 1108.4L354.4 1115.7zM354.4 1115.7L364 1108.4L356.4 1106.2L346.8 1113.5zM585.6 1209L595.1 1200L587.5 1192.4L577.9 1201.3zM364 1108.4L373.6 1101.2L365.9 1098.9L356.4 1106.2zM356.4 1106.2L365.9 1098.9L358.3 1096.6L348.7 1104zM348.7 1104L358.3 1096.6L350.7 1094.3L341.1 1101.7zM341.1 1101.7L350.7 1094.3L343 1092L333.4 1099.5zM333.4 1099.5L343 1092L335.4 1089.6L325.8 1097.2zM325.8 1097.2L335.4 1089.6L327.8 1087.2L318.2 1094.8zM602.8 1208.2L612.4 1199.2L604.7 1191.1L595.1 1200zM343 1092L352.6 1084.5L345 1082L335.4 1089.6zM335.4 1089.6L345 1082L337.3 1079.5L327.8 1087.2zM327.8 1087.2L337.3 1079.5L329.7 1076.9L320.1 1084.8zM627.6 1217.3L637.2 1208L629.6 1198.8L620 1207.9zM644.9 1217.9L654.4 1208.5L646.8 1198.8L637.2 1208zM662.1 1218.9L671.7 1209.4L664 1199.1L654.4 1208.5zM679.3 1220.4L688.9 1210.6L681.2 1199.9L671.7 1209.4zM723.3 1214.1L732.9 1204L725.3 1192.5L715.7 1202.3zM740.5 1216.2L750.1 1205.8L742.5 1193.9L732.9 1204zM757.8 1218.4L767.3 1207.7L759.7 1195.4L750.1 1205.8z"/>
<path fill="#78ff87" stroke="#78ff87" d="M488.1 1182.5L497.6 1174.2L490 1170.5L480.4 1178.7zM480.4 1178.7L490 1170.5L482.4 1167L472.8 1175.2zM472.8 1175.2L482.4 1167L474.7 1163.9L465.1 1171.9zM465.1 1171.9L474.7 1163.9L467.1 1160.9L457.5 1168.9zM457.5 1168.9L467.1 1160.9L459.4 1158.1L449.9 1166.1zM449.9 1166.1L459.4 1158.1L451.8 1155.5L442.2 1163.4zM528.2 1192.9L537.8 1184.4L530.1 1179.2L520.6 1187.6zM520.6 1187.6L530.1 1179.2L522.5 1174.4L512.9 1182.8zM512.9 1182.8L522.5 1174.4L514.9 1170L505.3 1178.3zM505.3 1178.3L514.9 1170L507.2 1166L497.6 1174.2zM497.6 1174.2L507.2 1166L499.6 1162.4L490 1170.5zM467.1 1160.9L476.7 1153L469 1150.3L459.4 1158.1zM459.4 1158.1L469 1150.3L461.4 1147.8L451.8 1155.5zM451.8 1155.5L461.4 1147.8L453.7 1145.3L444.2 1153zM444.2 1153L453.7 1145.3L446.1 1142.9L436.5 1150.6zM436.5 1150.6L446.1 1142.9L438.5 1140.5L428.9 1148.1zM428.9 1148.1L438.5 1140.5L430.8 1138.2L421.2 1145.7zM421.2 1145.7L430.8 1138.2L423.2 1135.8L413.6 1143.3zM553.1 1196.2L562.6 1187.5L555 1181.5L545.4 1190zM545.4 1190L555 1181.5L547.4 1175.9L537.8 1184.4zM430.8 1138.2L440.4 1130.7L432.8 1128.4L423.2 1135.8zM423.2 1135.8L432.8 1128.4L425.1 1126.1L415.5 1133.5zM415.5 1133.5L425.1 1126.1L417.5 1123.9L407.9 1131.3zM407.9 1131.3L417.5 1123.9L409.8 1121.7L400.3 1129zM400.3 1129L409.8 1121.7L402.2 1119.5L392.6 1126.8zM392.6 1126.8L402.2 1119.5L394.6 1117.3L385 1124.6zM577.9 1201.3L587.5 1192.4L579.9 1185.4L570.3 1194.1zM570.3 1194.1L579.9 1185.4L572.2 1178.9L562.6 1187.5zM409.8 1121.7L419.4 1114.4L411.8 1112.2L402.2 1119.5zM402.2 1119.5L411.8 1112.2L404.1 1110L394.6 1117.3zM394.6 1117.3L404.1 1110L396.5 1107.8L386.9 1115.1zM386.9 1115.1L396.5 1107.8L388.9 1105.6L379.3 1112.9zM379.3 1112.9L388.9 1105.6L381.2 1103.4L371.6 1110.7zM371.6 1110.7L381.2 1103.4L373.6 1101.2L364 1108.4zM595.1 1200L604.7 1191.1L597.1 1183.6L587.5 1192.4zM388.9 1105.6L398.4 1098.4L390.8 1096.2L381.2 1103.4zM381.2 1103.4L390.8 1096.2L383.2 1093.9L373.6 1101.2zM373.6 1101.2L383.2 1093.9L375.5 1091.6L365.9 1098.9zM365.9 1098.9L375.5 1091.6L367.9 1089.3L358.3 1096.6zM358.3 1096.6L367.9 1089.3L360.3 1086.9L350.7 1094.3zM350.7 1094.3L360.3 1086.9L352.6 1084.5L343 1092zM620 1207.9L629.6 1198.8L621.9 1190.2L612.4 1199.2zM612.4 1199.2L621.9 1190.2L614.3 1182.3L604.7 1191.1zM360.3 1086.9L369.8 1079.5L362.2 1077L352.6 1084.5zM352.6 1084.5L362.2 1077L354.6 1074.4L345 1082zM345 1082L354.6 1074.4L346.9 1071.8L337.3 1079.5zM337.3 1079.5L346.9 1071.8L339.3 1069.1L329.7 1076.9zM637.2 1208L646.8 1198.8L639.2 1189.7L629.6 1198.8zM654.4 1208.5L664 1199.1L656.4 1189.6L646.8 1198.8zM671.7 1209.4L681.2 1199.9L673.6 1189.9L664 1199.1zM688.9 1210.6L698.5 1201L690.8 1190.5L681.2 1199.9zM706.1 1212.2L715.7 1202.3L708 1191.4L698.5 1201zM750.1 1205.8L759.7 1195.4L752.1 1183.8L742.5 1193.9zM767.3 1207.7L776.9 1197L769.3 1185L759.7 1195.4z"/>
<path fill="#87ff78" stroke="#87ff78" d="M490 1170.5L499.6 1162.4L491.9 1159L482.4 1167zM482.4 1167L491.9 1159L484.3 1155.9L474.7 1163.9zM474.7 1163.9L484.3 1155.9L476.7 1153L467.1 1160.9zM537.8 1184.4L547.4 1175.9L539.7 1170.8L530.1 1179.2zM530.1 1179.2L539.7 1170.8L532.1 1166.1L522.5 1174.4zM522.5 1174.4L532.1 1166.1L524.4 1161.9L514.9 1170zM514.9 1170L524.4 1161.9L516.8 1158L507.2 1166zM507.2 1166L516.8 1158L509.2 1154.4L499.6 1162.4zM499.6 1162.4L509.2 1154.4L501.5 1151.1L491.9 1159zM491.9 1159L501.5 1151.1L493.9 1148.1L484.3 1155.9zM484.3 1155.9L493.9 1148.1L486.2 1145.3L476.7 1153zM476.7 1153L486.2 1145.3L478.6 1142.6L469 1150.3zM469 1150.3L478.6 1142.6L471 1140.1L461.4 1147.8zM461.4 1147.8L471 1140.1L463.3 1137.7L453.7 1145.3zM453.7 1145.3L463.3 1137.7L455.7 1135.4L446.1 1142.9zM446.1 1142.9L455.7 1135.4L448 1133L438.5 1140.5zM438.5 1140.5L448 1133L440.4 1130.7L430.8 1138.2zM562.6 1187.5L572.2 1178.9L564.6 1173L555 1181.5zM555 1181.5L564.6 1173L556.9 1167.5L547.4 1175.9zM448 1133L457.6 1125.6L450 1123.3L440.4 1130.7zM440.4 1130.7L450 1123.3L442.3 1121.1L432.8 1128.4zM432.8 1128.4L442.3 1121.1L434.7 1118.8L425.1 1126.1zM425.1 1126.1L434.7 1118.8L427.1 1116.6L417.5 1123.9zM417.5 1123.9L427.1 1116.6L419.4 1114.4L409.8 1121.7zM587.5 1192.4L597.1 1183.6L589.4 1176.8L579.9 1185.4zM579.9 1185.4L589.4 1176.8L581.8 1170.4L572.2 1178.9zM427.1 1116.6L436.6 1109.4L429 1107.2L419.4 1114.4zM419.4 1114.4L429 1107.2L421.4 1105L411.8 1112.2zM411.8 1112.2L421.4 1105L413.7 1102.8L404.1 1110zM404.1 1110L413.7 1102.8L406.1 1100.6L396.5 1107.8zM396.5 1107.8L406.1 1100.6L398.4 1098.4L388.9 1105.6zM604.7 1191.1L614.3 1182.3L606.7 1175L597.1 1183.6zM406.1 1100.6L415.7 1093.5L408 1091.3L398.4 1098.4zM398.4 1098.4L408 1091.3L400.4 1089L390.8 1096.2zM390.8 1096.2L400.4 1089L392.8 1086.7L383.2 1093.9zM383.2 1093.9L392.8 1086.7L385.1 1084.3L375.5 1091.6zM375.5 1091.6L385.1 1084.3L377.5 1081.9L367.9 1089.3zM367.9 1089.3L377.5 1081.9L369.8 1079.5L360.3 1086.9zM629.6 1198.8L639.2 1189.7L631.5 1181.3L621.9 1190.2zM621.9 1190.2L631.5 1181.3L623.9 1173.6L614.3 1182.3zM385.1 1084.3L394.7 1077.1L387.1 1074.6L377.5 1081.9zM377.5 1081.9L387.1 1074.6L379.4 1072.1L369.8 1079.5zM369.8 1079.5L379.4 1072.1L371.8 1069.4L362.2 1077zM362.2 1077L371.8 1069.4L364.1 1066.7L354.6 1074.4zM354.6 1074.4L364.1 1066.7L356.5 1064L346.9 1071.8zM346.9 1071.8L356.5 1064L348.9 1061.1L339.3 1069.1zM646.8 1198.8L656.4 1189.6L648.7 1180.8L639.2 1189.7zM664 1199.1L673.6 1189.9L666 1180.5L656.4 1189.6zM681.2 1199.9L690.8 1190.5L683.2 1180.7L673.6 1189.9zM698.5 1201L708 1191.4L700.4 1181.1L690.8 1190.5zM715.7 1202.3L725.3 1192.5L717.6 1181.8L708 1191.4zM732.9 1204L742.5 1193.9L734.8 1182.7L725.3 1192.5zM776.9 1197L786.5 1186.2L778.9 1174.7L769.3 1185z"/>
<path fill="#97ff68" stroke="#97ff68" d="M547.4 1175.9L556.9 1167.5L549.3 1162.5L539.7 1170.8zM539.7 1170.8L549.3 1162.5L541.7 1158L532.1 1166.1zM532.1 1166.1L541.7 1158L534 1153.8L524.4 1161.9zM524.4 1161.9L534 1153.8L526.4 1150L516.8 1158zM516.8 1158L526.4 1150L518.7 1146.5L509.2 1154.4zM509.2 1154.4L518.7 1146.5L511.1 1143.3L501.5 1151.1zM501.5 1151.1L511.1 1143.3L503.5 1140.3L493.9 1148.1zM493.9 1148.1L503.5 1140.3L495.8 1137.6L486.2 1145.3zM486.2 1145.3L495.8 1137.6L488.2 1135L478.6 1142.6zM478.6 1142.6L488.2 1135L480.5 1132.6L471 1140.1zM471 1140.1L480.5 1132.6L472.9 1130.2L463.3 1137.7zM463.3 1137.7L472.9 1130.2L465.3 1127.9L455.7 1135.4zM455.7 1135.4L465.3 1127.9L457.6 1125.6L448 1133zM572.2 1178.9L581.8 1170.4L574.2 1164.6L564.6 1173zM564.6 1173L574.2 1164.6L566.5 1159.3L556.9 1167.5zM556.9 1167.5L566.5 1159.3L558.9 1154.4L549.3 1162.5zM472.9 1130.2L482.5 1122.8L474.8 1120.5L465.3 1127.9zM465.3 1127.9L474.8 1120.5L467.2 1118.3L457.6 1125.6zM457.6 1125.6L467.2 1118.3L459.6 1116L450 1123.3zM450 1123.3L459.6 1116L451.9 1113.8L442.3 1121.1zM442.3 1121.1L451.9 1113.8L444.3 1111.6L434.7 1118.8zM434.7 1118.8L444.3 1111.6L436.6 1109.4L427.1 1116.6zM597.1 1183.6L606.7 1175L599 1168.2L589.4 1176.8zM589.4 1176.8L599 1168.2L591.4 1162.1L581.8 1170.4zM451.9 1113.8L461.5 1106.6L453.9 1104.5L444.3 1111.6zM444.3 1111.6L453.9 1104.5L446.2 1102.3L436.6 1109.4zM436.6 1109.4L446.2 1102.3L438.6 1100.1L429 1107.2zM429 1107.2L438.6 1100.1L430.9 1097.9L421.4 1105zM421.4 1105L430.9 1097.9L423.3 1095.7L413.7 1102.8zM413.7 1102.8L423.3 1095.7L415.7 1093.5L406.1 1100.6zM614.3 1182.3L623.9 1173.6L616.2 1166.4L606.7 1175zM430.9 1097.9L440.5 1090.9L432.9 1088.7L423.3 1095.7zM423.3 1095.7L432.9 1088.7L425.2 1086.5L415.7 1093.5zM415.7 1093.5L425.2 1086.5L417.6 1084.2L408 1091.3zM408 1091.3L417.6 1084.2L410 1081.9L400.4 1089zM400.4 1089L410 1081.9L402.3 1079.5L392.8 1086.7zM392.8 1086.7L402.3 1079.5L394.7 1077.1L385.1 1084.3zM639.2 1189.7L648.7 1180.8L641.1 1172.6L631.5 1181.3zM631.5 1181.3L641.1 1172.6L633.5 1165L623.9 1173.6zM410 1081.9L419.6 1074.8L411.9 1072.3L402.3 1079.5zM402.3 1079.5L411.9 1072.3L404.3 1069.9L394.7 1077.1zM394.7 1077.1L404.3 1069.9L396.6 1067.3L387.1 1074.6zM387.1 1074.6L396.6 1067.3L389 1064.6L379.4 1072.1zM379.4 1072.1L389 1064.6L381.4 1061.9L371.8 1069.4zM371.8 1069.4L381.4 1061.9L373.7 1059L364.1 1066.7zM364.1 1066.7L373.7 1059L366.1 1056.1L356.5 1064zM356.5 1064L366.1 1056.1L358.4 1053.1L348.9 1061.1zM656.4 1189.6L666 1180.5L658.3 1171.9L648.7 1180.8zM373.7 1059L383.3 1051.3L375.7 1048.2L366.1 1056.1zM366.1 1056.1L375.7 1048.2L368 1044.9L358.4 1053.1zM673.6 1189.9L683.2 1180.7L675.5 1171.6L666 1180.5zM690.8 1190.5L700.4 1181.1L692.8 1171.5L683.2 1180.7zM708 1191.4L717.6 1181.8L710 1171.8L700.4 1181.1zM725.3 1192.5L734.8 1182.7L727.2 1172.3L717.6 1181.8zM742.5 1193.9L752.1 1183.8L744.4 1173L734.8 1182.7zM759.7 1195.4L769.3 1185L761.6 1173.8L752.1 1183.8z"/>
<path fill="#a7ff58" stroke="#a7ff58" d="M549.3 1162.5L558.9 1154.4L551.2 1150L541.7 1158zM541.7 1158L551.2 1150L543.6 1145.9L534 1153.8zM534 1153.8L543.6 1145.9L536 1142.2L526.4 1150zM526.4 1150L536 1142.2L528.3 1138.7L518.7 1146.5zM518.7 1146.5L528.3 1138.7L520.7 1135.6L511.1 1143.3zM511.1 1143.3L520.7 1135.6L513 1132.7L503.5 1140.3zM503.5 1140.3L513 1132.7L505.4 1130L495.8 1137.6zM495.8 1137.6L505.4 1130L497.8 1127.5L488.2 1135zM488.2 1135L497.8 1127.5L490.1 1125.1L480.5 1132.6zM480.5 1132.6L490.1 1125.1L482.5 1122.8L472.9 1130.2zM581.8 1170.4L591.4 1162.1L583.7 1156.4L574.2 1164.6zM574.2 1164.6L583.7 1156.4L576.1 1151.2L566.5 1159.3zM566.5 1159.3L576.1 1151.2L568.5 1146.4L558.9 1154.4zM497.8 1127.5L507.3 1120.1L499.7 1117.8L490.1 1125.1zM490.1 1125.1L499.7 1117.8L492.1 1115.5L482.5 1122.8zM482.5 1122.8L492.1 1115.5L484.4 1113.3L474.8 1120.5zM474.8 1120.5L484.4 1113.3L476.8 1111.1L467.2 1118.3zM467.2 1118.3L476.8 1111.1L469.1 1108.8L459.6 1116zM459.6 1116L469.1 1108.8L461.5 1106.6L451.9 1113.8zM606.7 1175L616.2 1166.4L608.6 1159.8L599 1168.2zM599 1168.2L608.6 1159.8L601 1153.8L591.4 1162.1zM469.1 1108.8L478.7 1101.7L471.1 1099.6L461.5 1106.6zM461.5 1106.6L471.1 1099.6L463.4 1097.4L453.9 1104.5zM453.9 1104.5L463.4 1097.4L455.8 1095.2L446.2 1102.3zM446.2 1102.3L455.8 1095.2L448.2 1093.1L438.6 1100.1zM438.6 1100.1L448.2 1093.1L440.5 1090.9L430.9 1097.9zM623.9 1173.6L633.5 1165L625.8 1158L616.2 1166.4zM448.2 1093.1L457.7 1086.1L450.1 1083.9L440.5 1090.9zM440.5 1090.9L450.1 1083.9L442.5 1081.7L432.9 1088.7zM432.9 1088.7L442.5 1081.7L434.8 1079.5L425.2 1086.5zM425.2 1086.5L434.8 1079.5L427.2 1077.1L417.6 1084.2zM417.6 1084.2L427.2 1077.1L419.6 1074.8L410 1081.9zM648.7 1180.8L658.3 1171.9L650.7 1163.9L641.1 1172.6zM641.1 1172.6L650.7 1163.9L643 1156.5L633.5 1165zM434.8 1079.5L444.4 1072.5L436.8 1070.2L427.2 1077.1zM427.2 1077.1L436.8 1070.2L429.1 1067.7L419.6 1074.8zM419.6 1074.8L429.1 1067.7L421.5 1065.2L411.9 1072.3zM411.9 1072.3L421.5 1065.2L413.9 1062.6L404.3 1069.9zM404.3 1069.9L413.9 1062.6L406.2 1060L396.6 1067.3zM396.6 1067.3L406.2 1060L398.6 1057.2L389 1064.6zM389 1064.6L398.6 1057.2L390.9 1054.3L381.4 1061.9zM381.4 1061.9L390.9 1054.3L383.3 1051.3L373.7 1059zM666 1180.5L675.5 1171.6L667.9 1163.1L658.3 1171.9zM658.3 1171.9L667.9 1163.1L660.3 1155.3L650.7 1163.9zM406.2 1060L415.8 1052.6L408.2 1049.7L398.6 1057.2zM398.6 1057.2L408.2 1049.7L400.5 1046.7L390.9 1054.3zM390.9 1054.3L400.5 1046.7L392.9 1043.5L383.3 1051.3zM383.3 1051.3L392.9 1043.5L385.2 1040.2L375.7 1048.2zM375.7 1048.2L385.2 1040.2L377.6 1036.7L368 1044.9zM683.2 1180.7L692.8 1171.5L685.1 1162.7L675.5 1171.6zM700.4 1181.1L710 1171.8L702.3 1162.5L692.8 1171.5zM717.6 1181.8L727.2 1172.3L719.6 1162.6L710 1171.8zM734.8 1182.7L744.4 1173L736.8 1162.9L727.2 1172.3zM752.1 1183.8L761.6 1173.8L754 1163.3L744.4 1173zM769.3 1185L778.9 1174.7L771.2 1163.8L761.6 1173.8zM786.5 1186.2L796.1 1175.5L788.4 1164.3L778.9 1174.7z"/>
<path fill="#b7ff48" stroke="#b7ff48" d="M558.9 1154.4L568.5 1146.4L560.8 1142L551.2 1150zM551.2 1150L560.8 1142L553.2 1138.1L543.6 1145.9zM543.6 1145.9L553.2 1138.1L545.5 1134.4L536 1142.2zM536 1142.2L545.5 1134.4L537.9 1131.1L528.3 1138.7zM528.3 1138.7L537.9 1131.1L530.3 1128.1L520.7 1135.6zM520.7 1135.6L530.3 1128.1L522.6 1125.2L513 1132.7zM513 1132.7L522.6 1125.2L515 1122.6L505.4 1130zM505.4 1130L515 1122.6L507.3 1120.1L497.8 1127.5zM591.4 1162.1L601 1153.8L593.3 1148.2L583.7 1156.4zM583.7 1156.4L593.3 1148.2L585.7 1143.2L576.1 1151.2zM576.1 1151.2L585.7 1143.2L578 1138.5L568.5 1146.4zM568.5 1146.4L578 1138.5L570.4 1134.3L560.8 1142zM515 1122.6L524.6 1115.3L516.9 1112.9L507.3 1120.1zM507.3 1120.1L516.9 1112.9L509.3 1110.6L499.7 1117.8zM499.7 1117.8L509.3 1110.6L501.6 1108.4L492.1 1115.5zM492.1 1115.5L501.6 1108.4L494 1106.2L484.4 1113.3zM484.4 1113.3L494 1106.2L486.4 1103.9L476.8 1111.1zM476.8 1111.1L486.4 1103.9L478.7 1101.7L469.1 1108.8zM616.2 1166.4L625.8 1158L618.2 1151.6L608.6 1159.8zM608.6 1159.8L618.2 1151.6L610.5 1145.6L601 1153.8zM601 1153.8L610.5 1145.6L602.9 1140.2L593.3 1148.2zM494 1106.2L503.6 1099.1L495.9 1097L486.4 1103.9zM486.4 1103.9L495.9 1097L488.3 1094.8L478.7 1101.7zM478.7 1101.7L488.3 1094.8L480.7 1092.6L471.1 1099.6zM471.1 1099.6L480.7 1092.6L473 1090.5L463.4 1097.4zM463.4 1097.4L473 1090.5L465.4 1088.3L455.8 1095.2zM455.8 1095.2L465.4 1088.3L457.7 1086.1L448.2 1093.1zM633.5 1165L643 1156.5L635.4 1149.7L625.8 1158zM625.8 1158L635.4 1149.7L627.8 1143.4L618.2 1151.6zM473 1090.5L482.6 1083.6L475 1081.5L465.4 1088.3zM465.4 1088.3L475 1081.5L467.3 1079.3L457.7 1086.1zM457.7 1086.1L467.3 1079.3L459.7 1077.1L450.1 1083.9zM450.1 1083.9L459.7 1077.1L452.1 1074.8L442.5 1081.7zM442.5 1081.7L452.1 1074.8L444.4 1072.5L434.8 1079.5zM650.7 1163.9L660.3 1155.3L652.6 1148.1L643 1156.5zM459.7 1077.1L469.3 1070.3L461.6 1068L452.1 1074.8zM452.1 1074.8L461.6 1068L454 1065.7L444.4 1072.5zM444.4 1072.5L454 1065.7L446.4 1063.2L436.8 1070.2zM436.8 1070.2L446.4 1063.2L438.7 1060.7L429.1 1067.7zM429.1 1067.7L438.7 1060.7L431.1 1058.1L421.5 1065.2zM421.5 1065.2L431.1 1058.1L423.4 1055.5L413.9 1062.6zM413.9 1062.6L423.4 1055.5L415.8 1052.6L406.2 1060zM675.5 1171.6L685.1 1162.7L677.5 1154.4L667.9 1163.1zM667.9 1163.1L677.5 1154.4L669.8 1146.8L660.3 1155.3zM431.1 1058.1L440.7 1051.1L433 1048.3L423.4 1055.5zM423.4 1055.5L433 1048.3L425.4 1045.4L415.8 1052.6zM415.8 1052.6L425.4 1045.4L417.7 1042.3L408.2 1049.7zM408.2 1049.7L417.7 1042.3L410.1 1039.1L400.5 1046.7zM400.5 1046.7L410.1 1039.1L402.5 1035.7L392.9 1043.5zM392.9 1043.5L402.5 1035.7L394.8 1032.2L385.2 1040.2zM385.2 1040.2L394.8 1032.2L387.2 1028.5L377.6 1036.7zM692.8 1171.5L702.3 1162.5L694.7 1153.9L685.1 1162.7zM710 1171.8L719.6 1162.6L711.9 1153.5L702.3 1162.5zM727.2 1172.3L736.8 1162.9L729.1 1153.4L719.6 1162.6zM744.4 1173L754 1163.3L746.4 1153.5L736.8 1162.9zM761.6 1173.8L771.2 1163.8L763.6 1153.6L754 1163.3zM778.9 1174.7L788.4 1164.3L780.8 1153.8L771.2 1163.8zM796.1 1175.5L805.7 1164.8L798 1154L788.4 1164.3z"/>
<path fill="#c7ff38" stroke="#c7ff38" d="M560.8 1142L570.4 1134.3L562.8 1130.4L553.2 1138.1zM553.2 1138.1L562.8 1130.4L555.1 1126.8L545.5 1134.4zM545.5 1134.4L555.1 1126.8L547.5 1123.6L537.9 1131.1zM537.9 1131.1L547.5 1123.6L539.8 1120.6L530.3 1128.1zM530.3 1128.1L539.8 1120.6L532.2 1117.9L522.6 1125.2zM522.6 1125.2L532.2 1117.9L524.6 1115.3L515 1122.6zM593.3 1148.2L602.9 1140.2L595.3 1135.3L585.7 1143.2zM585.7 1143.2L595.3 1135.3L587.6 1130.7L578 1138.5zM578 1138.5L587.6 1130.7L580 1126.6L570.4 1134.3zM570.4 1134.3L580 1126.6L572.3 1122.8L562.8 1130.4zM562.8 1130.4L572.3 1122.8L564.7 1119.4L555.1 1126.8zM555.1 1126.8L564.7 1119.4L557.1 1116.2L547.5 1123.6zM547.5 1123.6L557.1 1116.2L549.4 1113.3L539.8 1120.6zM539.8 1120.6L549.4 1113.3L541.8 1110.6L532.2 1117.9zM532.2 1117.9L541.8 1110.6L534.1 1108.1L524.6 1115.3zM524.6 1115.3L534.1 1108.1L526.5 1105.8L516.9 1112.9zM516.9 1112.9L526.5 1105.8L518.9 1103.5L509.3 1110.6zM509.3 1110.6L518.9 1103.5L511.2 1101.3L501.6 1108.4zM501.6 1108.4L511.2 1101.3L503.6 1099.1L494 1106.2zM618.2 1151.6L627.8 1143.4L620.1 1137.6L610.5 1145.6zM610.5 1145.6L620.1 1137.6L612.5 1132.3L602.9 1140.2zM518.9 1103.5L528.4 1096.6L520.8 1094.4L511.2 1101.3zM511.2 1101.3L520.8 1094.4L513.2 1092.3L503.6 1099.1zM503.6 1099.1L513.2 1092.3L505.5 1090.1L495.9 1097zM495.9 1097L505.5 1090.1L497.9 1087.9L488.3 1094.8zM488.3 1094.8L497.9 1087.9L490.2 1085.8L480.7 1092.6zM480.7 1092.6L490.2 1085.8L482.6 1083.6L473 1090.5zM643 1156.5L652.6 1148.1L645 1141.4L635.4 1149.7zM635.4 1149.7L645 1141.4L637.3 1135.3L627.8 1143.4zM497.9 1087.9L507.5 1081.2L499.8 1079L490.2 1085.8zM490.2 1085.8L499.8 1079L492.2 1076.9L482.6 1083.6zM482.6 1083.6L492.2 1076.9L484.6 1074.7L475 1081.5zM475 1081.5L484.6 1074.7L476.9 1072.5L467.3 1079.3zM467.3 1079.3L476.9 1072.5L469.3 1070.3L459.7 1077.1zM660.3 1155.3L669.8 1146.8L662.2 1139.8L652.6 1148.1zM484.6 1074.7L494.1 1068.1L486.5 1065.9L476.9 1072.5zM476.9 1072.5L486.5 1065.9L478.9 1063.6L469.3 1070.3zM469.3 1070.3L478.9 1063.6L471.2 1061.3L461.6 1068zM461.6 1068L471.2 1061.3L463.6 1058.9L454 1065.7zM454 1065.7L463.6 1058.9L455.9 1056.4L446.4 1063.2zM446.4 1063.2L455.9 1056.4L448.3 1053.8L438.7 1060.7zM438.7 1060.7L448.3 1053.8L440.7 1051.1L431.1 1058.1zM685.1 1162.7L694.7 1153.9L687.1 1145.9L677.5 1154.4zM677.5 1154.4L687.1 1145.9L679.4 1138.5L669.8 1146.8zM463.6 1058.9L473.2 1052.2L465.5 1049.6L455.9 1056.4zM455.9 1056.4L465.5 1049.6L457.9 1046.9L448.3 1053.8zM448.3 1053.8L457.9 1046.9L450.2 1044.1L440.7 1051.1zM440.7 1051.1L450.2 1044.1L442.6 1041.2L433 1048.3zM433 1048.3L442.6 1041.2L435 1038.1L425.4 1045.4zM425.4 1045.4L435 1038.1L427.3 1034.8L417.7 1042.3zM417.7 1042.3L427.3 1034.8L419.7 1031.4L410.1 1039.1zM410.1 1039.1L419.7 1031.4L412 1027.8L402.5 1035.7zM402.5 1035.7L412 1027.8L404.4 1024.1L394.8 1032.2zM394.8 1032.2L404.4 1024.1L396.8 1020.1L387.2 1028.5zM702.3 1162.5L711.9 1153.5L704.3 1145.1L694.7 1153.9zM719.6 1162.6L729.1 1153.4L721.5 1144.7L711.9 1153.5zM736.8 1162.9L746.4 1153.5L738.7 1144.3L729.1 1153.4zM754 1163.3L763.6 1153.6L755.9 1144.2L746.4 1153.5zM771.2 1163.8L780.8 1153.8L773.2 1144L763.6 1153.6zM788.4 1164.3L798 1154L790.4 1143.9L780.8 1153.8zM805.7 1164.8L815.2 1154L807.6 1143.7L798 1154z"/>
<path fill="#d7ff28" stroke="#d7ff28" d="M602.9 1140.2L612.5 1132.3L604.8 1127.5L595.3 1135.3zM595.3 1135.3L604.8 1127.5L597.2 1123.1L587.6 1130.7zM587.6 1130.7L597.2 1123.1L589.6 1119.1L580 1126.6zM580 1126.6L589.6 1119.1L581.9 1115.4L572.3 1122.8zM572.3 1122.8L581.9 1115.4L574.3 1112.1L564.7 1119.4zM564.7 1119.4L574.3 1112.1L566.6 1109L557.1 1116.2zM557.1 1116.2L566.6 1109L559 1106.2L549.4 1113.3zM549.4 1113.3L559 1106.2L551.4 1103.6L541.8 1110.6zM541.8 1110.6L551.4 1103.6L543.7 1101.1L534.1 1108.1zM534.1 1108.1L543.7 1101.1L536.1 1098.8L526.5 1105.8zM526.5 1105.8L536.1 1098.8L528.4 1096.6L518.9 1103.5zM627.8 1143.4L637.3 1135.3L629.7 1129.7L620.1 1137.6zM620.1 1137.6L629.7 1129.7L622.1 1124.6L612.5 1132.3zM612.5 1132.3L622.1 1124.6L614.4 1119.9L604.8 1127.5zM536.1 1098.8L545.7 1091.9L538 1089.8L528.4 1096.6zM528.4 1096.6L538 1089.8L530.4 1087.6L520.8 1094.4zM520.8 1094.4L530.4 1087.6L522.7 1085.5L513.2 1092.3zM513.2 1092.3L522.7 1085.5L515.1 1083.3L505.5 1090.1zM505.5 1090.1L515.1 1083.3L507.5 1081.2L497.9 1087.9zM652.6 1148.1L662.2 1139.8L654.6 1133.3L645 1141.4zM645 1141.4L654.6 1133.3L646.9 1127.4L637.3 1135.3zM522.7 1085.5L532.3 1078.9L524.7 1076.7L515.1 1083.3zM515.1 1083.3L524.7 1076.7L517.1 1074.6L507.5 1081.2zM507.5 1081.2L517.1 1074.6L509.4 1072.4L499.8 1079zM499.8 1079L509.4 1072.4L501.8 1070.3L492.2 1076.9zM492.2 1076.9L501.8 1070.3L494.1 1068.1L484.6 1074.7zM669.8 1146.8L679.4 1138.5L671.8 1131.6L662.2 1139.8zM509.4 1072.4L519 1065.9L511.4 1063.8L501.8 1070.3zM501.8 1070.3L511.4 1063.8L503.7 1061.6L494.1 1068.1zM494.1 1068.1L503.7 1061.6L496.1 1059.3L486.5 1065.9zM486.5 1065.9L496.1 1059.3L488.4 1057L478.9 1063.6zM478.9 1063.6L488.4 1057L480.8 1054.6L471.2 1061.3zM471.2 1061.3L480.8 1054.6L473.2 1052.2L463.6 1058.9zM694.7 1153.9L704.3 1145.1L696.6 1137.4L687.1 1145.9zM687.1 1145.9L696.6 1137.4L689 1130.2L679.4 1138.5zM488.4 1057L498 1050.5L490.4 1048.1L480.8 1054.6zM480.8 1054.6L490.4 1048.1L482.7 1045.5L473.2 1052.2zM473.2 1052.2L482.7 1045.5L475.1 1042.9L465.5 1049.6zM465.5 1049.6L475.1 1042.9L467.5 1040.1L457.9 1046.9zM457.9 1046.9L467.5 1040.1L459.8 1037.2L450.2 1044.1zM450.2 1044.1L459.8 1037.2L452.2 1034.1L442.6 1041.2zM442.6 1041.2L452.2 1034.1L444.5 1030.8L435 1038.1zM435 1038.1L444.5 1030.8L436.9 1027.4L427.3 1034.8zM427.3 1034.8L436.9 1027.4L429.3 1023.8L419.7 1031.4zM419.7 1031.4L429.3 1023.8L421.6 1020L412 1027.8zM412 1027.8L421.6 1020L414 1015.9L404.4 1024.1zM404.4 1024.1L414 1015.9L406.3 1011.7L396.8 1020.1zM711.9 1153.5L721.5 1144.7L713.9 1136.5L704.3 1145.1zM459.8 1037.2L469.4 1030.3L461.8 1027L452.2 1034.1zM452.2 1034.1L461.8 1027L454.1 1023.6L444.5 1030.8zM444.5 1030.8L454.1 1023.6L446.5 1020L436.9 1027.4zM436.9 1027.4L446.5 1020L438.8 1016.1L429.3 1023.8zM429.3 1023.8L438.8 1016.1L431.2 1012L421.6 1020zM421.6 1020L431.2 1012L423.6 1007.7L414 1015.9zM729.1 1153.4L738.7 1144.3L731.1 1135.9L721.5 1144.7zM746.4 1153.5L755.9 1144.2L748.3 1135.3L738.7 1144.3zM763.6 1153.6L773.2 1144L765.5 1134.9L755.9 1144.2zM780.8 1153.8L790.4 1143.9L782.7 1134.5L773.2 1144zM798 1154L807.6 1143.7L800 1134L790.4 1143.9z"/>
<path fill="#e7ff18" stroke="#e7ff18" d="M604.8 1127.5L614.4 1119.9L606.8 1115.6L597.2 1123.1zM597.2 1123.1L606.8 1115.6L599.1 1111.7L589.6 1119.1zM589.6 1119.1L599.1 1111.7L591.5 1108.2L581.9 1115.4zM581.9 1115.4L591.5 1108.2L583.9 1104.9L574.3 1112.1zM574.3 1112.1L583.9 1104.9L576.2 1101.9L566.6 1109zM566.6 1109L576.2 1101.9L568.6 1099.2L559 1106.2zM559 1106.2L568.6 1099.2L560.9 1096.6L551.4 1103.6zM551.4 1103.6L560.9 1096.6L553.3 1094.2L543.7 1101.1zM543.7 1101.1L553.3 1094.2L545.7 1091.9L536.1 1098.8zM637.3 1135.3L646.9 1127.4L639.3 1122L629.7 1129.7zM629.7 1129.7L639.3 1122L631.6 1117L622.1 1124.6zM622.1 1124.6L631.6 1117L624 1112.4L614.4 1119.9zM614.4 1119.9L624 1112.4L616.4 1108.3L606.8 1115.6zM568.6 1099.2L578.2 1092.3L570.5 1089.8L560.9 1096.6zM560.9 1096.6L570.5 1089.8L562.9 1087.5L553.3 1094.2zM553.3 1094.2L562.9 1087.5L555.2 1085.2L545.7 1091.9zM545.7 1091.9L555.2 1085.2L547.6 1083.1L538 1089.8zM538 1089.8L547.6 1083.1L540 1081L530.4 1087.6zM530.4 1087.6L540 1081L532.3 1078.9L522.7 1085.5zM662.2 1139.8L671.8 1131.6L664.1 1125.4L654.6 1133.3zM654.6 1133.3L664.1 1125.4L656.5 1119.6L646.9 1127.4zM646.9 1127.4L656.5 1119.6L648.9 1114.3L639.3 1122zM547.6 1083.1L557.2 1076.6L549.6 1074.5L540 1081zM540 1081L549.6 1074.5L541.9 1072.4L532.3 1078.9zM532.3 1078.9L541.9 1072.4L534.3 1070.2L524.7 1076.7zM524.7 1076.7L534.3 1070.2L526.6 1068.1L517.1 1074.6zM517.1 1074.6L526.6 1068.1L519 1065.9L509.4 1072.4zM679.4 1138.5L689 1130.2L681.4 1123.6L671.8 1131.6zM671.8 1131.6L681.4 1123.6L673.7 1117.5L664.1 1125.4zM534.3 1070.2L543.9 1063.9L536.2 1061.7L526.6 1068.1zM526.6 1068.1L536.2 1061.7L528.6 1059.6L519 1065.9zM519 1065.9L528.6 1059.6L520.9 1057.4L511.4 1063.8zM511.4 1063.8L520.9 1057.4L513.3 1055.2L503.7 1061.6zM503.7 1061.6L513.3 1055.2L505.7 1052.9L496.1 1059.3zM496.1 1059.3L505.7 1052.9L498 1050.5L488.4 1057zM704.3 1145.1L713.9 1136.5L706.2 1129L696.6 1137.4zM696.6 1137.4L706.2 1129L698.6 1122L689 1130.2zM513.3 1055.2L522.9 1048.9L515.2 1046.5L505.7 1052.9zM505.7 1052.9L515.2 1046.5L507.6 1044.1L498 1050.5zM498 1050.5L507.6 1044.1L500 1041.6L490.4 1048.1zM490.4 1048.1L500 1041.6L492.3 1039L482.7 1045.5zM482.7 1045.5L492.3 1039L484.7 1036.2L475.1 1042.9zM475.1 1042.9L484.7 1036.2L477 1033.3L467.5 1040.1zM467.5 1040.1L477 1033.3L469.4 1030.3L459.8 1037.2zM414 1015.9L423.6 1007.7L415.9 1003.2L406.3 1011.7zM721.5 1144.7L731.1 1135.9L723.4 1128L713.9 1136.5zM713.9 1136.5L723.4 1128L715.8 1120.7L706.2 1129zM500 1041.6L509.5 1035.3L501.9 1032.5L492.3 1039zM492.3 1039L501.9 1032.5L494.3 1029.7L484.7 1036.2zM484.7 1036.2L494.3 1029.7L486.6 1026.6L477 1033.3zM477 1033.3L486.6 1026.6L479 1023.4L469.4 1030.3zM469.4 1030.3L479 1023.4L471.3 1020L461.8 1027zM461.8 1027L471.3 1020L463.7 1016.4L454.1 1023.6zM454.1 1023.6L463.7 1016.4L456.1 1012.5L446.5 1020zM446.5 1020L456.1 1012.5L448.4 1008.4L438.8 1016.1zM438.8 1016.1L448.4 1008.4L440.8 1004.1L431.2 1012zM431.2 1012L440.8 1004.1L433.1 999.5L423.6 1007.7zM423.6 1007.7L433.1 999.5L425.5 994.6L415.9 1003.2zM738.7 1144.3L748.3 1135.3L740.7 1127.1L731.1 1135.9zM755.9 1144.2L765.5 1134.9L757.9 1126.4L748.3 1135.3zM773.2 1144L782.7 1134.5L775.1 1125.7L765.5 1134.9zM790.4 1143.9L800 1134L792.3 1125L782.7 1134.5zM815.2 1154L824.8 1143.3L817.2 1133.4L807.6 1143.7z"/>
<path fill="#f7ff08" stroke="#f7ff08" d="M606.8 1115.6L616.4 1108.3L608.7 1104.5L599.1 1111.7zM599.1 1111.7L608.7 1104.5L601.1 1101.1L591.5 1108.2zM591.5 1108.2L601.1 1101.1L593.4 1097.9L583.9 1104.9zM583.9 1104.9L593.4 1097.9L585.8 1095L576.2 1101.9zM576.2 1101.9L585.8 1095L578.2 1092.3L568.6 1099.2zM639.3 1122L648.9 1114.3L641.2 1109.5L631.6 1117zM631.6 1117L641.2 1109.5L633.6 1105.1L624 1112.4zM624 1112.4L633.6 1105.1L625.9 1101.1L616.4 1108.3zM616.4 1108.3L625.9 1101.1L618.3 1097.4L608.7 1104.5zM608.7 1104.5L618.3 1097.4L610.7 1094.1L601.1 1101.1zM601.1 1101.1L610.7 1094.1L603 1091L593.4 1097.9zM593.4 1097.9L603 1091L595.4 1088.2L585.8 1095zM585.8 1095L595.4 1088.2L587.7 1085.6L578.2 1092.3zM578.2 1092.3L587.7 1085.6L580.1 1083.2L570.5 1089.8zM570.5 1089.8L580.1 1083.2L572.5 1080.9L562.9 1087.5zM562.9 1087.5L572.5 1080.9L564.8 1078.7L555.2 1085.2zM555.2 1085.2L564.8 1078.7L557.2 1076.6L547.6 1083.1zM664.1 1125.4L673.7 1117.5L666.1 1111.9L656.5 1119.6zM656.5 1119.6L666.1 1111.9L658.4 1106.8L648.9 1114.3zM572.5 1080.9L582.1 1074.4L574.4 1072.3L564.8 1078.7zM564.8 1078.7L574.4 1072.3L566.8 1070.2L557.2 1076.6zM557.2 1076.6L566.8 1070.2L559.1 1068.1L549.6 1074.5zM549.6 1074.5L559.1 1068.1L551.5 1066L541.9 1072.4zM541.9 1072.4L551.5 1066L543.9 1063.9L534.3 1070.2zM689 1130.2L698.6 1122L690.9 1115.7L681.4 1123.6zM681.4 1123.6L690.9 1115.7L683.3 1109.8L673.7 1117.5zM559.1 1068.1L568.7 1061.9L561.1 1059.8L551.5 1066zM551.5 1066L561.1 1059.8L553.4 1057.7L543.9 1063.9zM543.9 1063.9L553.4 1057.7L545.8 1055.5L536.2 1061.7zM536.2 1061.7L545.8 1055.5L538.2 1053.3L528.6 1059.6zM528.6 1059.6L538.2 1053.3L530.5 1051.1L520.9 1057.4zM520.9 1057.4L530.5 1051.1L522.9 1048.9L513.3 1055.2zM706.2 1129L715.8 1120.7L708.2 1114L698.6 1122zM545.8 1055.5L555.4 1049.4L547.7 1047.2L538.2 1053.3zM538.2 1053.3L547.7 1047.2L540.1 1045L530.5 1051.1zM530.5 1051.1L540.1 1045L532.5 1042.7L522.9 1048.9zM522.9 1048.9L532.5 1042.7L524.8 1040.3L515.2 1046.5zM515.2 1046.5L524.8 1040.3L517.2 1037.9L507.6 1044.1zM507.6 1044.1L517.2 1037.9L509.5 1035.3L500 1041.6zM731.1 1135.9L740.7 1127.1L733 1119.6L723.4 1128zM723.4 1128L733 1119.6L725.4 1112.6L715.8 1120.7zM532.5 1042.7L542 1036.7L534.4 1034.2L524.8 1040.3zM524.8 1040.3L534.4 1034.2L526.8 1031.7L517.2 1037.9zM517.2 1037.9L526.8 1031.7L519.1 1029L509.5 1035.3zM509.5 1035.3L519.1 1029L511.5 1026.2L501.9 1032.5zM501.9 1032.5L511.5 1026.2L503.8 1023.2L494.3 1029.7zM494.3 1029.7L503.8 1023.2L496.2 1020L486.6 1026.6zM486.6 1026.6L496.2 1020L488.6 1016.6L479 1023.4zM479 1023.4L488.6 1016.6L480.9 1013L471.3 1020zM471.3 1020L480.9 1013L473.3 1009.2L463.7 1016.4zM463.7 1016.4L473.3 1009.2L465.6 1005.1L456.1 1012.5zM456.1 1012.5L465.6 1005.1L458 1000.7L448.4 1008.4zM448.4 1008.4L458 1000.7L450.4 996.1L440.8 1004.1zM440.8 1004.1L450.4 996.1L442.7 991.2L433.1 999.5zM433.1 999.5L442.7 991.2L435.1 985.9L425.5 994.6zM748.3 1135.3L757.9 1126.4L750.2 1118.5L740.7 1127.1zM503.8 1023.2L513.4 1016.8L505.8 1013.5L496.2 1020zM496.2 1020L505.8 1013.5L498.1 1009.9L488.6 1016.6zM488.6 1016.6L498.1 1009.9L490.5 1006.1L480.9 1013zM480.9 1013L490.5 1006.1L482.9 1002L473.3 1009.2zM765.5 1134.9L775.1 1125.7L767.5 1117.6L757.9 1126.4zM782.7 1134.5L792.3 1125L784.7 1116.6L775.1 1125.7zM807.6 1143.7L817.2 1133.4L809.5 1124.2L800 1134zM824.8 1143.3L834.4 1132.6L826.8 1123.2L817.2 1133.4z"/>
<path fill="#fff700" stroke="#fff700" d="M648.9 1114.3L658.4 1106.8L650.8 1102.2L641.2 1109.5zM641.2 1109.5L650.8 1102.2L643.2 1097.9L633.6 1105.1zM633.6 1105.1L643.2 1097.9L635.5 1094.1L625.9 1101.1zM625.9 1101.1L635.5 1094.1L627.9 1090.5L618.3 1097.4zM618.3 1097.4L627.9 1090.5L620.2 1087.3L610.7 1094.1zM610.7 1094.1L620.2 1087.3L612.6 1084.3L603 1091zM603 1091L612.6 1084.3L605 1081.6L595.4 1088.2zM595.4 1088.2L605 1081.6L597.3 1079L587.7 1085.6zM587.7 1085.6L597.3 1079L589.7 1076.7L580.1 1083.2zM580.1 1083.2L589.7 1076.7L582.1 1074.4L572.5 1080.9zM673.7 1117.5L683.3 1109.8L675.7 1104.4L666.1 1111.9zM666.1 1111.9L675.7 1104.4L668 1099.5L658.4 1106.8zM658.4 1106.8L668 1099.5L660.4 1095L650.8 1102.2zM650.8 1102.2L660.4 1095L652.7 1090.9L643.2 1097.9zM597.3 1079L606.9 1072.7L599.3 1070.4L589.7 1076.7zM589.7 1076.7L599.3 1070.4L591.6 1068.2L582.1 1074.4zM582.1 1074.4L591.6 1068.2L584 1066L574.4 1072.3zM574.4 1072.3L584 1066L576.4 1064L566.8 1070.2zM566.8 1070.2L576.4 1064L568.7 1061.9L559.1 1068.1zM698.6 1122L708.2 1114L700.5 1107.9L690.9 1115.7zM690.9 1115.7L700.5 1107.9L692.9 1102.2L683.3 1109.8zM584 1066L593.6 1060L585.9 1057.9L576.4 1064zM576.4 1064L585.9 1057.9L578.3 1055.9L568.7 1061.9zM568.7 1061.9L578.3 1055.9L570.7 1053.8L561.1 1059.8zM561.1 1059.8L570.7 1053.8L563 1051.6L553.4 1057.7zM553.4 1057.7L563 1051.6L555.4 1049.4L545.8 1055.5zM715.8 1120.7L725.4 1112.6L717.7 1106.1L708.2 1114zM570.7 1053.8L580.2 1047.9L572.6 1045.7L563 1051.6zM563 1051.6L572.6 1045.7L565 1043.5L555.4 1049.4zM555.4 1049.4L565 1043.5L557.3 1041.3L547.7 1047.2zM547.7 1047.2L557.3 1041.3L549.7 1039L540.1 1045zM540.1 1045L549.7 1039L542 1036.7L532.5 1042.7zM740.7 1127.1L750.2 1118.5L742.6 1111.2L733 1119.6zM733 1119.6L742.6 1111.2L735 1104.5L725.4 1112.6zM557.3 1041.3L566.9 1035.5L559.3 1033.1L549.7 1039zM549.7 1039L559.3 1033.1L551.6 1030.8L542 1036.7zM542 1036.7L551.6 1030.8L544 1028.3L534.4 1034.2zM534.4 1034.2L544 1028.3L536.3 1025.6L526.8 1031.7zM526.8 1031.7L536.3 1025.6L528.7 1022.9L519.1 1029zM519.1 1029L528.7 1022.9L521.1 1019.9L511.5 1026.2zM511.5 1026.2L521.1 1019.9L513.4 1016.8L503.8 1023.2zM473.3 1009.2L482.9 1002L475.2 997.7L465.6 1005.1zM465.6 1005.1L475.2 997.7L467.6 993L458 1000.7zM458 1000.7L467.6 993L459.9 988.1L450.4 996.1zM450.4 996.1L459.9 988.1L452.3 982.8L442.7 991.2zM442.7 991.2L452.3 982.8L444.7 977.2L435.1 985.9zM757.9 1126.4L767.5 1117.6L759.8 1110L750.2 1118.5zM544 1028.3L553.6 1022.4L545.9 1019.7L536.3 1025.6zM536.3 1025.6L545.9 1019.7L538.3 1016.8L528.7 1022.9zM528.7 1022.9L538.3 1016.8L530.6 1013.8L521.1 1019.9zM521.1 1019.9L530.6 1013.8L523 1010.5L513.4 1016.8zM513.4 1016.8L523 1010.5L515.4 1007L505.8 1013.5zM505.8 1013.5L515.4 1007L507.7 1003.2L498.1 1009.9zM498.1 1009.9L507.7 1003.2L500.1 999.2L490.5 1006.1zM490.5 1006.1L500.1 999.2L492.4 994.9L482.9 1002zM482.9 1002L492.4 994.9L484.8 990.3L475.2 997.7zM475.2 997.7L484.8 990.3L477.2 985.3L467.6 993zM775.1 1125.7L784.7 1116.6L777 1108.8L767.5 1117.6zM800 1134L809.5 1124.2L801.9 1115.6L792.3 1125zM792.3 1125L801.9 1115.6L794.3 1107.5L784.7 1116.6zM817.2 1133.4L826.8 1123.2L819.1 1114.4L809.5 1124.2zM834.4 1132.6L844 1121.8L836.4 1112.9L826.8 1123.2z"/>
<path fill="#ffe700" stroke="#ffe700" d="M643.2 1097.9L652.7 1090.9L645.1 1087.2L635.5 1094.1zM635.5 1094.1L645.1 1087.2L637.5 1083.8L627.9 1090.5zM627.9 1090.5L637.5 1083.8L629.8 1080.6L620.2 1087.3zM620.2 1087.3L629.8 1080.6L622.2 1077.8L612.6 1084.3zM612.6 1084.3L622.2 1077.8L614.6 1075.1L605 1081.6zM605 1081.6L614.6 1075.1L606.9 1072.7L597.3 1079zM683.3 1109.8L692.9 1102.2L685.2 1097L675.7 1104.4zM675.7 1104.4L685.2 1097L677.6 1092.3L668 1099.5zM668 1099.5L677.6 1092.3L670 1088L660.4 1095zM660.4 1095L670 1088L662.3 1084L652.7 1090.9zM652.7 1090.9L662.3 1084L654.7 1080.4L645.1 1087.2zM645.1 1087.2L654.7 1080.4L647 1077.2L637.5 1083.8zM637.5 1083.8L647 1077.2L639.4 1074.2L629.8 1080.6zM629.8 1080.6L639.4 1074.2L631.8 1071.4L622.2 1077.8zM622.2 1077.8L631.8 1071.4L624.1 1068.8L614.6 1075.1zM614.6 1075.1L624.1 1068.8L616.5 1066.4L606.9 1072.7zM606.9 1072.7L616.5 1066.4L608.9 1064.2L599.3 1070.4zM599.3 1070.4L608.9 1064.2L601.2 1062L591.6 1068.2zM591.6 1068.2L601.2 1062L593.6 1060L584 1066zM708.2 1114L717.7 1106.1L710.1 1100.2L700.5 1107.9zM700.5 1107.9L710.1 1100.2L702.5 1094.8L692.9 1102.2zM692.9 1102.2L702.5 1094.8L694.8 1089.8L685.2 1097zM608.9 1064.2L618.4 1058.2L610.8 1056.1L601.2 1062zM601.2 1062L610.8 1056.1L603.2 1054.1L593.6 1060zM593.6 1060L603.2 1054.1L595.5 1052L585.9 1057.9zM585.9 1057.9L595.5 1052L587.9 1050L578.3 1055.9zM578.3 1055.9L587.9 1050L580.2 1047.9L570.7 1053.8zM725.4 1112.6L735 1104.5L727.3 1098.3L717.7 1106.1zM717.7 1106.1L727.3 1098.3L719.7 1092.6L710.1 1100.2zM595.5 1052L605.1 1046.3L597.5 1044.3L587.9 1050zM587.9 1050L597.5 1044.3L589.8 1042.2L580.2 1047.9zM580.2 1047.9L589.8 1042.2L582.2 1040L572.6 1045.7zM572.6 1045.7L582.2 1040L574.5 1037.7L565 1043.5zM565 1043.5L574.5 1037.7L566.9 1035.5L557.3 1041.3zM750.2 1118.5L759.8 1110L752.2 1103L742.6 1111.2zM742.6 1111.2L752.2 1103L744.5 1096.6L735 1104.5zM589.8 1042.2L599.4 1036.6L591.8 1034.4L582.2 1040zM582.2 1040L591.8 1034.4L584.1 1032.1L574.5 1037.7zM574.5 1037.7L584.1 1032.1L576.5 1029.8L566.9 1035.5zM566.9 1035.5L576.5 1029.8L568.8 1027.4L559.3 1033.1zM559.3 1033.1L568.8 1027.4L561.2 1025L551.6 1030.8zM551.6 1030.8L561.2 1025L553.6 1022.4L544 1028.3zM467.6 993L477.2 985.3L469.5 980L459.9 988.1zM459.9 988.1L469.5 980L461.9 974.4L452.3 982.8zM452.3 982.8L461.9 974.4L454.2 968.4L444.7 977.2zM767.5 1117.6L777 1108.8L769.4 1101.6L759.8 1110zM584.1 1032.1L593.7 1026.6L586.1 1024.3L576.5 1029.8zM576.5 1029.8L586.1 1024.3L578.4 1021.9L568.8 1027.4zM568.8 1027.4L578.4 1021.9L570.8 1019.3L561.2 1025zM561.2 1025L570.8 1019.3L563.1 1016.7L553.6 1022.4zM553.6 1022.4L563.1 1016.7L555.5 1013.9L545.9 1019.7zM545.9 1019.7L555.5 1013.9L547.9 1010.9L538.3 1016.8zM538.3 1016.8L547.9 1010.9L540.2 1007.7L530.6 1013.8zM530.6 1013.8L540.2 1007.7L532.6 1004.3L523 1010.5zM523 1010.5L532.6 1004.3L524.9 1000.6L515.4 1007zM515.4 1007L524.9 1000.6L517.3 996.6L507.7 1003.2zM507.7 1003.2L517.3 996.6L509.7 992.4L500.1 999.2zM500.1 999.2L509.7 992.4L502 987.8L492.4 994.9zM492.4 994.9L502 987.8L494.4 982.9L484.8 990.3zM484.8 990.3L494.4 982.9L486.7 977.6L477.2 985.3zM477.2 985.3L486.7 977.6L479.1 972L469.5 980zM784.7 1116.6L794.3 1107.5L786.6 1100.1L777 1108.8zM563.1 1016.7L572.7 1011.1L565.1 1008.2L555.5 1013.9zM555.5 1013.9L565.1 1008.2L557.4 1005.1L547.9 1010.9zM547.9 1010.9L557.4 1005.1L549.8 1001.7L540.2 1007.7zM540.2 1007.7L549.8 1001.7L542.2 998.1L532.6 1004.3zM532.6 1004.3L542.2 998.1L534.5 994.3L524.9 1000.6zM524.9 1000.6L534.5 994.3L526.9 990.1L517.3 996.6zM517.3 996.6L526.9 990.1L519.2 985.6L509.7 992.4zM509.7 992.4L519.2 985.6L511.6 980.7L502 987.8zM809.5 1124.2L819.1 1114.4L811.5 1106.2L801.9 1115.6zM801.9 1115.6L811.5 1106.2L803.9 1098.6L794.3 1107.5zM826.8 1123.2L836.4 1112.9L828.7 1104.6L819.1 1114.4zM844 1121.8L853.6 1111.1L845.9 1102.7L836.4 1112.9z"/>
<path fill="#ffd700" stroke="#ffd700" d="M685.2 1097L694.8 1089.8L687.2 1085.3L677.6 1092.3zM677.6 1092.3L687.2 1085.3L679.5 1081.1L670 1088zM670 1088L679.5 1081.1L671.9 1077.3L662.3 1084zM662.3 1084L671.9 1077.3L664.3 1073.9L654.7 1080.4zM654.7 1080.4L664.3 1073.9L656.6 1070.7L647 1077.2zM647 1077.2L656.6 1070.7L649 1067.9L639.4 1074.2zM639.4 1074.2L649 1067.9L641.4 1065.2L631.8 1071.4zM631.8 1071.4L641.4 1065.2L633.7 1062.7L624.1 1068.8zM624.1 1068.8L633.7 1062.7L626.1 1060.4L616.5 1066.4zM616.5 1066.4L626.1 1060.4L618.4 1058.2L608.9 1064.2zM710.1 1100.2L719.7 1092.6L712 1087.4L702.5 1094.8zM702.5 1094.8L712 1087.4L704.4 1082.7L694.8 1089.8zM694.8 1089.8L704.4 1082.7L696.8 1078.4L687.2 1085.3zM687.2 1085.3L696.8 1078.4L689.1 1074.4L679.5 1081.1zM641.4 1065.2L650.9 1059.2L643.3 1056.8L633.7 1062.7zM633.7 1062.7L643.3 1056.8L635.7 1054.5L626.1 1060.4zM626.1 1060.4L635.7 1054.5L628 1052.4L618.4 1058.2zM618.4 1058.2L628 1052.4L620.4 1050.3L610.8 1056.1zM610.8 1056.1L620.4 1050.3L612.7 1048.3L603.2 1054.1zM603.2 1054.1L612.7 1048.3L605.1 1046.3L595.5 1052zM735 1104.5L744.5 1096.6L736.9 1090.7L727.3 1098.3zM727.3 1098.3L736.9 1090.7L729.3 1085.2L719.7 1092.6zM719.7 1092.6L729.3 1085.2L721.6 1080.3L712 1087.4zM628 1052.4L637.6 1046.8L630 1044.8L620.4 1050.3zM620.4 1050.3L630 1044.8L622.3 1042.8L612.7 1048.3zM612.7 1048.3L622.3 1042.8L614.7 1040.8L605.1 1046.3zM605.1 1046.3L614.7 1040.8L607 1038.7L597.5 1044.3zM597.5 1044.3L607 1038.7L599.4 1036.6L589.8 1042.2zM759.8 1110L769.4 1101.6L761.8 1094.9L752.2 1103zM752.2 1103L761.8 1094.9L754.1 1088.8L744.5 1096.6zM622.3 1042.8L631.9 1037.4L624.3 1035.4L614.7 1040.8zM614.7 1040.8L624.3 1035.4L616.6 1033.3L607 1038.7zM607 1038.7L616.6 1033.3L609 1031.2L599.4 1036.6zM599.4 1036.6L609 1031.2L601.3 1028.9L591.8 1034.4zM591.8 1034.4L601.3 1028.9L593.7 1026.6L584.1 1032.1zM469.5 980L479.1 972L471.5 965.9L461.9 974.4zM461.9 974.4L471.5 965.9L463.8 959.5L454.2 968.4zM777 1108.8L786.6 1100.1L779 1093.2L769.4 1101.6zM769.4 1101.6L779 1093.2L771.4 1086.9L761.8 1094.9zM616.6 1033.3L626.2 1028.1L618.6 1026L609 1031.2zM609 1031.2L618.6 1026L610.9 1023.7L601.3 1028.9zM601.3 1028.9L610.9 1023.7L603.3 1021.3L593.7 1026.6zM593.7 1026.6L603.3 1021.3L595.6 1018.9L586.1 1024.3zM586.1 1024.3L595.6 1018.9L588 1016.4L578.4 1021.9zM578.4 1021.9L588 1016.4L580.4 1013.9L570.8 1019.3zM570.8 1019.3L580.4 1013.9L572.7 1011.1L563.1 1016.7zM502 987.8L511.6 980.7L504 975.5L494.4 982.9zM494.4 982.9L504 975.5L496.3 969.9L486.7 977.6zM486.7 977.6L496.3 969.9L488.7 963.9L479.1 972zM794.3 1107.5L803.9 1098.6L796.2 1091.5L786.6 1100.1zM603.3 1021.3L612.9 1016.2L605.2 1013.7L595.6 1018.9zM595.6 1018.9L605.2 1013.7L597.6 1011.2L588 1016.4zM588 1016.4L597.6 1011.2L589.9 1008.5L580.4 1013.9zM580.4 1013.9L589.9 1008.5L582.3 1005.7L572.7 1011.1zM572.7 1011.1L582.3 1005.7L574.7 1002.6L565.1 1008.2zM565.1 1008.2L574.7 1002.6L567 999.4L557.4 1005.1zM557.4 1005.1L567 999.4L559.4 995.9L549.8 1001.7zM549.8 1001.7L559.4 995.9L551.7 992.1L542.2 998.1zM542.2 998.1L551.7 992.1L544.1 988L534.5 994.3zM534.5 994.3L544.1 988L536.5 983.6L526.9 990.1zM526.9 990.1L536.5 983.6L528.8 978.8L519.2 985.6zM519.2 985.6L528.8 978.8L521.2 973.7L511.6 980.7zM511.6 980.7L521.2 973.7L513.5 968.1L504 975.5zM819.1 1114.4L828.7 1104.6L821.1 1096.8L811.5 1106.2zM589.9 1008.5L599.5 1003.3L591.9 1000.4L582.3 1005.7zM582.3 1005.7L591.9 1000.4L584.2 997.2L574.7 1002.6zM574.7 1002.6L584.2 997.2L576.6 993.8L567 999.4zM567 999.4L576.6 993.8L569 990.2L559.4 995.9zM559.4 995.9L569 990.2L561.3 986.2L551.7 992.1zM551.7 992.1L561.3 986.2L553.7 981.9L544.1 988zM544.1 988L553.7 981.9L546 977.2L536.5 983.6zM836.4 1112.9L845.9 1102.7L838.3 1094.9L828.7 1104.6z"/>
<path fill="#ffc700" stroke="#ffc700" d="M679.5 1081.1L689.1 1074.4L681.5 1070.8L671.9 1077.3zM671.9 1077.3L681.5 1070.8L673.9 1067.5L664.3 1073.9zM664.3 1073.9L673.9 1067.5L666.2 1064.5L656.6 1070.7zM656.6 1070.7L666.2 1064.5L658.6 1061.7L649 1067.9zM649 1067.9L658.6 1061.7L650.9 1059.2L641.4 1065.2zM712 1087.4L721.6 1080.3L714 1075.7L704.4 1082.7zM704.4 1082.7L714 1075.7L706.4 1071.6L696.8 1078.4zM696.8 1078.4L706.4 1071.6L698.7 1067.9L689.1 1074.4zM689.1 1074.4L698.7 1067.9L691.1 1064.4L681.5 1070.8zM681.5 1070.8L691.1 1064.4L683.4 1061.3L673.9 1067.5zM673.9 1067.5L683.4 1061.3L675.8 1058.4L666.2 1064.5zM666.2 1064.5L675.8 1058.4L668.2 1055.8L658.6 1061.7zM658.6 1061.7L668.2 1055.8L660.5 1053.3L650.9 1059.2zM650.9 1059.2L660.5 1053.3L652.9 1051L643.3 1056.8zM643.3 1056.8L652.9 1051L645.2 1048.8L635.7 1054.5zM635.7 1054.5L645.2 1048.8L637.6 1046.8L628 1052.4zM744.5 1096.6L754.1 1088.8L746.5 1083.1L736.9 1090.7zM736.9 1090.7L746.5 1083.1L738.9 1078L729.3 1085.2zM729.3 1085.2L738.9 1078L731.2 1073.3L721.6 1080.3zM721.6 1080.3L731.2 1073.3L723.6 1069L714 1075.7zM660.5 1053.3L670.1 1047.6L662.5 1045.4L652.9 1051zM652.9 1051L662.5 1045.4L654.8 1043.3L645.2 1048.8zM645.2 1048.8L654.8 1043.3L647.2 1041.3L637.6 1046.8zM637.6 1046.8L647.2 1041.3L639.5 1039.3L630 1044.8zM630 1044.8L639.5 1039.3L631.9 1037.4L622.3 1042.8zM761.8 1094.9L771.4 1086.9L763.7 1081.1L754.1 1088.8zM754.1 1088.8L763.7 1081.1L756.1 1075.7L746.5 1083.1zM647.2 1041.3L656.8 1036.1L649.1 1034.1L639.5 1039.3zM639.5 1039.3L649.1 1034.1L641.5 1032.2L631.9 1037.4zM631.9 1037.4L641.5 1032.2L633.8 1030.2L624.3 1035.4zM624.3 1035.4L633.8 1030.2L626.2 1028.1L616.6 1033.3zM479.1 972L488.7 963.9L481 957.4L471.5 965.9zM471.5 965.9L481 957.4L473.4 950.5L463.8 959.5zM786.6 1100.1L796.2 1091.5L788.6 1085L779 1093.2zM779 1093.2L788.6 1085L780.9 1079L771.4 1086.9zM641.5 1032.2L651.1 1027.2L643.4 1025.2L633.8 1030.2zM633.8 1030.2L643.4 1025.2L635.8 1023.1L626.2 1028.1zM626.2 1028.1L635.8 1023.1L628.1 1020.9L618.6 1026zM618.6 1026L628.1 1020.9L620.5 1018.6L610.9 1023.7zM610.9 1023.7L620.5 1018.6L612.9 1016.2L603.3 1021.3zM504 975.5L513.5 968.1L505.9 962.2L496.3 969.9zM496.3 969.9L505.9 962.2L498.3 955.7L488.7 963.9zM488.7 963.9L498.3 955.7L490.6 948.9L481 957.4zM811.5 1106.2L821.1 1096.8L813.4 1089.6L803.9 1098.6zM803.9 1098.6L813.4 1089.6L805.8 1083L796.2 1091.5zM643.4 1025.2L653 1020.4L645.4 1018.3L635.8 1023.1zM635.8 1023.1L645.4 1018.3L637.7 1016L628.1 1020.9zM628.1 1020.9L637.7 1016L630.1 1013.7L620.5 1018.6zM620.5 1018.6L630.1 1013.7L622.4 1011.2L612.9 1016.2zM612.9 1016.2L622.4 1011.2L614.8 1008.7L605.2 1013.7zM605.2 1013.7L614.8 1008.7L607.2 1006.1L597.6 1011.2zM597.6 1011.2L607.2 1006.1L599.5 1003.3L589.9 1008.5zM536.5 983.6L546 977.2L538.4 972.2L528.8 978.8zM528.8 978.8L538.4 972.2L530.8 966.7L521.2 973.7zM521.2 973.7L530.8 966.7L523.1 960.8L513.5 968.1zM513.5 968.1L523.1 960.8L515.5 954.4L505.9 962.2zM828.7 1104.6L838.3 1094.9L830.7 1087.6L821.1 1096.8zM637.7 1016L647.3 1011.4L639.7 1008.9L630.1 1013.7zM630.1 1013.7L639.7 1008.9L632 1006.4L622.4 1011.2zM622.4 1011.2L632 1006.4L624.4 1003.8L614.8 1008.7zM614.8 1008.7L624.4 1003.8L616.7 1001.1L607.2 1006.1zM607.2 1006.1L616.7 1001.1L609.1 998.3L599.5 1003.3zM599.5 1003.3L609.1 998.3L601.5 995.2L591.9 1000.4zM591.9 1000.4L601.5 995.2L593.8 991.9L584.2 997.2zM584.2 997.2L593.8 991.9L586.2 988.4L576.6 993.8zM576.6 993.8L586.2 988.4L578.5 984.5L569 990.2zM569 990.2L578.5 984.5L570.9 980.4L561.3 986.2zM561.3 986.2L570.9 980.4L563.3 975.8L553.7 981.9zM553.7 981.9L563.3 975.8L555.6 970.9L546 977.2zM546 977.2L555.6 970.9L548 965.5L538.4 972.2zM538.4 972.2L548 965.5L540.3 959.7L530.8 966.7zM853.6 1111.1L863.2 1100.4L855.5 1092.5L845.9 1102.7zM845.9 1102.7L855.5 1092.5L847.9 1085.1L838.3 1094.9zM624.4 1003.8L634 999.1L626.3 996.3L616.7 1001.1zM616.7 1001.1L626.3 996.3L618.7 993.4L609.1 998.3zM609.1 998.3L618.7 993.4L611 990.2L601.5 995.2zM601.5 995.2L611 990.2L603.4 986.8L593.8 991.9zM593.8 991.9L603.4 986.8L595.8 983.1L586.2 988.4zM586.2 988.4L595.8 983.1L588.1 979L578.5 984.5zM578.5 984.5L588.1 979L580.5 974.6L570.9 980.4zM570.9 980.4L580.5 974.6L572.8 969.8L563.3 975.8z"/>
<path fill="#ffb700" stroke="#ffb700" d="M714 1075.7L723.6 1069L715.9 1065L706.4 1071.6zM706.4 1071.6L715.9 1065L708.3 1061.5L698.7 1067.9zM698.7 1067.9L708.3 1061.5L700.7 1058.2L691.1 1064.4zM691.1 1064.4L700.7 1058.2L693 1055.2L683.4 1061.3zM683.4 1061.3L693 1055.2L685.4 1052.5L675.8 1058.4zM675.8 1058.4L685.4 1052.5L677.7 1050L668.2 1055.8zM668.2 1055.8L677.7 1050L670.1 1047.6L660.5 1053.3zM746.5 1083.1L756.1 1075.7L748.4 1070.8L738.9 1078zM738.9 1078L748.4 1070.8L740.8 1066.4L731.2 1073.3zM731.2 1073.3L740.8 1066.4L733.2 1062.3L723.6 1069zM723.6 1069L733.2 1062.3L725.5 1058.6L715.9 1065zM715.9 1065L725.5 1058.6L717.9 1055.3L708.3 1061.5zM708.3 1061.5L717.9 1055.3L710.2 1052.2L700.7 1058.2zM700.7 1058.2L710.2 1052.2L702.6 1049.4L693 1055.2zM693 1055.2L702.6 1049.4L695 1046.8L685.4 1052.5zM685.4 1052.5L695 1046.8L687.3 1044.4L677.7 1050zM677.7 1050L687.3 1044.4L679.7 1042.2L670.1 1047.6zM670.1 1047.6L679.7 1042.2L672 1040.1L662.5 1045.4zM662.5 1045.4L672 1040.1L664.4 1038L654.8 1043.3zM654.8 1043.3L664.4 1038L656.8 1036.1L647.2 1041.3zM771.4 1086.9L780.9 1079L773.3 1073.5L763.7 1081.1zM763.7 1081.1L773.3 1073.5L765.7 1068.4L756.1 1075.7zM756.1 1075.7L765.7 1068.4L758 1063.9L748.4 1070.8zM679.7 1042.2L689.3 1036.9L681.6 1034.9L672 1040.1zM672 1040.1L681.6 1034.9L674 1032.9L664.4 1038zM664.4 1038L674 1032.9L666.3 1031L656.8 1036.1zM656.8 1036.1L666.3 1031L658.7 1029.1L649.1 1034.1zM649.1 1034.1L658.7 1029.1L651.1 1027.2L641.5 1032.2zM481 957.4L490.6 948.9L483 941.5L473.4 950.5zM796.2 1091.5L805.8 1083L798.2 1076.8L788.6 1085zM788.6 1085L798.2 1076.8L790.5 1071.2L780.9 1079zM674 1032.9L683.6 1028L675.9 1026.1L666.3 1031zM666.3 1031L675.9 1026.1L668.3 1024.3L658.7 1029.1zM658.7 1029.1L668.3 1024.3L660.6 1022.4L651.1 1027.2zM651.1 1027.2L660.6 1022.4L653 1020.4L643.4 1025.2zM505.9 962.2L515.5 954.4L507.8 947.6L498.3 955.7zM498.3 955.7L507.8 947.6L500.2 940.2L490.6 948.9zM821.1 1096.8L830.7 1087.6L823 1080.8L813.4 1089.6zM813.4 1089.6L823 1080.8L815.4 1074.5L805.8 1083zM668.3 1024.3L677.9 1019.6L670.2 1017.7L660.6 1022.4zM660.6 1022.4L670.2 1017.7L662.6 1015.7L653 1020.4zM653 1020.4L662.6 1015.7L654.9 1013.6L645.4 1018.3zM645.4 1018.3L654.9 1013.6L647.3 1011.4L637.7 1016zM530.8 966.7L540.3 959.7L532.7 953.5L523.1 960.8zM523.1 960.8L532.7 953.5L525.1 946.7L515.5 954.4zM838.3 1094.9L847.9 1085.1L840.2 1078.3L830.7 1087.6zM670.2 1017.7L679.8 1013.3L672.2 1011.3L662.6 1015.7zM662.6 1015.7L672.2 1011.3L664.5 1009.2L654.9 1013.6zM654.9 1013.6L664.5 1009.2L656.9 1006.9L647.3 1011.4zM647.3 1011.4L656.9 1006.9L649.2 1004.4L639.7 1008.9zM639.7 1008.9L649.2 1004.4L641.6 1001.8L632 1006.4zM632 1006.4L641.6 1001.8L634 999.1L624.4 1003.8zM563.3 975.8L572.8 969.8L565.2 964.6L555.6 970.9zM555.6 970.9L565.2 964.6L557.6 959L548 965.5zM548 965.5L557.6 959L549.9 952.8L540.3 959.7zM540.3 959.7L549.9 952.8L542.3 946.2L532.7 953.5zM863.2 1100.4L872.7 1089.7L865.1 1082.4L855.5 1092.5zM855.5 1092.5L865.1 1082.4L857.5 1075.5L847.9 1085.1zM672.2 1011.3L681.7 1007.1L674.1 1004.9L664.5 1009.2zM664.5 1009.2L674.1 1004.9L666.5 1002.6L656.9 1006.9zM656.9 1006.9L666.5 1002.6L658.8 1000L649.2 1004.4zM649.2 1004.4L658.8 1000L651.2 997.3L641.6 1001.8zM641.6 1001.8L651.2 997.3L643.5 994.6L634 999.1zM634 999.1L643.5 994.6L635.9 991.7L626.3 996.3zM626.3 996.3L635.9 991.7L628.3 988.6L618.7 993.4zM618.7 993.4L628.3 988.6L620.6 985.3L611 990.2zM611 990.2L620.6 985.3L613 981.8L603.4 986.8zM603.4 986.8L613 981.8L605.3 977.9L595.8 983.1zM595.8 983.1L605.3 977.9L597.7 973.6L588.1 979zM588.1 979L597.7 973.6L590.1 969L580.5 974.6zM580.5 974.6L590.1 969L582.4 964L572.8 969.8zM572.8 969.8L582.4 964L574.8 958.5L565.2 964.6zM565.2 964.6L574.8 958.5L567.2 952.5L557.6 959zM666.5 1002.6L676 998.6L668.4 996L658.8 1000zM658.8 1000L668.4 996L660.8 993.2L651.2 997.3zM651.2 997.3L660.8 993.2L653.1 990.4L643.5 994.6zM643.5 994.6L653.1 990.4L645.5 987.4L635.9 991.7zM635.9 991.7L645.5 987.4L637.8 984.2L628.3 988.6zM628.3 988.6L637.8 984.2L630.2 980.7L620.6 985.3zM620.6 985.3L630.2 980.7L622.6 977L613 981.8zM613 981.8L622.6 977L614.9 972.9L605.3 977.9zM605.3 977.9L614.9 972.9L607.3 968.5L597.7 973.6zM597.7 973.6L607.3 968.5L599.7 963.6L590.1 969zM590.1 969L599.7 963.6L592 958.2L582.4 964zM668.4 996L678 992.3L670.3 989.4L660.8 993.2zM660.8 993.2L670.3 989.4L662.7 986.5L653.1 990.4zM653.1 990.4L662.7 986.5L655.1 983.3L645.5 987.4zM645.5 987.4L655.1 983.3L647.4 980L637.8 984.2zM637.8 984.2L647.4 980L639.8 976.4L630.2 980.7zM630.2 980.7L639.8 976.4L632.2 972.5L622.6 977zM622.6 977L632.2 972.5L624.5 968.2L614.9 972.9zM614.9 972.9L624.5 968.2L616.9 963.5L607.3 968.5zM662.7 986.5L672.3 982.8L664.7 979.6L655.1 983.3zM655.1 983.3L664.7 979.6L657 976.1L647.4 980zM647.4 980L657 976.1L649.4 972.3L639.8 976.4zM639.8 976.4L649.4 972.3L641.7 968.2L632.2 972.5z"/>
<path fill="#ffa700" stroke="#ffa700" d="M748.4 1070.8L758 1063.9L750.4 1059.7L740.8 1066.4zM740.8 1066.4L750.4 1059.7L742.7 1055.8L733.2 1062.3zM733.2 1062.3L742.7 1055.8L735.1 1052.4L725.5 1058.6zM725.5 1058.6L735.1 1052.4L727.5 1049.2L717.9 1055.3zM717.9 1055.3L727.5 1049.2L719.8 1046.3L710.2 1052.2zM710.2 1052.2L719.8 1046.3L712.2 1043.7L702.6 1049.4zM702.6 1049.4L712.2 1043.7L704.5 1041.3L695 1046.8zM695 1046.8L704.5 1041.3L696.9 1039L687.3 1044.4zM687.3 1044.4L696.9 1039L689.3 1036.9L679.7 1042.2zM780.9 1079L790.5 1071.2L782.9 1066L773.3 1073.5zM773.3 1073.5L782.9 1066L775.2 1061.3L765.7 1068.4zM765.7 1068.4L775.2 1061.3L767.6 1057L758 1063.9zM758 1063.9L767.6 1057L760 1053.1L750.4 1059.7zM750.4 1059.7L760 1053.1L752.3 1049.5L742.7 1055.8zM719.8 1046.3L729.4 1040.7L721.8 1038.2L712.2 1043.7zM712.2 1043.7L721.8 1038.2L714.1 1035.9L704.5 1041.3zM704.5 1041.3L714.1 1035.9L706.5 1033.8L696.9 1039zM696.9 1039L706.5 1033.8L698.8 1031.8L689.3 1036.9zM689.3 1036.9L698.8 1031.8L691.2 1029.9L681.6 1034.9zM681.6 1034.9L691.2 1029.9L683.6 1028L674 1032.9zM490.6 948.9L500.2 940.2L492.6 932.3L483 941.5zM805.8 1083L815.4 1074.5L807.7 1068.8L798.2 1076.8zM798.2 1076.8L807.7 1068.8L800.1 1063.5L790.5 1071.2zM790.5 1071.2L800.1 1063.5L792.5 1058.7L782.9 1066zM706.5 1033.8L716.1 1028.8L708.4 1026.9L698.8 1031.8zM698.8 1031.8L708.4 1026.9L700.8 1025.1L691.2 1029.9zM691.2 1029.9L700.8 1025.1L693.1 1023.3L683.6 1028zM683.6 1028L693.1 1023.3L685.5 1021.5L675.9 1026.1zM675.9 1026.1L685.5 1021.5L677.9 1019.6L668.3 1024.3zM515.5 954.4L525.1 946.7L517.4 939.4L507.8 947.6zM507.8 947.6L517.4 939.4L509.8 931.6L500.2 940.2zM830.7 1087.6L840.2 1078.3L832.6 1072L823 1080.8zM823 1080.8L832.6 1072L825 1066.2L815.4 1074.5zM700.8 1025.1L710.4 1020.5L702.7 1018.8L693.1 1023.3zM693.1 1023.3L702.7 1018.8L695.1 1017L685.5 1021.5zM685.5 1021.5L695.1 1017L687.4 1015.2L677.9 1019.6zM677.9 1019.6L687.4 1015.2L679.8 1013.3L670.2 1017.7zM532.7 953.5L542.3 946.2L534.7 939L525.1 946.7zM525.1 946.7L534.7 939L527 931.2L517.4 939.4zM847.9 1085.1L857.5 1075.5L849.8 1069.2L840.2 1078.3zM702.7 1018.8L712.3 1014.5L704.7 1012.8L695.1 1017zM695.1 1017L704.7 1012.8L697 1011L687.4 1015.2zM687.4 1015.2L697 1011L689.4 1009.1L679.8 1013.3zM679.8 1013.3L689.4 1009.1L681.7 1007.1L672.2 1011.3zM557.6 959L567.2 952.5L559.5 946L549.9 952.8zM549.9 952.8L559.5 946L551.9 938.9L542.3 946.2zM872.7 1089.7L882.3 1079.3L874.7 1072.6L865.1 1082.4zM704.7 1012.8L714.2 1009L706.6 1007.2L697 1011zM697 1011L706.6 1007.2L699 1005.3L689.4 1009.1zM689.4 1009.1L699 1005.3L691.3 1003.3L681.7 1007.1zM681.7 1007.1L691.3 1003.3L683.7 1001L674.1 1004.9zM674.1 1004.9L683.7 1001L676 998.6L666.5 1002.6zM582.4 964L592 958.2L584.4 952.4L574.8 958.5zM574.8 958.5L584.4 952.4L576.7 946.1L567.2 952.5zM567.2 952.5L576.7 946.1L569.1 939.2L559.5 946zM706.6 1007.2L716.2 1003.8L708.5 1001.9L699 1005.3zM699 1005.3L708.5 1001.9L700.9 999.8L691.3 1003.3zM691.3 1003.3L700.9 999.8L693.3 997.5L683.7 1001zM683.7 1001L693.3 997.5L685.6 995L676 998.6zM676 998.6L685.6 995L678 992.3L668.4 996zM607.3 968.5L616.9 963.5L609.2 958.3L599.7 963.6zM599.7 963.6L609.2 958.3L601.6 952.7L592 958.2zM592 958.2L601.6 952.7L594 946.5L584.4 952.4zM584.4 952.4L594 946.5L586.3 939.8L576.7 946.1zM716.2 1003.8L725.8 1000.7L718.1 998.8L708.5 1001.9zM708.5 1001.9L718.1 998.8L710.5 996.7L700.9 999.8zM700.9 999.8L710.5 996.7L702.8 994.3L693.3 997.5zM693.3 997.5L702.8 994.3L695.2 991.7L685.6 995zM685.6 995L695.2 991.7L687.6 988.9L678 992.3zM678 992.3L687.6 988.9L679.9 985.9L670.3 989.4zM670.3 989.4L679.9 985.9L672.3 982.8L662.7 986.5zM632.2 972.5L641.7 968.2L634.1 963.7L624.5 968.2zM624.5 968.2L634.1 963.7L626.5 958.7L616.9 963.5zM616.9 963.5L626.5 958.7L618.8 953.3L609.2 958.3zM609.2 958.3L618.8 953.3L611.2 947.3L601.6 952.7zM718.1 998.8L727.7 996.1L720.1 993.9L710.5 996.7zM710.5 996.7L720.1 993.9L712.4 991.5L702.8 994.3zM702.8 994.3L712.4 991.5L704.8 988.8L695.2 991.7zM695.2 991.7L704.8 988.8L697.1 985.9L687.6 988.9zM687.6 988.9L697.1 985.9L689.5 982.8L679.9 985.9zM679.9 985.9L689.5 982.8L681.9 979.5L672.3 982.8zM672.3 982.8L681.9 979.5L674.2 976.1L664.7 979.6zM664.7 979.6L674.2 976.1L666.6 972.5L657 976.1zM657 976.1L666.6 972.5L659 968.5L649.4 972.3zM649.4 972.3L659 968.5L651.3 964.1L641.7 968.2zM641.7 968.2L651.3 964.1L643.7 959.4L634.1 963.7zM634.1 963.7L643.7 959.4L636 954.1L626.5 958.7zM626.5 958.7L636 954.1L628.4 948.4L618.8 953.3zM727.7 996.1L737.3 993.8L729.6 991.6L720.1 993.9zM720.1 993.9L729.6 991.6L722 989.1L712.4 991.5zM712.4 991.5L722 989.1L714.4 986.3L704.8 988.8zM704.8 988.8L714.4 986.3L706.7 983.2L697.1 985.9zM697.1 985.9L706.7 983.2L699.1 979.9L689.5 982.8zM689.5 982.8L699.1 979.9L691.5 976.5L681.9 979.5zM681.9 979.5L691.5 976.5L683.8 973L674.2 976.1zM674.2 976.1L683.8 973L676.2 969.1L666.6 972.5zM666.6 972.5L676.2 969.1L668.5 964.9L659 968.5zM659 968.5L668.5 964.9L660.9 960.3L651.3 964.1zM651.3 964.1L660.9 960.3L653.3 955.3L643.7 959.4zM643.7 959.4L653.3 955.3L645.6 949.8L636 954.1zM737.3 993.8L746.9 991.9L739.2 989.6L729.6 991.6zM729.6 991.6L739.2 989.6L731.6 987L722 989.1zM722 989.1L731.6 987L724 984.1L714.4 986.3zM714.4 986.3L724 984.1L716.3 980.8L706.7 983.2zM706.7 983.2L716.3 980.8L708.7 977.4L699.1 979.9zM699.1 979.9L708.7 977.4L701 973.9L691.5 976.5zM691.5 976.5L701 973.9L693.4 970.1L683.8 973zM683.8 973L693.4 970.1L685.8 966L676.2 969.1zM676.2 969.1L685.8 966L678.1 961.6L668.5 964.9zM668.5 964.9L678.1 961.6L670.5 956.8L660.9 960.3zM660.9 960.3L670.5 956.8L662.8 951.5L653.3 955.3z"/>
<path fill="#ff9700" stroke="#ff9700" d="M742.7 1055.8L752.3 1049.5L744.7 1046.3L735.1 1052.4zM735.1 1052.4L744.7 1046.3L737 1043.4L727.5 1049.2zM727.5 1049.2L737 1043.4L729.4 1040.7L719.8 1046.3zM782.9 1066L792.5 1058.7L784.8 1054.3L775.2 1061.3zM775.2 1061.3L784.8 1054.3L777.2 1050.3L767.6 1057zM767.6 1057L777.2 1050.3L769.5 1046.7L760 1053.1zM760 1053.1L769.5 1046.7L761.9 1043.4L752.3 1049.5zM752.3 1049.5L761.9 1043.4L754.3 1040.4L744.7 1046.3zM744.7 1046.3L754.3 1040.4L746.6 1037.7L737 1043.4zM737 1043.4L746.6 1037.7L739 1035.2L729.4 1040.7zM729.4 1040.7L739 1035.2L731.3 1032.9L721.8 1038.2zM721.8 1038.2L731.3 1032.9L723.7 1030.8L714.1 1035.9zM714.1 1035.9L723.7 1030.8L716.1 1028.8L706.5 1033.8zM500.2 940.2L509.8 931.6L502.2 923.1L492.6 932.3zM815.4 1074.5L825 1066.2L817.3 1060.9L807.7 1068.8zM807.7 1068.8L817.3 1060.9L809.7 1056L800.1 1063.5zM800.1 1063.5L809.7 1056L802 1051.5L792.5 1058.7zM792.5 1058.7L802 1051.5L794.4 1047.5L784.8 1054.3zM739 1035.2L748.6 1029.9L740.9 1027.8L731.3 1032.9zM731.3 1032.9L740.9 1027.8L733.3 1025.9L723.7 1030.8zM723.7 1030.8L733.3 1025.9L725.6 1024L716.1 1028.8zM716.1 1028.8L725.6 1024L718 1022.2L708.4 1026.9zM708.4 1026.9L718 1022.2L710.4 1020.5L700.8 1025.1zM517.4 939.4L527 931.2L519.4 922.8L509.8 931.6zM840.2 1078.3L849.8 1069.2L842.2 1063.4L832.6 1072zM832.6 1072L842.2 1063.4L834.5 1058L825 1066.2zM825 1066.2L834.5 1058L826.9 1053.1L817.3 1060.9zM733.3 1025.9L742.9 1021.2L735.2 1019.5L725.6 1024zM725.6 1024L735.2 1019.5L727.6 1017.8L718 1022.2zM718 1022.2L727.6 1017.8L719.9 1016.2L710.4 1020.5zM710.4 1020.5L719.9 1016.2L712.3 1014.5L702.7 1018.8zM542.3 946.2L551.9 938.9L544.2 931.2L534.7 939zM534.7 939L544.2 931.2L536.6 923L527 931.2zM865.1 1082.4L874.7 1072.6L867 1066.3L857.5 1075.5zM857.5 1075.5L867 1066.3L859.4 1060.4L849.8 1069.2zM735.2 1019.5L744.8 1015.3L737.2 1013.8L727.6 1017.8zM727.6 1017.8L737.2 1013.8L729.5 1012.2L719.9 1016.2zM719.9 1016.2L729.5 1012.2L721.9 1010.6L712.3 1014.5zM712.3 1014.5L721.9 1010.6L714.2 1009L704.7 1012.8zM559.5 946L569.1 939.2L561.5 931.7L551.9 938.9zM551.9 938.9L561.5 931.7L553.8 923.5L544.2 931.2zM882.3 1079.3L891.9 1069.3L884.3 1063.1L874.7 1072.6zM737.2 1013.8L746.7 1010.1L739.1 1008.7L729.5 1012.2zM729.5 1012.2L739.1 1008.7L731.5 1007.1L721.9 1010.6zM721.9 1010.6L731.5 1007.1L723.8 1005.5L714.2 1009zM714.2 1009L723.8 1005.5L716.2 1003.8L706.6 1007.2zM576.7 946.1L586.3 939.8L578.7 932.5L569.1 939.2zM569.1 939.2L578.7 932.5L571 924.5L561.5 931.7zM739.1 1008.7L748.7 1005.6L741 1004.1L731.5 1007.1zM731.5 1007.1L741 1004.1L733.4 1002.5L723.8 1005.5zM723.8 1005.5L733.4 1002.5L725.8 1000.7L716.2 1003.8zM601.6 952.7L611.2 947.3L603.5 940.8L594 946.5zM594 946.5L603.5 940.8L595.9 933.6L586.3 939.8zM586.3 939.8L595.9 933.6L588.3 925.8L578.7 932.5zM748.7 1005.6L758.3 1002.9L750.6 1001.4L741 1004.1zM741 1004.1L750.6 1001.4L743 999.8L733.4 1002.5zM733.4 1002.5L743 999.8L735.3 998.1L725.8 1000.7zM725.8 1000.7L735.3 998.1L727.7 996.1L718.1 998.8zM618.8 953.3L628.4 948.4L620.8 942.1L611.2 947.3zM611.2 947.3L620.8 942.1L613.1 935.1L603.5 940.8zM603.5 940.8L613.1 935.1L605.5 927.6L595.9 933.6zM758.3 1002.9L767.8 1000.6L760.2 999.2L750.6 1001.4zM750.6 1001.4L760.2 999.2L752.6 997.6L743 999.8zM743 999.8L752.6 997.6L744.9 995.8L735.3 998.1zM735.3 998.1L744.9 995.8L737.3 993.8L727.7 996.1zM636 954.1L645.6 949.8L638 943.7L628.4 948.4zM628.4 948.4L638 943.7L630.3 937L620.8 942.1zM620.8 942.1L630.3 937L622.7 929.6L613.1 935.1zM767.8 1000.6L777.4 998.7L769.8 997.4L760.2 999.2zM760.2 999.2L769.8 997.4L762.1 995.8L752.6 997.6zM752.6 997.6L762.1 995.8L754.5 994L744.9 995.8zM744.9 995.8L754.5 994L746.9 991.9L737.3 993.8zM653.3 955.3L662.8 951.5L655.2 945.6L645.6 949.8zM645.6 949.8L655.2 945.6L647.6 939.2L638 943.7zM638 943.7L647.6 939.2L639.9 932.1L630.3 937z"/>
<path fill="#ff8700" stroke="#ff8700" d="M784.8 1054.3L794.4 1047.5L786.8 1043.8L777.2 1050.3zM777.2 1050.3L786.8 1043.8L779.1 1040.4L769.5 1046.7zM769.5 1046.7L779.1 1040.4L771.5 1037.4L761.9 1043.4zM761.9 1043.4L771.5 1037.4L763.8 1034.7L754.3 1040.4zM754.3 1040.4L763.8 1034.7L756.2 1032.2L746.6 1037.7zM746.6 1037.7L756.2 1032.2L748.6 1029.9L739 1035.2zM509.8 931.6L519.4 922.8L511.7 913.9L502.2 923.1zM817.3 1060.9L826.9 1053.1L819.3 1048.6L809.7 1056zM809.7 1056L819.3 1048.6L811.6 1044.5L802 1051.5zM802 1051.5L811.6 1044.5L804 1040.8L794.4 1047.5zM794.4 1047.5L804 1040.8L796.3 1037.4L786.8 1043.8zM786.8 1043.8L796.3 1037.4L788.7 1034.4L779.1 1040.4zM779.1 1040.4L788.7 1034.4L781.1 1031.7L771.5 1037.4zM771.5 1037.4L781.1 1031.7L773.4 1029.2L763.8 1034.7zM763.8 1034.7L773.4 1029.2L765.8 1026.9L756.2 1032.2zM756.2 1032.2L765.8 1026.9L758.1 1024.9L748.6 1029.9zM748.6 1029.9L758.1 1024.9L750.5 1023L740.9 1027.8zM740.9 1027.8L750.5 1023L742.9 1021.2L733.3 1025.9zM527 931.2L536.6 923L529 914.1L519.4 922.8zM849.8 1069.2L859.4 1060.4L851.8 1055.1L842.2 1063.4zM842.2 1063.4L851.8 1055.1L844.1 1050.2L834.5 1058zM834.5 1058L844.1 1050.2L836.5 1045.7L826.9 1053.1zM765.8 1026.9L775.4 1022.1L767.7 1020.2L758.1 1024.9zM758.1 1024.9L767.7 1020.2L760.1 1018.5L750.5 1023zM750.5 1023L760.1 1018.5L752.4 1016.9L742.9 1021.2zM742.9 1021.2L752.4 1016.9L744.8 1015.3L735.2 1019.5zM544.2 931.2L553.8 923.5L546.2 914.7L536.6 923zM874.7 1072.6L884.3 1063.1L876.6 1057.4L867 1066.3zM867 1066.3L876.6 1057.4L869 1052.1L859.4 1060.4zM760.1 1018.5L769.7 1014.5L762 1013L752.4 1016.9zM752.4 1016.9L762 1013L754.4 1011.6L744.8 1015.3zM744.8 1015.3L754.4 1011.6L746.7 1010.1L737.2 1013.8zM561.5 931.7L571 924.5L563.4 915.8L553.8 923.5zM891.9 1069.3L901.5 1059.6L893.8 1054L884.3 1063.1zM769.7 1014.5L779.2 1010.9L771.6 1009.6L762 1013zM762 1013L771.6 1009.6L764 1008.3L754.4 1011.6zM754.4 1011.6L764 1008.3L756.3 1006.9L746.7 1010.1zM746.7 1010.1L756.3 1006.9L748.7 1005.6L739.1 1008.7zM578.7 932.5L588.3 925.8L580.6 917.4L571 924.5zM771.6 1009.6L781.2 1006.6L773.5 1005.4L764 1008.3zM764 1008.3L773.5 1005.4L765.9 1004.2L756.3 1006.9zM756.3 1006.9L765.9 1004.2L758.3 1002.9L748.7 1005.6zM595.9 933.6L605.5 927.6L597.8 919.3L588.3 925.8zM781.2 1006.6L790.8 1004L783.1 1003L773.5 1005.4zM773.5 1005.4L783.1 1003L775.5 1001.8L765.9 1004.2zM765.9 1004.2L775.5 1001.8L767.8 1000.6L758.3 1002.9zM613.1 935.1L622.7 929.6L615.1 921.6L605.5 927.6zM790.8 1004L800.3 1001.9L792.7 1001L783.1 1003zM783.1 1003L792.7 1001L785.1 999.9L775.5 1001.8zM775.5 1001.8L785.1 999.9L777.4 998.7L767.8 1000.6zM630.3 937L639.9 932.1L632.3 924.3L622.7 929.6zM622.7 929.6L632.3 924.3L624.6 915.8L615.1 921.6z"/>
<path fill="#ff7800" stroke="#ff7800" d="M519.4 922.8L529 914.1L521.3 904.5L511.7 913.9zM826.9 1053.1L836.5 1045.7L828.8 1041.6L819.3 1048.6zM819.3 1048.6L828.8 1041.6L821.2 1037.9L811.6 1044.5zM811.6 1044.5L821.2 1037.9L813.6 1034.5L804 1040.8zM804 1040.8L813.6 1034.5L805.9 1031.5L796.3 1037.4zM796.3 1037.4L805.9 1031.5L798.3 1028.8L788.7 1034.4zM788.7 1034.4L798.3 1028.8L790.6 1026.3L781.1 1031.7zM781.1 1031.7L790.6 1026.3L783 1024.1L773.4 1029.2zM773.4 1029.2L783 1024.1L775.4 1022.1L765.8 1026.9zM536.6 923L546.2 914.7L538.5 905.3L529 914.1zM859.4 1060.4L869 1052.1L861.3 1047.2L851.8 1055.1zM851.8 1055.1L861.3 1047.2L853.7 1042.7L844.1 1050.2zM844.1 1050.2L853.7 1042.7L846.1 1038.7L836.5 1045.7zM836.5 1045.7L846.1 1038.7L838.4 1035L828.8 1041.6zM828.8 1041.6L838.4 1035L830.8 1031.7L821.2 1037.9zM821.2 1037.9L830.8 1031.7L823.1 1028.7L813.6 1034.5zM813.6 1034.5L823.1 1028.7L815.5 1026L805.9 1031.5zM805.9 1031.5L815.5 1026L807.9 1023.6L798.3 1028.8zM798.3 1028.8L807.9 1023.6L800.2 1021.4L790.6 1026.3zM790.6 1026.3L800.2 1021.4L792.6 1019.4L783 1024.1zM783 1024.1L792.6 1019.4L784.9 1017.7L775.4 1022.1zM775.4 1022.1L784.9 1017.7L777.3 1016L767.7 1020.2zM767.7 1020.2L777.3 1016L769.7 1014.5L760.1 1018.5zM553.8 923.5L563.4 915.8L555.8 906.5L546.2 914.7zM884.3 1063.1L893.8 1054L886.2 1048.8L876.6 1057.4zM876.6 1057.4L886.2 1048.8L878.6 1044.1L869 1052.1zM869 1052.1L878.6 1044.1L870.9 1039.7L861.3 1047.2zM792.6 1019.4L802.2 1015.2L794.5 1013.7L784.9 1017.7zM784.9 1017.7L794.5 1013.7L786.9 1012.2L777.3 1016zM777.3 1016L786.9 1012.2L779.2 1010.9L769.7 1014.5zM571 924.5L580.6 917.4L573 908.2L563.4 915.8zM794.5 1013.7L804.1 1010.1L796.5 1008.9L786.9 1012.2zM786.9 1012.2L796.5 1008.9L788.8 1007.7L779.2 1010.9zM779.2 1010.9L788.8 1007.7L781.2 1006.6L771.6 1009.6zM588.3 925.8L597.8 919.3L590.2 910.3L580.6 917.4zM580.6 917.4L590.2 910.3L582.6 900.6L573 908.2zM804.1 1010.1L813.7 1007L806 1006L796.5 1008.9zM796.5 1008.9L806 1006L798.4 1005L788.8 1007.7zM788.8 1007.7L798.4 1005L790.8 1004L781.2 1006.6zM605.5 927.6L615.1 921.6L607.4 912.9L597.8 919.3zM597.8 919.3L607.4 912.9L599.8 903.3L590.2 910.3zM806 1006L815.6 1003.6L808 1002.8L798.4 1005zM798.4 1005L808 1002.8L800.3 1001.9L790.8 1004zM615.1 921.6L624.6 915.8L617 906.5L607.4 912.9z"/>
<path fill="#ff6800" stroke="#ff6800" d="M529 914.1L538.5 905.3L530.9 895.1L521.3 904.5zM546.2 914.7L555.8 906.5L548.1 896.4L538.5 905.3zM861.3 1047.2L870.9 1039.7L863.3 1035.7L853.7 1042.7zM853.7 1042.7L863.3 1035.7L855.6 1032.1L846.1 1038.7zM846.1 1038.7L855.6 1032.1L848 1028.8L838.4 1035zM838.4 1035L848 1028.8L840.4 1025.9L830.8 1031.7zM830.8 1031.7L840.4 1025.9L832.7 1023.3L823.1 1028.7zM823.1 1028.7L832.7 1023.3L825.1 1020.9L815.5 1026zM815.5 1026L825.1 1020.9L817.4 1018.8L807.9 1023.6zM807.9 1023.6L817.4 1018.8L809.8 1016.9L800.2 1021.4zM800.2 1021.4L809.8 1016.9L802.2 1015.2L792.6 1019.4zM563.4 915.8L573 908.2L565.3 898.2L555.8 906.5zM555.8 906.5L565.3 898.2L557.7 887.5L548.1 896.4zM901.5 1059.6L911.1 1050.3L903.4 1045.3L893.8 1054zM893.8 1054L903.4 1045.3L895.8 1040.7L886.2 1048.8zM886.2 1048.8L895.8 1040.7L888.1 1036.4L878.6 1044.1zM878.6 1044.1L888.1 1036.4L880.5 1032.6L870.9 1039.7zM870.9 1039.7L880.5 1032.6L872.9 1029.1L863.3 1035.7zM832.7 1023.3L842.3 1018.3L834.7 1016.3L825.1 1020.9zM825.1 1020.9L834.7 1016.3L827 1014.5L817.4 1018.8zM817.4 1018.8L827 1014.5L819.4 1012.9L809.8 1016.9zM809.8 1016.9L819.4 1012.9L811.7 1011.4L802.2 1015.2zM802.2 1015.2L811.7 1011.4L804.1 1010.1L794.5 1013.7zM573 908.2L582.6 900.6L574.9 890L565.3 898.2zM827 1014.5L836.6 1010.6L829 1009.3L819.4 1012.9zM819.4 1012.9L829 1009.3L821.3 1008.1L811.7 1011.4zM811.7 1011.4L821.3 1008.1L813.7 1007L804.1 1010.1zM590.2 910.3L599.8 903.3L592.1 892.9L582.6 900.6zM829 1009.3L838.5 1006.1L830.9 1005.2L821.3 1008.1zM821.3 1008.1L830.9 1005.2L823.3 1004.4L813.7 1007zM813.7 1007L823.3 1004.4L815.6 1003.6L806 1006zM607.4 912.9L617 906.5L609.4 896.4L599.8 903.3z"/>
<path fill="#ff5800" stroke="#ff5800" d="M538.5 905.3L548.1 896.4L540.5 885.6L530.9 895.1zM548.1 896.4L557.7 887.5L550.1 876L540.5 885.6zM863.3 1035.7L872.9 1029.1L865.2 1025.9L855.6 1032.1zM855.6 1032.1L865.2 1025.9L857.6 1023.1L848 1028.8zM848 1028.8L857.6 1023.1L849.9 1020.5L840.4 1025.9zM840.4 1025.9L849.9 1020.5L842.3 1018.3L832.7 1023.3zM565.3 898.2L574.9 890L567.3 878.6L557.7 887.5zM911.1 1050.3L920.6 1041.3L913 1036.9L903.4 1045.3zM903.4 1045.3L913 1036.9L905.4 1032.9L895.8 1040.7zM895.8 1040.7L905.4 1032.9L897.7 1029.2L888.1 1036.4zM888.1 1036.4L897.7 1029.2L890.1 1025.9L880.5 1032.6zM880.5 1032.6L890.1 1025.9L882.4 1022.9L872.9 1029.1zM872.9 1029.1L882.4 1022.9L874.8 1020.1L865.2 1025.9zM865.2 1025.9L874.8 1020.1L867.2 1017.7L857.6 1023.1zM857.6 1023.1L867.2 1017.7L859.5 1015.6L849.9 1020.5zM849.9 1020.5L859.5 1015.6L851.9 1013.7L842.3 1018.3zM842.3 1018.3L851.9 1013.7L844.2 1012.1L834.7 1016.3zM834.7 1016.3L844.2 1012.1L836.6 1010.6L827 1014.5zM582.6 900.6L592.1 892.9L584.5 881.7L574.9 890zM859.5 1015.6L869.1 1011.1L861.5 1009.6L851.9 1013.7zM851.9 1013.7L861.5 1009.6L853.8 1008.3L844.2 1012.1zM844.2 1012.1L853.8 1008.3L846.2 1007.2L836.6 1010.6zM836.6 1010.6L846.2 1007.2L838.5 1006.1L829 1009.3zM599.8 903.3L609.4 896.4L601.7 885.4L592.1 892.9z"/>
<path fill="#ff4800" stroke="#ff4800" d="M557.7 887.5L567.3 878.6L559.6 866.3L550.1 876zM574.9 890L584.5 881.7L576.9 869.6L567.3 878.6zM920.6 1041.3L930.2 1032.6L922.6 1028.9L913 1036.9zM913 1036.9L922.6 1028.9L914.9 1025.5L905.4 1032.9zM905.4 1032.9L914.9 1025.5L907.3 1022.4L897.7 1029.2zM897.7 1029.2L907.3 1022.4L899.7 1019.6L890.1 1025.9zM890.1 1025.9L899.7 1019.6L892 1017L882.4 1022.9zM882.4 1022.9L892 1017L884.4 1014.8L874.8 1020.1zM874.8 1020.1L884.4 1014.8L876.7 1012.8L867.2 1017.7zM867.2 1017.7L876.7 1012.8L869.1 1011.1L859.5 1015.6zM592.1 892.9L601.7 885.4L594.1 873.5L584.5 881.7z"/>
<path fill="#ff3800" stroke="#ff3800" d="M567.3 878.6L576.9 869.6L569.2 856.5L559.6 866.3zM584.5 881.7L594.1 873.5L586.4 860.6L576.9 869.6z"/>
<path fill="#ff2800" stroke="#ff2800" d="M576.9 869.6L586.4 860.6L578.8 846.7L569.2 856.5z"/>
</g>
<path fill="none" stroke="#000" stroke-opacity="0.8" stroke-width="2" stroke-linejoin="round" d="M478.8 1434.7L478.1 1433.3L470.5 1419.5L462.8 1406.4L455.2 1394.1L447.5 1382.6L439.9 1371.8L432.3 1361.6L424.6 1352.2L417 1343.4L409.3 1335.1L401.7 1327.5L394.1 1320.4L386.4 1313.7L378.8 1307.6L371.1 1301.9L363.5 1296.5L355.9 1291.6L348.2 1287L340.6 1282.6L332.9 1278.5L325.3 1274.6L317.7 1270.9L310 1267.4L302.4 1263.8L294.7 1260.4L287.1 1256.9L279.5 1253.6L271.8 1250.2L264.2 1246.9L256.5 1243.7L248.9 1240.5L241.3 1237.3L233.6 1234.2L226 1231.2L218.3 1228.1L210.7 1225.2L203.1 1222.2L195.4 1219.4L187.8 1216.5L180.2 1213.7L172.5 1211L164.9 1208.3L157.2 1205.6M493.8 1434.6L493.4 1433.9L491.5 1430.2L489.6 1426.5L487.7 1423L480 1409.2L472.4 1396.2L464.8 1384L457.1 1372.6L449.5 1361.9L441.8 1351.8L434.2 1342.5L426.6 1333.7L418.9 1325.6L411.3 1318L403.6 1311L396 1304.5L388.4 1298.4L380.7 1292.8L373.1 1287.6L365.4 1282.7L357.8 1278.2L350.2 1273.9L342.5 1269.9L334.9 1266.1L327.2 1262.5L319.6 1259L312 1255.6L304.3 1252.2L296.7 1248.9L289 1245.6L281.4 1242.4L273.8 1239.2L266.1 1236L258.5 1232.9L250.8 1229.8L243.2 1226.8L235.6 1223.8L227.9 1220.9L220.3 1218L212.7 1215.2L205 1212.4L197.4 1209.7L189.7 1207L182.1 1204.3L174.5 1201.7L166.8 1199.1M508.5 1434.4L506.8 1430.9L504.9 1427.1L497.3 1412.6L489.6 1398.9L482 1386L474.3 1373.9L466.7 1362.6L459.1 1352L451.4 1342L443.8 1332.8L436.1 1324.1L428.5 1316.1L420.9 1308.6L413.2 1301.7L405.6 1295.2L397.9 1289.3L390.3 1283.7L382.7 1278.6L375 1273.8L367.4 1269.4L359.7 1265.2L352.1 1261.3L344.5 1257.6L336.8 1254.1L329.2 1250.7L321.5 1247.4L313.9 1244.1L306.3 1240.8L298.6 1237.6L291 1234.5L283.3 1231.4L275.7 1228.3L268.1 1225.3L260.4 1222.3L252.8 1219.4L245.2 1216.5L237.5 1213.6L229.9 1210.9L222.2 1208.1L214.6 1205.4L207 1202.7L199.3 1200.1L191.7 1197.6L184 1195L176.4 1192.6M523.1 1434.1L522.1 1432L514.5 1416.7L506.8 1402.3L499.2 1388.7L491.6 1375.9L483.9 1363.9L476.3 1352.6L468.6 1342.1L461 1332.2L453.4 1323.1L445.7 1314.5L438.1 1306.6L430.4 1299.2L422.8 1292.3L415.2 1286L407.5 1280.1L399.9 1274.7L392.2 1269.6L384.6 1264.9L377 1260.6L369.3 1256.5L361.7 1252.7L354 1249.1L346.4 1245.6L338.8 1242.3L331.1 1239.1L323.5 1235.9L315.8 1232.7L308.2 1229.6L300.6 1226.6L292.9 1223.5L285.3 1220.6L277.7 1217.6L270 1214.7L262.4 1211.9L254.7 1209.1L247.1 1206.3L239.5 1203.6L231.8 1201L224.2 1198.3L216.5 1195.8L208.9 1193.2L201.3 1190.8L193.6 1188.3L186 1185.9M537.5 1433.7L537.4 1433.5L535.5 1429.4L533.6 1425.4L531.7 1421.5L524.1 1406.3L516.4 1391.9L508.8 1378.4L501.1 1365.7L493.5 1353.8L485.9 1342.6L478.2 1332.2L470.6 1322.5L462.9 1313.4L455.3 1304.9L447.7 1297.1L440 1289.8L432.4 1283L424.7 1276.8L417.1 1271L409.5 1265.6L401.8 1260.7L394.2 1256.1L386.5 1251.8L378.9 1247.8L371.3 1244.1L363.6 1240.6L356 1237.2L348.3 1234L340.7 1230.8L333.1 1227.7L325.4 1224.7L317.8 1221.6L310.2 1218.6L302.5 1215.7L294.9 1212.8L287.2 1210L279.6 1207.2L272 1204.4L264.3 1201.7L256.7 1199L249 1196.4L241.4 1193.8L233.8 1191.2L226.1 1188.8L218.5 1186.3L210.8 1183.9L203.2 1181.5L195.6 1179.2M551.8 1433.3L550.8 1431.1L548.9 1426.9L541.3 1410.9L533.6 1395.8L526 1381.6L518.4 1368.2L510.7 1355.6L503.1 1343.8L495.4 1332.7L487.8 1322.4L480.2 1312.7L472.5 1303.7L464.9 1295.4L457.2 1287.6L449.6 1280.4L442 1273.7L434.3 1267.6L426.7 1261.9L419 1256.6L411.4 1251.7L403.8 1247.2L396.1 1243.1L388.5 1239.2L380.8 1235.5L373.2 1232.1L365.6 1228.8L357.9 1225.7L350.3 1222.6L342.7 1219.6L335 1216.6L327.4 1213.6L319.7 1210.7L312.1 1207.9L304.5 1205.1L296.8 1202.3L289.2 1199.6L281.5 1196.9L273.9 1194.2L266.3 1191.6L258.6 1189.1L251 1186.6L243.3 1184.1L235.7 1181.7L228.1 1179.3L220.4 1177L212.8 1174.7L205.1 1172.4M566 1432.8L564.2 1428.9L562.3 1424.6L560.4 1420.4L558.5 1416.3L550.9 1400.4L543.2 1385.4L535.6 1371.3L527.9 1358L520.3 1345.5L512.7 1333.8L505 1322.8L497.4 1312.6L489.7 1303L482.1 1294.1L474.5 1285.9L466.8 1278.2L459.2 1271.1L451.5 1264.5L443.9 1258.4L436.3 1252.8L428.6 1247.6L421 1242.9L413.3 1238.4L405.7 1234.4L398.1 1230.5L390.4 1227L382.8 1223.6L375.1 1220.5L367.5 1217.4L359.9 1214.4L352.2 1211.4L344.6 1208.5L337 1205.7L329.3 1202.8L321.7 1200.1L314 1197.3L306.4 1194.6L298.8 1192L291.1 1189.4L283.5 1186.8L275.8 1184.3L268.2 1181.8L260.6 1179.3L252.9 1176.9L245.3 1174.6L237.6 1172.3L230 1170L222.4 1167.7L214.7 1165.5M575.7 1422.4L568.1 1405.7L560.4 1389.9L552.8 1375L545.2 1361L537.5 1347.8L529.9 1335.4L522.2 1323.8L514.6 1312.9L507 1302.8L499.3 1293.3L491.7 1284.5L484 1276.4L476.4 1268.8L468.8 1261.8L461.1 1255.3L453.5 1249.3L445.8 1243.8L438.2 1238.7L430.6 1234L422.9 1229.7L415.3 1225.7L407.6 1222L400 1218.5L392.4 1215.2L384.7 1212.1L377.1 1209.1L369.5 1206.2L361.8 1203.3L354.2 1200.5L346.5 1197.7L338.9 1195L331.3 1192.3L323.6 1189.6L316 1187L308.3 1184.4L300.7 1181.8L293.1 1179.3L285.4 1176.9L277.8 1174.5L270.1 1172.1L262.5 1169.7L254.9 1167.4L247.2 1165.2L239.6 1162.9L231.9 1160.7L224.3 1158.6M585.3 1411.7L577.7 1395.1L570 1379.4L562.4 1364.6L554.7 1350.7L547.1 1337.6L539.5 1325.4L531.8 1313.9L524.2 1303.1L516.5 1293.1L508.9 1283.7L501.3 1275L493.6 1267L486 1259.5L478.3 1252.6L470.7 1246.2L463.1 1240.3L455.4 1234.9L447.8 1229.9L440.1 1225.3L432.5 1221L424.9 1217.1L417.2 1213.4L409.6 1210.1L402 1206.9L394.3 1203.8L386.7 1200.9L379 1198.1L371.4 1195.3L363.8 1192.5L356.1 1189.8L348.5 1187.1L340.8 1184.5L333.2 1181.9L325.6 1179.3L317.9 1176.8L310.3 1174.3L302.6 1171.9L295 1169.5L287.4 1167.1L279.7 1164.8L272.1 1162.5L264.4 1160.2L256.8 1158L249.2 1155.8L241.5 1153.7L233.9 1151.5M594.9 1400.9L587.2 1384.5L579.6 1368.9L572 1354.3L564.3 1340.5L556.7 1327.5L549 1315.3L541.4 1304L533.8 1293.3L526.1 1283.4L518.5 1274.2L510.8 1265.6L503.2 1257.6L495.6 1250.2L487.9 1243.4L480.3 1237.1L472.6 1231.3L465 1226L457.4 1221.1L449.7 1216.6L442.1 1212.4L434.5 1208.6L426.8 1205L419.2 1201.7L411.5 1198.6L403.9 1195.6L396.3 1192.8L388.6 1190L381 1187.3L373.3 1184.6L365.7 1181.9L358.1 1179.3L350.4 1176.7L342.8 1174.2L335.1 1171.7L327.5 1169.3L319.9 1166.8L312.2 1164.4L304.6 1162.1L296.9 1159.8L289.3 1157.5L281.7 1155.2L274 1153L266.4 1150.8L258.7 1148.7L251.1 1146.5L243.5 1144.4M604.5 1390.2L596.8 1373.9L589.2 1358.5L581.5 1343.9L573.9 1330.3L566.3 1317.4L558.6 1305.4L551 1294.1L543.3 1283.6L535.7 1273.8L528.1 1264.6L520.4 1256.2L512.8 1248.3L505.1 1241L497.5 1234.3L489.9 1228.1L482.2 1222.4L474.6 1217.2L467 1212.4L459.3 1207.9L451.7 1203.8L444 1200.1L436.4 1196.6L428.8 1193.4L421.1 1190.3L413.5 1187.4L405.8 1184.7L398.2 1182L390.6 1179.3L382.9 1176.7L375.3 1174.1L367.6 1171.5L360 1169L352.4 1166.6L344.7 1164.1L337.1 1161.7L329.4 1159.3L321.8 1157L314.2 1154.7L306.5 1152.4L298.9 1150.2L291.2 1148L283.6 1145.8L276 1143.6L268.3 1141.5L260.7 1139.3L253 1137.2M614 1379.5L606.4 1363.3L598.8 1348L591.1 1333.6L583.5 1320.1L575.8 1307.4L568.2 1295.5L560.6 1284.3L552.9 1273.9L545.3 1264.2L537.6 1255.2L530 1246.8L522.4 1239.1L514.7 1231.9L507.1 1225.3L499.5 1219.2L491.8 1213.6L484.2 1208.4L476.5 1203.7L468.9 1199.4L461.3 1195.4L453.6 1191.7L446 1188.3L438.3 1185.1L430.7 1182.2L423.1 1179.3L415.4 1176.6L407.8 1174L400.1 1171.4L392.5 1168.8L384.9 1166.3L377.2 1163.8L369.6 1161.4L361.9 1158.9L354.3 1156.6L346.7 1154.2L339 1151.9L331.4 1149.6L323.7 1147.3L316.1 1145.1L308.5 1142.9L300.8 1140.7L293.2 1138.5L285.5 1136.3L277.9 1134.2L270.3 1132.1L262.6 1130M623.6 1368.7L616 1352.7L608.3 1337.6L600.7 1323.3L593.1 1309.9L585.4 1297.3L577.8 1285.6L570.1 1274.6L562.5 1264.3L554.9 1254.7L547.2 1245.8L539.6 1237.5L532 1229.9L524.3 1222.8L516.7 1216.3L509 1210.3L501.4 1204.8L493.8 1199.8L486.1 1195.1L478.5 1190.9L470.8 1187L463.2 1183.4L455.6 1180.1L447.9 1177L440.3 1174.1L432.6 1171.3L425 1168.7L417.4 1166.1L409.7 1163.6L402.1 1161.1L394.4 1158.6L386.8 1156.2L379.2 1153.8L371.5 1151.4L363.9 1149L356.2 1146.7L348.6 1144.4L341 1142.2L333.3 1139.9L325.7 1137.7L318 1135.5L310.4 1133.3L302.8 1131.2L295.1 1129L287.5 1126.9L279.8 1124.8L272.2 1122.6M633.2 1358L625.6 1342.1L617.9 1327.2L610.3 1313.1L602.6 1299.8L595 1287.4L587.4 1275.7L579.7 1264.9L572.1 1254.7L564.5 1245.3L556.8 1236.5L549.2 1228.3L541.5 1220.8L533.9 1213.9L526.3 1207.5L518.6 1201.6L511 1196.2L503.3 1191.2L495.7 1186.7L488.1 1182.5L480.4 1178.7L472.8 1175.2L465.1 1171.9L457.5 1168.9L449.9 1166.1L442.2 1163.4L434.6 1160.8L426.9 1158.3L419.3 1155.8L411.7 1153.4L404 1150.9L396.4 1148.5L388.7 1146.2L381.1 1143.9L373.5 1141.6L365.8 1139.3L358.2 1137L350.5 1134.8L342.9 1132.6L335.3 1130.4L327.6 1128.2L320 1126L312.3 1123.8L304.7 1121.7L297.1 1119.5L289.4 1117.4L281.8 1115.2M642.8 1347.3L635.1 1331.6L627.5 1316.8L619.9 1302.8L612.2 1289.7L604.6 1277.4L596.9 1266L589.3 1255.2L581.7 1245.2L574 1235.9L566.4 1227.2L558.8 1219.2L551.1 1211.8L543.5 1205L535.8 1198.7L528.2 1192.9L520.6 1187.6L512.9 1182.8L505.3 1178.3L497.6 1174.2L490 1170.5L482.4 1167L474.7 1163.9L467.1 1160.9L459.4 1158.1L451.8 1155.5L444.2 1153L436.5 1150.6L428.9 1148.1L421.2 1145.7L413.6 1143.3L406 1141L398.3 1138.7L390.7 1136.4L383 1134.1L375.4 1131.9L367.8 1129.7L360.1 1127.5L352.5 1125.3L344.8 1123.1L337.2 1120.9L329.6 1118.7L321.9 1116.5L314.3 1114.3L306.6 1112.1L299 1109.9L291.4 1107.7M652.4 1336.5L644.7 1321L637.1 1306.4L629.4 1292.6L621.8 1279.7L614.2 1267.6L606.5 1256.2L598.9 1245.6L591.3 1235.8L583.6 1226.6L576 1218.1L568.3 1210.2L560.7 1202.9L553.1 1196.2L545.4 1190L537.8 1184.4L530.1 1179.2L522.5 1174.4L514.9 1170L507.2 1166L499.6 1162.4L491.9 1159L484.3 1155.9L476.7 1153L469 1150.3L461.4 1147.8L453.7 1145.3L446.1 1142.9L438.5 1140.5L430.8 1138.2L423.2 1135.8L415.5 1133.5L407.9 1131.3L400.3 1129L392.6 1126.8L385 1124.6L377.3 1122.3L369.7 1120.1L362.1 1117.9L354.4 1115.7L346.8 1113.5L339.1 1111.3L331.5 1109.1L323.9 1106.9L316.2 1104.7L308.6 1102.4L300.9 1100.1M661.9 1325.8L654.3 1310.5L646.7 1296L639 1282.4L631.4 1269.7L623.8 1257.7L616.1 1246.6L608.5 1236.1L600.8 1226.4L593.2 1217.4L585.6 1209L577.9 1201.3L570.3 1194.1L562.6 1187.5L555 1181.5L547.4 1175.9L539.7 1170.8L532.1 1166.1L524.4 1161.9L516.8 1158L509.2 1154.4L501.5 1151.1L493.9 1148.1L486.2 1145.3L478.6 1142.6L471 1140.1L463.3 1137.7L455.7 1135.4L448 1133L440.4 1130.7L432.8 1128.4L425.1 1126.1L417.5 1123.9L409.8 1121.7L402.2 1119.5L394.6 1117.3L386.9 1115.1L379.3 1112.9L371.6 1110.7L364 1108.4L356.4 1106.2L348.7 1104L341.1 1101.7L333.4 1099.5L325.8 1097.2L318.2 1094.8L310.5 1092.5M671.5 1315.1L663.9 1299.9L656.3 1285.7L648.6 1272.3L641 1259.7L633.3 1248L625.7 1236.9L618.1 1226.7L610.4 1217.1L602.8 1208.2L595.1 1200L587.5 1192.4L579.9 1185.4L572.2 1178.9L564.6 1173L556.9 1167.5L549.3 1162.5L541.7 1158L534 1153.8L526.4 1150L518.7 1146.5L511.1 1143.3L503.5 1140.3L495.8 1137.6L488.2 1135L480.5 1132.6L472.9 1130.2L465.3 1127.9L457.6 1125.6L450 1123.3L442.3 1121.1L434.7 1118.8L427.1 1116.6L419.4 1114.4L411.8 1112.2L404.1 1110L396.5 1107.8L388.9 1105.6L381.2 1103.4L373.6 1101.2L365.9 1098.9L358.3 1096.6L350.7 1094.3L343 1092L335.4 1089.6L327.8 1087.2L320.1 1084.8M681.1 1304.3L673.5 1289.4L665.8 1275.4L658.2 1262.2L650.6 1249.8L642.9 1238.2L635.3 1227.4L627.6 1217.3L620 1207.9L612.4 1199.2L604.7 1191.1L597.1 1183.6L589.4 1176.8L581.8 1170.4L574.2 1164.6L566.5 1159.3L558.9 1154.4L551.2 1150L543.6 1145.9L536 1142.2L528.3 1138.7L520.7 1135.6L513 1132.7L505.4 1130L497.8 1127.5L490.1 1125.1L482.5 1122.8L474.8 1120.5L467.2 1118.3L459.6 1116L451.9 1113.8L444.3 1111.6L436.6 1109.4L429 1107.2L421.4 1105L413.7 1102.8L406.1 1100.6L398.4 1098.4L390.8 1096.2L383.2 1093.9L375.5 1091.6L367.9 1089.3L360.3 1086.9L352.6 1084.5L345 1082L337.3 1079.5L329.7 1076.9M690.7 1293.6L683.1 1278.9L675.4 1265.1L667.8 1252.1L660.1 1239.9L652.5 1228.6L644.9 1217.9L637.2 1208L629.6 1198.8L621.9 1190.2L614.3 1182.3L606.7 1175L599 1168.2L591.4 1162.1L583.7 1156.4L576.1 1151.2L568.5 1146.4L560.8 1142L553.2 1138.1L545.5 1134.4L537.9 1131.1L530.3 1128.1L522.6 1125.2L515 1122.6L507.3 1120.1L499.7 1117.8L492.1 1115.5L484.4 1113.3L476.8 1111.1L469.1 1108.8L461.5 1106.6L453.9 1104.5L446.2 1102.3L438.6 1100.1L430.9 1097.9L423.3 1095.7L415.7 1093.5L408 1091.3L400.4 1089L392.8 1086.7L385.1 1084.3L377.5 1081.9L369.8 1079.5L362.2 1077L354.6 1074.4L346.9 1071.8L339.3 1069.1M700.3 1282.9L692.6 1268.4L685 1254.8L677.4 1242.1L669.7 1230.1L662.1 1218.9L654.4 1208.5L646.8 1198.8L639.2 1189.7L631.5 1181.3L623.9 1173.6L616.2 1166.4L608.6 1159.8L601 1153.8L593.3 1148.2L585.7 1143.2L578 1138.5L570.4 1134.3L562.8 1130.4L555.1 1126.8L547.5 1123.6L539.8 1120.6L532.2 1117.9L524.6 1115.3L516.9 1112.9L509.3 1110.6L501.6 1108.4L494 1106.2L486.4 1103.9L478.7 1101.7L471.1 1099.6L463.4 1097.4L455.8 1095.2L448.2 1093.1L440.5 1090.9L432.9 1088.7L425.2 1086.5L417.6 1084.2L410 1081.9L402.3 1079.5L394.7 1077.1L387.1 1074.6L379.4 1072.1L371.8 1069.4L364.1 1066.7L356.5 1064L348.9 1061.1M709.9 1272.1L702.2 1257.9L694.6 1244.6L686.9 1232.1L679.3 1220.4L671.7 1209.4L664 1199.1L656.4 1189.6L648.7 1180.8L641.1 1172.6L633.5 1165L625.8 1158L618.2 1151.6L610.5 1145.6L602.9 1140.2L595.3 1135.3L587.6 1130.7L580 1126.6L572.3 1122.8L564.7 1119.4L557.1 1116.2L549.4 1113.3L541.8 1110.6L534.1 1108.1L526.5 1105.8L518.9 1103.5L511.2 1101.3L503.6 1099.1L495.9 1097L488.3 1094.8L480.7 1092.6L473 1090.5L465.4 1088.3L457.7 1086.1L450.1 1083.9L442.5 1081.7L434.8 1079.5L427.2 1077.1L419.6 1074.8L411.9 1072.3L404.3 1069.9L396.6 1067.3L389 1064.6L381.4 1061.9L373.7 1059L366.1 1056.1L358.4 1053.1M719.4 1261.4L711.8 1247.5L704.2 1234.4L696.5 1222.1L688.9 1210.6L681.2 1199.9L673.6 1189.9L666 1180.5L658.3 1171.9L650.7 1163.9L643 1156.5L635.4 1149.7L627.8 1143.4L620.1 1137.6L612.5 1132.3L604.8 1127.5L597.2 1123.1L589.6 1119.1L581.9 1115.4L574.3 1112.1L566.6 1109L559 1106.2L551.4 1103.6L543.7 1101.1L536.1 1098.8L528.4 1096.6L520.8 1094.4L513.2 1092.3L505.5 1090.1L497.9 1087.9L490.2 1085.8L482.6 1083.6L475 1081.5L467.3 1079.3L459.7 1077.1L452.1 1074.8L444.4 1072.5L436.8 1070.2L429.1 1067.7L421.5 1065.2L413.9 1062.6L406.2 1060L398.6 1057.2L390.9 1054.3L383.3 1051.3L375.7 1048.2L368 1044.9M729 1250.6L721.4 1237L713.7 1224.2L706.1 1212.2L698.5 1201L690.8 1190.5L683.2 1180.7L675.5 1171.6L667.9 1163.1L660.3 1155.3L652.6 1148.1L645 1141.4L637.3 1135.3L629.7 1129.7L622.1 1124.6L614.4 1119.9L606.8 1115.6L599.1 1111.7L591.5 1108.2L583.9 1104.9L576.2 1101.9L568.6 1099.2L560.9 1096.6L553.3 1094.2L545.7 1091.9L538 1089.8L530.4 1087.6L522.7 1085.5L515.1 1083.3L507.5 1081.2L499.8 1079L492.2 1076.9L484.6 1074.7L476.9 1072.5L469.3 1070.3L461.6 1068L454 1065.7L446.4 1063.2L438.7 1060.7L431.1 1058.1L423.4 1055.5L415.8 1052.6L408.2 1049.7L400.5 1046.7L392.9 1043.5L385.2 1040.2L377.6 1036.7M738.6 1239.9L731 1226.6L723.3 1214.1L715.7 1202.3L708 1191.4L700.4 1181.1L692.8 1171.5L685.1 1162.7L677.5 1154.4L669.8 1146.8L662.2 1139.8L654.6 1133.3L646.9 1127.4L639.3 1122L631.6 1117L624 1112.4L616.4 1108.3L608.7 1104.5L601.1 1101.1L593.4 1097.9L585.8 1095L578.2 1092.3L570.5 1089.8L562.9 1087.5L555.2 1085.2L547.6 1083.1L540 1081L532.3 1078.9L524.7 1076.7L517.1 1074.6L509.4 1072.4L501.8 1070.3L494.1 1068.1L486.5 1065.9L478.9 1063.6L471.2 1061.3L463.6 1058.9L455.9 1056.4L448.3 1053.8L440.7 1051.1L433 1048.3L425.4 1045.4L417.7 1042.3L410.1 1039.1L402.5 1035.7L394.8 1032.2L387.2 1028.5M748.2 1229.2L740.5 1216.2L732.9 1204L725.3 1192.5L717.6 1181.8L710 1171.8L702.3 1162.5L694.7 1153.9L687.1 1145.9L679.4 1138.5L671.8 1131.6L664.1 1125.4L656.5 1119.6L648.9 1114.3L641.2 1109.5L633.6 1105.1L625.9 1101.1L618.3 1097.4L610.7 1094.1L603 1091L595.4 1088.2L587.7 1085.6L580.1 1083.2L572.5 1080.9L564.8 1078.7L557.2 1076.6L549.6 1074.5L541.9 1072.4L534.3 1070.2L526.6 1068.1L519 1065.9L511.4 1063.8L503.7 1061.6L496.1 1059.3L488.4 1057L480.8 1054.6L473.2 1052.2L465.5 1049.6L457.9 1046.9L450.2 1044.1L442.6 1041.2L435 1038.1L427.3 1034.8L419.7 1031.4L412 1027.8L404.4 1024.1L396.8 1020.1M757.8 1218.4L750.1 1205.8L742.5 1193.9L734.8 1182.7L727.2 1172.3L719.6 1162.6L711.9 1153.5L704.3 1145.1L696.6 1137.4L689 1130.2L681.4 1123.6L673.7 1117.5L666.1 1111.9L658.4 1106.8L650.8 1102.2L643.2 1097.9L635.5 1094.1L627.9 1090.5L620.2 1087.3L612.6 1084.3L605 1081.6L597.3 1079L589.7 1076.7L582.1 1074.4L574.4 1072.3L566.8 1070.2L559.1 1068.1L551.5 1066L543.9 1063.9L536.2 1061.7L528.6 1059.6L520.9 1057.4L513.3 1055.2L505.7 1052.9L498 1050.5L490.4 1048.1L482.7 1045.5L475.1 1042.9L467.5 1040.1L459.8 1037.2L452.2 1034.1L444.5 1030.8L436.9 1027.4L429.3 1023.8L421.6 1020L414 1015.9L406.3 1011.7M767.3 1207.7L759.7 1195.4L752.1 1183.8L744.4 1173L736.8 1162.9L729.1 1153.4L721.5 1144.7L713.9 1136.5L706.2 1129L698.6 1122L690.9 1115.7L683.3 1109.8L675.7 1104.4L668 1099.5L660.4 1095L652.7 1090.9L645.1 1087.2L637.5 1083.8L629.8 1080.6L622.2 1077.8L614.6 1075.1L606.9 1072.7L599.3 1070.4L591.6 1068.2L584 1066L576.4 1064L568.7 1061.9L561.1 1059.8L553.4 1057.7L545.8 1055.5L538.2 1053.3L530.5 1051.1L522.9 1048.9L515.2 1046.5L507.6 1044.1L500 1041.6L492.3 1039L484.7 1036.2L477 1033.3L469.4 1030.3L461.8 1027L454.1 1023.6L446.5 1020L438.8 1016.1L431.2 1012L423.6 1007.7L415.9 1003.2M776.9 1197L769.3 1185L761.6 1173.8L754 1163.3L746.4 1153.5L738.7 1144.3L731.1 1135.9L723.4 1128L715.8 1120.7L708.2 1114L700.5 1107.9L692.9 1102.2L685.2 1097L677.6 1092.3L670 1088L662.3 1084L654.7 1080.4L647 1077.2L639.4 1074.2L631.8 1071.4L624.1 1068.8L616.5 1066.4L608.9 1064.2L601.2 1062L593.6 1060L585.9 1057.9L578.3 1055.9L570.7 1053.8L563 1051.6L555.4 1049.4L547.7 1047.2L540.1 1045L532.5 1042.7L524.8 1040.3L517.2 1037.9L509.5 1035.3L501.9 1032.5L494.3 1029.7L486.6 1026.6L479 1023.4L471.3 1020L463.7 1016.4L456.1 1012.5L448.4 1008.4L440.8 1004.1L433.1 999.5L425.5 994.6M786.5 1186.2L778.9 1174.7L771.2 1163.8L763.6 1153.6L755.9 1144.2L748.3 1135.3L740.7 1127.1L733 1119.6L725.4 1112.6L717.7 1106.1L710.1 1100.2L702.5 1094.8L694.8 1089.8L687.2 1085.3L679.5 1081.1L671.9 1077.3L664.3 1073.9L656.6 1070.7L649 1067.9L641.4 1065.2L633.7 1062.7L626.1 1060.4L618.4 1058.2L610.8 1056.1L603.2 1054.1L595.5 1052L587.9 1050L580.2 1047.9L572.6 1045.7L565 1043.5L557.3 1041.3L549.7 1039L542 1036.7L534.4 1034.2L526.8 1031.7L519.1 1029L511.5 1026.2L503.8 1023.2L496.2 1020L488.6 1016.6L480.9 1013L473.3 1009.2L465.6 1005.1L458 1000.7L450.4 996.1L442.7 991.2L435.1 985.9M796.1 1175.5L788.4 1164.3L780.8 1153.8L773.2 1144L765.5 1134.9L757.9 1126.4L750.2 1118.5L742.6 1111.2L735 1104.5L727.3 1098.3L719.7 1092.6L712 1087.4L704.4 1082.7L696.8 1078.4L689.1 1074.4L681.5 1070.8L673.9 1067.5L666.2 1064.5L658.6 1061.7L650.9 1059.2L643.3 1056.8L635.7 1054.5L628 1052.4L620.4 1050.3L612.7 1048.3L605.1 1046.3L597.5 1044.3L589.8 1042.2L582.2 1040L574.5 1037.7L566.9 1035.5L559.3 1033.1L551.6 1030.8L544 1028.3L536.3 1025.6L528.7 1022.9L521.1 1019.9L513.4 1016.8L505.8 1013.5L498.1 1009.9L490.5 1006.1L482.9 1002L475.2 997.7L467.6 993L459.9 988.1L452.3 982.8L444.7 977.2M805.7 1164.8L798 1154L790.4 1143.9L782.7 1134.5L775.1 1125.7L767.5 1117.6L759.8 1110L752.2 1103L744.5 1096.6L736.9 1090.7L729.3 1085.2L721.6 1080.3L714 1075.7L706.4 1071.6L698.7 1067.9L691.1 1064.4L683.4 1061.3L675.8 1058.4L668.2 1055.8L660.5 1053.3L652.9 1051L645.2 1048.8L637.6 1046.8L630 1044.8L622.3 1042.8L614.7 1040.8L607 1038.7L599.4 1036.6L591.8 1034.4L584.1 1032.1L576.5 1029.8L568.8 1027.4L561.2 1025L553.6 1022.4L545.9 1019.7L538.3 1016.8L530.6 1013.8L523 1010.5L515.4 1007L507.7 1003.2L500.1 999.2L492.4 994.9L484.8 990.3L477.2 985.3L469.5 980L461.9 974.4L454.2 968.4M815.2 1154L807.6 1143.7L800 1134L792.3 1125L784.7 1116.6L777 1108.8L769.4 1101.6L761.8 1094.9L754.1 1088.8L746.5 1083.1L738.9 1078L731.2 1073.3L723.6 1069L715.9 1065L708.3 1061.5L700.7 1058.2L693 1055.2L685.4 1052.5L677.7 1050L670.1 1047.6L662.5 1045.4L654.8 1043.3L647.2 1041.3L639.5 1039.3L631.9 1037.4L624.3 1035.4L616.6 1033.3L609 1031.2L601.3 1028.9L593.7 1026.6L586.1 1024.3L578.4 1021.9L570.8 1019.3L563.1 1016.7L555.5 1013.9L547.9 1010.9L540.2 1007.7L532.6 1004.3L524.9 1000.6L517.3 996.6L509.7 992.4L502 987.8L494.4 982.9L486.7 977.6L479.1 972L471.5 965.9L463.8 959.5M824.8 1143.3L817.2 1133.4L809.5 1124.2L801.9 1115.6L794.3 1107.5L786.6 1100.1L779 1093.2L771.4 1086.9L763.7 1081.1L756.1 1075.7L748.4 1070.8L740.8 1066.4L733.2 1062.3L725.5 1058.6L717.9 1055.3L710.2 1052.2L702.6 1049.4L695 1046.8L687.3 1044.4L679.7 1042.2L672 1040.1L664.4 1038L656.8 1036.1L649.1 1034.1L641.5 1032.2L633.8 1030.2L626.2 1028.1L618.6 1026L610.9 1023.7L603.3 1021.3L595.6 1018.9L588 1016.4L580.4 1013.9L572.7 1011.1L565.1 1008.2L557.4 1005.1L549.8 1001.7L542.2 998.1L534.5 994.3L526.9 990.1L519.2 985.6L511.6 980.7L504 975.5L496.3 969.9L488.7 963.9L481 957.4L473.4 950.5M834.4 1132.6L826.8 1123.2L819.1 1114.4L811.5 1106.2L803.9 1098.6L796.2 1091.5L788.6 1085L780.9 1079L773.3 1073.5L765.7 1068.4L758 1063.9L750.4 1059.7L742.7 1055.8L735.1 1052.4L727.5 1049.2L719.8 1046.3L712.2 1043.7L704.5 1041.3L696.9 1039L689.3 1036.9L681.6 1034.9L674 1032.9L666.3 1031L658.7 1029.1L651.1 1027.2L643.4 1025.2L635.8 1023.1L628.1 1020.9L620.5 1018.6L612.9 1016.2L605.2 1013.7L597.6 1011.2L589.9 1008.5L582.3 1005.7L574.7 1002.6L567 999.4L559.4 995.9L551.7 992.1L544.1 988L536.5 983.6L528.8 978.8L521.2 973.7L513.5 968.1L505.9 962.2L498.3 955.7L490.6 948.9L483 941.5M844 1121.8L836.4 1112.9L828.7 1104.6L821.1 1096.8L813.4 1089.6L805.8 1083L798.2 1076.8L790.5 1071.2L782.9 1066L775.2 1061.3L767.6 1057L760 1053.1L752.3 1049.5L744.7 1046.3L737 1043.4L729.4 1040.7L721.8 1038.2L714.1 1035.9L706.5 1033.8L698.8 1031.8L691.2 1029.9L683.6 1028L675.9 1026.1L668.3 1024.3L660.6 1022.4L653 1020.4L645.4 1018.3L637.7 1016L630.1 1013.7L622.4 1011.2L614.8 1008.7L607.2 1006.1L599.5 1003.3L591.9 1000.4L584.2 997.2L576.6 993.8L569 990.2L561.3 986.2L553.7 981.9L546 977.2L538.4 972.2L530.8 966.7L523.1 960.8L515.5 954.4L507.8 947.6L500.2 940.2L492.6 932.3M853.6 1111.1L845.9 1102.7L838.3 1094.9L830.7 1087.6L823 1080.8L815.4 1074.5L807.7 1068.8L800.1 1063.5L792.5 1058.7L784.8 1054.3L777.2 1050.3L769.5 1046.7L761.9 1043.4L754.3 1040.4L746.6 1037.7L739 1035.2L731.3 1032.9L723.7 1030.8L716.1 1028.8L708.4 1026.9L700.8 1025.1L693.1 1023.3L685.5 1021.5L677.9 1019.6L670.2 1017.7L662.6 1015.7L654.9 1013.6L647.3 1011.4L639.7 1008.9L632 1006.4L624.4 1003.8L616.7 1001.1L609.1 998.3L601.5 995.2L593.8 991.9L586.2 988.4L578.5 984.5L570.9 980.4L563.3 975.8L555.6 970.9L548 965.5L540.3 959.7L532.7 953.5L525.1 946.7L517.4 939.4L509.8 931.6L502.2 923.1M863.2 1100.4L855.5 1092.5L847.9 1085.1L840.2 1078.3L832.6 1072L825 1066.2L817.3 1060.9L809.7 1056L802 1051.5L794.4 1047.5L786.8 1043.8L779.1 1040.4L771.5 1037.4L763.8 1034.7L756.2 1032.2L748.6 1029.9L740.9 1027.8L733.3 1025.9L725.6 1024L718 1022.2L710.4 1020.5L702.7 1018.8L695.1 1017L687.4 1015.2L679.8 1013.3L672.2 1011.3L664.5 1009.2L656.9 1006.9L649.2 1004.4L641.6 1001.8L634 999.1L626.3 996.3L618.7 993.4L611 990.2L603.4 986.8L595.8 983.1L588.1 979L580.5 974.6L572.8 969.8L565.2 964.6L557.6 959L549.9 952.8L542.3 946.2L534.7 939L527 931.2L519.4 922.8L511.7 913.9M872.7 1089.7L865.1 1082.4L857.5 1075.5L849.8 1069.2L842.2 1063.4L834.5 1058L826.9 1053.1L819.3 1048.6L811.6 1044.5L804 1040.8L796.3 1037.4L788.7 1034.4L781.1 1031.7L773.4 1029.2L765.8 1026.9L758.1 1024.9L750.5 1023L742.9 1021.2L735.2 1019.5L727.6 1017.8L719.9 1016.2L712.3 1014.5L704.7 1012.8L697 1011L689.4 1009.1L681.7 1007.1L674.1 1004.9L666.5 1002.6L658.8 1000L651.2 997.3L643.5 994.6L635.9 991.7L628.3 988.6L620.6 985.3L613 981.8L605.3 977.9L597.7 973.6L590.1 969L582.4 964L574.8 958.5L567.2 952.5L559.5 946L551.9 938.9L544.2 931.2L536.6 923L529 914.1L521.3 904.5M882.3 1079.3L874.7 1072.6L867 1066.3L859.4 1060.4L851.8 1055.1L844.1 1050.2L836.5 1045.7L828.8 1041.6L821.2 1037.9L813.6 1034.5L805.9 1031.5L798.3 1028.8L790.6 1026.3L783 1024.1L775.4 1022.1L767.7 1020.2L760.1 1018.5L752.4 1016.9L744.8 1015.3L737.2 1013.8L729.5 1012.2L721.9 1010.6L714.2 1009L706.6 1007.2L699 1005.3L691.3 1003.3L683.7 1001L676 998.6L668.4 996L660.8 993.2L653.1 990.4L645.5 987.4L637.8 984.2L630.2 980.7L622.6 977L614.9 972.9L607.3 968.5L599.7 963.6L592 958.2L584.4 952.4L576.7 946.1L569.1 939.2L561.5 931.7L553.8 923.5L546.2 914.7L538.5 905.3L530.9 895.1M891.9 1069.3L884.3 1063.1L876.6 1057.4L869 1052.1L861.3 1047.2L853.7 1042.7L846.1 1038.7L838.4 1035L830.8 1031.7L823.1 1028.7L815.5 1026L807.9 1023.6L800.2 1021.4L792.6 1019.4L784.9 1017.7L777.3 1016L769.7 1014.5L762 1013L754.4 1011.6L746.7 1010.1L739.1 1008.7L731.5 1007.1L723.8 1005.5L716.2 1003.8L708.5 1001.9L700.9 999.8L693.3 997.5L685.6 995L678 992.3L670.3 989.4L662.7 986.5L655.1 983.3L647.4 980L639.8 976.4L632.2 972.5L624.5 968.2L616.9 963.5L609.2 958.3L601.6 952.7L594 946.5L586.3 939.8L578.7 932.5L571 924.5L563.4 915.8L555.8 906.5L548.1 896.4L540.5 885.6M901.5 1059.6L893.8 1054L886.2 1048.8L878.6 1044.1L870.9 1039.7L863.3 1035.7L855.6 1032.1L848 1028.8L840.4 1025.9L832.7 1023.3L825.1 1020.9L817.4 1018.8L809.8 1016.9L802.2 1015.2L794.5 1013.7L786.9 1012.2L779.2 1010.9L771.6 1009.6L764 1008.3L756.3 1006.9L748.7 1005.6L741 1004.1L733.4 1002.5L725.8 1000.7L718.1 998.8L710.5 996.7L702.8 994.3L695.2 991.7L687.6 988.9L679.9 985.9L672.3 982.8L664.7 979.6L657 976.1L649.4 972.3L641.7 968.2L634.1 963.7L626.5 958.7L618.8 953.3L611.2 947.3L603.5 940.8L595.9 933.6L588.3 925.8L580.6 917.4L573 908.2L565.3 898.2L557.7 887.5L550.1 876M911.1 1050.3L903.4 1045.3L895.8 1040.7L888.1 1036.4L880.5 1032.6L872.9 1029.1L865.2 1025.9L857.6 1023.1L849.9 1020.5L842.3 1018.3L834.7 1016.3L827 1014.5L819.4 1012.9L811.7 1011.4L804.1 1010.1L796.5 1008.9L788.8 1007.7L781.2 1006.6L773.5 1005.4L765.9 1004.2L758.3 1002.9L750.6 1001.4L743 999.8L735.3 998.1L727.7 996.1L720.1 993.9L712.4 991.5L704.8 988.8L697.1 985.9L689.5 982.8L681.9 979.5L674.2 976.1L666.6 972.5L659 968.5L651.3 964.1L643.7 959.4L636 954.1L628.4 948.4L620.8 942.1L613.1 935.1L605.5 927.6L597.8 919.3L590.2 910.3L582.6 900.6L574.9 890L567.3 878.6L559.6 866.3M920.6 1041.3L913 1036.9L905.4 1032.9L897.7 1029.2L890.1 1025.9L882.4 1022.9L874.8 1020.1L867.2 1017.7L859.5 1015.6L851.9 1013.7L844.2 1012.1L836.6 1010.6L829 1009.3L821.3 1008.1L813.7 1007L806 1006L798.4 1005L790.8 1004L783.1 1003L775.5 1001.8L767.8 1000.6L760.2 999.2L752.6 997.6L744.9 995.8L737.3 993.8L729.6 991.6L722 989.1L714.4 986.3L706.7 983.2L699.1 979.9L691.5 976.5L683.8 973L676.2 969.1L668.5 964.9L660.9 960.3L653.3 955.3L645.6 949.8L638 943.7L630.3 937L622.7 929.6L615.1 921.6L607.4 912.9L599.8 903.3L592.1 892.9L584.5 881.7L576.9 869.6L569.2 856.5M930.2 1032.6L922.6 1028.9L914.9 1025.5L907.3 1022.4L899.7 1019.6L892 1017L884.4 1014.8L876.7 1012.8L869.1 1011.1L861.5 1009.6L853.8 1008.3L846.2 1007.2L838.5 1006.1L830.9 1005.2L823.3 1004.4L815.6 1003.6L808 1002.8L800.3 1001.9L792.7 1001L785.1 999.9L777.4 998.7L769.8 997.4L762.1 995.8L754.5 994L746.9 991.9L739.2 989.6L731.6 987L724 984.1L716.3 980.8L708.7 977.4L701 973.9L693.4 970.1L685.8 966L678.1 961.6L670.5 956.8L662.8 951.5L655.2 945.6L647.6 939.2L639.9 932.1L632.3 924.3L624.6 915.8L617 906.5L609.4 896.4L601.7 885.4L594.1 873.5L586.4 860.6L578.8 846.7M566.5 1432.8L568.5 1430.5L570.9 1427.8L573.3 1425.1L575.7 1422.4L585.3 1411.7L594.9 1400.9L604.5 1390.2L614 1379.5L623.6 1368.7L633.2 1358L642.8 1347.3L652.4 1336.5L661.9 1325.8L671.5 1315.1L681.1 1304.3L690.7 1293.6L700.3 1282.9L709.9 1272.1L719.4 1261.4L729 1250.6L738.6 1239.9L748.2 1229.2L757.8 1218.4L767.3 1207.7L776.9 1197L786.5 1186.2L796.1 1175.5L805.7 1164.8L815.2 1154L824.8 1143.3L834.4 1132.6L844 1121.8L853.6 1111.1L863.2 1100.4L872.7 1089.7L882.3 1079.3L891.9 1069.3L901.5 1059.6L911.1 1050.3L920.6 1041.3L930.2 1032.6M543 1433.6L544.1 1432.3L546.5 1429.6L548.9 1426.9L558.5 1416.3L568.1 1405.7L577.7 1395.1L587.2 1384.5L596.8 1373.9L606.4 1363.3L616 1352.7L625.6 1342.1L635.1 1331.6L644.7 1321L654.3 1310.5L663.9 1299.9L673.5 1289.4L683.1 1278.9L692.6 1268.4L702.2 1257.9L711.8 1247.5L721.4 1237L731 1226.6L740.5 1216.2L750.1 1205.8L759.7 1195.4L769.3 1185L778.9 1174.7L788.4 1164.3L798 1154L807.6 1143.7L817.2 1133.4L826.8 1123.2L836.4 1112.9L845.9 1102.7L855.5 1092.5L865.1 1082.4L874.7 1072.6L884.3 1063.1L893.8 1054L903.4 1045.3L913 1036.9L922.6 1028.9M520.2 1434.1L522.1 1432L531.7 1421.5L541.3 1410.9L550.9 1400.4L560.4 1389.9L570 1379.4L579.6 1368.9L589.2 1358.5L598.8 1348L608.3 1337.6L617.9 1327.2L627.5 1316.8L637.1 1306.4L646.7 1296L656.3 1285.7L665.8 1275.4L675.4 1265.1L685 1254.8L694.6 1244.6L704.2 1234.4L713.7 1224.2L723.3 1214.1L732.9 1204L742.5 1193.9L752.1 1183.8L761.6 1173.8L771.2 1163.8L780.8 1153.8L790.4 1143.9L800 1134L809.5 1124.2L819.1 1114.4L828.7 1104.6L838.3 1094.9L847.9 1085.1L857.5 1075.5L867 1066.3L876.6 1057.4L886.2 1048.8L895.8 1040.7L905.4 1032.9L914.9 1025.5M498.1 1434.5L500.1 1432.4L502.5 1429.8L504.9 1427.1L514.5 1416.7L524.1 1406.3L533.6 1395.8L543.2 1385.4L552.8 1375L562.4 1364.6L572 1354.3L581.5 1343.9L591.1 1333.6L600.7 1323.3L610.3 1313.1L619.9 1302.8L629.4 1292.6L639 1282.4L648.6 1272.3L658.2 1262.2L667.8 1252.1L677.4 1242.1L686.9 1232.1L696.5 1222.1L706.1 1212.2L715.7 1202.3L725.3 1192.5L734.8 1182.7L744.4 1173L754 1163.3L763.6 1153.6L773.2 1144L782.7 1134.5L792.3 1125L801.9 1115.6L811.5 1106.2L821.1 1096.8L830.7 1087.6L840.2 1078.3L849.8 1069.2L859.4 1060.4L869 1052.1L878.6 1044.1L888.1 1036.4L897.7 1029.2L907.3 1022.4M478.1 1433.3L487.7 1423L497.3 1412.6L506.8 1402.3L516.4 1391.9L526 1381.6L535.6 1371.3L545.2 1361L554.7 1350.7L564.3 1340.5L573.9 1330.3L583.5 1320.1L593.1 1309.9L602.6 1299.8L612.2 1289.7L621.8 1279.7L631.4 1269.7L641 1259.7L650.6 1249.8L660.1 1239.9L669.7 1230.1L679.3 1220.4L688.9 1210.6L698.5 1201L708 1191.4L717.6 1181.8L727.2 1172.3L736.8 1162.9L746.4 1153.5L755.9 1144.2L765.5 1134.9L775.1 1125.7L784.7 1116.6L794.3 1107.5L803.9 1098.6L813.4 1089.6L823 1080.8L832.6 1072L842.2 1063.4L851.8 1055.1L861.3 1047.2L870.9 1039.7L880.5 1032.6L890.1 1025.9L899.7 1019.6M470.5 1419.5L480 1409.2L489.6 1398.9L499.2 1388.7L508.8 1378.4L518.4 1368.2L527.9 1358L537.5 1347.8L547.1 1337.6L556.7 1327.5L566.3 1317.4L575.8 1307.4L585.4 1297.3L595 1287.4L604.6 1277.4L614.2 1267.6L623.8 1257.7L633.3 1248L642.9 1238.2L652.5 1228.6L662.1 1218.9L671.7 1209.4L681.2 1199.9L690.8 1190.5L700.4 1181.1L710 1171.8L719.6 1162.6L729.1 1153.4L738.7 1144.3L748.3 1135.3L757.9 1126.4L767.5 1117.6L777 1108.8L786.6 1100.1L796.2 1091.5L805.8 1083L815.4 1074.5L825 1066.2L834.5 1058L844.1 1050.2L853.7 1042.7L863.3 1035.7L872.9 1029.1L882.4 1022.9L892 1017M462.8 1406.4L472.4 1396.2L482 1386L491.6 1375.9L501.1 1365.7L510.7 1355.6L520.3 1345.5L529.9 1335.4L539.5 1325.4L549 1315.3L558.6 1305.4L568.2 1295.5L577.8 1285.6L587.4 1275.7L596.9 1266L606.5 1256.2L616.1 1246.6L625.7 1236.9L635.3 1227.4L644.9 1217.9L654.4 1208.5L664 1199.1L673.6 1189.9L683.2 1180.7L692.8 1171.5L702.3 1162.5L711.9 1153.5L721.5 1144.7L731.1 1135.9L740.7 1127.1L750.2 1118.5L759.8 1110L769.4 1101.6L779 1093.2L788.6 1085L798.2 1076.8L807.7 1068.8L817.3 1060.9L826.9 1053.1L836.5 1045.7L846.1 1038.7L855.6 1032.1L865.2 1025.9L874.8 1020.1L884.4 1014.8M455.2 1394.1L464.8 1384L474.3 1373.9L483.9 1363.9L493.5 1353.8L503.1 1343.8L512.7 1333.8L522.2 1323.8L531.8 1313.9L541.4 1304L551 1294.1L560.6 1284.3L570.1 1274.6L579.7 1264.9L589.3 1255.2L598.9 1245.6L608.5 1236.1L618.1 1226.7L627.6 1217.3L637.2 1208L646.8 1198.8L656.4 1189.6L666 1180.5L675.5 1171.6L685.1 1162.7L694.7 1153.9L704.3 1145.1L713.9 1136.5L723.4 1128L733 1119.6L742.6 1111.2L752.2 1103L761.8 1094.9L771.4 1086.9L780.9 1079L790.5 1071.2L800.1 1063.5L809.7 1056L819.3 1048.6L828.8 1041.6L838.4 1035L848 1028.8L857.6 1023.1L867.2 1017.7L876.7 1012.8M447.5 1382.6L457.1 1372.6L466.7 1362.6L476.3 1352.6L485.9 1342.6L495.4 1332.7L505 1322.8L514.6 1312.9L524.2 1303.1L533.8 1293.3L543.3 1283.6L552.9 1273.9L562.5 1264.3L572.1 1254.7L581.7 1245.2L591.3 1235.8L600.8 1226.4L610.4 1217.1L620 1207.9L629.6 1198.8L639.2 1189.7L648.7 1180.8L658.3 1171.9L667.9 1163.1L677.5 1154.4L687.1 1145.9L696.6 1137.4L706.2 1129L715.8 1120.7L725.4 1112.6L735 1104.5L744.5 1096.6L754.1 1088.8L763.7 1081.1L773.3 1073.5L782.9 1066L792.5 1058.7L802 1051.5L811.6 1044.5L821.2 1037.9L830.8 1031.7L840.4 1025.9L849.9 1020.5L859.5 1015.6L869.1 1011.1M439.9 1371.8L449.5 1361.9L459.1 1352L468.6 1342.1L478.2 1332.2L487.8 1322.4L497.4 1312.6L507 1302.8L516.5 1293.1L526.1 1283.4L535.7 1273.8L545.3 1264.2L554.9 1254.7L564.5 1245.3L574 1235.9L583.6 1226.6L593.2 1217.4L602.8 1208.2L612.4 1199.2L621.9 1190.2L631.5 1181.3L641.1 1172.6L650.7 1163.9L660.3 1155.3L669.8 1146.8L679.4 1138.5L689 1130.2L698.6 1122L708.2 1114L717.7 1106.1L727.3 1098.3L736.9 1090.7L746.5 1083.1L756.1 1075.7L765.7 1068.4L775.2 1061.3L784.8 1054.3L794.4 1047.5L804 1040.8L813.6 1034.5L823.1 1028.7L832.7 1023.3L842.3 1018.3L851.9 1013.7L861.5 1009.6M432.3 1361.6L441.8 1351.8L451.4 1342L461 1332.2L470.6 1322.5L480.2 1312.7L489.7 1303L499.3 1293.3L508.9 1283.7L518.5 1274.2L528.1 1264.6L537.6 1255.2L547.2 1245.8L556.8 1236.5L566.4 1227.2L576 1218.1L585.6 1209L595.1 1200L604.7 1191.1L614.3 1182.3L623.9 1173.6L633.5 1165L643 1156.5L652.6 1148.1L662.2 1139.8L671.8 1131.6L681.4 1123.6L690.9 1115.7L700.5 1107.9L710.1 1100.2L719.7 1092.6L729.3 1085.2L738.9 1078L748.4 1070.8L758 1063.9L767.6 1057L777.2 1050.3L786.8 1043.8L796.3 1037.4L805.9 1031.5L815.5 1026L825.1 1020.9L834.7 1016.3L844.2 1012.1L853.8 1008.3M424.6 1352.2L434.2 1342.5L443.8 1332.8L453.4 1323.1L462.9 1313.4L472.5 1303.7L482.1 1294.1L491.7 1284.5L501.3 1275L510.8 1265.6L520.4 1256.2L530 1246.8L539.6 1237.5L549.2 1228.3L558.8 1219.2L568.3 1210.2L577.9 1201.3L587.5 1192.4L597.1 1183.6L606.7 1175L616.2 1166.4L625.8 1158L635.4 1149.7L645 1141.4L654.6 1133.3L664.1 1125.4L673.7 1117.5L683.3 1109.8L692.9 1102.2L702.5 1094.8L712 1087.4L721.6 1080.3L731.2 1073.3L740.8 1066.4L750.4 1059.7L760 1053.1L769.5 1046.7L779.1 1040.4L788.7 1034.4L798.3 1028.8L807.9 1023.6L817.4 1018.8L827 1014.5L836.6 1010.6L846.2 1007.2M417 1343.4L426.6 1333.7L436.1 1324.1L445.7 1314.5L455.3 1304.9L464.9 1295.4L474.5 1285.9L484 1276.4L493.6 1267L503.2 1257.6L512.8 1248.3L522.4 1239.1L532 1229.9L541.5 1220.8L551.1 1211.8L560.7 1202.9L570.3 1194.1L579.9 1185.4L589.4 1176.8L599 1168.2L608.6 1159.8L618.2 1151.6L627.8 1143.4L637.3 1135.3L646.9 1127.4L656.5 1119.6L666.1 1111.9L675.7 1104.4L685.2 1097L694.8 1089.8L704.4 1082.7L714 1075.7L723.6 1069L733.2 1062.3L742.7 1055.8L752.3 1049.5L761.9 1043.4L771.5 1037.4L781.1 1031.7L790.6 1026.3L800.2 1021.4L809.8 1016.9L819.4 1012.9L829 1009.3L838.5 1006.1M409.3 1335.1L418.9 1325.6L428.5 1316.1L438.1 1306.6L447.7 1297.1L457.2 1287.6L466.8 1278.2L476.4 1268.8L486 1259.5L495.6 1250.2L505.1 1241L514.7 1231.9L524.3 1222.8L533.9 1213.9L543.5 1205L553.1 1196.2L562.6 1187.5L572.2 1178.9L581.8 1170.4L591.4 1162.1L601 1153.8L610.5 1145.6L620.1 1137.6L629.7 1129.7L639.3 1122L648.9 1114.3L658.4 1106.8L668 1099.5L677.6 1092.3L687.2 1085.3L696.8 1078.4L706.4 1071.6L715.9 1065L725.5 1058.6L735.1 1052.4L744.7 1046.3L754.3 1040.4L763.8 1034.7L773.4 1029.2L783 1024.1L792.6 1019.4L802.2 1015.2L811.7 1011.4L821.3 1008.1L830.9 1005.2M401.7 1327.5L411.3 1318L420.9 1308.6L430.4 1299.2L440 1289.8L449.6 1280.4L459.2 1271.1L468.8 1261.8L478.3 1252.6L487.9 1243.4L497.5 1234.3L507.1 1225.3L516.7 1216.3L526.3 1207.5L535.8 1198.7L545.4 1190L555 1181.5L564.6 1173L574.2 1164.6L583.7 1156.4L593.3 1148.2L602.9 1140.2L612.5 1132.3L622.1 1124.6L631.6 1117L641.2 1109.5L650.8 1102.2L660.4 1095L670 1088L679.5 1081.1L689.1 1074.4L698.7 1067.9L708.3 1061.5L717.9 1055.3L727.5 1049.2L737 1043.4L746.6 1037.7L756.2 1032.2L765.8 1026.9L775.4 1022.1L784.9 1017.7L794.5 1013.7L804.1 1010.1L813.7 1007L823.3 1004.4M394.1 1320.4L403.6 1311L413.2 1301.7L422.8 1292.3L432.4 1283L442 1273.7L451.5 1264.5L461.1 1255.3L470.7 1246.2L480.3 1237.1L489.9 1228.1L499.5 1219.2L509 1210.3L518.6 1201.6L528.2 1192.9L537.8 1184.4L547.4 1175.9L556.9 1167.5L566.5 1159.3L576.1 1151.2L585.7 1143.2L595.3 1135.3L604.8 1127.5L614.4 1119.9L624 1112.4L633.6 1105.1L643.2 1097.9L652.7 1090.9L662.3 1084L671.9 1077.3L681.5 1070.8L691.1 1064.4L700.7 1058.2L710.2 1052.2L719.8 1046.3L729.4 1040.7L739 1035.2L748.6 1029.9L758.1 1024.9L767.7 1020.2L777.3 1016L786.9 1012.2L796.5 1008.9L806 1006L815.6 1003.6M386.4 1313.7L396 1304.5L405.6 1295.2L415.2 1286L424.7 1276.8L434.3 1267.6L443.9 1258.4L453.5 1249.3L463.1 1240.3L472.6 1231.3L482.2 1222.4L491.8 1213.6L501.4 1204.8L511 1196.2L520.6 1187.6L530.1 1179.2L539.7 1170.8L549.3 1162.5L558.9 1154.4L568.5 1146.4L578 1138.5L587.6 1130.7L597.2 1123.1L606.8 1115.6L616.4 1108.3L625.9 1101.1L635.5 1094.1L645.1 1087.2L654.7 1080.4L664.3 1073.9L673.9 1067.5L683.4 1061.3L693 1055.2L702.6 1049.4L712.2 1043.7L721.8 1038.2L731.3 1032.9L740.9 1027.8L750.5 1023L760.1 1018.5L769.7 1014.5L779.2 1010.9L788.8 1007.7L798.4 1005L808 1002.8M378.8 1307.6L388.4 1298.4L397.9 1289.3L407.5 1280.1L417.1 1271L426.7 1261.9L436.3 1252.8L445.8 1243.8L455.4 1234.9L465 1226L474.6 1217.2L484.2 1208.4L493.8 1199.8L503.3 1191.2L512.9 1182.8L522.5 1174.4L532.1 1166.1L541.7 1158L551.2 1150L560.8 1142L570.4 1134.3L580 1126.6L589.6 1119.1L599.1 1111.7L608.7 1104.5L618.3 1097.4L627.9 1090.5L637.5 1083.8L647 1077.2L656.6 1070.7L666.2 1064.5L675.8 1058.4L685.4 1052.5L695 1046.8L704.5 1041.3L714.1 1035.9L723.7 1030.8L733.3 1025.9L742.9 1021.2L752.4 1016.9L762 1013L771.6 1009.6L781.2 1006.6L790.8 1004L800.3 1001.9M371.1 1301.9L380.7 1292.8L390.3 1283.7L399.9 1274.7L409.5 1265.6L419 1256.6L428.6 1247.6L438.2 1238.7L447.8 1229.9L457.4 1221.1L467 1212.4L476.5 1203.7L486.1 1195.1L495.7 1186.7L505.3 1178.3L514.9 1170L524.4 1161.9L534 1153.8L543.6 1145.9L553.2 1138.1L562.8 1130.4L572.3 1122.8L581.9 1115.4L591.5 1108.2L601.1 1101.1L610.7 1094.1L620.2 1087.3L629.8 1080.6L639.4 1074.2L649 1067.9L658.6 1061.7L668.2 1055.8L677.7 1050L687.3 1044.4L696.9 1039L706.5 1033.8L716.1 1028.8L725.6 1024L735.2 1019.5L744.8 1015.3L754.4 1011.6L764 1008.3L773.5 1005.4L783.1 1003L792.7 1001M363.5 1296.5L373.1 1287.6L382.7 1278.6L392.2 1269.6L401.8 1260.7L411.4 1251.7L421 1242.9L430.6 1234L440.1 1225.3L449.7 1216.6L459.3 1207.9L468.9 1199.4L478.5 1190.9L488.1 1182.5L497.6 1174.2L507.2 1166L516.8 1158L526.4 1150L536 1142.2L545.5 1134.4L555.1 1126.8L564.7 1119.4L574.3 1112.1L583.9 1104.9L593.4 1097.9L603 1091L612.6 1084.3L622.2 1077.8L631.8 1071.4L641.4 1065.2L650.9 1059.2L660.5 1053.3L670.1 1047.6L679.7 1042.2L689.3 1036.9L698.8 1031.8L708.4 1026.9L718 1022.2L727.6 1017.8L737.2 1013.8L746.7 1010.1L756.3 1006.9L765.9 1004.2L775.5 1001.8L785.1 999.9M355.9 1291.6L365.4 1282.7L375 1273.8L384.6 1264.9L394.2 1256.1L403.8 1247.2L413.3 1238.4L422.9 1229.7L432.5 1221L442.1 1212.4L451.7 1203.8L461.3 1195.4L470.8 1187L480.4 1178.7L490 1170.5L499.6 1162.4L509.2 1154.4L518.7 1146.5L528.3 1138.7L537.9 1131.1L547.5 1123.6L557.1 1116.2L566.6 1109L576.2 1101.9L585.8 1095L595.4 1088.2L605 1081.6L614.6 1075.1L624.1 1068.8L633.7 1062.7L643.3 1056.8L652.9 1051L662.5 1045.4L672 1040.1L681.6 1034.9L691.2 1029.9L700.8 1025.1L710.4 1020.5L719.9 1016.2L729.5 1012.2L739.1 1008.7L748.7 1005.6L758.3 1002.9L767.8 1000.6L777.4 998.7M348.2 1287L357.8 1278.2L367.4 1269.4L377 1260.6L386.5 1251.8L396.1 1243.1L405.7 1234.4L415.3 1225.7L424.9 1217.1L434.5 1208.6L444 1200.1L453.6 1191.7L463.2 1183.4L472.8 1175.2L482.4 1167L491.9 1159L501.5 1151.1L511.1 1143.3L520.7 1135.6L530.3 1128.1L539.8 1120.6L549.4 1113.3L559 1106.2L568.6 1099.2L578.2 1092.3L587.7 1085.6L597.3 1079L606.9 1072.7L616.5 1066.4L626.1 1060.4L635.7 1054.5L645.2 1048.8L654.8 1043.3L664.4 1038L674 1032.9L683.6 1028L693.1 1023.3L702.7 1018.8L712.3 1014.5L721.9 1010.6L731.5 1007.1L741 1004.1L750.6 1001.4L760.2 999.2L769.8 997.4M340.6 1282.6L350.2 1273.9L359.7 1265.2L369.3 1256.5L378.9 1247.8L388.5 1239.2L398.1 1230.5L407.6 1222L417.2 1213.4L426.8 1205L436.4 1196.6L446 1188.3L455.6 1180.1L465.1 1171.9L474.7 1163.9L484.3 1155.9L493.9 1148.1L503.5 1140.3L513 1132.7L522.6 1125.2L532.2 1117.9L541.8 1110.6L551.4 1103.6L560.9 1096.6L570.5 1089.8L580.1 1083.2L589.7 1076.7L599.3 1070.4L608.9 1064.2L618.4 1058.2L628 1052.4L637.6 1046.8L647.2 1041.3L656.8 1036.1L666.3 1031L675.9 1026.1L685.5 1021.5L695.1 1017L704.7 1012.8L714.2 1009L723.8 1005.5L733.4 1002.5L743 999.8L752.6 997.6L762.1 995.8M332.9 1278.5L342.5 1269.9L352.1 1261.3L361.7 1252.7L371.3 1244.1L380.8 1235.5L390.4 1227L400 1218.5L409.6 1210.1L419.2 1201.7L428.8 1193.4L438.3 1185.1L447.9 1177L457.5 1168.9L467.1 1160.9L476.7 1153L486.2 1145.3L495.8 1137.6L505.4 1130L515 1122.6L524.6 1115.3L534.1 1108.1L543.7 1101.1L553.3 1094.2L562.9 1087.5L572.5 1080.9L582.1 1074.4L591.6 1068.2L601.2 1062L610.8 1056.1L620.4 1050.3L630 1044.8L639.5 1039.3L649.1 1034.1L658.7 1029.1L668.3 1024.3L677.9 1019.6L687.4 1015.2L697 1011L706.6 1007.2L716.2 1003.8L725.8 1000.7L735.3 998.1L744.9 995.8L754.5 994M325.3 1274.6L334.9 1266.1L344.5 1257.6L354 1249.1L363.6 1240.6L373.2 1232.1L382.8 1223.6L392.4 1215.2L402 1206.9L411.5 1198.6L421.1 1190.3L430.7 1182.2L440.3 1174.1L449.9 1166.1L459.4 1158.1L469 1150.3L478.6 1142.6L488.2 1135L497.8 1127.5L507.3 1120.1L516.9 1112.9L526.5 1105.8L536.1 1098.8L545.7 1091.9L555.2 1085.2L564.8 1078.7L574.4 1072.3L584 1066L593.6 1060L603.2 1054.1L612.7 1048.3L622.3 1042.8L631.9 1037.4L641.5 1032.2L651.1 1027.2L660.6 1022.4L670.2 1017.7L679.8 1013.3L689.4 1009.1L699 1005.3L708.5 1001.9L718.1 998.8L727.7 996.1L737.3 993.8L746.9 991.9M317.7 1270.9L327.2 1262.5L336.8 1254.1L346.4 1245.6L356 1237.2L365.6 1228.8L375.1 1220.5L384.7 1212.1L394.3 1203.8L403.9 1195.6L413.5 1187.4L423.1 1179.3L432.6 1171.3L442.2 1163.4L451.8 1155.5L461.4 1147.8L471 1140.1L480.5 1132.6L490.1 1125.1L499.7 1117.8L509.3 1110.6L518.9 1103.5L528.4 1096.6L538 1089.8L547.6 1083.1L557.2 1076.6L566.8 1070.2L576.4 1064L585.9 1057.9L595.5 1052L605.1 1046.3L614.7 1040.8L624.3 1035.4L633.8 1030.2L643.4 1025.2L653 1020.4L662.6 1015.7L672.2 1011.3L681.7 1007.1L691.3 1003.3L700.9 999.8L710.5 996.7L720.1 993.9L729.6 991.6L739.2 989.6M310 1267.4L319.6 1259L329.2 1250.7L338.8 1242.3L348.3 1234L357.9 1225.7L367.5 1217.4L377.1 1209.1L386.7 1200.9L396.3 1192.8L405.8 1184.7L415.4 1176.6L425 1168.7L434.6 1160.8L444.2 1153L453.7 1145.3L463.3 1137.7L472.9 1130.2L482.5 1122.8L492.1 1115.5L501.6 1108.4L511.2 1101.3L520.8 1094.4L530.4 1087.6L540 1081L549.6 1074.5L559.1 1068.1L568.7 1061.9L578.3 1055.9L587.9 1050L597.5 1044.3L607 1038.7L616.6 1033.3L626.2 1028.1L635.8 1023.1L645.4 1018.3L654.9 1013.6L664.5 1009.2L674.1 1004.9L683.7 1001L693.3 997.5L702.8 994.3L712.4 991.5L722 989.1L731.6 987M302.4 1263.8L312 1255.6L321.5 1247.4L331.1 1239.1L340.7 1230.8L350.3 1222.6L359.9 1214.4L369.5 1206.2L379 1198.1L388.6 1190L398.2 1182L407.8 1174L417.4 1166.1L426.9 1158.3L436.5 1150.6L446.1 1142.9L455.7 1135.4L465.3 1127.9L474.8 1120.5L484.4 1113.3L494 1106.2L503.6 1099.1L513.2 1092.3L522.7 1085.5L532.3 1078.9L541.9 1072.4L551.5 1066L561.1 1059.8L570.7 1053.8L580.2 1047.9L589.8 1042.2L599.4 1036.6L609 1031.2L618.6 1026L628.1 1020.9L637.7 1016L647.3 1011.4L656.9 1006.9L666.5 1002.6L676 998.6L685.6 995L695.2 991.7L704.8 988.8L714.4 986.3L724 984.1M294.7 1260.4L304.3 1252.2L313.9 1244.1L323.5 1235.9L333.1 1227.7L342.7 1219.6L352.2 1211.4L361.8 1203.3L371.4 1195.3L381 1187.3L390.6 1179.3L400.1 1171.4L409.7 1163.6L419.3 1155.8L428.9 1148.1L438.5 1140.5L448 1133L457.6 1125.6L467.2 1118.3L476.8 1111.1L486.4 1103.9L495.9 1097L505.5 1090.1L515.1 1083.3L524.7 1076.7L534.3 1070.2L543.9 1063.9L553.4 1057.7L563 1051.6L572.6 1045.7L582.2 1040L591.8 1034.4L601.3 1028.9L610.9 1023.7L620.5 1018.6L630.1 1013.7L639.7 1008.9L649.2 1004.4L658.8 1000L668.4 996L678 992.3L687.6 988.9L697.1 985.9L706.7 983.2L716.3 980.8M287.1 1256.9L296.7 1248.9L306.3 1240.8L315.8 1232.7L325.4 1224.7L335 1216.6L344.6 1208.5L354.2 1200.5L363.8 1192.5L373.3 1184.6L382.9 1176.7L392.5 1168.8L402.1 1161.1L411.7 1153.4L421.2 1145.7L430.8 1138.2L440.4 1130.7L450 1123.3L459.6 1116L469.1 1108.8L478.7 1101.7L488.3 1094.8L497.9 1087.9L507.5 1081.2L517.1 1074.6L526.6 1068.1L536.2 1061.7L545.8 1055.5L555.4 1049.4L565 1043.5L574.5 1037.7L584.1 1032.1L593.7 1026.6L603.3 1021.3L612.9 1016.2L622.4 1011.2L632 1006.4L641.6 1001.8L651.2 997.3L660.8 993.2L670.3 989.4L679.9 985.9L689.5 982.8L699.1 979.9L708.7 977.4M279.5 1253.6L289 1245.6L298.6 1237.6L308.2 1229.6L317.8 1221.6L327.4 1213.6L337 1205.7L346.5 1197.7L356.1 1189.8L365.7 1181.9L375.3 1174.1L384.9 1166.3L394.4 1158.6L404 1150.9L413.6 1143.3L423.2 1135.8L432.8 1128.4L442.3 1121.1L451.9 1113.8L461.5 1106.6L471.1 1099.6L480.7 1092.6L490.2 1085.8L499.8 1079L509.4 1072.4L519 1065.9L528.6 1059.6L538.2 1053.3L547.7 1047.2L557.3 1041.3L566.9 1035.5L576.5 1029.8L586.1 1024.3L595.6 1018.9L605.2 1013.7L614.8 1008.7L624.4 1003.8L634 999.1L643.5 994.6L653.1 990.4L662.7 986.5L672.3 982.8L681.9 979.5L691.5 976.5L701 973.9M271.8 1250.2L281.4 1242.4L291 1234.5L300.6 1226.6L310.2 1218.6L319.7 1210.7L329.3 1202.8L338.9 1195L348.5 1187.1L358.1 1179.3L367.6 1171.5L377.2 1163.8L386.8 1156.2L396.4 1148.5L406 1141L415.5 1133.5L425.1 1126.1L434.7 1118.8L444.3 1111.6L453.9 1104.5L463.4 1097.4L473 1090.5L482.6 1083.6L492.2 1076.9L501.8 1070.3L511.4 1063.8L520.9 1057.4L530.5 1051.1L540.1 1045L549.7 1039L559.3 1033.1L568.8 1027.4L578.4 1021.9L588 1016.4L597.6 1011.2L607.2 1006.1L616.7 1001.1L626.3 996.3L635.9 991.7L645.5 987.4L655.1 983.3L664.7 979.6L674.2 976.1L683.8 973L693.4 970.1M264.2 1246.9L273.8 1239.2L283.3 1231.4L292.9 1223.5L302.5 1215.7L312.1 1207.9L321.7 1200.1L331.3 1192.3L340.8 1184.5L350.4 1176.7L360 1169L369.6 1161.4L379.2 1153.8L388.7 1146.2L398.3 1138.7L407.9 1131.3L417.5 1123.9L427.1 1116.6L436.6 1109.4L446.2 1102.3L455.8 1095.2L465.4 1088.3L475 1081.5L484.6 1074.7L494.1 1068.1L503.7 1061.6L513.3 1055.2L522.9 1048.9L532.5 1042.7L542 1036.7L551.6 1030.8L561.2 1025L570.8 1019.3L580.4 1013.9L589.9 1008.5L599.5 1003.3L609.1 998.3L618.7 993.4L628.3 988.6L637.8 984.2L647.4 980L657 976.1L666.6 972.5L676.2 969.1L685.8 966M256.5 1243.7L266.1 1236L275.7 1228.3L285.3 1220.6L294.9 1212.8L304.5 1205.1L314 1197.3L323.6 1189.6L333.2 1181.9L342.8 1174.2L352.4 1166.6L361.9 1158.9L371.5 1151.4L381.1 1143.9L390.7 1136.4L400.3 1129L409.8 1121.7L419.4 1114.4L429 1107.2L438.6 1100.1L448.2 1093.1L457.7 1086.1L467.3 1079.3L476.9 1072.5L486.5 1065.9L496.1 1059.3L505.7 1052.9L515.2 1046.5L524.8 1040.3L534.4 1034.2L544 1028.3L553.6 1022.4L563.1 1016.7L572.7 1011.1L582.3 1005.7L591.9 1000.4L601.5 995.2L611 990.2L620.6 985.3L630.2 980.7L639.8 976.4L649.4 972.3L659 968.5L668.5 964.9L678.1 961.6M248.9 1240.5L258.5 1232.9L268.1 1225.3L277.7 1217.6L287.2 1210L296.8 1202.3L306.4 1194.6L316 1187L325.6 1179.3L335.1 1171.7L344.7 1164.1L354.3 1156.6L363.9 1149L373.5 1141.6L383 1134.1L392.6 1126.8L402.2 1119.5L411.8 1112.2L421.4 1105L430.9 1097.9L440.5 1090.9L450.1 1083.9L459.7 1077.1L469.3 1070.3L478.9 1063.6L488.4 1057L498 1050.5L507.6 1044.1L517.2 1037.9L526.8 1031.7L536.3 1025.6L545.9 1019.7L555.5 1013.9L565.1 1008.2L574.7 1002.6L584.2 997.2L593.8 991.9L603.4 986.8L613 981.8L622.6 977L632.2 972.5L641.7 968.2L651.3 964.1L660.9 960.3L670.5 956.8M241.3 1237.3L250.8 1229.8L260.4 1222.3L270 1214.7L279.6 1207.2L289.2 1199.6L298.8 1192L308.3 1184.4L317.9 1176.8L327.5 1169.3L337.1 1161.7L346.7 1154.2L356.2 1146.7L365.8 1139.3L375.4 1131.9L385 1124.6L394.6 1117.3L404.1 1110L413.7 1102.8L423.3 1095.7L432.9 1088.7L442.5 1081.7L452.1 1074.8L461.6 1068L471.2 1061.3L480.8 1054.6L490.4 1048.1L500 1041.6L509.5 1035.3L519.1 1029L528.7 1022.9L538.3 1016.8L547.9 1010.9L557.4 1005.1L567 999.4L576.6 993.8L586.2 988.4L595.8 983.1L605.3 977.9L614.9 972.9L624.5 968.2L634.1 963.7L643.7 959.4L653.3 955.3L662.8 951.5M233.6 1234.2L243.2 1226.8L252.8 1219.4L262.4 1211.9L272 1204.4L281.5 1196.9L291.1 1189.4L300.7 1181.8L310.3 1174.3L319.9 1166.8L329.4 1159.3L339 1151.9L348.6 1144.4L358.2 1137L367.8 1129.7L377.3 1122.3L386.9 1115.1L396.5 1107.8L406.1 1100.6L415.7 1093.5L425.2 1086.5L434.8 1079.5L444.4 1072.5L454 1065.7L463.6 1058.9L473.2 1052.2L482.7 1045.5L492.3 1039L501.9 1032.5L511.5 1026.2L521.1 1019.9L530.6 1013.8L540.2 1007.7L549.8 1001.7L559.4 995.9L569 990.2L578.5 984.5L588.1 979L597.7 973.6L607.3 968.5L616.9 963.5L626.5 958.7L636 954.1L645.6 949.8L655.2 945.6M226 1231.2L235.6 1223.8L245.2 1216.5L254.7 1209.1L264.3 1201.7L273.9 1194.2L283.5 1186.8L293.1 1179.3L302.6 1171.9L312.2 1164.4L321.8 1157L331.4 1149.6L341 1142.2L350.5 1134.8L360.1 1127.5L369.7 1120.1L379.3 1112.9L388.9 1105.6L398.4 1098.4L408 1091.3L417.6 1084.2L427.2 1077.1L436.8 1070.2L446.4 1063.2L455.9 1056.4L465.5 1049.6L475.1 1042.9L484.7 1036.2L494.3 1029.7L503.8 1023.2L513.4 1016.8L523 1010.5L532.6 1004.3L542.2 998.1L551.7 992.1L561.3 986.2L570.9 980.4L580.5 974.6L590.1 969L599.7 963.6L609.2 958.3L618.8 953.3L628.4 948.4L638 943.7L647.6 939.2M218.3 1228.1L227.9 1220.9L237.5 1213.6L247.1 1206.3L256.7 1199L266.3 1191.6L275.8 1184.3L285.4 1176.9L295 1169.5L304.6 1162.1L314.2 1154.7L323.7 1147.3L333.3 1139.9L342.9 1132.6L352.5 1125.3L362.1 1117.9L371.6 1110.7L381.2 1103.4L390.8 1096.2L400.4 1089L410 1081.9L419.6 1074.8L429.1 1067.7L438.7 1060.7L448.3 1053.8L457.9 1046.9L467.5 1040.1L477 1033.3L486.6 1026.6L496.2 1020L505.8 1013.5L515.4 1007L524.9 1000.6L534.5 994.3L544.1 988L553.7 981.9L563.3 975.8L572.8 969.8L582.4 964L592 958.2L601.6 952.7L611.2 947.3L620.8 942.1L630.3 937L639.9 932.1M210.7 1225.2L220.3 1218L229.9 1210.9L239.5 1203.6L249 1196.4L258.6 1189.1L268.2 1181.8L277.8 1174.5L287.4 1167.1L296.9 1159.8L306.5 1152.4L316.1 1145.1L325.7 1137.7L335.3 1130.4L344.8 1123.1L354.4 1115.7L364 1108.4L373.6 1101.2L383.2 1093.9L392.8 1086.7L402.3 1079.5L411.9 1072.3L421.5 1065.2L431.1 1058.1L440.7 1051.1L450.2 1044.1L459.8 1037.2L469.4 1030.3L479 1023.4L488.6 1016.6L498.1 1009.9L507.7 1003.2L517.3 996.6L526.9 990.1L536.5 983.6L546 977.2L555.6 970.9L565.2 964.6L574.8 958.5L584.4 952.4L594 946.5L603.5 940.8L613.1 935.1L622.7 929.6L632.3 924.3M203.1 1222.2L212.7 1215.2L222.2 1208.1L231.8 1201L241.4 1193.8L251 1186.6L260.6 1179.3L270.1 1172.1L279.7 1164.8L289.3 1157.5L298.9 1150.2L308.5 1142.9L318 1135.5L327.6 1128.2L337.2 1120.9L346.8 1113.5L356.4 1106.2L365.9 1098.9L375.5 1091.6L385.1 1084.3L394.7 1077.1L404.3 1069.9L413.9 1062.6L423.4 1055.5L433 1048.3L442.6 1041.2L452.2 1034.1L461.8 1027L471.3 1020L480.9 1013L490.5 1006.1L500.1 999.2L509.7 992.4L519.2 985.6L528.8 978.8L538.4 972.2L548 965.5L557.6 959L567.2 952.5L576.7 946.1L586.3 939.8L595.9 933.6L605.5 927.6L615.1 921.6L624.6 915.8M195.4 1219.4L205 1212.4L214.6 1205.4L224.2 1198.3L233.8 1191.2L243.3 1184.1L252.9 1176.9L262.5 1169.7L272.1 1162.5L281.7 1155.2L291.2 1148L300.8 1140.7L310.4 1133.3L320 1126L329.6 1118.7L339.1 1111.3L348.7 1104L358.3 1096.6L367.9 1089.3L377.5 1081.9L387.1 1074.6L396.6 1067.3L406.2 1060L415.8 1052.6L425.4 1045.4L435 1038.1L444.5 1030.8L454.1 1023.6L463.7 1016.4L473.3 1009.2L482.9 1002L492.4 994.9L502 987.8L511.6 980.7L521.2 973.7L530.8 966.7L540.3 959.7L549.9 952.8L559.5 946L569.1 939.2L578.7 932.5L588.3 925.8L597.8 919.3L607.4 912.9L617 906.5M187.8 1216.5L197.4 1209.7L207 1202.7L216.5 1195.8L226.1 1188.8L235.7 1181.7L245.3 1174.6L254.9 1167.4L264.4 1160.2L274 1153L283.6 1145.8L293.2 1138.5L302.8 1131.2L312.3 1123.8L321.9 1116.5L331.5 1109.1L341.1 1101.7L350.7 1094.3L360.3 1086.9L369.8 1079.5L379.4 1072.1L389 1064.6L398.6 1057.2L408.2 1049.7L417.7 1042.3L427.3 1034.8L436.9 1027.4L446.5 1020L456.1 1012.5L465.6 1005.1L475.2 997.7L484.8 990.3L494.4 982.9L504 975.5L513.5 968.1L523.1 960.8L532.7 953.5L542.3 946.2L551.9 938.9L561.5 931.7L571 924.5L580.6 917.4L590.2 910.3L599.8 903.3L609.4 896.4M180.2 1213.7L189.7 1207L199.3 1200.1L208.9 1193.2L218.5 1186.3L228.1 1179.3L237.6 1172.3L247.2 1165.2L256.8 1158L266.4 1150.8L276 1143.6L285.5 1136.3L295.1 1129L304.7 1121.7L314.3 1114.3L323.9 1106.9L333.4 1099.5L343 1092L352.6 1084.5L362.2 1077L371.8 1069.4L381.4 1061.9L390.9 1054.3L400.5 1046.7L410.1 1039.1L419.7 1031.4L429.3 1023.8L438.8 1016.1L448.4 1008.4L458 1000.7L467.6 993L477.2 985.3L486.7 977.6L496.3 969.9L505.9 962.2L515.5 954.4L525.1 946.7L534.7 939L544.2 931.2L553.8 923.5L563.4 915.8L573 908.2L582.6 900.6L592.1 892.9L601.7 885.4M172.5 1211L182.1 1204.3L191.7 1197.6L201.3 1190.8L210.8 1183.9L220.4 1177L230 1170L239.6 1162.9L249.2 1155.8L258.7 1148.7L268.3 1141.5L277.9 1134.2L287.5 1126.9L297.1 1119.5L306.6 1112.1L316.2 1104.7L325.8 1097.2L335.4 1089.6L345 1082L354.6 1074.4L364.1 1066.7L373.7 1059L383.3 1051.3L392.9 1043.5L402.5 1035.7L412 1027.8L421.6 1020L431.2 1012L440.8 1004.1L450.4 996.1L459.9 988.1L469.5 980L479.1 972L488.7 963.9L498.3 955.7L507.8 947.6L517.4 939.4L527 931.2L536.6 923L546.2 914.7L555.8 906.5L565.3 898.2L574.9 890L584.5 881.7L594.1 873.5M164.9 1208.3L174.5 1201.7L184 1195L193.6 1188.3L203.2 1181.5L212.8 1174.7L222.4 1167.7L231.9 1160.7L241.5 1153.7L251.1 1146.5L260.7 1139.3L270.3 1132.1L279.8 1124.8L289.4 1117.4L299 1109.9L308.6 1102.4L318.2 1094.8L327.8 1087.2L337.3 1079.5L346.9 1071.8L356.5 1064L366.1 1056.1L375.7 1048.2L385.2 1040.2L394.8 1032.2L404.4 1024.1L414 1015.9L423.6 1007.7L433.1 999.5L442.7 991.2L452.3 982.8L461.9 974.4L471.5 965.9L481 957.4L490.6 948.9L500.2 940.2L509.8 931.6L519.4 922.8L529 914.1L538.5 905.3L548.1 896.4L557.7 887.5L567.3 878.6L576.9 869.6L586.4 860.6M157.2 1205.6L166.8 1199.1L176.4 1192.6L186 1185.9L195.6 1179.2L205.1 1172.4L214.7 1165.5L224.3 1158.6L233.9 1151.5L243.5 1144.4L253 1137.2L262.6 1130L272.2 1122.6L281.8 1115.2L291.4 1107.7L300.9 1100.1L310.5 1092.5L320.1 1084.8L329.7 1076.9L339.3 1069.1L348.9 1061.1L358.4 1053.1L368 1044.9L377.6 1036.7L387.2 1028.5L396.8 1020.1L406.3 1011.7L415.9 1003.2L425.5 994.6L435.1 985.9L444.7 977.2L454.2 968.4L463.8 959.5L473.4 950.5L483 941.5L492.6 932.3L502.2 923.1L511.7 913.9L521.3 904.5L530.9 895.1L540.5 885.6L550.1 876L559.6 866.3L569.2 856.5L578.8 846.7"/>
<g stroke="#555" stroke-width="1.7" stroke-linecap="butt" stroke-linejoin="miter">
<polyline fill="none" points="107.6,956.7 107.6,1304.8 468.4,1465.2 939.6,1341.3 939.6,993.2"/>
<line x1="468.4" y1="1465.2" x2="478.5" y2="1469.7" />
<line x1="625.5" y1="1423.9" x2="635.5" y2="1428.4" />
<line x1="782.5" y1="1382.6" x2="792.6" y2="1387.1" />
<line x1="939.6" y1="1341.3" x2="949.7" y2="1345.8" />
<line x1="468.4" y1="1465.2" x2="457.8" y2="1468" />
<line x1="396.2" y1="1433.1" x2="385.6" y2="1435.9" />
<line x1="324.1" y1="1401" x2="313.4" y2="1403.8" />
<line x1="251.9" y1="1369" x2="241.3" y2="1371.8" />
<line x1="179.8" y1="1336.9" x2="169.1" y2="1339.7" />
<line x1="107.6" y1="1304.8" x2="97" y2="1307.6" />
<line x1="107.6" y1="1304.8" x2="99.4" y2="1301.1" />
<line x1="107.6" y1="1217.8" x2="99.4" y2="1214.1" />
<line x1="107.6" y1="1130.8" x2="99.4" y2="1127.1" />
<line x1="107.6" y1="1043.7" x2="99.4" y2="1040.1" />
<line x1="107.6" y1="956.7" x2="99.4" y2="953" />
</g>
</g>
<g font-family="'Liberation Serif', 'Times New Roman', serif" font-weight="bold" fill="#111" text-anchor="middle">
<text x="67.4" y="486.9" font-size="41" >0</text>
<text x="67.4" y="417" font-size="41" >1</text>
<text x="67.4" y="347.1" font-size="41" >2</text>
<text x="67.4" y="277.2" font-size="41" >3</text>
<text x="67.4" y="207.3" font-size="41" >4</text>
<text x="67.4" y="137.5" font-size="41" >5</text>
<text x="50.8" y="528.3" font-size="41" >1.5</text>
<text x="125.4" y="559.6" font-size="41" >1.4</text>
<text x="196.1" y="591.5" font-size="41" >1.3</text>
<text x="270" y="620.4" font-size="41" >1.2</text>
<text x="343" y="651.9" font-size="41" >1.1</text>
<text x="433" y="686.3" font-size="41" >1</text>
<text x="502" y="689.9" font-size="41" >1</text>
<text x="661" y="650.9" font-size="41" >2</text>
<text x="819.5" y="610.1" font-size="41" >3</text>
<text x="978.2" y="567.1" font-size="41" >4</text>
<text x="214.3" y="702.7" font-size="41" ><tspan font-style="italic">Ev</tspan>/V</text>
<text x="712.7" y="711" font-size="41" ><tspan font-style="italic">Et</tspan>/V</text>
<text transform="translate(37.5,307.8) rotate(-90)" font-size="42"><tspan font-style="italic">u</tspan>/(m/s)</text>
<text x="76.3" y="1309.4" font-size="36" >0</text>
<text x="68.3" y="1222.3" font-size="36" >15</text>
<text x="68.3" y="1135.3" font-size="36" >30</text>
<text x="68.3" y="1048.3" font-size="36" >45</text>
<text x="68.3" y="961.2" font-size="36" >60</text>
<text x="63.1" y="1346.9" font-size="36" >1.5</text>
<text x="133.8" y="1378.1" font-size="36" >1.4</text>
<text x="206.7" y="1408.6" font-size="36" >1.3</text>
<text x="277.9" y="1442.3" font-size="36" >1.2</text>
<text x="350.2" y="1474.4" font-size="36" >1.1</text>
<text x="435.3" y="1506.5" font-size="36" >1</text>
<text x="500.2" y="1510.5" font-size="36" >1</text>
<text x="655.4" y="1469.2" font-size="36" >2</text>
<text x="813.3" y="1428" font-size="36" >3</text>
<text x="970.7" y="1386.6" font-size="36" >4</text>
<text x="227.1" y="1516.6" font-size="36.5" ><tspan font-style="italic">Ev</tspan>(V)</text>
<text x="704.7" y="1525.8" font-size="36.5" ><tspan font-style="italic">Et</tspan>(V)</text>
<text transform="translate(32,1129.9) rotate(-90)" font-size="35"><tspan font-style="italic">T</tspan>(°C)</text>
</g>
<g font-family="'Liberation Serif', 'Times New Roman', serif" fill="#111" text-anchor="middle">
<text x="498.5" y="772" font-size="49.5" >(a)</text>
<text x="498.5" y="1601" font-size="50" >(b)</text>
</g>
</svg>
</body>
</html>
